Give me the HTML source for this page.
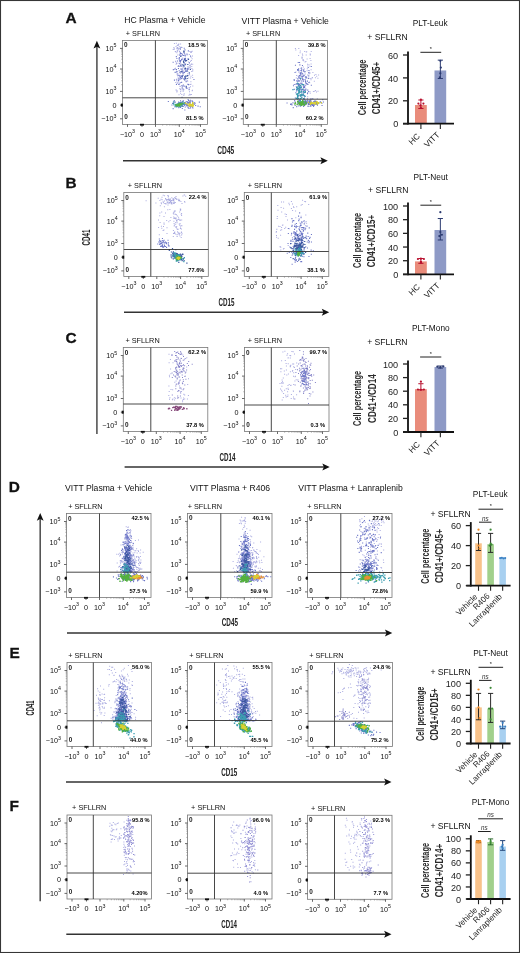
<!DOCTYPE html>
<html><head><meta charset="utf-8"><style>
html,body{margin:0;padding:0;background:#fff;}
svg{display:block;font-family:"Liberation Sans", sans-serif;filter:blur(0.3px);}
</style></head><body>
<svg width="520" height="953" viewBox="0 0 520 953">
<defs><filter id="bl" x="-10%" y="-10%" width="120%" height="120%"><feGaussianBlur stdDeviation="0.35"/></filter></defs>
<rect x="0" y="0" width="520" height="953" fill="#fff"/>
<text x="65.60" y="22.80" font-size="15.4" text-anchor="start" font-weight="bold" fill="#111" stroke="#111" stroke-width="0.3">A</text>
<text x="65.50" y="187.80" font-size="15.4" text-anchor="start" font-weight="bold" fill="#111" stroke="#111" stroke-width="0.3">B</text>
<text x="65.60" y="342.90" font-size="15.4" text-anchor="start" font-weight="bold" fill="#111" stroke="#111" stroke-width="0.3">C</text>
<text x="8.80" y="491.80" font-size="15.4" text-anchor="start" font-weight="bold" fill="#111" stroke="#111" stroke-width="0.3">D</text>
<text x="9.60" y="657.90" font-size="15.4" text-anchor="start" font-weight="bold" fill="#111" stroke="#111" stroke-width="0.3">E</text>
<text x="9.60" y="810.70" font-size="15.4" text-anchor="start" font-weight="bold" fill="#111" stroke="#111" stroke-width="0.3">F</text>
<text x="164.90" y="23.30" font-size="8.65" text-anchor="middle" font-weight="normal" fill="#111" >HC Plasma + Vehicle</text>
<text x="285.20" y="23.50" font-size="8.65" text-anchor="middle" font-weight="normal" fill="#111" >VITT Plasma + Vehicle</text>
<text x="108.65" y="491.40" font-size="8.65" text-anchor="middle" font-weight="normal" fill="#111" >VITT Plasma + Vehicle</text>
<text x="230.00" y="491.40" font-size="8.65" text-anchor="middle" font-weight="normal" fill="#111" >VITT Plasma + R406</text>
<text x="350.50" y="491.40" font-size="8.65" text-anchor="middle" font-weight="normal" fill="#111" >VITT Plasma + Lanraplenib</text>
<g filter="url(#bl)">
<path d="M179.7 51.7h1.0v1.0h-1.0zM176.7 45.1h1.0v1.0h-1.0zM173.8 47.5h1.0v1.0h-1.0zM173.9 43.1h1.0v1.0h-1.0zM177.0 47.8h1.0v1.0h-1.0zM177.9 44.7h1.0v1.0h-1.0zM176.5 47.2h1.0v1.0h-1.0zM172.7 49.0h1.0v1.0h-1.0zM177.3 54.6h1.0v1.0h-1.0zM177.0 47.0h1.0v1.0h-1.0zM179.6 48.0h1.0v1.0h-1.0zM178.8 46.3h1.0v1.0h-1.0zM177.0 50.5h1.0v1.0h-1.0zM178.2 47.8h1.0v1.0h-1.0zM173.8 48.7h1.0v1.0h-1.0zM176.7 49.6h1.0v1.0h-1.0zM177.0 50.7h1.0v1.0h-1.0zM176.4 48.0h1.0v1.0h-1.0zM178.2 44.1h1.0v1.0h-1.0zM175.5 45.9h1.0v1.0h-1.0zM181.5 47.1h1.0v1.0h-1.0zM178.1 49.3h1.0v1.0h-1.0zM175.8 42.7h1.0v1.0h-1.0zM178.9 46.2h1.0v1.0h-1.0zM178.3 43.5h1.0v1.0h-1.0zM175.4 51.2h1.0v1.0h-1.0zM180.1 43.5h1.0v1.0h-1.0zM173.2 47.3h1.0v1.0h-1.0zM178.3 47.9h1.0v1.0h-1.0zM177.3 44.4h1.0v1.0h-1.0zM177.6 75.1h1.0v1.0h-1.0zM187.2 80.8h1.0v1.0h-1.0zM181.2 70.2h1.0v1.0h-1.0zM183.7 85.4h1.0v1.0h-1.0zM183.9 68.1h1.0v1.0h-1.0zM183.3 51.7h1.0v1.0h-1.0zM175.3 82.1h1.0v1.0h-1.0zM192.2 77.1h1.0v1.0h-1.0zM181.6 58.1h1.0v1.0h-1.0zM183.5 94.6h1.0v1.0h-1.0zM188.4 74.7h1.0v1.0h-1.0zM190.0 60.8h1.0v1.0h-1.0zM183.7 93.3h1.0v1.0h-1.0zM184.9 71.1h1.0v1.0h-1.0zM179.3 75.1h1.0v1.0h-1.0zM191.7 50.7h1.0v1.0h-1.0zM188.6 87.3h1.0v1.0h-1.0zM190.5 83.7h1.0v1.0h-1.0zM189.1 73.7h1.0v1.0h-1.0zM184.6 69.6h1.0v1.0h-1.0zM175.5 89.6h1.0v1.0h-1.0zM184.8 59.4h1.0v1.0h-1.0zM183.6 72.2h1.0v1.0h-1.0zM180.9 66.0h1.0v1.0h-1.0zM184.2 78.5h1.0v1.0h-1.0zM185.5 71.0h1.0v1.0h-1.0zM175.0 60.7h1.0v1.0h-1.0zM177.7 76.7h1.0v1.0h-1.0zM190.0 86.3h1.0v1.0h-1.0zM188.8 87.1h1.0v1.0h-1.0zM179.1 88.3h1.0v1.0h-1.0zM186.6 54.1h1.0v1.0h-1.0zM174.8 51.1h1.0v1.0h-1.0zM188.1 61.6h1.0v1.0h-1.0zM176.5 78.5h1.0v1.0h-1.0zM180.7 53.5h1.0v1.0h-1.0zM177.4 74.1h1.0v1.0h-1.0zM177.5 62.7h1.0v1.0h-1.0zM187.3 70.9h1.0v1.0h-1.0zM180.3 71.7h1.0v1.0h-1.0zM174.9 67.8h1.0v1.0h-1.0zM182.1 58.9h1.0v1.0h-1.0zM176.5 90.9h1.0v1.0h-1.0zM183.7 59.8h1.0v1.0h-1.0zM185.4 87.2h1.0v1.0h-1.0zM174.9 51.2h1.0v1.0h-1.0zM177.1 82.7h1.0v1.0h-1.0zM177.4 82.1h1.0v1.0h-1.0zM186.7 74.9h1.0v1.0h-1.0zM178.5 94.3h1.0v1.0h-1.0zM188.9 73.6h1.0v1.0h-1.0zM178.5 79.6h1.0v1.0h-1.0zM181.6 76.3h1.0v1.0h-1.0zM180.3 78.8h1.0v1.0h-1.0zM175.6 63.8h1.0v1.0h-1.0zM191.9 89.8h1.0v1.0h-1.0zM180.0 89.0h1.0v1.0h-1.0zM180.1 92.7h1.0v1.0h-1.0zM187.9 69.1h1.0v1.0h-1.0zM179.0 50.8h1.0v1.0h-1.0zM190.3 52.1h1.0v1.0h-1.0zM189.2 93.7h1.0v1.0h-1.0zM184.8 58.1h1.0v1.0h-1.0zM190.1 94.2h1.0v1.0h-1.0zM187.2 73.3h1.0v1.0h-1.0zM181.3 66.0h1.0v1.0h-1.0zM178.2 80.7h1.0v1.0h-1.0zM182.3 59.1h1.0v1.0h-1.0zM176.4 80.4h1.0v1.0h-1.0zM179.8 72.9h1.0v1.0h-1.0zM180.4 89.6h1.0v1.0h-1.0zM190.7 51.2h1.0v1.0h-1.0zM178.1 65.1h1.0v1.0h-1.0zM192.3 85.6h1.0v1.0h-1.0zM180.6 60.0h1.0v1.0h-1.0zM186.6 88.1h1.0v1.0h-1.0zM191.3 65.9h1.0v1.0h-1.0zM190.4 81.3h1.0v1.0h-1.0zM183.2 94.7h1.0v1.0h-1.0zM178.7 83.0h1.0v1.0h-1.0zM176.0 58.0h1.0v1.0h-1.0zM190.9 60.0h1.0v1.0h-1.0zM188.2 77.4h1.0v1.0h-1.0zM189.6 67.0h1.0v1.0h-1.0zM180.6 63.5h1.0v1.0h-1.0zM190.1 77.6h1.0v1.0h-1.0zM191.7 90.3h1.0v1.0h-1.0zM176.9 75.2h1.0v1.0h-1.0zM176.4 52.2h1.0v1.0h-1.0zM175.8 89.4h1.0v1.0h-1.0zM188.7 87.7h1.0v1.0h-1.0zM180.6 78.1h1.0v1.0h-1.0zM188.6 67.4h1.0v1.0h-1.0zM184.8 60.5h1.0v1.0h-1.0zM176.0 62.4h1.0v1.0h-1.0zM190.5 75.8h1.0v1.0h-1.0zM191.2 71.0h1.0v1.0h-1.0zM179.5 85.8h1.0v1.0h-1.0zM189.4 51.0h1.0v1.0h-1.0zM186.6 54.5h1.0v1.0h-1.0zM176.6 90.2h1.0v1.0h-1.0zM175.2 61.2h1.0v1.0h-1.0zM192.3 69.3h1.0v1.0h-1.0zM176.6 57.9h1.0v1.0h-1.0zM178.8 83.9h1.0v1.0h-1.0zM176.4 91.4h1.0v1.0h-1.0zM181.3 94.1h1.0v1.0h-1.0zM190.9 63.6h1.0v1.0h-1.0zM179.1 71.9h1.0v1.0h-1.0zM176.3 79.7h1.0v1.0h-1.0zM175.2 50.9h1.0v1.0h-1.0zM192.2 63.7h1.0v1.0h-1.0zM185.2 70.6h1.0v1.0h-1.0zM180.1 53.2h1.0v1.0h-1.0zM190.9 94.0h1.0v1.0h-1.0zM192.0 55.4h1.0v1.0h-1.0zM178.4 78.2h1.0v1.0h-1.0zM192.1 74.8h1.0v1.0h-1.0zM186.9 80.2h1.0v1.0h-1.0zM179.2 74.8h1.0v1.0h-1.0zM180.0 61.5h1.0v1.0h-1.0zM176.0 63.0h1.0v1.0h-1.0zM192.2 70.6h1.0v1.0h-1.0zM186.2 79.4h1.0v1.0h-1.0zM191.4 68.0h1.0v1.0h-1.0zM180.0 65.1h1.0v1.0h-1.0zM180.2 88.5h1.0v1.0h-1.0zM190.6 64.0h1.0v1.0h-1.0zM180.5 74.9h1.0v1.0h-1.0zM184.9 77.2h1.0v1.0h-1.0zM178.9 51.3h1.0v1.0h-1.0zM178.9 53.7h1.0v1.0h-1.0zM184.4 53.6h1.0v1.0h-1.0zM175.9 79.0h1.0v1.0h-1.0zM179.7 86.0h1.0v1.0h-1.0zM183.4 89.2h1.0v1.0h-1.0zM177.3 73.0h1.0v1.0h-1.0zM188.8 53.9h1.0v1.0h-1.0zM191.6 58.2h1.0v1.0h-1.0zM188.5 94.7h1.0v1.0h-1.0zM189.3 64.8h1.0v1.0h-1.0zM176.4 73.5h1.0v1.0h-1.0zM191.0 63.6h1.0v1.0h-1.0zM190.6 56.8h1.0v1.0h-1.0zM190.9 51.8h1.0v1.0h-1.0zM180.2 91.0h1.0v1.0h-1.0zM189.0 91.2h1.0v1.0h-1.0zM189.6 84.0h1.0v1.0h-1.0zM186.9 58.4h1.0v1.0h-1.0zM182.3 57.5h1.0v1.0h-1.0z" fill="#a9aae0"/>
<path d="M181.2 53.0h1.1v1.1h-1.1zM182.5 74.8h1.1v1.1h-1.1zM189.6 65.4h1.1v1.1h-1.1zM177.7 65.8h1.1v1.1h-1.1zM185.1 59.8h1.1v1.1h-1.1zM179.6 77.0h1.1v1.1h-1.1zM182.5 73.1h1.1v1.1h-1.1zM180.0 60.5h1.1v1.1h-1.1zM181.2 68.6h1.1v1.1h-1.1zM181.2 75.6h1.1v1.1h-1.1zM184.7 77.0h1.1v1.1h-1.1zM184.4 59.8h1.1v1.1h-1.1zM178.0 80.0h1.1v1.1h-1.1zM182.6 71.9h1.1v1.1h-1.1zM177.9 67.9h1.1v1.1h-1.1zM179.9 60.0h1.1v1.1h-1.1zM180.0 52.5h1.1v1.1h-1.1zM182.8 84.4h1.1v1.1h-1.1zM179.7 71.5h1.1v1.1h-1.1zM178.1 78.5h1.1v1.1h-1.1zM190.0 55.6h1.1v1.1h-1.1zM181.6 87.5h1.1v1.1h-1.1zM184.0 71.8h1.1v1.1h-1.1zM174.3 68.6h1.1v1.1h-1.1zM186.2 87.6h1.1v1.1h-1.1zM185.1 63.4h1.1v1.1h-1.1zM179.8 48.6h1.1v1.1h-1.1zM178.2 83.9h1.1v1.1h-1.1zM182.0 54.3h1.1v1.1h-1.1zM187.8 50.3h1.1v1.1h-1.1zM187.5 66.5h1.1v1.1h-1.1zM183.9 78.6h1.1v1.1h-1.1zM183.5 85.7h1.1v1.1h-1.1zM182.6 66.5h1.1v1.1h-1.1zM179.9 53.1h1.1v1.1h-1.1zM179.7 82.2h1.1v1.1h-1.1zM185.8 87.1h1.1v1.1h-1.1zM193.4 79.0h1.1v1.1h-1.1zM184.5 54.6h1.1v1.1h-1.1zM181.5 96.7h1.1v1.1h-1.1zM184.6 68.7h1.1v1.1h-1.1zM183.7 47.7h1.1v1.1h-1.1zM179.2 54.7h1.1v1.1h-1.1zM173.9 79.6h1.1v1.1h-1.1zM186.4 68.3h1.1v1.1h-1.1zM183.9 58.3h1.1v1.1h-1.1zM184.3 79.6h1.1v1.1h-1.1zM188.6 89.1h1.1v1.1h-1.1zM184.5 68.9h1.1v1.1h-1.1zM179.2 63.1h1.1v1.1h-1.1zM185.0 77.2h1.1v1.1h-1.1zM182.6 90.4h1.1v1.1h-1.1zM185.1 70.6h1.1v1.1h-1.1zM181.7 71.3h1.1v1.1h-1.1zM178.7 58.6h1.1v1.1h-1.1zM183.9 63.4h1.1v1.1h-1.1zM181.4 85.0h1.1v1.1h-1.1zM181.7 86.2h1.1v1.1h-1.1zM182.5 88.6h1.1v1.1h-1.1zM184.4 49.3h1.1v1.1h-1.1zM187.5 67.9h1.1v1.1h-1.1zM174.6 71.8h1.1v1.1h-1.1zM183.1 54.9h1.1v1.1h-1.1zM180.1 77.0h1.1v1.1h-1.1zM188.1 84.1h1.1v1.1h-1.1zM187.4 83.8h1.1v1.1h-1.1zM172.6 61.7h1.1v1.1h-1.1zM185.6 81.1h1.1v1.1h-1.1zM179.4 65.8h1.1v1.1h-1.1zM178.7 70.2h1.1v1.1h-1.1zM182.3 70.3h1.1v1.1h-1.1zM178.4 75.0h1.1v1.1h-1.1zM181.1 81.8h1.1v1.1h-1.1zM183.8 52.6h1.1v1.1h-1.1zM176.7 71.2h1.1v1.1h-1.1zM180.6 76.0h1.1v1.1h-1.1zM185.7 70.6h1.1v1.1h-1.1zM175.8 56.1h1.1v1.1h-1.1zM184.8 57.8h1.1v1.1h-1.1zM186.9 69.3h1.1v1.1h-1.1zM184.6 59.8h1.1v1.1h-1.1zM181.7 77.3h1.1v1.1h-1.1zM178.9 60.3h1.1v1.1h-1.1zM182.3 71.2h1.1v1.1h-1.1zM179.3 78.5h1.1v1.1h-1.1zM175.9 83.8h1.1v1.1h-1.1zM176.9 60.5h1.1v1.1h-1.1zM187.8 58.5h1.1v1.1h-1.1zM175.9 71.3h1.1v1.1h-1.1zM178.8 57.0h1.1v1.1h-1.1zM179.7 61.5h1.1v1.1h-1.1zM178.6 58.1h1.1v1.1h-1.1zM188.9 62.3h1.1v1.1h-1.1zM186.4 53.5h1.1v1.1h-1.1zM184.7 55.4h1.1v1.1h-1.1zM180.7 78.0h1.1v1.1h-1.1zM180.4 46.8h1.1v1.1h-1.1zM180.3 68.5h1.1v1.1h-1.1zM184.8 58.4h1.1v1.1h-1.1zM181.3 71.2h1.1v1.1h-1.1zM175.9 69.1h1.1v1.1h-1.1zM179.2 75.7h1.1v1.1h-1.1zM182.1 68.4h1.1v1.1h-1.1zM172.8 69.1h1.1v1.1h-1.1zM181.0 59.1h1.1v1.1h-1.1zM180.5 55.2h1.1v1.1h-1.1zM183.2 78.3h1.1v1.1h-1.1zM184.9 64.2h1.1v1.1h-1.1zM192.6 103.3h1.1v1.1h-1.1zM178.2 107.1h1.1v1.1h-1.1zM191.3 106.0h1.1v1.1h-1.1zM189.5 105.0h1.1v1.1h-1.1zM178.7 104.0h1.1v1.1h-1.1zM186.6 105.2h1.1v1.1h-1.1zM187.4 101.9h1.1v1.1h-1.1zM180.9 103.2h1.1v1.1h-1.1zM183.3 102.2h1.1v1.1h-1.1zM173.6 101.5h1.1v1.1h-1.1zM186.3 103.9h1.1v1.1h-1.1zM188.0 100.1h1.1v1.1h-1.1zM182.0 105.7h1.1v1.1h-1.1zM172.7 101.7h1.1v1.1h-1.1zM174.5 106.3h1.1v1.1h-1.1zM184.7 102.8h1.1v1.1h-1.1zM185.4 103.7h1.1v1.1h-1.1zM189.9 106.2h1.1v1.1h-1.1zM190.0 104.6h1.1v1.1h-1.1zM189.1 105.5h1.1v1.1h-1.1zM191.5 100.2h1.1v1.1h-1.1zM186.6 104.1h1.1v1.1h-1.1zM185.5 103.4h1.1v1.1h-1.1zM184.1 104.9h1.1v1.1h-1.1zM185.7 104.2h1.1v1.1h-1.1zM178.1 101.4h1.1v1.1h-1.1zM180.0 100.3h1.1v1.1h-1.1zM181.4 102.2h1.1v1.1h-1.1zM173.7 100.0h1.1v1.1h-1.1zM181.7 102.7h1.1v1.1h-1.1zM197.5 105.6h1.1v1.1h-1.1zM179.8 102.9h1.1v1.1h-1.1zM178.4 102.3h1.1v1.1h-1.1zM182.4 103.8h1.1v1.1h-1.1zM180.8 105.5h1.1v1.1h-1.1zM188.4 107.8h1.1v1.1h-1.1zM176.6 105.3h1.1v1.1h-1.1zM182.3 100.7h1.1v1.1h-1.1zM182.7 100.6h1.1v1.1h-1.1zM184.3 109.4h1.1v1.1h-1.1zM192.3 107.5h1.1v1.1h-1.1zM191.7 100.8h1.1v1.1h-1.1zM187.0 104.2h1.1v1.1h-1.1zM187.1 101.8h1.1v1.1h-1.1zM172.6 108.1h1.1v1.1h-1.1zM191.7 104.5h1.1v1.1h-1.1zM181.6 104.3h1.1v1.1h-1.1zM177.1 105.8h1.1v1.1h-1.1zM185.5 103.6h1.1v1.1h-1.1zM181.9 103.8h1.1v1.1h-1.1zM185.3 103.1h1.1v1.1h-1.1zM190.3 104.3h1.1v1.1h-1.1zM183.9 102.2h1.1v1.1h-1.1zM191.8 106.5h1.1v1.1h-1.1zM188.6 100.2h1.1v1.1h-1.1zM182.4 105.9h1.1v1.1h-1.1zM184.7 106.5h1.1v1.1h-1.1zM181.9 105.5h1.1v1.1h-1.1zM187.6 99.0h1.1v1.1h-1.1zM182.1 103.4h1.1v1.1h-1.1zM180.7 102.1h1.1v1.1h-1.1zM194.0 103.7h1.1v1.1h-1.1zM189.2 101.2h1.1v1.1h-1.1zM172.0 103.0h1.1v1.1h-1.1zM186.9 102.5h1.1v1.1h-1.1zM187.7 105.5h1.1v1.1h-1.1zM181.8 103.8h1.1v1.1h-1.1zM180.1 106.1h1.1v1.1h-1.1zM195.1 104.9h1.1v1.1h-1.1zM181.5 102.5h1.1v1.1h-1.1zM182.8 105.7h1.1v1.1h-1.1zM180.0 106.9h1.1v1.1h-1.1zM177.2 103.9h1.1v1.1h-1.1zM192.4 107.5h1.1v1.1h-1.1zM182.1 105.5h1.1v1.1h-1.1zM199.7 106.2h1.1v1.1h-1.1zM171.4 104.5h1.1v1.1h-1.1zM198.8 101.6h1.1v1.1h-1.1zM190.0 99.7h1.1v1.1h-1.1zM194.0 102.2h1.1v1.1h-1.1zM189.3 105.7h1.1v1.1h-1.1zM167.8 101.0h1.1v1.1h-1.1zM186.5 100.9h1.1v1.1h-1.1zM184.4 102.0h1.1v1.1h-1.1zM192.6 102.9h1.1v1.1h-1.1zM179.0 105.2h1.1v1.1h-1.1zM191.8 103.6h1.1v1.1h-1.1zM186.2 104.9h1.1v1.1h-1.1zM181.5 101.5h1.1v1.1h-1.1zM187.7 103.2h1.1v1.1h-1.1zM176.3 105.6h1.1v1.1h-1.1zM187.1 104.2h1.1v1.1h-1.1zM180.0 103.5h1.1v1.1h-1.1zM188.2 104.9h1.1v1.1h-1.1zM179.6 102.1h1.1v1.1h-1.1zM186.6 104.3h1.1v1.1h-1.1zM189.6 101.6h1.1v1.1h-1.1zM190.0 107.4h1.1v1.1h-1.1zM190.2 104.2h1.1v1.1h-1.1zM189.9 101.3h1.1v1.1h-1.1zM181.8 108.0h1.1v1.1h-1.1zM174.7 101.6h1.1v1.1h-1.1zM189.4 102.6h1.1v1.1h-1.1zM181.1 101.7h1.1v1.1h-1.1zM194.6 102.7h1.1v1.1h-1.1zM182.8 100.3h1.1v1.1h-1.1zM189.1 103.9h1.1v1.1h-1.1zM187.5 107.1h1.1v1.1h-1.1zM185.4 101.5h1.1v1.1h-1.1zM178.4 104.1h1.1v1.1h-1.1zM192.4 101.5h1.1v1.1h-1.1zM183.0 103.6h1.1v1.1h-1.1zM188.4 102.1h1.1v1.1h-1.1zM186.4 105.5h1.1v1.1h-1.1zM184.3 103.7h1.1v1.1h-1.1zM188.2 105.1h1.1v1.1h-1.1zM192.1 101.7h1.1v1.1h-1.1zM191.9 103.4h1.1v1.1h-1.1zM177.7 102.8h1.1v1.1h-1.1zM177.1 103.5h1.1v1.1h-1.1z" fill="#6e78c8"/>
<path d="M188.7 72.2h1.2v1.2h-1.2zM182.1 64.3h1.2v1.2h-1.2zM180.4 64.5h1.2v1.2h-1.2zM186.3 75.5h1.2v1.2h-1.2zM183.5 51.1h1.2v1.2h-1.2zM184.1 76.3h1.2v1.2h-1.2zM184.9 75.6h1.2v1.2h-1.2zM186.6 77.9h1.2v1.2h-1.2zM186.0 60.1h1.2v1.2h-1.2zM185.6 85.7h1.2v1.2h-1.2zM183.2 50.6h1.2v1.2h-1.2zM189.8 68.7h1.2v1.2h-1.2zM182.9 60.5h1.2v1.2h-1.2zM180.6 71.0h1.2v1.2h-1.2zM184.9 60.3h1.2v1.2h-1.2zM183.4 62.0h1.2v1.2h-1.2zM187.2 63.9h1.2v1.2h-1.2zM187.9 58.7h1.2v1.2h-1.2zM183.0 61.5h1.2v1.2h-1.2zM183.2 64.7h1.2v1.2h-1.2zM187.1 75.1h1.2v1.2h-1.2zM181.8 75.6h1.2v1.2h-1.2zM184.7 78.1h1.2v1.2h-1.2zM184.1 58.7h1.2v1.2h-1.2zM186.5 70.4h1.2v1.2h-1.2zM183.4 65.6h1.2v1.2h-1.2zM184.8 67.9h1.2v1.2h-1.2zM180.2 55.8h1.2v1.2h-1.2zM184.6 67.5h1.2v1.2h-1.2zM183.2 51.3h1.2v1.2h-1.2z" fill="#3c58a0"/>
<path d="M182.1 101.2h1.3v1.3h-1.3zM176.5 104.8h1.3v1.3h-1.3zM178.7 104.9h1.3v1.3h-1.3zM176.2 103.8h1.3v1.3h-1.3zM173.0 102.9h1.3v1.3h-1.3zM181.3 105.4h1.3v1.3h-1.3zM183.6 103.8h1.3v1.3h-1.3zM177.3 103.4h1.3v1.3h-1.3zM174.7 105.5h1.3v1.3h-1.3zM182.4 102.8h1.3v1.3h-1.3zM184.1 102.3h1.3v1.3h-1.3zM180.9 102.9h1.3v1.3h-1.3zM175.2 104.4h1.3v1.3h-1.3zM176.6 105.3h1.3v1.3h-1.3zM177.3 104.0h1.3v1.3h-1.3zM178.3 104.1h1.3v1.3h-1.3zM177.9 104.9h1.3v1.3h-1.3zM181.0 104.0h1.3v1.3h-1.3zM179.2 106.3h1.3v1.3h-1.3zM177.8 103.4h1.3v1.3h-1.3zM181.4 103.9h1.3v1.3h-1.3zM175.4 103.7h1.3v1.3h-1.3zM178.5 102.7h1.3v1.3h-1.3zM180.0 102.5h1.3v1.3h-1.3zM178.9 102.5h1.3v1.3h-1.3zM183.4 103.6h1.3v1.3h-1.3zM180.6 104.2h1.3v1.3h-1.3zM181.3 103.7h1.3v1.3h-1.3zM181.4 104.0h1.3v1.3h-1.3zM173.4 104.3h1.3v1.3h-1.3zM176.3 105.0h1.3v1.3h-1.3zM180.0 103.5h1.3v1.3h-1.3zM173.2 101.3h1.3v1.3h-1.3zM176.6 103.4h1.3v1.3h-1.3zM176.1 106.3h1.3v1.3h-1.3zM180.6 103.8h1.3v1.3h-1.3zM177.0 103.5h1.3v1.3h-1.3zM178.9 103.4h1.3v1.3h-1.3zM179.3 104.9h1.3v1.3h-1.3zM175.1 104.2h1.3v1.3h-1.3z" fill="#3a9cb0"/>
<path d="M180.2 102.7h1.4v1.4h-1.4zM178.2 103.6h1.4v1.4h-1.4zM176.8 104.8h1.4v1.4h-1.4zM178.0 104.9h1.4v1.4h-1.4zM179.1 103.6h1.4v1.4h-1.4zM178.9 103.6h1.4v1.4h-1.4zM176.0 105.2h1.4v1.4h-1.4zM179.0 104.9h1.4v1.4h-1.4zM175.8 104.8h1.4v1.4h-1.4zM179.7 103.9h1.4v1.4h-1.4zM175.3 104.0h1.4v1.4h-1.4zM177.5 103.7h1.4v1.4h-1.4zM178.6 103.1h1.4v1.4h-1.4zM178.3 103.9h1.4v1.4h-1.4zM180.7 103.8h1.4v1.4h-1.4zM182.0 102.8h1.4v1.4h-1.4zM178.3 105.0h1.4v1.4h-1.4zM176.1 104.5h1.4v1.4h-1.4zM179.1 103.4h1.4v1.4h-1.4zM178.1 105.3h1.4v1.4h-1.4z" fill="#52b03c"/>
<path d="M188.9 104.2h1.4v1.4h-1.4zM191.1 105.0h1.4v1.4h-1.4zM184.8 102.6h1.4v1.4h-1.4zM186.6 103.6h1.4v1.4h-1.4zM191.5 104.6h1.4v1.4h-1.4zM189.3 105.3h1.4v1.4h-1.4zM189.8 104.5h1.4v1.4h-1.4zM188.1 104.6h1.4v1.4h-1.4zM188.2 104.9h1.4v1.4h-1.4zM192.2 105.6h1.4v1.4h-1.4zM188.9 102.9h1.4v1.4h-1.4zM192.1 104.2h1.4v1.4h-1.4zM188.7 102.7h1.4v1.4h-1.4zM192.0 102.1h1.4v1.4h-1.4zM188.8 104.9h1.4v1.4h-1.4zM189.4 104.3h1.4v1.4h-1.4zM191.2 104.4h1.4v1.4h-1.4zM192.6 104.5h1.4v1.4h-1.4zM189.1 102.8h1.4v1.4h-1.4zM189.3 103.3h1.4v1.4h-1.4zM191.0 105.0h1.4v1.4h-1.4zM192.0 103.3h1.4v1.4h-1.4zM190.5 103.9h1.4v1.4h-1.4zM188.8 105.1h1.4v1.4h-1.4zM191.5 104.2h1.4v1.4h-1.4z" fill="#d8d030"/>
</g>
<rect x="122.50" y="40.40" width="85" height="84.0" fill="none" stroke="#777" stroke-width="0.8"/>
<line x1="155.40" y1="40.40" x2="155.40" y2="124.40" stroke="#333" stroke-width="0.9"/>
<line x1="122.50" y1="97.80" x2="207.50" y2="97.80" stroke="#333" stroke-width="0.9"/>
<line x1="120.00" y1="48.40" x2="122.50" y2="48.40" stroke="#444" stroke-width="0.8"/>
<line x1="120.00" y1="69.00" x2="122.50" y2="69.00" stroke="#444" stroke-width="0.8"/>
<line x1="120.00" y1="91.40" x2="122.50" y2="91.40" stroke="#444" stroke-width="0.8"/>
<line x1="120.00" y1="105.10" x2="122.50" y2="105.10" stroke="#444" stroke-width="0.8"/>
<line x1="120.00" y1="118.80" x2="122.50" y2="118.80" stroke="#444" stroke-width="0.8"/>
<line x1="121.20" y1="62.80" x2="122.50" y2="62.80" stroke="#777" stroke-width="0.5"/>
<line x1="121.20" y1="59.17" x2="122.50" y2="59.17" stroke="#777" stroke-width="0.5"/>
<line x1="121.20" y1="56.60" x2="122.50" y2="56.60" stroke="#777" stroke-width="0.5"/>
<line x1="121.20" y1="54.60" x2="122.50" y2="54.60" stroke="#777" stroke-width="0.5"/>
<line x1="121.20" y1="52.97" x2="122.50" y2="52.97" stroke="#777" stroke-width="0.5"/>
<line x1="121.20" y1="51.59" x2="122.50" y2="51.59" stroke="#777" stroke-width="0.5"/>
<line x1="121.20" y1="50.40" x2="122.50" y2="50.40" stroke="#777" stroke-width="0.5"/>
<line x1="121.20" y1="49.34" x2="122.50" y2="49.34" stroke="#777" stroke-width="0.5"/>
<line x1="121.20" y1="84.66" x2="122.50" y2="84.66" stroke="#777" stroke-width="0.5"/>
<line x1="121.20" y1="80.71" x2="122.50" y2="80.71" stroke="#777" stroke-width="0.5"/>
<line x1="121.20" y1="77.91" x2="122.50" y2="77.91" stroke="#777" stroke-width="0.5"/>
<line x1="121.20" y1="75.74" x2="122.50" y2="75.74" stroke="#777" stroke-width="0.5"/>
<line x1="121.20" y1="73.97" x2="122.50" y2="73.97" stroke="#777" stroke-width="0.5"/>
<line x1="121.20" y1="72.47" x2="122.50" y2="72.47" stroke="#777" stroke-width="0.5"/>
<line x1="121.20" y1="71.17" x2="122.50" y2="71.17" stroke="#777" stroke-width="0.5"/>
<line x1="121.20" y1="70.02" x2="122.50" y2="70.02" stroke="#777" stroke-width="0.5"/>
<line x1="127.50" y1="124.40" x2="127.50" y2="126.90" stroke="#444" stroke-width="0.8"/>
<line x1="142.00" y1="124.40" x2="142.00" y2="126.90" stroke="#444" stroke-width="0.8"/>
<line x1="155.50" y1="124.40" x2="155.50" y2="126.90" stroke="#444" stroke-width="0.8"/>
<line x1="179.30" y1="124.40" x2="179.30" y2="126.90" stroke="#444" stroke-width="0.8"/>
<line x1="200.50" y1="124.40" x2="200.50" y2="126.90" stroke="#444" stroke-width="0.8"/>
<line x1="162.66" y1="124.40" x2="162.66" y2="125.70" stroke="#777" stroke-width="0.5"/>
<line x1="166.86" y1="124.40" x2="166.86" y2="125.70" stroke="#777" stroke-width="0.5"/>
<line x1="169.83" y1="124.40" x2="169.83" y2="125.70" stroke="#777" stroke-width="0.5"/>
<line x1="172.14" y1="124.40" x2="172.14" y2="125.70" stroke="#777" stroke-width="0.5"/>
<line x1="174.02" y1="124.40" x2="174.02" y2="125.70" stroke="#777" stroke-width="0.5"/>
<line x1="175.61" y1="124.40" x2="175.61" y2="125.70" stroke="#777" stroke-width="0.5"/>
<line x1="176.99" y1="124.40" x2="176.99" y2="125.70" stroke="#777" stroke-width="0.5"/>
<line x1="178.21" y1="124.40" x2="178.21" y2="125.70" stroke="#777" stroke-width="0.5"/>
<line x1="185.68" y1="124.40" x2="185.68" y2="125.70" stroke="#777" stroke-width="0.5"/>
<line x1="189.41" y1="124.40" x2="189.41" y2="125.70" stroke="#777" stroke-width="0.5"/>
<line x1="192.06" y1="124.40" x2="192.06" y2="125.70" stroke="#777" stroke-width="0.5"/>
<line x1="194.12" y1="124.40" x2="194.12" y2="125.70" stroke="#777" stroke-width="0.5"/>
<line x1="195.80" y1="124.40" x2="195.80" y2="125.70" stroke="#777" stroke-width="0.5"/>
<line x1="197.22" y1="124.40" x2="197.22" y2="125.70" stroke="#777" stroke-width="0.5"/>
<line x1="198.45" y1="124.40" x2="198.45" y2="125.70" stroke="#777" stroke-width="0.5"/>
<line x1="199.53" y1="124.40" x2="199.53" y2="125.70" stroke="#777" stroke-width="0.5"/>
<text x="105.55" y="50.90" font-size="7.2" fill="#111">10<tspan font-size="5.30" dy="-3.5">5</tspan></text>
<text x="105.55" y="71.50" font-size="7.2" fill="#111">10<tspan font-size="5.30" dy="-3.5">4</tspan></text>
<text x="105.55" y="93.90" font-size="7.2" fill="#111">10<tspan font-size="5.30" dy="-3.5">3</tspan></text>
<text x="116.50" y="107.60" font-size="7.2" text-anchor="end" font-weight="normal" fill="#111" >0</text>
<text x="101.34" y="121.30" font-size="7.2" fill="#111">−10<tspan font-size="5.30" dy="-3.5">3</tspan></text>
<text x="119.92" y="136.60" font-size="7.2" fill="#111">−10<tspan font-size="5.30" dy="-3.5">3</tspan></text>
<text x="142.00" y="136.60" font-size="7.2" text-anchor="middle" font-weight="normal" fill="#111" >0</text>
<text x="150.02" y="136.60" font-size="7.2" fill="#111">10<tspan font-size="5.30" dy="-3.5">3</tspan></text>
<text x="173.82" y="136.60" font-size="7.2" fill="#111">10<tspan font-size="5.30" dy="-3.5">4</tspan></text>
<text x="195.02" y="136.60" font-size="7.2" fill="#111">10<tspan font-size="5.30" dy="-3.5">5</tspan></text>
<rect x="120.90" y="103.60" width="2" height="3" fill="#111"/>
<rect x="140.00" y="123.80" width="4" height="1.8" fill="#111"/>
<text x="124.00" y="47.40" font-size="6.4" text-anchor="start" font-weight="bold" fill="#222" >0</text>
<text x="124.20" y="119.40" font-size="6.4" text-anchor="start" font-weight="bold" fill="#222" >0</text>
<text x="205.70" y="47.30" font-size="5.7" text-anchor="end" font-weight="bold" fill="#000" >18.5 %</text>
<text x="203.60" y="120.00" font-size="5.7" text-anchor="end" font-weight="bold" fill="#000" >81.5 %</text>
<text x="125.80" y="35.60" font-size="7.3" text-anchor="start" font-weight="normal" fill="#111" >+ SFLLRN</text>
<g filter="url(#bl)">
<path d="M310.6 69.2h1.0v1.0h-1.0zM295.3 49.4h1.0v1.0h-1.0zM308.5 64.3h1.0v1.0h-1.0zM305.7 54.5h1.0v1.0h-1.0zM304.6 61.4h1.0v1.0h-1.0zM304.2 51.0h1.0v1.0h-1.0zM301.6 56.5h1.0v1.0h-1.0zM306.6 70.3h1.0v1.0h-1.0zM310.4 59.9h1.0v1.0h-1.0zM301.9 53.6h1.0v1.0h-1.0zM294.9 48.0h1.0v1.0h-1.0zM302.2 54.7h1.0v1.0h-1.0zM300.8 67.9h1.0v1.0h-1.0zM303.2 60.3h1.0v1.0h-1.0zM298.3 47.9h1.0v1.0h-1.0zM299.8 50.5h1.0v1.0h-1.0zM303.0 70.4h1.0v1.0h-1.0zM305.8 51.6h1.0v1.0h-1.0zM309.5 65.7h1.0v1.0h-1.0zM306.8 68.3h1.0v1.0h-1.0zM307.3 65.6h1.0v1.0h-1.0zM300.3 70.0h1.0v1.0h-1.0zM310.7 51.1h1.0v1.0h-1.0zM307.1 63.8h1.0v1.0h-1.0zM302.1 59.6h1.0v1.0h-1.0zM302.6 68.7h1.0v1.0h-1.0zM302.8 66.5h1.0v1.0h-1.0zM300.3 67.7h1.0v1.0h-1.0zM309.6 58.0h1.0v1.0h-1.0zM304.0 68.6h1.0v1.0h-1.0zM306.6 58.6h1.0v1.0h-1.0zM298.1 54.9h1.0v1.0h-1.0zM306.2 51.2h1.0v1.0h-1.0zM309.7 53.6h1.0v1.0h-1.0zM309.8 54.5h1.0v1.0h-1.0zM310.6 63.6h1.0v1.0h-1.0zM302.9 59.3h1.0v1.0h-1.0zM305.4 60.9h1.0v1.0h-1.0zM299.6 52.2h1.0v1.0h-1.0zM303.0 68.9h1.0v1.0h-1.0zM309.6 72.5h1.0v1.0h-1.0zM314.2 90.7h1.0v1.0h-1.0zM316.2 75.8h1.0v1.0h-1.0zM312.4 72.0h1.0v1.0h-1.0zM310.3 78.0h1.0v1.0h-1.0zM300.5 94.9h1.0v1.0h-1.0zM297.7 85.0h1.0v1.0h-1.0zM314.9 77.3h1.0v1.0h-1.0zM300.1 95.1h1.0v1.0h-1.0zM305.0 90.5h1.0v1.0h-1.0zM296.0 80.5h1.0v1.0h-1.0zM299.3 89.2h1.0v1.0h-1.0zM297.2 97.1h1.0v1.0h-1.0zM295.9 90.8h1.0v1.0h-1.0zM295.8 77.6h1.0v1.0h-1.0zM314.0 74.8h1.0v1.0h-1.0zM299.5 89.8h1.0v1.0h-1.0zM304.2 71.6h1.0v1.0h-1.0zM318.1 74.6h1.0v1.0h-1.0zM296.1 80.0h1.0v1.0h-1.0zM309.5 91.2h1.0v1.0h-1.0zM297.9 79.8h1.0v1.0h-1.0zM296.0 83.0h1.0v1.0h-1.0zM312.9 91.1h1.0v1.0h-1.0zM316.0 91.6h1.0v1.0h-1.0zM315.1 90.1h1.0v1.0h-1.0zM306.2 76.7h1.0v1.0h-1.0zM310.5 79.3h1.0v1.0h-1.0zM297.6 82.9h1.0v1.0h-1.0zM315.4 74.0h1.0v1.0h-1.0zM308.8 81.4h1.0v1.0h-1.0zM307.1 74.4h1.0v1.0h-1.0zM317.4 77.7h1.0v1.0h-1.0zM309.2 82.2h1.0v1.0h-1.0zM295.7 86.0h1.0v1.0h-1.0zM298.5 72.0h1.0v1.0h-1.0zM296.1 74.9h1.0v1.0h-1.0zM297.5 88.2h1.0v1.0h-1.0zM307.0 97.9h1.0v1.0h-1.0zM316.8 98.2h1.0v1.0h-1.0zM300.6 82.9h1.0v1.0h-1.0zM301.1 87.0h1.0v1.0h-1.0zM309.7 92.8h1.0v1.0h-1.0zM311.6 77.6h1.0v1.0h-1.0zM305.0 85.1h1.0v1.0h-1.0zM295.4 71.4h1.0v1.0h-1.0zM304.7 73.5h1.0v1.0h-1.0zM311.9 77.1h1.0v1.0h-1.0zM297.6 75.5h1.0v1.0h-1.0zM300.6 76.5h1.0v1.0h-1.0zM307.3 83.4h1.0v1.0h-1.0zM302.4 88.4h1.0v1.0h-1.0zM300.2 95.8h1.0v1.0h-1.0zM317.5 90.8h1.0v1.0h-1.0zM305.3 84.7h1.0v1.0h-1.0zM308.7 71.8h1.0v1.0h-1.0zM304.9 85.1h1.0v1.0h-1.0zM299.5 73.0h1.0v1.0h-1.0zM313.8 80.7h1.0v1.0h-1.0zM307.2 96.2h1.0v1.0h-1.0z" fill="#a9aae0"/>
<path d="M298.8 77.6h1.1v1.1h-1.1zM305.1 81.5h1.1v1.1h-1.1zM307.3 84.0h1.1v1.1h-1.1zM304.1 87.0h1.1v1.1h-1.1zM304.5 71.1h1.1v1.1h-1.1zM305.7 83.4h1.1v1.1h-1.1zM297.4 87.9h1.1v1.1h-1.1zM302.7 94.0h1.1v1.1h-1.1zM304.2 85.7h1.1v1.1h-1.1zM294.8 97.5h1.1v1.1h-1.1zM307.2 89.4h1.1v1.1h-1.1zM303.1 93.4h1.1v1.1h-1.1zM297.8 88.7h1.1v1.1h-1.1zM301.4 73.4h1.1v1.1h-1.1zM302.8 85.6h1.1v1.1h-1.1zM308.1 90.9h1.1v1.1h-1.1zM294.9 64.7h1.1v1.1h-1.1zM301.0 80.5h1.1v1.1h-1.1zM297.6 69.3h1.1v1.1h-1.1zM300.5 72.0h1.1v1.1h-1.1zM298.5 90.2h1.1v1.1h-1.1zM302.3 75.6h1.1v1.1h-1.1zM296.8 80.7h1.1v1.1h-1.1zM308.2 77.8h1.1v1.1h-1.1zM308.2 75.3h1.1v1.1h-1.1zM300.5 88.7h1.1v1.1h-1.1zM298.2 82.9h1.1v1.1h-1.1zM295.9 88.4h1.1v1.1h-1.1zM305.9 76.5h1.1v1.1h-1.1zM302.0 78.7h1.1v1.1h-1.1zM292.7 107.1h1.1v1.1h-1.1zM303.8 89.8h1.1v1.1h-1.1zM302.9 84.0h1.1v1.1h-1.1zM310.8 66.0h1.1v1.1h-1.1zM300.0 78.6h1.1v1.1h-1.1zM300.5 88.7h1.1v1.1h-1.1zM298.4 70.4h1.1v1.1h-1.1zM296.8 86.5h1.1v1.1h-1.1zM305.1 89.7h1.1v1.1h-1.1zM307.7 77.7h1.1v1.1h-1.1zM305.3 88.6h1.1v1.1h-1.1zM300.6 75.6h1.1v1.1h-1.1zM304.8 76.3h1.1v1.1h-1.1zM300.1 73.6h1.1v1.1h-1.1zM308.3 81.9h1.1v1.1h-1.1zM299.3 80.2h1.1v1.1h-1.1zM300.4 83.2h1.1v1.1h-1.1zM294.5 71.9h1.1v1.1h-1.1zM303.3 92.1h1.1v1.1h-1.1zM297.2 83.4h1.1v1.1h-1.1zM299.0 61.9h1.1v1.1h-1.1zM300.0 72.6h1.1v1.1h-1.1zM304.8 80.5h1.1v1.1h-1.1zM301.1 69.2h1.1v1.1h-1.1zM301.9 64.9h1.1v1.1h-1.1zM302.2 94.8h1.1v1.1h-1.1zM296.4 90.1h1.1v1.1h-1.1zM306.9 80.6h1.1v1.1h-1.1zM305.8 83.1h1.1v1.1h-1.1zM299.3 64.3h1.1v1.1h-1.1zM297.0 69.0h1.1v1.1h-1.1zM310.8 84.7h1.1v1.1h-1.1zM300.6 70.2h1.1v1.1h-1.1zM308.2 71.9h1.1v1.1h-1.1zM307.2 92.2h1.1v1.1h-1.1zM301.6 76.4h1.1v1.1h-1.1zM301.1 70.5h1.1v1.1h-1.1zM303.9 97.6h1.1v1.1h-1.1zM304.9 91.8h1.1v1.1h-1.1zM298.5 85.2h1.1v1.1h-1.1zM297.2 78.3h1.1v1.1h-1.1zM304.2 105.0h1.1v1.1h-1.1zM301.6 82.7h1.1v1.1h-1.1zM293.7 84.0h1.1v1.1h-1.1zM297.7 69.7h1.1v1.1h-1.1zM295.3 83.7h1.1v1.1h-1.1zM299.7 88.5h1.1v1.1h-1.1zM300.4 82.4h1.1v1.1h-1.1zM307.2 89.6h1.1v1.1h-1.1zM304.4 95.7h1.1v1.1h-1.1zM302.2 73.4h1.1v1.1h-1.1zM298.1 68.3h1.1v1.1h-1.1zM302.7 78.7h1.1v1.1h-1.1zM303.3 89.9h1.1v1.1h-1.1zM298.0 84.1h1.1v1.1h-1.1zM306.4 83.2h1.1v1.1h-1.1zM305.0 80.6h1.1v1.1h-1.1zM297.5 80.3h1.1v1.1h-1.1zM293.7 88.8h1.1v1.1h-1.1zM299.2 94.6h1.1v1.1h-1.1zM296.4 83.5h1.1v1.1h-1.1zM302.7 80.6h1.1v1.1h-1.1zM302.8 75.6h1.1v1.1h-1.1zM297.0 69.6h1.1v1.1h-1.1zM299.0 75.0h1.1v1.1h-1.1zM302.3 79.1h1.1v1.1h-1.1zM298.6 75.7h1.1v1.1h-1.1zM293.6 79.1h1.1v1.1h-1.1zM303.0 70.3h1.1v1.1h-1.1zM300.3 88.5h1.1v1.1h-1.1zM298.5 84.1h1.1v1.1h-1.1zM299.6 104.7h1.1v1.1h-1.1zM306.9 93.2h1.1v1.1h-1.1zM298.5 88.3h1.1v1.1h-1.1zM300.6 85.7h1.1v1.1h-1.1zM299.0 83.8h1.1v1.1h-1.1zM298.2 85.1h1.1v1.1h-1.1zM308.4 69.9h1.1v1.1h-1.1zM296.0 87.0h1.1v1.1h-1.1zM304.5 79.0h1.1v1.1h-1.1zM303.7 86.3h1.1v1.1h-1.1zM303.5 95.0h1.1v1.1h-1.1zM298.7 88.4h1.1v1.1h-1.1zM302.1 76.1h1.1v1.1h-1.1zM303.3 70.5h1.1v1.1h-1.1zM295.3 92.2h1.1v1.1h-1.1zM296.8 97.9h1.1v1.1h-1.1zM305.5 77.6h1.1v1.1h-1.1zM297.7 62.0h1.1v1.1h-1.1zM301.0 67.4h1.1v1.1h-1.1zM307.7 67.0h1.1v1.1h-1.1zM301.5 57.4h1.1v1.1h-1.1zM299.9 94.5h1.1v1.1h-1.1zM299.5 74.8h1.1v1.1h-1.1zM299.3 85.8h1.1v1.1h-1.1zM304.9 80.2h1.1v1.1h-1.1zM292.9 85.2h1.1v1.1h-1.1zM305.3 103.5h1.1v1.1h-1.1zM302.0 83.9h1.1v1.1h-1.1zM299.1 89.2h1.1v1.1h-1.1zM308.5 73.2h1.1v1.1h-1.1zM301.6 72.8h1.1v1.1h-1.1zM298.5 80.6h1.1v1.1h-1.1zM303.3 74.7h1.1v1.1h-1.1zM300.1 94.9h1.1v1.1h-1.1zM303.3 88.8h1.1v1.1h-1.1zM302.9 80.6h1.1v1.1h-1.1zM303.0 87.1h1.1v1.1h-1.1zM301.3 91.8h1.1v1.1h-1.1zM301.3 90.6h1.1v1.1h-1.1zM301.4 89.1h1.1v1.1h-1.1zM298.5 77.2h1.1v1.1h-1.1zM296.5 93.4h1.1v1.1h-1.1zM303.4 84.3h1.1v1.1h-1.1zM303.8 74.7h1.1v1.1h-1.1zM301.7 77.7h1.1v1.1h-1.1zM293.7 79.9h1.1v1.1h-1.1zM297.7 95.5h1.1v1.1h-1.1zM298.2 76.6h1.1v1.1h-1.1zM305.3 82.3h1.1v1.1h-1.1zM310.1 104.5h1.1v1.1h-1.1zM301.9 101.6h1.1v1.1h-1.1zM311.9 104.8h1.1v1.1h-1.1zM310.5 101.3h1.1v1.1h-1.1zM299.6 100.5h1.1v1.1h-1.1zM315.2 100.4h1.1v1.1h-1.1zM305.6 103.7h1.1v1.1h-1.1zM310.4 101.0h1.1v1.1h-1.1zM321.4 102.7h1.1v1.1h-1.1zM309.3 104.0h1.1v1.1h-1.1zM305.0 103.8h1.1v1.1h-1.1zM306.3 100.6h1.1v1.1h-1.1zM300.5 103.2h1.1v1.1h-1.1zM308.0 102.1h1.1v1.1h-1.1zM304.0 101.9h1.1v1.1h-1.1zM312.9 104.6h1.1v1.1h-1.1zM305.5 102.9h1.1v1.1h-1.1zM294.1 100.1h1.1v1.1h-1.1zM302.3 100.6h1.1v1.1h-1.1zM312.2 98.2h1.1v1.1h-1.1zM310.7 103.8h1.1v1.1h-1.1zM322.9 101.4h1.1v1.1h-1.1zM310.5 105.4h1.1v1.1h-1.1zM313.9 100.5h1.1v1.1h-1.1zM304.8 100.1h1.1v1.1h-1.1zM307.8 103.8h1.1v1.1h-1.1zM316.9 103.5h1.1v1.1h-1.1zM313.6 104.5h1.1v1.1h-1.1zM301.5 103.8h1.1v1.1h-1.1zM314.2 102.0h1.1v1.1h-1.1zM300.5 102.7h1.1v1.1h-1.1zM308.4 103.8h1.1v1.1h-1.1zM294.7 101.6h1.1v1.1h-1.1zM321.5 105.0h1.1v1.1h-1.1zM306.2 101.8h1.1v1.1h-1.1zM305.4 100.4h1.1v1.1h-1.1zM304.1 102.3h1.1v1.1h-1.1zM298.8 102.2h1.1v1.1h-1.1zM309.2 99.8h1.1v1.1h-1.1zM304.1 99.3h1.1v1.1h-1.1zM307.6 102.8h1.1v1.1h-1.1zM303.6 102.5h1.1v1.1h-1.1zM311.2 103.8h1.1v1.1h-1.1zM297.9 101.8h1.1v1.1h-1.1zM297.2 98.6h1.1v1.1h-1.1zM314.5 103.9h1.1v1.1h-1.1zM316.2 103.9h1.1v1.1h-1.1zM303.7 102.8h1.1v1.1h-1.1zM303.5 105.1h1.1v1.1h-1.1zM290.7 103.2h1.1v1.1h-1.1zM303.4 103.8h1.1v1.1h-1.1zM315.7 101.1h1.1v1.1h-1.1zM316.9 104.6h1.1v1.1h-1.1zM296.2 106.1h1.1v1.1h-1.1zM299.0 99.7h1.1v1.1h-1.1zM313.9 100.9h1.1v1.1h-1.1zM308.9 102.3h1.1v1.1h-1.1zM300.1 105.6h1.1v1.1h-1.1zM317.7 102.6h1.1v1.1h-1.1zM318.4 102.4h1.1v1.1h-1.1zM309.1 101.8h1.1v1.1h-1.1zM298.0 101.7h1.1v1.1h-1.1zM300.6 103.2h1.1v1.1h-1.1zM308.4 101.2h1.1v1.1h-1.1zM316.3 103.1h1.1v1.1h-1.1zM320.1 101.6h1.1v1.1h-1.1zM304.6 100.9h1.1v1.1h-1.1zM309.0 102.1h1.1v1.1h-1.1zM307.6 105.9h1.1v1.1h-1.1zM312.9 101.2h1.1v1.1h-1.1zM310.2 101.9h1.1v1.1h-1.1zM305.2 102.0h1.1v1.1h-1.1zM307.8 103.7h1.1v1.1h-1.1zM314.4 102.5h1.1v1.1h-1.1zM301.6 102.4h1.1v1.1h-1.1zM306.0 101.9h1.1v1.1h-1.1zM298.8 102.1h1.1v1.1h-1.1zM294.6 104.9h1.1v1.1h-1.1zM312.5 103.9h1.1v1.1h-1.1zM300.8 102.9h1.1v1.1h-1.1zM316.3 102.0h1.1v1.1h-1.1zM299.8 102.2h1.1v1.1h-1.1zM291.4 104.3h1.1v1.1h-1.1zM310.4 99.6h1.1v1.1h-1.1zM312.2 104.7h1.1v1.1h-1.1zM311.8 103.7h1.1v1.1h-1.1zM318.1 102.9h1.1v1.1h-1.1zM317.2 102.0h1.1v1.1h-1.1zM302.5 101.8h1.1v1.1h-1.1zM300.0 103.2h1.1v1.1h-1.1zM302.4 103.1h1.1v1.1h-1.1zM309.5 105.7h1.1v1.1h-1.1zM319.7 101.3h1.1v1.1h-1.1zM306.1 102.1h1.1v1.1h-1.1zM303.0 106.0h1.1v1.1h-1.1zM316.0 102.0h1.1v1.1h-1.1zM297.6 101.1h1.1v1.1h-1.1zM307.5 105.6h1.1v1.1h-1.1zM298.3 105.3h1.1v1.1h-1.1zM297.3 103.1h1.1v1.1h-1.1zM299.2 101.5h1.1v1.1h-1.1zM290.6 103.6h1.1v1.1h-1.1zM307.5 100.3h1.1v1.1h-1.1zM292.4 102.3h1.1v1.1h-1.1zM307.1 99.5h1.1v1.1h-1.1zM310.7 102.1h1.1v1.1h-1.1zM299.3 100.8h1.1v1.1h-1.1zM290.0 103.8h1.1v1.1h-1.1zM314.1 102.0h1.1v1.1h-1.1zM298.4 100.1h1.1v1.1h-1.1zM305.1 100.6h1.1v1.1h-1.1zM309.2 100.6h1.1v1.1h-1.1zM313.5 104.8h1.1v1.1h-1.1zM303.1 100.7h1.1v1.1h-1.1zM286.5 102.4h1.1v1.1h-1.1zM309.9 100.5h1.1v1.1h-1.1zM315.0 101.0h1.1v1.1h-1.1zM298.9 104.0h1.1v1.1h-1.1zM310.4 98.2h1.1v1.1h-1.1zM302.3 99.8h1.1v1.1h-1.1zM305.7 102.7h1.1v1.1h-1.1zM304.0 102.7h1.1v1.1h-1.1zM313.5 101.7h1.1v1.1h-1.1zM298.3 100.4h1.1v1.1h-1.1zM313.0 105.8h1.1v1.1h-1.1zM306.0 103.1h1.1v1.1h-1.1zM301.5 101.2h1.1v1.1h-1.1zM313.9 101.3h1.1v1.1h-1.1zM308.4 102.6h1.1v1.1h-1.1zM315.3 102.8h1.1v1.1h-1.1zM306.8 101.8h1.1v1.1h-1.1zM303.5 104.4h1.1v1.1h-1.1zM322.2 99.2h1.1v1.1h-1.1zM314.4 100.4h1.1v1.1h-1.1zM302.9 101.8h1.1v1.1h-1.1zM304.1 101.6h1.1v1.1h-1.1zM303.0 106.0h1.1v1.1h-1.1zM297.0 101.1h1.1v1.1h-1.1zM301.8 102.7h1.1v1.1h-1.1zM298.2 102.3h1.1v1.1h-1.1z" fill="#6e78c8"/>
<path d="M295.9 93.5h1.3v1.3h-1.3zM297.4 101.1h1.3v1.3h-1.3zM296.6 88.6h1.3v1.3h-1.3zM292.3 88.9h1.3v1.3h-1.3zM304.1 91.7h1.3v1.3h-1.3zM296.8 93.9h1.3v1.3h-1.3zM298.5 92.2h1.3v1.3h-1.3zM305.7 102.7h1.3v1.3h-1.3zM303.4 100.9h1.3v1.3h-1.3zM296.9 82.4h1.3v1.3h-1.3zM301.2 94.4h1.3v1.3h-1.3zM299.4 91.8h1.3v1.3h-1.3zM301.1 95.3h1.3v1.3h-1.3zM300.0 94.9h1.3v1.3h-1.3zM298.8 90.5h1.3v1.3h-1.3zM302.9 91.1h1.3v1.3h-1.3zM304.4 95.7h1.3v1.3h-1.3zM299.5 98.1h1.3v1.3h-1.3zM298.0 91.4h1.3v1.3h-1.3zM298.4 92.4h1.3v1.3h-1.3zM301.0 103.0h1.3v1.3h-1.3zM300.6 86.9h1.3v1.3h-1.3zM297.2 83.1h1.3v1.3h-1.3zM301.2 96.9h1.3v1.3h-1.3zM300.1 94.2h1.3v1.3h-1.3zM300.6 94.6h1.3v1.3h-1.3zM300.9 93.5h1.3v1.3h-1.3zM296.8 97.2h1.3v1.3h-1.3zM302.7 84.0h1.3v1.3h-1.3zM298.7 86.6h1.3v1.3h-1.3zM300.6 90.9h1.3v1.3h-1.3zM302.9 98.1h1.3v1.3h-1.3zM298.1 89.9h1.3v1.3h-1.3zM297.8 95.3h1.3v1.3h-1.3zM296.9 94.6h1.3v1.3h-1.3zM295.7 97.7h1.3v1.3h-1.3zM300.5 86.4h1.3v1.3h-1.3zM297.3 93.1h1.3v1.3h-1.3zM300.0 77.7h1.3v1.3h-1.3zM299.8 100.1h1.3v1.3h-1.3zM298.1 85.4h1.3v1.3h-1.3zM302.4 93.6h1.3v1.3h-1.3zM299.8 95.5h1.3v1.3h-1.3zM296.1 88.9h1.3v1.3h-1.3zM296.4 86.6h1.3v1.3h-1.3zM298.5 87.0h1.3v1.3h-1.3zM303.4 94.9h1.3v1.3h-1.3zM301.4 83.9h1.3v1.3h-1.3zM298.7 91.6h1.3v1.3h-1.3zM299.7 94.7h1.3v1.3h-1.3zM297.2 87.7h1.3v1.3h-1.3zM301.7 103.9h1.3v1.3h-1.3zM304.6 90.9h1.3v1.3h-1.3zM297.3 93.3h1.3v1.3h-1.3zM300.5 101.4h1.3v1.3h-1.3zM298.7 88.6h1.3v1.3h-1.3zM302.0 88.7h1.3v1.3h-1.3zM297.1 95.1h1.3v1.3h-1.3zM298.8 87.0h1.3v1.3h-1.3zM298.6 90.3h1.3v1.3h-1.3zM298.7 88.6h1.3v1.3h-1.3zM300.8 90.5h1.3v1.3h-1.3zM297.7 97.8h1.3v1.3h-1.3zM296.9 96.2h1.3v1.3h-1.3zM300.8 90.9h1.3v1.3h-1.3zM299.8 84.8h1.3v1.3h-1.3zM299.9 87.1h1.3v1.3h-1.3zM297.1 93.7h1.3v1.3h-1.3zM297.4 93.0h1.3v1.3h-1.3zM300.3 97.7h1.3v1.3h-1.3z" fill="#3a9cb0"/>
<path d="M300.6 104.7h1.4v1.4h-1.4zM301.9 102.3h1.4v1.4h-1.4zM300.5 104.6h1.4v1.4h-1.4zM300.0 101.6h1.4v1.4h-1.4zM298.7 101.9h1.4v1.4h-1.4zM302.5 101.2h1.4v1.4h-1.4zM298.8 102.4h1.4v1.4h-1.4zM298.0 103.2h1.4v1.4h-1.4zM299.3 103.0h1.4v1.4h-1.4zM301.5 104.2h1.4v1.4h-1.4zM304.6 101.3h1.4v1.4h-1.4zM297.0 101.0h1.4v1.4h-1.4zM301.4 103.0h1.4v1.4h-1.4zM300.3 102.3h1.4v1.4h-1.4zM304.1 103.4h1.4v1.4h-1.4zM300.8 103.1h1.4v1.4h-1.4zM296.5 103.8h1.4v1.4h-1.4zM305.4 102.6h1.4v1.4h-1.4zM299.2 103.9h1.4v1.4h-1.4zM299.0 102.5h1.4v1.4h-1.4zM301.8 102.2h1.4v1.4h-1.4zM302.0 100.1h1.4v1.4h-1.4zM294.2 103.3h1.4v1.4h-1.4zM301.6 102.7h1.4v1.4h-1.4zM299.3 102.4h1.4v1.4h-1.4zM301.4 101.0h1.4v1.4h-1.4zM300.9 101.5h1.4v1.4h-1.4zM305.5 102.8h1.4v1.4h-1.4zM301.0 103.6h1.4v1.4h-1.4zM302.6 103.5h1.4v1.4h-1.4zM298.7 102.6h1.4v1.4h-1.4zM302.5 102.7h1.4v1.4h-1.4zM300.6 101.7h1.4v1.4h-1.4zM300.8 104.1h1.4v1.4h-1.4zM297.3 100.8h1.4v1.4h-1.4zM297.3 100.6h1.4v1.4h-1.4zM303.5 104.6h1.4v1.4h-1.4zM301.5 102.5h1.4v1.4h-1.4zM303.7 103.7h1.4v1.4h-1.4zM294.7 102.3h1.4v1.4h-1.4z" fill="#52b03c"/>
<path d="M320.6 102.1h1.4v1.4h-1.4zM311.2 101.9h1.4v1.4h-1.4zM318.0 102.1h1.4v1.4h-1.4zM314.6 103.4h1.4v1.4h-1.4zM313.9 102.4h1.4v1.4h-1.4zM310.2 101.4h1.4v1.4h-1.4zM316.5 101.4h1.4v1.4h-1.4zM316.5 103.4h1.4v1.4h-1.4zM317.8 102.3h1.4v1.4h-1.4zM310.8 102.5h1.4v1.4h-1.4zM317.2 102.8h1.4v1.4h-1.4zM314.7 102.3h1.4v1.4h-1.4zM316.1 100.9h1.4v1.4h-1.4zM309.8 103.6h1.4v1.4h-1.4zM314.7 103.0h1.4v1.4h-1.4zM307.7 101.7h1.4v1.4h-1.4zM312.0 102.3h1.4v1.4h-1.4zM316.8 102.0h1.4v1.4h-1.4zM313.7 101.8h1.4v1.4h-1.4zM312.6 102.7h1.4v1.4h-1.4zM314.5 103.2h1.4v1.4h-1.4zM309.6 103.0h1.4v1.4h-1.4zM314.7 101.8h1.4v1.4h-1.4zM317.2 101.9h1.4v1.4h-1.4zM312.2 102.8h1.4v1.4h-1.4z" fill="#d8d030"/>
</g>
<rect x="243.30" y="40.40" width="84.1" height="84.0" fill="none" stroke="#777" stroke-width="0.8"/>
<line x1="276.30" y1="40.40" x2="276.30" y2="124.40" stroke="#333" stroke-width="0.9"/>
<line x1="243.30" y1="99.20" x2="327.40" y2="99.20" stroke="#333" stroke-width="0.9"/>
<line x1="240.80" y1="48.40" x2="243.30" y2="48.40" stroke="#444" stroke-width="0.8"/>
<line x1="240.80" y1="69.00" x2="243.30" y2="69.00" stroke="#444" stroke-width="0.8"/>
<line x1="240.80" y1="91.40" x2="243.30" y2="91.40" stroke="#444" stroke-width="0.8"/>
<line x1="240.80" y1="105.10" x2="243.30" y2="105.10" stroke="#444" stroke-width="0.8"/>
<line x1="240.80" y1="118.80" x2="243.30" y2="118.80" stroke="#444" stroke-width="0.8"/>
<line x1="242.00" y1="62.80" x2="243.30" y2="62.80" stroke="#777" stroke-width="0.5"/>
<line x1="242.00" y1="59.17" x2="243.30" y2="59.17" stroke="#777" stroke-width="0.5"/>
<line x1="242.00" y1="56.60" x2="243.30" y2="56.60" stroke="#777" stroke-width="0.5"/>
<line x1="242.00" y1="54.60" x2="243.30" y2="54.60" stroke="#777" stroke-width="0.5"/>
<line x1="242.00" y1="52.97" x2="243.30" y2="52.97" stroke="#777" stroke-width="0.5"/>
<line x1="242.00" y1="51.59" x2="243.30" y2="51.59" stroke="#777" stroke-width="0.5"/>
<line x1="242.00" y1="50.40" x2="243.30" y2="50.40" stroke="#777" stroke-width="0.5"/>
<line x1="242.00" y1="49.34" x2="243.30" y2="49.34" stroke="#777" stroke-width="0.5"/>
<line x1="242.00" y1="84.66" x2="243.30" y2="84.66" stroke="#777" stroke-width="0.5"/>
<line x1="242.00" y1="80.71" x2="243.30" y2="80.71" stroke="#777" stroke-width="0.5"/>
<line x1="242.00" y1="77.91" x2="243.30" y2="77.91" stroke="#777" stroke-width="0.5"/>
<line x1="242.00" y1="75.74" x2="243.30" y2="75.74" stroke="#777" stroke-width="0.5"/>
<line x1="242.00" y1="73.97" x2="243.30" y2="73.97" stroke="#777" stroke-width="0.5"/>
<line x1="242.00" y1="72.47" x2="243.30" y2="72.47" stroke="#777" stroke-width="0.5"/>
<line x1="242.00" y1="71.17" x2="243.30" y2="71.17" stroke="#777" stroke-width="0.5"/>
<line x1="242.00" y1="70.02" x2="243.30" y2="70.02" stroke="#777" stroke-width="0.5"/>
<line x1="248.30" y1="124.40" x2="248.30" y2="126.90" stroke="#444" stroke-width="0.8"/>
<line x1="262.80" y1="124.40" x2="262.80" y2="126.90" stroke="#444" stroke-width="0.8"/>
<line x1="276.30" y1="124.40" x2="276.30" y2="126.90" stroke="#444" stroke-width="0.8"/>
<line x1="300.10" y1="124.40" x2="300.10" y2="126.90" stroke="#444" stroke-width="0.8"/>
<line x1="321.30" y1="124.40" x2="321.30" y2="126.90" stroke="#444" stroke-width="0.8"/>
<line x1="283.46" y1="124.40" x2="283.46" y2="125.70" stroke="#777" stroke-width="0.5"/>
<line x1="287.66" y1="124.40" x2="287.66" y2="125.70" stroke="#777" stroke-width="0.5"/>
<line x1="290.63" y1="124.40" x2="290.63" y2="125.70" stroke="#777" stroke-width="0.5"/>
<line x1="292.94" y1="124.40" x2="292.94" y2="125.70" stroke="#777" stroke-width="0.5"/>
<line x1="294.82" y1="124.40" x2="294.82" y2="125.70" stroke="#777" stroke-width="0.5"/>
<line x1="296.41" y1="124.40" x2="296.41" y2="125.70" stroke="#777" stroke-width="0.5"/>
<line x1="297.79" y1="124.40" x2="297.79" y2="125.70" stroke="#777" stroke-width="0.5"/>
<line x1="299.01" y1="124.40" x2="299.01" y2="125.70" stroke="#777" stroke-width="0.5"/>
<line x1="306.48" y1="124.40" x2="306.48" y2="125.70" stroke="#777" stroke-width="0.5"/>
<line x1="310.21" y1="124.40" x2="310.21" y2="125.70" stroke="#777" stroke-width="0.5"/>
<line x1="312.86" y1="124.40" x2="312.86" y2="125.70" stroke="#777" stroke-width="0.5"/>
<line x1="314.92" y1="124.40" x2="314.92" y2="125.70" stroke="#777" stroke-width="0.5"/>
<line x1="316.60" y1="124.40" x2="316.60" y2="125.70" stroke="#777" stroke-width="0.5"/>
<line x1="318.02" y1="124.40" x2="318.02" y2="125.70" stroke="#777" stroke-width="0.5"/>
<line x1="319.25" y1="124.40" x2="319.25" y2="125.70" stroke="#777" stroke-width="0.5"/>
<line x1="320.33" y1="124.40" x2="320.33" y2="125.70" stroke="#777" stroke-width="0.5"/>
<text x="226.35" y="50.90" font-size="7.2" fill="#111">10<tspan font-size="5.30" dy="-3.5">5</tspan></text>
<text x="226.35" y="71.50" font-size="7.2" fill="#111">10<tspan font-size="5.30" dy="-3.5">4</tspan></text>
<text x="226.35" y="93.90" font-size="7.2" fill="#111">10<tspan font-size="5.30" dy="-3.5">3</tspan></text>
<text x="237.30" y="107.60" font-size="7.2" text-anchor="end" font-weight="normal" fill="#111" >0</text>
<text x="222.14" y="121.30" font-size="7.2" fill="#111">−10<tspan font-size="5.30" dy="-3.5">3</tspan></text>
<text x="240.72" y="136.60" font-size="7.2" fill="#111">−10<tspan font-size="5.30" dy="-3.5">3</tspan></text>
<text x="262.80" y="136.60" font-size="7.2" text-anchor="middle" font-weight="normal" fill="#111" >0</text>
<text x="270.82" y="136.60" font-size="7.2" fill="#111">10<tspan font-size="5.30" dy="-3.5">3</tspan></text>
<text x="294.62" y="136.60" font-size="7.2" fill="#111">10<tspan font-size="5.30" dy="-3.5">4</tspan></text>
<text x="315.82" y="136.60" font-size="7.2" fill="#111">10<tspan font-size="5.30" dy="-3.5">5</tspan></text>
<rect x="241.70" y="103.60" width="2" height="3" fill="#111"/>
<rect x="260.80" y="123.80" width="4" height="1.8" fill="#111"/>
<text x="244.80" y="47.40" font-size="6.4" text-anchor="start" font-weight="bold" fill="#222" >0</text>
<text x="245.00" y="119.40" font-size="6.4" text-anchor="start" font-weight="bold" fill="#222" >0</text>
<text x="325.60" y="47.30" font-size="5.7" text-anchor="end" font-weight="bold" fill="#000" >39.8 %</text>
<text x="323.50" y="120.00" font-size="5.7" text-anchor="end" font-weight="bold" fill="#000" >60.2 %</text>
<text x="245.90" y="35.60" font-size="7.3" text-anchor="start" font-weight="normal" fill="#111" >+ SFLLRN</text>
<g filter="url(#bl)">
<path d="M171.5 203.6h1.0v1.0h-1.0zM164.3 203.0h1.0v1.0h-1.0zM169.0 199.8h1.0v1.0h-1.0zM184.1 200.9h1.0v1.0h-1.0zM170.5 202.3h1.0v1.0h-1.0zM178.7 200.4h1.0v1.0h-1.0zM174.9 198.1h1.0v1.0h-1.0zM168.2 199.4h1.0v1.0h-1.0zM161.5 196.7h1.0v1.0h-1.0zM159.4 199.9h1.0v1.0h-1.0zM169.6 199.7h1.0v1.0h-1.0zM171.3 197.2h1.0v1.0h-1.0zM170.2 201.1h1.0v1.0h-1.0zM176.1 198.4h1.0v1.0h-1.0zM168.0 195.5h1.0v1.0h-1.0zM167.3 195.0h1.0v1.0h-1.0zM160.9 203.3h1.0v1.0h-1.0zM155.4 202.5h1.0v1.0h-1.0zM173.1 199.7h1.0v1.0h-1.0zM174.0 201.8h1.0v1.0h-1.0zM178.1 199.9h1.0v1.0h-1.0zM166.7 199.0h1.0v1.0h-1.0zM163.9 200.4h1.0v1.0h-1.0zM165.3 203.2h1.0v1.0h-1.0zM157.7 197.8h1.0v1.0h-1.0zM164.1 195.3h1.0v1.0h-1.0zM184.1 194.5h1.0v1.0h-1.0zM168.8 199.2h1.0v1.0h-1.0zM182.4 195.5h1.0v1.0h-1.0zM178.3 198.7h1.0v1.0h-1.0zM169.7 198.8h1.0v1.0h-1.0zM175.3 197.7h1.0v1.0h-1.0zM170.2 201.4h1.0v1.0h-1.0zM183.7 194.5h1.0v1.0h-1.0zM181.5 202.9h1.0v1.0h-1.0zM167.4 201.3h1.0v1.0h-1.0zM167.5 204.6h1.0v1.0h-1.0zM172.3 200.0h1.0v1.0h-1.0zM169.2 200.0h1.0v1.0h-1.0zM169.6 198.3h1.0v1.0h-1.0zM185.2 195.7h1.0v1.0h-1.0zM145.6 200.2h1.0v1.0h-1.0zM169.8 201.4h1.0v1.0h-1.0zM169.4 200.1h1.0v1.0h-1.0zM173.1 202.9h1.0v1.0h-1.0zM167.7 199.6h1.0v1.0h-1.0zM184.4 201.8h1.0v1.0h-1.0zM163.9 206.3h1.0v1.0h-1.0zM176.2 199.0h1.0v1.0h-1.0zM162.6 201.2h1.0v1.0h-1.0zM165.0 197.9h1.0v1.0h-1.0zM161.7 199.2h1.0v1.0h-1.0zM178.6 199.4h1.0v1.0h-1.0zM160.7 202.2h1.0v1.0h-1.0zM171.3 202.6h1.0v1.0h-1.0zM179.2 200.1h1.0v1.0h-1.0zM169.8 200.4h1.0v1.0h-1.0zM162.9 202.2h1.0v1.0h-1.0zM180.4 200.9h1.0v1.0h-1.0zM169.1 199.9h1.0v1.0h-1.0zM165.3 198.5h1.0v1.0h-1.0zM168.0 198.4h1.0v1.0h-1.0zM167.7 196.6h1.0v1.0h-1.0zM173.3 200.6h1.0v1.0h-1.0zM162.7 194.8h1.0v1.0h-1.0zM170.7 203.3h1.0v1.0h-1.0zM165.7 199.3h1.0v1.0h-1.0zM166.8 202.1h1.0v1.0h-1.0zM164.4 203.0h1.0v1.0h-1.0zM168.7 202.8h1.0v1.0h-1.0zM171.0 199.9h1.0v1.0h-1.0zM160.5 198.8h1.0v1.0h-1.0zM169.0 202.1h1.0v1.0h-1.0zM172.5 198.8h1.0v1.0h-1.0zM173.7 203.0h1.0v1.0h-1.0zM169.8 199.4h1.0v1.0h-1.0zM168.0 202.5h1.0v1.0h-1.0zM174.6 198.2h1.0v1.0h-1.0zM173.4 199.3h1.0v1.0h-1.0zM165.5 203.6h1.0v1.0h-1.0zM176.5 198.7h1.0v1.0h-1.0zM171.4 201.8h1.0v1.0h-1.0zM166.3 200.2h1.0v1.0h-1.0zM175.5 196.0h1.0v1.0h-1.0zM173.1 202.3h1.0v1.0h-1.0zM174.3 197.1h1.0v1.0h-1.0zM173.0 198.3h1.0v1.0h-1.0zM174.8 202.0h1.0v1.0h-1.0zM172.3 198.6h1.0v1.0h-1.0zM166.7 202.6h1.0v1.0h-1.0zM176.6 220.4h1.0v1.0h-1.0zM181.1 213.0h1.0v1.0h-1.0zM172.8 235.9h1.0v1.0h-1.0zM180.7 237.1h1.0v1.0h-1.0zM176.7 236.1h1.0v1.0h-1.0zM181.1 214.9h1.0v1.0h-1.0zM179.5 232.8h1.0v1.0h-1.0zM178.8 223.6h1.0v1.0h-1.0zM175.4 218.4h1.0v1.0h-1.0zM174.8 210.5h1.0v1.0h-1.0zM178.1 216.8h1.0v1.0h-1.0zM180.1 209.8h1.0v1.0h-1.0zM180.9 228.6h1.0v1.0h-1.0zM181.1 234.5h1.0v1.0h-1.0zM180.9 225.2h1.0v1.0h-1.0zM172.9 230.1h1.0v1.0h-1.0zM174.3 217.2h1.0v1.0h-1.0zM178.8 223.7h1.0v1.0h-1.0zM176.5 235.7h1.0v1.0h-1.0zM178.3 218.4h1.0v1.0h-1.0zM175.1 233.5h1.0v1.0h-1.0zM177.1 231.2h1.0v1.0h-1.0zM176.0 214.2h1.0v1.0h-1.0zM177.6 232.2h1.0v1.0h-1.0zM174.3 231.5h1.0v1.0h-1.0zM181.1 231.9h1.0v1.0h-1.0zM180.2 208.7h1.0v1.0h-1.0zM178.5 233.5h1.0v1.0h-1.0zM173.2 216.4h1.0v1.0h-1.0zM175.2 223.8h1.0v1.0h-1.0zM176.6 222.2h1.0v1.0h-1.0zM179.8 208.6h1.0v1.0h-1.0zM173.3 212.2h1.0v1.0h-1.0zM173.9 210.5h1.0v1.0h-1.0zM181.6 233.3h1.0v1.0h-1.0zM173.6 223.1h1.0v1.0h-1.0zM175.6 217.6h1.0v1.0h-1.0zM176.0 227.3h1.0v1.0h-1.0zM178.1 219.0h1.0v1.0h-1.0zM174.5 218.0h1.0v1.0h-1.0zM173.9 224.6h1.0v1.0h-1.0zM179.2 219.5h1.0v1.0h-1.0zM173.5 213.7h1.0v1.0h-1.0zM176.2 226.0h1.0v1.0h-1.0zM179.8 219.5h1.0v1.0h-1.0zM180.0 226.6h1.0v1.0h-1.0zM176.7 219.3h1.0v1.0h-1.0zM177.3 228.9h1.0v1.0h-1.0zM176.6 228.6h1.0v1.0h-1.0zM176.9 215.6h1.0v1.0h-1.0zM177.6 228.7h1.0v1.0h-1.0zM173.4 220.8h1.0v1.0h-1.0zM176.6 234.0h1.0v1.0h-1.0zM181.2 219.4h1.0v1.0h-1.0zM180.9 231.4h1.0v1.0h-1.0zM175.2 222.0h1.0v1.0h-1.0zM173.9 232.1h1.0v1.0h-1.0zM178.8 234.2h1.0v1.0h-1.0zM179.9 227.9h1.0v1.0h-1.0zM179.4 224.9h1.0v1.0h-1.0zM173.7 225.5h1.0v1.0h-1.0zM172.8 212.7h1.0v1.0h-1.0zM179.8 209.8h1.0v1.0h-1.0zM173.6 211.4h1.0v1.0h-1.0zM180.7 213.7h1.0v1.0h-1.0zM173.0 232.9h1.0v1.0h-1.0zM173.9 233.0h1.0v1.0h-1.0zM178.9 232.7h1.0v1.0h-1.0zM181.4 225.3h1.0v1.0h-1.0zM180.0 209.6h1.0v1.0h-1.0zM179.7 223.3h1.0v1.0h-1.0zM179.2 211.6h1.0v1.0h-1.0zM179.5 235.6h1.0v1.0h-1.0zM173.4 217.9h1.0v1.0h-1.0zM177.9 232.5h1.0v1.0h-1.0zM175.0 213.7h1.0v1.0h-1.0zM175.0 226.4h1.0v1.0h-1.0zM179.6 219.9h1.0v1.0h-1.0zM176.1 220.0h1.0v1.0h-1.0zM176.0 220.6h1.0v1.0h-1.0zM158.0 219.5h1.0v1.0h-1.0zM170.4 216.9h1.0v1.0h-1.0zM167.3 209.3h1.0v1.0h-1.0zM166.5 227.2h1.0v1.0h-1.0zM166.2 220.0h1.0v1.0h-1.0zM163.6 223.8h1.0v1.0h-1.0zM169.4 209.0h1.0v1.0h-1.0zM158.1 226.9h1.0v1.0h-1.0zM169.6 220.0h1.0v1.0h-1.0zM163.0 226.1h1.0v1.0h-1.0zM159.4 212.5h1.0v1.0h-1.0zM159.6 222.1h1.0v1.0h-1.0zM161.2 211.5h1.0v1.0h-1.0zM166.5 233.1h1.0v1.0h-1.0zM160.9 225.7h1.0v1.0h-1.0zM162.6 230.1h1.0v1.0h-1.0zM165.0 212.5h1.0v1.0h-1.0zM159.8 205.2h1.0v1.0h-1.0zM163.5 216.0h1.0v1.0h-1.0zM159.2 215.3h1.0v1.0h-1.0zM161.3 227.7h1.0v1.0h-1.0zM158.8 234.2h1.0v1.0h-1.0zM163.5 222.5h1.0v1.0h-1.0zM163.4 229.5h1.0v1.0h-1.0zM168.3 221.2h1.0v1.0h-1.0z" fill="#a9aae0"/>
<path d="M157.2 243.4h1.1v1.1h-1.1zM165.0 241.4h1.1v1.1h-1.1zM161.9 237.9h1.1v1.1h-1.1zM160.3 243.3h1.1v1.1h-1.1zM163.3 246.2h1.1v1.1h-1.1zM158.8 238.5h1.1v1.1h-1.1zM164.4 241.8h1.1v1.1h-1.1zM163.8 244.4h1.1v1.1h-1.1zM164.9 245.9h1.1v1.1h-1.1zM167.5 239.7h1.1v1.1h-1.1zM162.6 247.0h1.1v1.1h-1.1zM161.4 244.9h1.1v1.1h-1.1zM162.6 242.2h1.1v1.1h-1.1zM168.3 245.1h1.1v1.1h-1.1zM161.9 244.8h1.1v1.1h-1.1zM158.2 241.5h1.1v1.1h-1.1zM166.0 243.1h1.1v1.1h-1.1zM159.1 243.9h1.1v1.1h-1.1zM164.0 245.6h1.1v1.1h-1.1zM166.1 242.4h1.1v1.1h-1.1zM161.1 242.7h1.1v1.1h-1.1zM162.0 245.9h1.1v1.1h-1.1zM168.4 245.7h1.1v1.1h-1.1zM164.1 242.5h1.1v1.1h-1.1zM166.0 242.3h1.1v1.1h-1.1zM163.6 239.7h1.1v1.1h-1.1zM161.3 245.9h1.1v1.1h-1.1zM159.2 240.0h1.1v1.1h-1.1zM162.2 246.3h1.1v1.1h-1.1zM167.9 242.3h1.1v1.1h-1.1zM161.1 242.8h1.1v1.1h-1.1zM159.5 243.1h1.1v1.1h-1.1zM161.7 240.0h1.1v1.1h-1.1zM160.8 242.5h1.1v1.1h-1.1zM159.8 240.8h1.1v1.1h-1.1zM166.0 246.8h1.1v1.1h-1.1zM161.8 242.2h1.1v1.1h-1.1zM164.6 242.5h1.1v1.1h-1.1zM160.1 245.8h1.1v1.1h-1.1zM159.2 241.5h1.1v1.1h-1.1zM160.5 241.2h1.1v1.1h-1.1zM162.0 244.2h1.1v1.1h-1.1zM167.8 244.3h1.1v1.1h-1.1zM162.9 240.5h1.1v1.1h-1.1zM162.6 241.1h1.1v1.1h-1.1z" fill="#6e78c8"/>
<path d="M175.3 257.6h1.2v1.2h-1.2zM177.8 256.1h1.2v1.2h-1.2zM173.9 254.3h1.2v1.2h-1.2zM178.3 254.5h1.2v1.2h-1.2zM173.9 256.5h1.2v1.2h-1.2zM170.8 251.4h1.2v1.2h-1.2zM170.6 256.3h1.2v1.2h-1.2zM178.6 258.3h1.2v1.2h-1.2zM178.0 257.4h1.2v1.2h-1.2zM179.7 253.6h1.2v1.2h-1.2zM177.2 257.7h1.2v1.2h-1.2zM170.3 254.4h1.2v1.2h-1.2zM181.1 254.6h1.2v1.2h-1.2zM175.3 254.4h1.2v1.2h-1.2zM174.3 255.6h1.2v1.2h-1.2zM172.1 252.7h1.2v1.2h-1.2zM176.9 257.9h1.2v1.2h-1.2zM177.3 255.6h1.2v1.2h-1.2zM181.7 253.8h1.2v1.2h-1.2zM180.8 257.5h1.2v1.2h-1.2zM172.4 252.4h1.2v1.2h-1.2zM171.9 248.0h1.2v1.2h-1.2zM176.4 253.8h1.2v1.2h-1.2zM180.6 256.0h1.2v1.2h-1.2zM172.8 251.3h1.2v1.2h-1.2zM183.5 259.9h1.2v1.2h-1.2zM175.5 252.7h1.2v1.2h-1.2zM172.7 253.2h1.2v1.2h-1.2zM177.2 259.2h1.2v1.2h-1.2zM181.0 259.1h1.2v1.2h-1.2zM175.2 252.9h1.2v1.2h-1.2zM168.9 248.9h1.2v1.2h-1.2zM178.8 256.3h1.2v1.2h-1.2zM179.7 254.3h1.2v1.2h-1.2zM180.0 258.6h1.2v1.2h-1.2zM176.5 256.9h1.2v1.2h-1.2zM168.7 249.9h1.2v1.2h-1.2zM171.3 257.4h1.2v1.2h-1.2zM176.6 254.6h1.2v1.2h-1.2zM181.3 255.9h1.2v1.2h-1.2zM183.1 257.9h1.2v1.2h-1.2zM177.6 254.1h1.2v1.2h-1.2zM182.3 253.7h1.2v1.2h-1.2zM180.4 256.0h1.2v1.2h-1.2zM178.3 253.9h1.2v1.2h-1.2zM177.5 256.9h1.2v1.2h-1.2zM178.8 257.9h1.2v1.2h-1.2zM178.1 259.3h1.2v1.2h-1.2zM176.6 252.9h1.2v1.2h-1.2zM171.1 254.4h1.2v1.2h-1.2zM174.2 257.2h1.2v1.2h-1.2zM178.1 254.2h1.2v1.2h-1.2zM178.2 261.7h1.2v1.2h-1.2zM177.1 253.8h1.2v1.2h-1.2zM172.5 255.8h1.2v1.2h-1.2zM175.0 253.9h1.2v1.2h-1.2zM179.5 257.6h1.2v1.2h-1.2zM177.8 255.2h1.2v1.2h-1.2zM174.1 254.9h1.2v1.2h-1.2zM176.8 257.5h1.2v1.2h-1.2zM174.5 255.5h1.2v1.2h-1.2zM178.6 257.2h1.2v1.2h-1.2zM177.9 259.2h1.2v1.2h-1.2zM177.5 256.6h1.2v1.2h-1.2zM172.7 254.4h1.2v1.2h-1.2zM176.8 255.2h1.2v1.2h-1.2zM173.0 255.2h1.2v1.2h-1.2zM186.3 262.6h1.2v1.2h-1.2zM176.7 257.0h1.2v1.2h-1.2zM174.4 254.8h1.2v1.2h-1.2zM174.9 253.3h1.2v1.2h-1.2zM177.5 257.0h1.2v1.2h-1.2zM177.2 254.2h1.2v1.2h-1.2zM179.0 254.5h1.2v1.2h-1.2zM180.2 257.1h1.2v1.2h-1.2zM175.9 257.5h1.2v1.2h-1.2zM180.4 254.8h1.2v1.2h-1.2zM175.4 256.1h1.2v1.2h-1.2zM175.2 249.0h1.2v1.2h-1.2zM176.6 255.7h1.2v1.2h-1.2zM178.4 257.1h1.2v1.2h-1.2zM177.0 256.8h1.2v1.2h-1.2zM181.6 260.0h1.2v1.2h-1.2zM179.3 256.5h1.2v1.2h-1.2zM181.4 258.2h1.2v1.2h-1.2zM182.0 253.6h1.2v1.2h-1.2zM177.9 256.4h1.2v1.2h-1.2zM173.6 257.4h1.2v1.2h-1.2zM178.5 256.6h1.2v1.2h-1.2zM172.7 258.4h1.2v1.2h-1.2z" fill="#3c58a0"/>
<path d="M178.2 258.5h1.3v1.3h-1.3zM173.8 257.1h1.3v1.3h-1.3zM178.5 257.0h1.3v1.3h-1.3zM177.7 254.2h1.3v1.3h-1.3zM179.3 256.1h1.3v1.3h-1.3zM179.3 257.2h1.3v1.3h-1.3zM174.9 256.0h1.3v1.3h-1.3zM178.2 255.4h1.3v1.3h-1.3zM176.2 257.2h1.3v1.3h-1.3zM177.2 254.4h1.3v1.3h-1.3zM176.9 254.9h1.3v1.3h-1.3zM175.3 255.7h1.3v1.3h-1.3zM176.8 256.1h1.3v1.3h-1.3zM172.3 254.5h1.3v1.3h-1.3zM176.6 255.7h1.3v1.3h-1.3zM175.8 259.2h1.3v1.3h-1.3zM174.7 252.5h1.3v1.3h-1.3zM179.4 256.6h1.3v1.3h-1.3zM180.9 257.2h1.3v1.3h-1.3zM174.9 256.9h1.3v1.3h-1.3zM178.8 258.4h1.3v1.3h-1.3zM178.1 257.0h1.3v1.3h-1.3zM175.8 255.6h1.3v1.3h-1.3zM179.6 259.3h1.3v1.3h-1.3zM176.6 256.9h1.3v1.3h-1.3zM178.1 259.3h1.3v1.3h-1.3zM176.5 256.2h1.3v1.3h-1.3zM175.7 260.4h1.3v1.3h-1.3zM176.5 258.5h1.3v1.3h-1.3zM172.2 255.3h1.3v1.3h-1.3zM174.0 253.0h1.3v1.3h-1.3zM175.3 255.4h1.3v1.3h-1.3zM177.0 257.2h1.3v1.3h-1.3zM177.7 256.3h1.3v1.3h-1.3zM183.2 260.9h1.3v1.3h-1.3zM177.0 260.1h1.3v1.3h-1.3zM178.9 258.7h1.3v1.3h-1.3zM176.2 259.4h1.3v1.3h-1.3zM174.7 253.7h1.3v1.3h-1.3zM178.7 254.1h1.3v1.3h-1.3zM174.0 256.8h1.3v1.3h-1.3zM175.5 256.0h1.3v1.3h-1.3zM179.4 256.0h1.3v1.3h-1.3zM178.0 256.1h1.3v1.3h-1.3zM174.2 254.5h1.3v1.3h-1.3zM177.0 255.9h1.3v1.3h-1.3zM174.4 256.7h1.3v1.3h-1.3zM179.4 258.9h1.3v1.3h-1.3zM177.3 255.0h1.3v1.3h-1.3zM175.5 253.9h1.3v1.3h-1.3zM176.7 258.0h1.3v1.3h-1.3zM179.2 257.8h1.3v1.3h-1.3zM175.7 256.2h1.3v1.3h-1.3zM176.7 257.4h1.3v1.3h-1.3zM181.1 257.8h1.3v1.3h-1.3zM183.7 256.9h1.3v1.3h-1.3zM173.3 251.9h1.3v1.3h-1.3zM174.3 254.7h1.3v1.3h-1.3zM182.6 258.7h1.3v1.3h-1.3zM179.9 257.7h1.3v1.3h-1.3z" fill="#3a9cb0"/>
<path d="M177.5 256.1h1.4v1.4h-1.4zM180.4 257.0h1.4v1.4h-1.4zM176.4 259.0h1.4v1.4h-1.4zM177.6 257.4h1.4v1.4h-1.4zM177.1 256.3h1.4v1.4h-1.4zM175.3 256.8h1.4v1.4h-1.4zM179.5 257.4h1.4v1.4h-1.4zM177.1 257.9h1.4v1.4h-1.4zM176.0 258.2h1.4v1.4h-1.4zM177.3 256.3h1.4v1.4h-1.4zM178.2 257.5h1.4v1.4h-1.4zM176.8 257.2h1.4v1.4h-1.4zM178.7 258.3h1.4v1.4h-1.4zM176.1 254.7h1.4v1.4h-1.4zM180.1 256.8h1.4v1.4h-1.4zM176.7 257.4h1.4v1.4h-1.4zM176.7 257.9h1.4v1.4h-1.4zM175.6 256.8h1.4v1.4h-1.4zM175.6 258.4h1.4v1.4h-1.4zM177.0 258.0h1.4v1.4h-1.4zM179.2 255.9h1.4v1.4h-1.4zM177.0 257.6h1.4v1.4h-1.4zM177.4 256.9h1.4v1.4h-1.4zM178.5 257.8h1.4v1.4h-1.4zM176.5 256.9h1.4v1.4h-1.4zM178.2 257.2h1.4v1.4h-1.4zM177.5 256.0h1.4v1.4h-1.4zM179.7 256.8h1.4v1.4h-1.4zM177.7 257.0h1.4v1.4h-1.4zM177.4 257.1h1.4v1.4h-1.4z" fill="#52b03c"/>
<path d="M177.1 257.7h1.4v1.4h-1.4zM178.8 257.7h1.4v1.4h-1.4zM178.4 257.8h1.4v1.4h-1.4zM177.8 258.6h1.4v1.4h-1.4zM177.3 257.7h1.4v1.4h-1.4zM178.6 257.7h1.4v1.4h-1.4zM177.0 256.9h1.4v1.4h-1.4zM179.0 256.9h1.4v1.4h-1.4zM177.8 257.8h1.4v1.4h-1.4zM177.9 256.4h1.4v1.4h-1.4zM176.3 257.4h1.4v1.4h-1.4zM177.2 257.3h1.4v1.4h-1.4z" fill="#d8d030"/>
</g>
<rect x="123.80" y="192.50" width="84.5" height="84.0" fill="none" stroke="#777" stroke-width="0.8"/>
<line x1="150.80" y1="192.50" x2="150.80" y2="276.50" stroke="#333" stroke-width="0.9"/>
<line x1="123.80" y1="249.50" x2="208.30" y2="249.50" stroke="#333" stroke-width="0.9"/>
<line x1="121.30" y1="200.50" x2="123.80" y2="200.50" stroke="#444" stroke-width="0.8"/>
<line x1="121.30" y1="221.10" x2="123.80" y2="221.10" stroke="#444" stroke-width="0.8"/>
<line x1="121.30" y1="243.50" x2="123.80" y2="243.50" stroke="#444" stroke-width="0.8"/>
<line x1="121.30" y1="257.20" x2="123.80" y2="257.20" stroke="#444" stroke-width="0.8"/>
<line x1="121.30" y1="270.90" x2="123.80" y2="270.90" stroke="#444" stroke-width="0.8"/>
<line x1="122.50" y1="214.90" x2="123.80" y2="214.90" stroke="#777" stroke-width="0.5"/>
<line x1="122.50" y1="211.27" x2="123.80" y2="211.27" stroke="#777" stroke-width="0.5"/>
<line x1="122.50" y1="208.70" x2="123.80" y2="208.70" stroke="#777" stroke-width="0.5"/>
<line x1="122.50" y1="206.70" x2="123.80" y2="206.70" stroke="#777" stroke-width="0.5"/>
<line x1="122.50" y1="205.07" x2="123.80" y2="205.07" stroke="#777" stroke-width="0.5"/>
<line x1="122.50" y1="203.69" x2="123.80" y2="203.69" stroke="#777" stroke-width="0.5"/>
<line x1="122.50" y1="202.50" x2="123.80" y2="202.50" stroke="#777" stroke-width="0.5"/>
<line x1="122.50" y1="201.44" x2="123.80" y2="201.44" stroke="#777" stroke-width="0.5"/>
<line x1="122.50" y1="236.76" x2="123.80" y2="236.76" stroke="#777" stroke-width="0.5"/>
<line x1="122.50" y1="232.81" x2="123.80" y2="232.81" stroke="#777" stroke-width="0.5"/>
<line x1="122.50" y1="230.01" x2="123.80" y2="230.01" stroke="#777" stroke-width="0.5"/>
<line x1="122.50" y1="227.84" x2="123.80" y2="227.84" stroke="#777" stroke-width="0.5"/>
<line x1="122.50" y1="226.07" x2="123.80" y2="226.07" stroke="#777" stroke-width="0.5"/>
<line x1="122.50" y1="224.57" x2="123.80" y2="224.57" stroke="#777" stroke-width="0.5"/>
<line x1="122.50" y1="223.27" x2="123.80" y2="223.27" stroke="#777" stroke-width="0.5"/>
<line x1="122.50" y1="222.12" x2="123.80" y2="222.12" stroke="#777" stroke-width="0.5"/>
<line x1="128.80" y1="276.50" x2="128.80" y2="279.00" stroke="#444" stroke-width="0.8"/>
<line x1="143.30" y1="276.50" x2="143.30" y2="279.00" stroke="#444" stroke-width="0.8"/>
<line x1="156.80" y1="276.50" x2="156.80" y2="279.00" stroke="#444" stroke-width="0.8"/>
<line x1="180.60" y1="276.50" x2="180.60" y2="279.00" stroke="#444" stroke-width="0.8"/>
<line x1="201.80" y1="276.50" x2="201.80" y2="279.00" stroke="#444" stroke-width="0.8"/>
<line x1="163.96" y1="276.50" x2="163.96" y2="277.80" stroke="#777" stroke-width="0.5"/>
<line x1="168.16" y1="276.50" x2="168.16" y2="277.80" stroke="#777" stroke-width="0.5"/>
<line x1="171.13" y1="276.50" x2="171.13" y2="277.80" stroke="#777" stroke-width="0.5"/>
<line x1="173.44" y1="276.50" x2="173.44" y2="277.80" stroke="#777" stroke-width="0.5"/>
<line x1="175.32" y1="276.50" x2="175.32" y2="277.80" stroke="#777" stroke-width="0.5"/>
<line x1="176.91" y1="276.50" x2="176.91" y2="277.80" stroke="#777" stroke-width="0.5"/>
<line x1="178.29" y1="276.50" x2="178.29" y2="277.80" stroke="#777" stroke-width="0.5"/>
<line x1="179.51" y1="276.50" x2="179.51" y2="277.80" stroke="#777" stroke-width="0.5"/>
<line x1="186.98" y1="276.50" x2="186.98" y2="277.80" stroke="#777" stroke-width="0.5"/>
<line x1="190.71" y1="276.50" x2="190.71" y2="277.80" stroke="#777" stroke-width="0.5"/>
<line x1="193.36" y1="276.50" x2="193.36" y2="277.80" stroke="#777" stroke-width="0.5"/>
<line x1="195.42" y1="276.50" x2="195.42" y2="277.80" stroke="#777" stroke-width="0.5"/>
<line x1="197.10" y1="276.50" x2="197.10" y2="277.80" stroke="#777" stroke-width="0.5"/>
<line x1="198.52" y1="276.50" x2="198.52" y2="277.80" stroke="#777" stroke-width="0.5"/>
<line x1="199.75" y1="276.50" x2="199.75" y2="277.80" stroke="#777" stroke-width="0.5"/>
<line x1="200.83" y1="276.50" x2="200.83" y2="277.80" stroke="#777" stroke-width="0.5"/>
<text x="106.85" y="203.00" font-size="7.2" fill="#111">10<tspan font-size="5.30" dy="-3.5">5</tspan></text>
<text x="106.85" y="223.60" font-size="7.2" fill="#111">10<tspan font-size="5.30" dy="-3.5">4</tspan></text>
<text x="106.85" y="246.00" font-size="7.2" fill="#111">10<tspan font-size="5.30" dy="-3.5">3</tspan></text>
<text x="117.80" y="259.70" font-size="7.2" text-anchor="end" font-weight="normal" fill="#111" >0</text>
<text x="102.64" y="273.40" font-size="7.2" fill="#111">−10<tspan font-size="5.30" dy="-3.5">3</tspan></text>
<text x="121.22" y="288.70" font-size="7.2" fill="#111">−10<tspan font-size="5.30" dy="-3.5">3</tspan></text>
<text x="143.30" y="288.70" font-size="7.2" text-anchor="middle" font-weight="normal" fill="#111" >0</text>
<text x="151.32" y="288.70" font-size="7.2" fill="#111">10<tspan font-size="5.30" dy="-3.5">3</tspan></text>
<text x="175.12" y="288.70" font-size="7.2" fill="#111">10<tspan font-size="5.30" dy="-3.5">4</tspan></text>
<text x="196.32" y="288.70" font-size="7.2" fill="#111">10<tspan font-size="5.30" dy="-3.5">5</tspan></text>
<rect x="122.20" y="255.70" width="2" height="3" fill="#111"/>
<rect x="141.30" y="275.90" width="4" height="1.8" fill="#111"/>
<text x="125.30" y="199.50" font-size="6.4" text-anchor="start" font-weight="bold" fill="#222" >0</text>
<text x="125.50" y="271.50" font-size="6.4" text-anchor="start" font-weight="bold" fill="#222" >0</text>
<text x="206.50" y="199.40" font-size="5.7" text-anchor="end" font-weight="bold" fill="#000" >22.4 %</text>
<text x="204.40" y="272.10" font-size="5.7" text-anchor="end" font-weight="bold" fill="#000" >77.6%</text>
<text x="127.80" y="187.70" font-size="7.3" text-anchor="start" font-weight="normal" fill="#111" >+ SFLLRN</text>
<g filter="url(#bl)">
<path d="M283.1 201.4h1.0v1.0h-1.0zM288.4 202.8h1.0v1.0h-1.0zM277.5 209.7h1.0v1.0h-1.0zM305.6 220.9h1.0v1.0h-1.0zM300.6 204.7h1.0v1.0h-1.0zM293.0 206.2h1.0v1.0h-1.0zM281.0 201.5h1.0v1.0h-1.0zM282.4 224.5h1.0v1.0h-1.0zM302.7 221.1h1.0v1.0h-1.0zM301.7 203.9h1.0v1.0h-1.0zM285.5 216.1h1.0v1.0h-1.0zM299.5 222.4h1.0v1.0h-1.0zM304.3 200.9h1.0v1.0h-1.0zM295.3 217.3h1.0v1.0h-1.0zM292.0 203.5h1.0v1.0h-1.0zM290.9 201.0h1.0v1.0h-1.0zM306.1 222.7h1.0v1.0h-1.0zM293.4 206.9h1.0v1.0h-1.0zM305.3 214.5h1.0v1.0h-1.0zM304.4 222.2h1.0v1.0h-1.0zM292.1 210.1h1.0v1.0h-1.0zM295.1 210.6h1.0v1.0h-1.0zM280.6 207.0h1.0v1.0h-1.0zM302.1 199.7h1.0v1.0h-1.0zM276.8 216.0h1.0v1.0h-1.0zM284.6 213.5h1.0v1.0h-1.0zM290.9 208.1h1.0v1.0h-1.0zM308.2 204.0h1.0v1.0h-1.0zM288.9 204.2h1.0v1.0h-1.0zM296.2 206.2h1.0v1.0h-1.0zM287.0 219.4h1.0v1.0h-1.0zM285.9 214.1h1.0v1.0h-1.0zM305.1 201.3h1.0v1.0h-1.0zM277.3 204.9h1.0v1.0h-1.0zM300.6 215.7h1.0v1.0h-1.0zM283.1 207.8h1.0v1.0h-1.0zM281.2 211.4h1.0v1.0h-1.0zM276.7 218.0h1.0v1.0h-1.0zM304.9 225.2h1.0v1.0h-1.0zM299.6 225.4h1.0v1.0h-1.0zM275.7 231.7h1.0v1.0h-1.0zM294.6 243.9h1.0v1.0h-1.0zM283.5 248.1h1.0v1.0h-1.0zM287.7 244.9h1.0v1.0h-1.0zM281.2 229.3h1.0v1.0h-1.0zM284.2 227.9h1.0v1.0h-1.0zM282.9 248.5h1.0v1.0h-1.0zM281.9 224.7h1.0v1.0h-1.0zM276.2 228.7h1.0v1.0h-1.0zM291.0 233.6h1.0v1.0h-1.0zM281.1 226.9h1.0v1.0h-1.0zM294.9 235.1h1.0v1.0h-1.0zM279.5 226.0h1.0v1.0h-1.0zM276.4 228.7h1.0v1.0h-1.0zM288.8 228.2h1.0v1.0h-1.0zM276.1 236.8h1.0v1.0h-1.0zM280.3 249.4h1.0v1.0h-1.0zM277.7 237.7h1.0v1.0h-1.0zM290.8 234.7h1.0v1.0h-1.0zM295.1 236.4h1.0v1.0h-1.0zM280.1 234.8h1.0v1.0h-1.0zM276.0 235.0h1.0v1.0h-1.0zM280.3 246.7h1.0v1.0h-1.0zM291.9 237.0h1.0v1.0h-1.0zM275.9 230.9h1.0v1.0h-1.0zM280.1 229.7h1.0v1.0h-1.0zM279.9 246.2h1.0v1.0h-1.0zM278.1 225.8h1.0v1.0h-1.0zM293.9 238.6h1.0v1.0h-1.0zM295.1 234.6h1.0v1.0h-1.0zM293.3 240.8h1.0v1.0h-1.0zM291.1 243.1h1.0v1.0h-1.0zM285.2 226.8h1.0v1.0h-1.0zM279.5 246.3h1.0v1.0h-1.0zM293.3 247.6h1.0v1.0h-1.0z" fill="#a9aae0"/>
<path d="M294.5 251.0h1.1v1.1h-1.1zM300.5 224.8h1.1v1.1h-1.1zM300.7 227.2h1.1v1.1h-1.1zM294.0 225.9h1.1v1.1h-1.1zM297.0 261.0h1.1v1.1h-1.1zM300.2 237.4h1.1v1.1h-1.1zM310.9 233.9h1.1v1.1h-1.1zM297.6 235.9h1.1v1.1h-1.1zM300.4 235.4h1.1v1.1h-1.1zM305.6 235.6h1.1v1.1h-1.1zM301.1 240.7h1.1v1.1h-1.1zM294.0 228.8h1.1v1.1h-1.1zM298.0 215.6h1.1v1.1h-1.1zM298.4 239.3h1.1v1.1h-1.1zM299.0 237.7h1.1v1.1h-1.1zM300.1 235.0h1.1v1.1h-1.1zM301.5 222.2h1.1v1.1h-1.1zM302.9 229.7h1.1v1.1h-1.1zM300.7 233.9h1.1v1.1h-1.1zM296.2 230.6h1.1v1.1h-1.1zM305.0 227.7h1.1v1.1h-1.1zM292.3 240.7h1.1v1.1h-1.1zM299.6 238.9h1.1v1.1h-1.1zM293.5 232.0h1.1v1.1h-1.1zM302.8 228.2h1.1v1.1h-1.1zM301.4 245.8h1.1v1.1h-1.1zM299.0 226.4h1.1v1.1h-1.1zM307.8 239.8h1.1v1.1h-1.1zM299.3 234.8h1.1v1.1h-1.1zM293.6 235.9h1.1v1.1h-1.1zM299.3 230.1h1.1v1.1h-1.1zM298.9 250.0h1.1v1.1h-1.1zM300.5 237.6h1.1v1.1h-1.1zM303.5 247.7h1.1v1.1h-1.1zM302.8 230.6h1.1v1.1h-1.1zM289.3 246.5h1.1v1.1h-1.1zM298.6 234.8h1.1v1.1h-1.1zM300.7 234.0h1.1v1.1h-1.1zM295.2 256.5h1.1v1.1h-1.1zM290.4 246.9h1.1v1.1h-1.1zM303.4 256.2h1.1v1.1h-1.1zM299.6 243.6h1.1v1.1h-1.1zM293.8 238.8h1.1v1.1h-1.1zM287.8 232.9h1.1v1.1h-1.1zM298.2 237.5h1.1v1.1h-1.1zM295.9 250.1h1.1v1.1h-1.1zM290.4 239.8h1.1v1.1h-1.1zM296.3 238.9h1.1v1.1h-1.1zM298.6 257.9h1.1v1.1h-1.1zM293.0 251.9h1.1v1.1h-1.1zM305.3 237.2h1.1v1.1h-1.1zM295.3 226.2h1.1v1.1h-1.1zM294.0 258.9h1.1v1.1h-1.1zM287.5 243.0h1.1v1.1h-1.1zM294.9 257.4h1.1v1.1h-1.1zM299.9 225.1h1.1v1.1h-1.1zM295.7 240.5h1.1v1.1h-1.1zM298.9 229.1h1.1v1.1h-1.1zM296.9 233.9h1.1v1.1h-1.1zM300.7 241.3h1.1v1.1h-1.1zM299.4 232.7h1.1v1.1h-1.1zM302.2 232.9h1.1v1.1h-1.1zM294.2 234.2h1.1v1.1h-1.1zM296.7 235.5h1.1v1.1h-1.1zM288.7 252.0h1.1v1.1h-1.1zM301.4 251.7h1.1v1.1h-1.1zM296.3 246.0h1.1v1.1h-1.1zM299.3 238.8h1.1v1.1h-1.1zM307.2 232.6h1.1v1.1h-1.1zM301.2 221.3h1.1v1.1h-1.1zM301.1 236.8h1.1v1.1h-1.1zM293.3 232.6h1.1v1.1h-1.1zM287.8 227.9h1.1v1.1h-1.1zM299.1 212.3h1.1v1.1h-1.1zM303.7 248.2h1.1v1.1h-1.1zM294.6 223.7h1.1v1.1h-1.1zM291.3 225.8h1.1v1.1h-1.1zM294.6 260.2h1.1v1.1h-1.1zM292.7 246.0h1.1v1.1h-1.1zM304.5 229.1h1.1v1.1h-1.1zM297.0 245.2h1.1v1.1h-1.1zM295.0 250.9h1.1v1.1h-1.1zM309.0 238.0h1.1v1.1h-1.1zM294.2 244.4h1.1v1.1h-1.1zM300.0 231.1h1.1v1.1h-1.1zM297.6 239.4h1.1v1.1h-1.1zM300.8 249.9h1.1v1.1h-1.1zM295.9 225.6h1.1v1.1h-1.1zM290.2 257.0h1.1v1.1h-1.1zM296.2 234.4h1.1v1.1h-1.1zM310.6 249.6h1.1v1.1h-1.1zM309.5 236.8h1.1v1.1h-1.1zM294.9 233.2h1.1v1.1h-1.1zM301.5 242.7h1.1v1.1h-1.1zM300.3 261.1h1.1v1.1h-1.1zM305.1 227.7h1.1v1.1h-1.1zM300.5 244.4h1.1v1.1h-1.1zM294.6 261.7h1.1v1.1h-1.1zM302.9 253.6h1.1v1.1h-1.1zM295.6 227.1h1.1v1.1h-1.1zM302.1 236.5h1.1v1.1h-1.1zM295.4 237.6h1.1v1.1h-1.1zM299.3 240.0h1.1v1.1h-1.1zM297.3 243.2h1.1v1.1h-1.1zM312.8 250.3h1.1v1.1h-1.1zM295.7 258.9h1.1v1.1h-1.1zM295.9 223.0h1.1v1.1h-1.1zM291.4 218.1h1.1v1.1h-1.1zM304.1 227.5h1.1v1.1h-1.1zM291.1 232.8h1.1v1.1h-1.1zM297.3 226.0h1.1v1.1h-1.1zM295.4 238.4h1.1v1.1h-1.1zM301.5 229.0h1.1v1.1h-1.1zM301.1 241.0h1.1v1.1h-1.1zM301.0 233.1h1.1v1.1h-1.1zM292.4 248.1h1.1v1.1h-1.1zM301.2 231.7h1.1v1.1h-1.1zM294.3 245.3h1.1v1.1h-1.1zM308.4 242.1h1.1v1.1h-1.1zM310.9 241.5h1.1v1.1h-1.1zM300.0 243.3h1.1v1.1h-1.1zM303.7 223.3h1.1v1.1h-1.1zM299.0 251.1h1.1v1.1h-1.1zM290.4 240.8h1.1v1.1h-1.1zM302.0 255.7h1.1v1.1h-1.1zM306.1 238.1h1.1v1.1h-1.1zM308.7 227.3h1.1v1.1h-1.1zM291.3 251.8h1.1v1.1h-1.1zM301.6 227.0h1.1v1.1h-1.1zM303.7 247.2h1.1v1.1h-1.1zM301.9 234.0h1.1v1.1h-1.1zM291.9 221.5h1.1v1.1h-1.1zM297.2 236.9h1.1v1.1h-1.1zM295.7 232.8h1.1v1.1h-1.1zM302.9 227.0h1.1v1.1h-1.1zM294.5 258.4h1.1v1.1h-1.1zM295.1 232.1h1.1v1.1h-1.1zM303.6 220.3h1.1v1.1h-1.1zM306.4 225.6h1.1v1.1h-1.1zM294.1 225.5h1.1v1.1h-1.1zM293.5 231.0h1.1v1.1h-1.1zM303.0 237.8h1.1v1.1h-1.1zM305.2 246.2h1.1v1.1h-1.1zM292.0 238.7h1.1v1.1h-1.1zM295.2 234.1h1.1v1.1h-1.1zM298.9 242.2h1.1v1.1h-1.1zM300.5 217.1h1.1v1.1h-1.1zM297.5 233.8h1.1v1.1h-1.1zM307.6 236.0h1.1v1.1h-1.1zM298.1 238.5h1.1v1.1h-1.1zM302.2 226.9h1.1v1.1h-1.1zM297.6 237.2h1.1v1.1h-1.1zM298.2 235.9h1.1v1.1h-1.1zM295.5 239.3h1.1v1.1h-1.1zM291.6 254.7h1.1v1.1h-1.1zM298.2 220.1h1.1v1.1h-1.1zM296.8 248.0h1.1v1.1h-1.1zM297.3 236.9h1.1v1.1h-1.1zM286.7 252.7h1.1v1.1h-1.1zM298.6 218.6h1.1v1.1h-1.1zM296.0 253.1h1.1v1.1h-1.1zM300.2 223.3h1.1v1.1h-1.1zM295.4 240.9h1.1v1.1h-1.1zM308.7 240.8h1.1v1.1h-1.1zM302.0 235.2h1.1v1.1h-1.1zM298.5 228.3h1.1v1.1h-1.1zM291.6 224.7h1.1v1.1h-1.1zM295.3 251.0h1.1v1.1h-1.1zM298.1 250.5h1.1v1.1h-1.1zM302.1 240.0h1.1v1.1h-1.1zM295.7 260.1h1.1v1.1h-1.1zM304.0 251.0h1.1v1.1h-1.1zM310.8 253.7h1.1v1.1h-1.1zM299.4 242.3h1.1v1.1h-1.1zM301.1 261.1h1.1v1.1h-1.1zM293.2 220.1h1.1v1.1h-1.1zM295.8 238.5h1.1v1.1h-1.1zM295.3 247.8h1.1v1.1h-1.1zM301.3 238.1h1.1v1.1h-1.1zM298.7 257.7h1.1v1.1h-1.1zM308.4 256.0h1.1v1.1h-1.1zM296.4 250.9h1.1v1.1h-1.1zM292.5 220.1h1.1v1.1h-1.1zM306.9 247.4h1.1v1.1h-1.1zM301.7 252.9h1.1v1.1h-1.1zM306.7 241.4h1.1v1.1h-1.1zM299.7 244.7h1.1v1.1h-1.1zM302.6 240.4h1.1v1.1h-1.1zM291.6 263.7h1.1v1.1h-1.1zM294.6 232.6h1.1v1.1h-1.1z" fill="#6e78c8"/>
<path d="M299.8 246.3h1.2v1.2h-1.2zM299.5 258.7h1.2v1.2h-1.2zM302.4 244.2h1.2v1.2h-1.2zM298.9 246.3h1.2v1.2h-1.2zM301.9 242.1h1.2v1.2h-1.2zM294.8 238.1h1.2v1.2h-1.2zM299.5 248.5h1.2v1.2h-1.2zM300.2 250.8h1.2v1.2h-1.2zM294.0 244.7h1.2v1.2h-1.2zM294.4 252.8h1.2v1.2h-1.2zM300.6 239.3h1.2v1.2h-1.2zM299.6 247.2h1.2v1.2h-1.2zM298.3 250.1h1.2v1.2h-1.2zM295.9 245.0h1.2v1.2h-1.2zM295.7 243.3h1.2v1.2h-1.2zM294.5 252.4h1.2v1.2h-1.2zM299.8 245.4h1.2v1.2h-1.2zM292.6 258.0h1.2v1.2h-1.2zM298.0 247.6h1.2v1.2h-1.2zM300.0 255.2h1.2v1.2h-1.2zM296.9 234.8h1.2v1.2h-1.2zM296.9 246.5h1.2v1.2h-1.2zM296.0 254.0h1.2v1.2h-1.2zM296.4 248.2h1.2v1.2h-1.2zM295.3 250.4h1.2v1.2h-1.2zM295.7 250.8h1.2v1.2h-1.2zM298.3 247.4h1.2v1.2h-1.2zM298.9 238.6h1.2v1.2h-1.2zM296.4 247.7h1.2v1.2h-1.2zM296.6 252.6h1.2v1.2h-1.2zM300.7 243.0h1.2v1.2h-1.2zM301.7 245.5h1.2v1.2h-1.2zM299.7 252.8h1.2v1.2h-1.2zM294.3 242.5h1.2v1.2h-1.2zM297.7 245.4h1.2v1.2h-1.2zM292.5 250.0h1.2v1.2h-1.2zM298.4 247.6h1.2v1.2h-1.2zM298.9 250.2h1.2v1.2h-1.2zM295.2 248.2h1.2v1.2h-1.2zM296.5 244.2h1.2v1.2h-1.2zM295.1 252.7h1.2v1.2h-1.2zM290.0 243.0h1.2v1.2h-1.2zM300.1 245.0h1.2v1.2h-1.2zM295.8 251.8h1.2v1.2h-1.2zM294.9 245.2h1.2v1.2h-1.2zM299.2 244.0h1.2v1.2h-1.2zM296.2 247.0h1.2v1.2h-1.2zM301.0 242.0h1.2v1.2h-1.2zM299.6 246.3h1.2v1.2h-1.2zM296.8 240.0h1.2v1.2h-1.2zM303.4 249.4h1.2v1.2h-1.2zM298.7 245.0h1.2v1.2h-1.2zM303.0 243.4h1.2v1.2h-1.2zM294.6 242.7h1.2v1.2h-1.2zM297.7 248.2h1.2v1.2h-1.2zM291.5 248.0h1.2v1.2h-1.2zM298.7 252.0h1.2v1.2h-1.2zM296.8 254.0h1.2v1.2h-1.2zM304.3 243.9h1.2v1.2h-1.2zM297.0 251.5h1.2v1.2h-1.2zM301.7 246.6h1.2v1.2h-1.2zM301.5 238.8h1.2v1.2h-1.2zM300.9 248.8h1.2v1.2h-1.2zM300.7 249.0h1.2v1.2h-1.2zM300.0 244.4h1.2v1.2h-1.2zM302.3 236.2h1.2v1.2h-1.2zM298.7 243.4h1.2v1.2h-1.2zM304.1 240.9h1.2v1.2h-1.2zM298.3 246.5h1.2v1.2h-1.2zM300.5 246.6h1.2v1.2h-1.2zM294.5 245.9h1.2v1.2h-1.2zM301.6 250.4h1.2v1.2h-1.2zM295.6 240.4h1.2v1.2h-1.2zM293.8 246.1h1.2v1.2h-1.2zM297.4 244.8h1.2v1.2h-1.2zM296.2 247.6h1.2v1.2h-1.2zM302.1 251.7h1.2v1.2h-1.2zM296.5 250.6h1.2v1.2h-1.2zM297.1 253.1h1.2v1.2h-1.2zM301.2 251.3h1.2v1.2h-1.2zM305.0 251.8h1.2v1.2h-1.2zM300.8 253.6h1.2v1.2h-1.2zM294.6 245.0h1.2v1.2h-1.2zM296.8 250.9h1.2v1.2h-1.2zM298.0 240.4h1.2v1.2h-1.2zM295.4 245.6h1.2v1.2h-1.2zM296.4 244.3h1.2v1.2h-1.2zM293.2 247.3h1.2v1.2h-1.2zM293.7 244.7h1.2v1.2h-1.2zM295.9 245.1h1.2v1.2h-1.2zM302.5 244.5h1.2v1.2h-1.2zM296.6 234.2h1.2v1.2h-1.2zM295.1 247.8h1.2v1.2h-1.2zM296.9 250.6h1.2v1.2h-1.2zM296.9 250.6h1.2v1.2h-1.2zM298.7 252.1h1.2v1.2h-1.2zM297.0 251.1h1.2v1.2h-1.2zM296.4 242.8h1.2v1.2h-1.2zM301.5 239.7h1.2v1.2h-1.2zM294.9 254.9h1.2v1.2h-1.2zM298.4 248.5h1.2v1.2h-1.2zM298.6 246.5h1.2v1.2h-1.2zM304.2 246.9h1.2v1.2h-1.2zM302.5 246.6h1.2v1.2h-1.2zM295.7 245.3h1.2v1.2h-1.2zM298.0 259.6h1.2v1.2h-1.2zM295.9 248.8h1.2v1.2h-1.2zM293.0 249.4h1.2v1.2h-1.2zM297.5 248.6h1.2v1.2h-1.2zM298.2 244.3h1.2v1.2h-1.2zM298.1 246.7h1.2v1.2h-1.2zM301.2 246.3h1.2v1.2h-1.2zM297.5 240.1h1.2v1.2h-1.2zM300.7 245.8h1.2v1.2h-1.2zM295.0 252.6h1.2v1.2h-1.2zM300.8 246.5h1.2v1.2h-1.2zM298.0 240.0h1.2v1.2h-1.2zM290.3 247.2h1.2v1.2h-1.2zM293.1 249.8h1.2v1.2h-1.2zM296.7 247.8h1.2v1.2h-1.2zM296.1 248.7h1.2v1.2h-1.2zM300.4 247.2h1.2v1.2h-1.2zM300.3 250.4h1.2v1.2h-1.2zM297.4 238.1h1.2v1.2h-1.2zM299.9 243.6h1.2v1.2h-1.2zM294.5 237.3h1.2v1.2h-1.2zM292.2 253.2h1.2v1.2h-1.2zM303.6 253.3h1.2v1.2h-1.2zM304.4 237.0h1.2v1.2h-1.2zM300.3 239.6h1.2v1.2h-1.2z" fill="#3c58a0"/>
<path d="M294.9 253.4h1.3v1.3h-1.3zM299.7 250.0h1.3v1.3h-1.3zM294.5 248.5h1.3v1.3h-1.3zM297.4 253.9h1.3v1.3h-1.3zM301.8 253.0h1.3v1.3h-1.3zM295.7 249.6h1.3v1.3h-1.3zM297.9 253.4h1.3v1.3h-1.3zM293.7 252.6h1.3v1.3h-1.3zM296.5 253.8h1.3v1.3h-1.3zM294.4 254.1h1.3v1.3h-1.3zM300.7 255.1h1.3v1.3h-1.3zM300.9 252.3h1.3v1.3h-1.3zM298.0 249.5h1.3v1.3h-1.3zM297.7 250.2h1.3v1.3h-1.3zM299.0 253.6h1.3v1.3h-1.3zM297.5 255.5h1.3v1.3h-1.3zM295.1 250.7h1.3v1.3h-1.3zM301.2 251.4h1.3v1.3h-1.3zM299.2 246.4h1.3v1.3h-1.3zM300.8 250.4h1.3v1.3h-1.3zM296.4 254.1h1.3v1.3h-1.3zM297.9 248.1h1.3v1.3h-1.3zM300.5 249.9h1.3v1.3h-1.3zM297.1 250.5h1.3v1.3h-1.3zM296.9 251.0h1.3v1.3h-1.3zM297.0 250.9h1.3v1.3h-1.3zM302.8 252.6h1.3v1.3h-1.3zM299.0 250.6h1.3v1.3h-1.3zM301.3 253.1h1.3v1.3h-1.3zM298.0 250.7h1.3v1.3h-1.3zM299.4 248.2h1.3v1.3h-1.3zM296.4 251.2h1.3v1.3h-1.3zM298.5 252.3h1.3v1.3h-1.3zM294.8 253.3h1.3v1.3h-1.3zM296.9 250.8h1.3v1.3h-1.3zM298.0 251.2h1.3v1.3h-1.3zM296.9 251.1h1.3v1.3h-1.3zM299.1 252.0h1.3v1.3h-1.3zM298.2 250.5h1.3v1.3h-1.3zM300.1 252.2h1.3v1.3h-1.3zM296.3 254.3h1.3v1.3h-1.3zM295.0 250.4h1.3v1.3h-1.3zM299.4 251.0h1.3v1.3h-1.3zM297.1 251.2h1.3v1.3h-1.3zM297.8 253.0h1.3v1.3h-1.3z" fill="#3a9cb0"/>
<path d="M298.5 252.7h1.4v1.4h-1.4zM297.2 251.1h1.4v1.4h-1.4zM297.2 254.0h1.4v1.4h-1.4zM297.8 254.9h1.4v1.4h-1.4zM297.5 253.8h1.4v1.4h-1.4zM298.8 252.1h1.4v1.4h-1.4zM299.4 251.8h1.4v1.4h-1.4zM297.5 251.3h1.4v1.4h-1.4zM297.4 252.3h1.4v1.4h-1.4zM298.9 251.1h1.4v1.4h-1.4zM298.3 253.9h1.4v1.4h-1.4zM298.4 254.7h1.4v1.4h-1.4zM298.8 252.4h1.4v1.4h-1.4zM298.5 252.6h1.4v1.4h-1.4zM297.0 253.1h1.4v1.4h-1.4z" fill="#52b03c"/>
</g>
<rect x="244.30" y="192.50" width="84.5" height="84.0" fill="none" stroke="#777" stroke-width="0.8"/>
<line x1="271.30" y1="192.50" x2="271.30" y2="276.50" stroke="#333" stroke-width="0.9"/>
<line x1="244.30" y1="251.50" x2="328.80" y2="251.50" stroke="#333" stroke-width="0.9"/>
<line x1="241.80" y1="200.50" x2="244.30" y2="200.50" stroke="#444" stroke-width="0.8"/>
<line x1="241.80" y1="221.10" x2="244.30" y2="221.10" stroke="#444" stroke-width="0.8"/>
<line x1="241.80" y1="243.50" x2="244.30" y2="243.50" stroke="#444" stroke-width="0.8"/>
<line x1="241.80" y1="257.20" x2="244.30" y2="257.20" stroke="#444" stroke-width="0.8"/>
<line x1="241.80" y1="270.90" x2="244.30" y2="270.90" stroke="#444" stroke-width="0.8"/>
<line x1="243.00" y1="214.90" x2="244.30" y2="214.90" stroke="#777" stroke-width="0.5"/>
<line x1="243.00" y1="211.27" x2="244.30" y2="211.27" stroke="#777" stroke-width="0.5"/>
<line x1="243.00" y1="208.70" x2="244.30" y2="208.70" stroke="#777" stroke-width="0.5"/>
<line x1="243.00" y1="206.70" x2="244.30" y2="206.70" stroke="#777" stroke-width="0.5"/>
<line x1="243.00" y1="205.07" x2="244.30" y2="205.07" stroke="#777" stroke-width="0.5"/>
<line x1="243.00" y1="203.69" x2="244.30" y2="203.69" stroke="#777" stroke-width="0.5"/>
<line x1="243.00" y1="202.50" x2="244.30" y2="202.50" stroke="#777" stroke-width="0.5"/>
<line x1="243.00" y1="201.44" x2="244.30" y2="201.44" stroke="#777" stroke-width="0.5"/>
<line x1="243.00" y1="236.76" x2="244.30" y2="236.76" stroke="#777" stroke-width="0.5"/>
<line x1="243.00" y1="232.81" x2="244.30" y2="232.81" stroke="#777" stroke-width="0.5"/>
<line x1="243.00" y1="230.01" x2="244.30" y2="230.01" stroke="#777" stroke-width="0.5"/>
<line x1="243.00" y1="227.84" x2="244.30" y2="227.84" stroke="#777" stroke-width="0.5"/>
<line x1="243.00" y1="226.07" x2="244.30" y2="226.07" stroke="#777" stroke-width="0.5"/>
<line x1="243.00" y1="224.57" x2="244.30" y2="224.57" stroke="#777" stroke-width="0.5"/>
<line x1="243.00" y1="223.27" x2="244.30" y2="223.27" stroke="#777" stroke-width="0.5"/>
<line x1="243.00" y1="222.12" x2="244.30" y2="222.12" stroke="#777" stroke-width="0.5"/>
<line x1="249.30" y1="276.50" x2="249.30" y2="279.00" stroke="#444" stroke-width="0.8"/>
<line x1="263.80" y1="276.50" x2="263.80" y2="279.00" stroke="#444" stroke-width="0.8"/>
<line x1="277.30" y1="276.50" x2="277.30" y2="279.00" stroke="#444" stroke-width="0.8"/>
<line x1="301.10" y1="276.50" x2="301.10" y2="279.00" stroke="#444" stroke-width="0.8"/>
<line x1="322.30" y1="276.50" x2="322.30" y2="279.00" stroke="#444" stroke-width="0.8"/>
<line x1="284.46" y1="276.50" x2="284.46" y2="277.80" stroke="#777" stroke-width="0.5"/>
<line x1="288.66" y1="276.50" x2="288.66" y2="277.80" stroke="#777" stroke-width="0.5"/>
<line x1="291.63" y1="276.50" x2="291.63" y2="277.80" stroke="#777" stroke-width="0.5"/>
<line x1="293.94" y1="276.50" x2="293.94" y2="277.80" stroke="#777" stroke-width="0.5"/>
<line x1="295.82" y1="276.50" x2="295.82" y2="277.80" stroke="#777" stroke-width="0.5"/>
<line x1="297.41" y1="276.50" x2="297.41" y2="277.80" stroke="#777" stroke-width="0.5"/>
<line x1="298.79" y1="276.50" x2="298.79" y2="277.80" stroke="#777" stroke-width="0.5"/>
<line x1="300.01" y1="276.50" x2="300.01" y2="277.80" stroke="#777" stroke-width="0.5"/>
<line x1="307.48" y1="276.50" x2="307.48" y2="277.80" stroke="#777" stroke-width="0.5"/>
<line x1="311.21" y1="276.50" x2="311.21" y2="277.80" stroke="#777" stroke-width="0.5"/>
<line x1="313.86" y1="276.50" x2="313.86" y2="277.80" stroke="#777" stroke-width="0.5"/>
<line x1="315.92" y1="276.50" x2="315.92" y2="277.80" stroke="#777" stroke-width="0.5"/>
<line x1="317.60" y1="276.50" x2="317.60" y2="277.80" stroke="#777" stroke-width="0.5"/>
<line x1="319.02" y1="276.50" x2="319.02" y2="277.80" stroke="#777" stroke-width="0.5"/>
<line x1="320.25" y1="276.50" x2="320.25" y2="277.80" stroke="#777" stroke-width="0.5"/>
<line x1="321.33" y1="276.50" x2="321.33" y2="277.80" stroke="#777" stroke-width="0.5"/>
<text x="227.35" y="203.00" font-size="7.2" fill="#111">10<tspan font-size="5.30" dy="-3.5">5</tspan></text>
<text x="227.35" y="223.60" font-size="7.2" fill="#111">10<tspan font-size="5.30" dy="-3.5">4</tspan></text>
<text x="227.35" y="246.00" font-size="7.2" fill="#111">10<tspan font-size="5.30" dy="-3.5">3</tspan></text>
<text x="238.30" y="259.70" font-size="7.2" text-anchor="end" font-weight="normal" fill="#111" >0</text>
<text x="223.14" y="273.40" font-size="7.2" fill="#111">−10<tspan font-size="5.30" dy="-3.5">3</tspan></text>
<text x="241.72" y="288.70" font-size="7.2" fill="#111">−10<tspan font-size="5.30" dy="-3.5">3</tspan></text>
<text x="263.80" y="288.70" font-size="7.2" text-anchor="middle" font-weight="normal" fill="#111" >0</text>
<text x="271.82" y="288.70" font-size="7.2" fill="#111">10<tspan font-size="5.30" dy="-3.5">3</tspan></text>
<text x="295.62" y="288.70" font-size="7.2" fill="#111">10<tspan font-size="5.30" dy="-3.5">4</tspan></text>
<text x="316.82" y="288.70" font-size="7.2" fill="#111">10<tspan font-size="5.30" dy="-3.5">5</tspan></text>
<rect x="242.70" y="255.70" width="2" height="3" fill="#111"/>
<rect x="261.80" y="275.90" width="4" height="1.8" fill="#111"/>
<text x="245.80" y="199.50" font-size="6.4" text-anchor="start" font-weight="bold" fill="#222" >0</text>
<text x="246.00" y="271.50" font-size="6.4" text-anchor="start" font-weight="bold" fill="#222" >0</text>
<text x="327.00" y="199.40" font-size="5.7" text-anchor="end" font-weight="bold" fill="#000" >61.9 %</text>
<text x="324.90" y="272.10" font-size="5.7" text-anchor="end" font-weight="bold" fill="#000" >38.1 %</text>
<text x="247.80" y="187.70" font-size="7.3" text-anchor="start" font-weight="normal" fill="#111" >+ SFLLRN</text>
<g filter="url(#bl)">
<path d="M180.8 388.6h1.0v1.0h-1.0zM184.2 398.6h1.0v1.0h-1.0zM183.1 397.6h1.0v1.0h-1.0zM168.9 374.8h1.0v1.0h-1.0zM187.2 383.9h1.0v1.0h-1.0zM186.3 357.2h1.0v1.0h-1.0zM177.7 363.8h1.0v1.0h-1.0zM179.2 380.2h1.0v1.0h-1.0zM168.6 362.3h1.0v1.0h-1.0zM173.9 397.3h1.0v1.0h-1.0zM183.6 359.5h1.0v1.0h-1.0zM184.2 358.4h1.0v1.0h-1.0zM180.6 357.8h1.0v1.0h-1.0zM168.3 395.1h1.0v1.0h-1.0zM172.5 362.3h1.0v1.0h-1.0zM187.9 395.1h1.0v1.0h-1.0zM174.1 399.6h1.0v1.0h-1.0zM179.1 385.4h1.0v1.0h-1.0zM172.4 398.5h1.0v1.0h-1.0zM182.1 399.8h1.0v1.0h-1.0zM186.2 366.4h1.0v1.0h-1.0zM175.5 359.8h1.0v1.0h-1.0zM171.2 354.8h1.0v1.0h-1.0zM174.3 381.7h1.0v1.0h-1.0zM168.4 385.4h1.0v1.0h-1.0zM175.1 367.0h1.0v1.0h-1.0zM184.7 375.5h1.0v1.0h-1.0zM174.6 375.6h1.0v1.0h-1.0zM182.4 354.4h1.0v1.0h-1.0zM187.8 352.6h1.0v1.0h-1.0zM183.3 393.7h1.0v1.0h-1.0zM168.7 390.9h1.0v1.0h-1.0zM175.6 380.4h1.0v1.0h-1.0zM168.5 353.8h1.0v1.0h-1.0zM171.9 399.3h1.0v1.0h-1.0zM172.2 389.3h1.0v1.0h-1.0zM186.9 398.6h1.0v1.0h-1.0zM175.2 369.2h1.0v1.0h-1.0zM178.8 390.3h1.0v1.0h-1.0zM170.5 388.9h1.0v1.0h-1.0zM184.2 394.5h1.0v1.0h-1.0zM169.0 398.8h1.0v1.0h-1.0zM170.1 368.5h1.0v1.0h-1.0zM180.5 397.4h1.0v1.0h-1.0zM175.1 397.7h1.0v1.0h-1.0zM179.2 367.1h1.0v1.0h-1.0zM174.6 360.4h1.0v1.0h-1.0zM169.9 358.9h1.0v1.0h-1.0zM182.1 401.3h1.0v1.0h-1.0zM171.5 353.9h1.0v1.0h-1.0zM188.0 378.2h1.0v1.0h-1.0zM176.4 363.4h1.0v1.0h-1.0zM180.2 392.8h1.0v1.0h-1.0zM177.4 372.6h1.0v1.0h-1.0zM169.4 397.3h1.0v1.0h-1.0zM169.0 376.2h1.0v1.0h-1.0zM185.1 358.0h1.0v1.0h-1.0zM182.9 399.0h1.0v1.0h-1.0zM180.9 390.9h1.0v1.0h-1.0zM170.4 373.2h1.0v1.0h-1.0z" fill="#a9aae0"/>
<path d="M183.3 388.2h1.0v1.0h-1.0zM178.2 382.2h1.0v1.0h-1.0zM186.1 369.4h1.0v1.0h-1.0zM183.1 367.5h1.0v1.0h-1.0zM173.7 370.9h1.0v1.0h-1.0zM176.4 370.8h1.0v1.0h-1.0zM177.7 373.3h1.0v1.0h-1.0zM171.8 394.5h1.0v1.0h-1.0zM184.1 365.3h1.0v1.0h-1.0zM176.1 369.5h1.0v1.0h-1.0zM181.7 374.6h1.0v1.0h-1.0zM175.3 385.6h1.0v1.0h-1.0zM180.1 351.2h1.0v1.0h-1.0zM176.3 352.1h1.0v1.0h-1.0zM175.7 383.7h1.0v1.0h-1.0zM178.5 383.1h1.0v1.0h-1.0zM180.0 351.3h1.0v1.0h-1.0zM177.0 397.4h1.0v1.0h-1.0zM176.6 356.7h1.0v1.0h-1.0zM183.7 370.6h1.0v1.0h-1.0zM179.3 387.4h1.0v1.0h-1.0zM173.0 374.6h1.0v1.0h-1.0zM175.5 352.4h1.0v1.0h-1.0zM176.4 383.6h1.0v1.0h-1.0zM175.3 388.2h1.0v1.0h-1.0zM183.0 356.1h1.0v1.0h-1.0zM188.0 365.0h1.0v1.0h-1.0zM175.0 367.8h1.0v1.0h-1.0zM182.6 389.2h1.0v1.0h-1.0zM183.0 364.3h1.0v1.0h-1.0zM177.3 351.6h1.0v1.0h-1.0zM179.0 362.2h1.0v1.0h-1.0zM180.2 354.0h1.0v1.0h-1.0zM177.4 358.7h1.0v1.0h-1.0zM175.0 355.0h1.0v1.0h-1.0zM175.7 355.0h1.0v1.0h-1.0zM181.3 370.7h1.0v1.0h-1.0zM174.6 375.8h1.0v1.0h-1.0zM180.3 387.4h1.0v1.0h-1.0zM178.6 366.9h1.0v1.0h-1.0zM176.8 371.0h1.0v1.0h-1.0zM181.1 371.6h1.0v1.0h-1.0zM178.4 376.4h1.0v1.0h-1.0zM179.6 372.5h1.0v1.0h-1.0zM176.0 372.0h1.0v1.0h-1.0zM175.7 359.1h1.0v1.0h-1.0zM179.9 395.4h1.0v1.0h-1.0zM182.9 369.6h1.0v1.0h-1.0zM178.7 381.6h1.0v1.0h-1.0zM184.3 384.5h1.0v1.0h-1.0zM178.6 371.8h1.0v1.0h-1.0zM178.1 366.0h1.0v1.0h-1.0zM176.2 366.4h1.0v1.0h-1.0zM171.6 354.8h1.0v1.0h-1.0zM180.8 358.1h1.0v1.0h-1.0zM181.2 353.6h1.0v1.0h-1.0zM178.0 374.4h1.0v1.0h-1.0zM175.6 360.7h1.0v1.0h-1.0zM188.2 361.1h1.0v1.0h-1.0zM176.8 362.5h1.0v1.0h-1.0zM179.4 369.2h1.0v1.0h-1.0zM182.8 379.2h1.0v1.0h-1.0zM177.9 365.1h1.0v1.0h-1.0zM174.2 351.1h1.0v1.0h-1.0zM176.7 378.5h1.0v1.0h-1.0zM179.7 379.4h1.0v1.0h-1.0zM182.7 367.5h1.0v1.0h-1.0zM186.8 363.1h1.0v1.0h-1.0zM177.1 364.2h1.0v1.0h-1.0zM183.4 367.8h1.0v1.0h-1.0zM176.7 374.8h1.0v1.0h-1.0zM183.4 368.1h1.0v1.0h-1.0zM178.4 382.8h1.0v1.0h-1.0zM182.8 381.1h1.0v1.0h-1.0zM176.6 373.0h1.0v1.0h-1.0zM183.6 370.7h1.0v1.0h-1.0zM178.1 397.3h1.0v1.0h-1.0zM179.8 360.7h1.0v1.0h-1.0zM179.1 376.4h1.0v1.0h-1.0zM182.2 368.8h1.0v1.0h-1.0zM176.2 361.0h1.0v1.0h-1.0zM176.4 356.6h1.0v1.0h-1.0zM179.2 363.5h1.0v1.0h-1.0zM179.5 359.4h1.0v1.0h-1.0zM176.2 367.2h1.0v1.0h-1.0zM178.1 383.6h1.0v1.0h-1.0zM176.1 372.0h1.0v1.0h-1.0zM179.2 353.5h1.0v1.0h-1.0zM181.9 371.6h1.0v1.0h-1.0zM171.8 376.9h1.0v1.0h-1.0zM182.7 359.7h1.0v1.0h-1.0zM185.4 371.4h1.0v1.0h-1.0zM175.2 376.4h1.0v1.0h-1.0zM178.0 353.1h1.0v1.0h-1.0zM171.6 372.5h1.0v1.0h-1.0zM176.7 377.4h1.0v1.0h-1.0zM180.7 363.1h1.0v1.0h-1.0zM177.4 391.1h1.0v1.0h-1.0zM185.4 378.7h1.0v1.0h-1.0zM178.0 357.5h1.0v1.0h-1.0zM177.9 389.9h1.0v1.0h-1.0zM180.9 366.0h1.0v1.0h-1.0zM174.9 371.5h1.0v1.0h-1.0zM176.2 369.7h1.0v1.0h-1.0zM181.9 382.6h1.0v1.0h-1.0zM179.8 365.3h1.0v1.0h-1.0zM180.1 391.5h1.0v1.0h-1.0zM180.6 352.4h1.0v1.0h-1.0zM184.8 372.6h1.0v1.0h-1.0zM191.7 363.8h1.0v1.0h-1.0zM179.0 365.9h1.0v1.0h-1.0zM180.6 362.4h1.0v1.0h-1.0zM178.9 363.2h1.0v1.0h-1.0zM177.2 395.4h1.0v1.0h-1.0zM182.1 382.8h1.0v1.0h-1.0zM177.5 373.2h1.0v1.0h-1.0zM178.5 367.0h1.0v1.0h-1.0zM182.0 376.9h1.0v1.0h-1.0zM180.4 371.3h1.0v1.0h-1.0zM174.2 360.5h1.0v1.0h-1.0zM180.7 365.0h1.0v1.0h-1.0zM176.5 373.8h1.0v1.0h-1.0zM176.0 361.3h1.0v1.0h-1.0zM182.4 365.1h1.0v1.0h-1.0zM184.4 375.9h1.0v1.0h-1.0zM182.2 383.3h1.0v1.0h-1.0z" fill="#8482c8"/>
<path d="M168.5 407.4h1.3v1.3h-1.3zM172.1 406.9h1.3v1.3h-1.3zM176.9 409.1h1.3v1.3h-1.3zM177.1 409.7h1.3v1.3h-1.3zM175.2 407.4h1.3v1.3h-1.3zM177.7 408.7h1.3v1.3h-1.3zM177.1 406.7h1.3v1.3h-1.3zM176.0 405.7h1.3v1.3h-1.3zM182.4 408.5h1.3v1.3h-1.3zM179.0 407.9h1.3v1.3h-1.3zM174.8 407.0h1.3v1.3h-1.3zM180.6 406.5h1.3v1.3h-1.3zM174.1 409.6h1.3v1.3h-1.3zM183.6 407.9h1.3v1.3h-1.3zM179.5 407.7h1.3v1.3h-1.3zM183.1 406.9h1.3v1.3h-1.3zM177.6 408.1h1.3v1.3h-1.3zM183.1 407.2h1.3v1.3h-1.3zM178.2 406.9h1.3v1.3h-1.3zM174.7 406.6h1.3v1.3h-1.3zM177.6 408.7h1.3v1.3h-1.3zM174.5 406.7h1.3v1.3h-1.3zM175.7 408.0h1.3v1.3h-1.3zM180.1 405.9h1.3v1.3h-1.3zM178.7 406.2h1.3v1.3h-1.3zM180.2 406.2h1.3v1.3h-1.3zM172.9 406.6h1.3v1.3h-1.3zM177.1 406.2h1.3v1.3h-1.3zM178.2 407.7h1.3v1.3h-1.3zM177.6 407.9h1.3v1.3h-1.3zM180.8 406.5h1.3v1.3h-1.3zM177.3 407.5h1.3v1.3h-1.3zM169.0 408.0h1.3v1.3h-1.3zM174.2 406.6h1.3v1.3h-1.3zM175.5 407.6h1.3v1.3h-1.3zM178.6 408.1h1.3v1.3h-1.3zM174.5 408.4h1.3v1.3h-1.3zM179.0 407.0h1.3v1.3h-1.3zM177.2 408.5h1.3v1.3h-1.3zM179.0 408.4h1.3v1.3h-1.3zM177.7 409.0h1.3v1.3h-1.3zM186.2 408.1h1.3v1.3h-1.3zM170.9 409.7h1.3v1.3h-1.3zM175.0 405.7h1.3v1.3h-1.3zM167.8 408.1h1.3v1.3h-1.3zM181.7 408.8h1.3v1.3h-1.3zM175.8 409.4h1.3v1.3h-1.3zM177.0 406.7h1.3v1.3h-1.3zM177.6 407.8h1.3v1.3h-1.3zM177.5 408.0h1.3v1.3h-1.3z" fill="#884c7c"/>
</g>
<rect x="123.30" y="347.50" width="84.5" height="84.0" fill="none" stroke="#777" stroke-width="0.8"/>
<line x1="150.80" y1="347.50" x2="150.80" y2="431.50" stroke="#333" stroke-width="0.9"/>
<line x1="123.30" y1="404.00" x2="207.80" y2="404.00" stroke="#333" stroke-width="0.9"/>
<line x1="120.80" y1="355.50" x2="123.30" y2="355.50" stroke="#444" stroke-width="0.8"/>
<line x1="120.80" y1="376.10" x2="123.30" y2="376.10" stroke="#444" stroke-width="0.8"/>
<line x1="120.80" y1="398.50" x2="123.30" y2="398.50" stroke="#444" stroke-width="0.8"/>
<line x1="120.80" y1="412.20" x2="123.30" y2="412.20" stroke="#444" stroke-width="0.8"/>
<line x1="120.80" y1="425.90" x2="123.30" y2="425.90" stroke="#444" stroke-width="0.8"/>
<line x1="122.00" y1="369.90" x2="123.30" y2="369.90" stroke="#777" stroke-width="0.5"/>
<line x1="122.00" y1="366.27" x2="123.30" y2="366.27" stroke="#777" stroke-width="0.5"/>
<line x1="122.00" y1="363.70" x2="123.30" y2="363.70" stroke="#777" stroke-width="0.5"/>
<line x1="122.00" y1="361.70" x2="123.30" y2="361.70" stroke="#777" stroke-width="0.5"/>
<line x1="122.00" y1="360.07" x2="123.30" y2="360.07" stroke="#777" stroke-width="0.5"/>
<line x1="122.00" y1="358.69" x2="123.30" y2="358.69" stroke="#777" stroke-width="0.5"/>
<line x1="122.00" y1="357.50" x2="123.30" y2="357.50" stroke="#777" stroke-width="0.5"/>
<line x1="122.00" y1="356.44" x2="123.30" y2="356.44" stroke="#777" stroke-width="0.5"/>
<line x1="122.00" y1="391.76" x2="123.30" y2="391.76" stroke="#777" stroke-width="0.5"/>
<line x1="122.00" y1="387.81" x2="123.30" y2="387.81" stroke="#777" stroke-width="0.5"/>
<line x1="122.00" y1="385.01" x2="123.30" y2="385.01" stroke="#777" stroke-width="0.5"/>
<line x1="122.00" y1="382.84" x2="123.30" y2="382.84" stroke="#777" stroke-width="0.5"/>
<line x1="122.00" y1="381.07" x2="123.30" y2="381.07" stroke="#777" stroke-width="0.5"/>
<line x1="122.00" y1="379.57" x2="123.30" y2="379.57" stroke="#777" stroke-width="0.5"/>
<line x1="122.00" y1="378.27" x2="123.30" y2="378.27" stroke="#777" stroke-width="0.5"/>
<line x1="122.00" y1="377.12" x2="123.30" y2="377.12" stroke="#777" stroke-width="0.5"/>
<line x1="128.30" y1="431.50" x2="128.30" y2="434.00" stroke="#444" stroke-width="0.8"/>
<line x1="142.80" y1="431.50" x2="142.80" y2="434.00" stroke="#444" stroke-width="0.8"/>
<line x1="156.30" y1="431.50" x2="156.30" y2="434.00" stroke="#444" stroke-width="0.8"/>
<line x1="180.10" y1="431.50" x2="180.10" y2="434.00" stroke="#444" stroke-width="0.8"/>
<line x1="201.30" y1="431.50" x2="201.30" y2="434.00" stroke="#444" stroke-width="0.8"/>
<line x1="163.46" y1="431.50" x2="163.46" y2="432.80" stroke="#777" stroke-width="0.5"/>
<line x1="167.66" y1="431.50" x2="167.66" y2="432.80" stroke="#777" stroke-width="0.5"/>
<line x1="170.63" y1="431.50" x2="170.63" y2="432.80" stroke="#777" stroke-width="0.5"/>
<line x1="172.94" y1="431.50" x2="172.94" y2="432.80" stroke="#777" stroke-width="0.5"/>
<line x1="174.82" y1="431.50" x2="174.82" y2="432.80" stroke="#777" stroke-width="0.5"/>
<line x1="176.41" y1="431.50" x2="176.41" y2="432.80" stroke="#777" stroke-width="0.5"/>
<line x1="177.79" y1="431.50" x2="177.79" y2="432.80" stroke="#777" stroke-width="0.5"/>
<line x1="179.01" y1="431.50" x2="179.01" y2="432.80" stroke="#777" stroke-width="0.5"/>
<line x1="186.48" y1="431.50" x2="186.48" y2="432.80" stroke="#777" stroke-width="0.5"/>
<line x1="190.21" y1="431.50" x2="190.21" y2="432.80" stroke="#777" stroke-width="0.5"/>
<line x1="192.86" y1="431.50" x2="192.86" y2="432.80" stroke="#777" stroke-width="0.5"/>
<line x1="194.92" y1="431.50" x2="194.92" y2="432.80" stroke="#777" stroke-width="0.5"/>
<line x1="196.60" y1="431.50" x2="196.60" y2="432.80" stroke="#777" stroke-width="0.5"/>
<line x1="198.02" y1="431.50" x2="198.02" y2="432.80" stroke="#777" stroke-width="0.5"/>
<line x1="199.25" y1="431.50" x2="199.25" y2="432.80" stroke="#777" stroke-width="0.5"/>
<line x1="200.33" y1="431.50" x2="200.33" y2="432.80" stroke="#777" stroke-width="0.5"/>
<text x="106.35" y="358.00" font-size="7.2" fill="#111">10<tspan font-size="5.30" dy="-3.5">5</tspan></text>
<text x="106.35" y="378.60" font-size="7.2" fill="#111">10<tspan font-size="5.30" dy="-3.5">4</tspan></text>
<text x="106.35" y="401.00" font-size="7.2" fill="#111">10<tspan font-size="5.30" dy="-3.5">3</tspan></text>
<text x="117.30" y="414.70" font-size="7.2" text-anchor="end" font-weight="normal" fill="#111" >0</text>
<text x="102.14" y="428.40" font-size="7.2" fill="#111">−10<tspan font-size="5.30" dy="-3.5">3</tspan></text>
<text x="120.72" y="443.70" font-size="7.2" fill="#111">−10<tspan font-size="5.30" dy="-3.5">3</tspan></text>
<text x="142.80" y="443.70" font-size="7.2" text-anchor="middle" font-weight="normal" fill="#111" >0</text>
<text x="150.82" y="443.70" font-size="7.2" fill="#111">10<tspan font-size="5.30" dy="-3.5">3</tspan></text>
<text x="174.62" y="443.70" font-size="7.2" fill="#111">10<tspan font-size="5.30" dy="-3.5">4</tspan></text>
<text x="195.82" y="443.70" font-size="7.2" fill="#111">10<tspan font-size="5.30" dy="-3.5">5</tspan></text>
<rect x="121.70" y="410.70" width="2" height="3" fill="#111"/>
<rect x="140.80" y="430.90" width="4" height="1.8" fill="#111"/>
<text x="124.80" y="354.50" font-size="6.4" text-anchor="start" font-weight="bold" fill="#222" >0</text>
<text x="125.00" y="426.50" font-size="6.4" text-anchor="start" font-weight="bold" fill="#222" >0</text>
<text x="206.00" y="354.40" font-size="5.7" text-anchor="end" font-weight="bold" fill="#000" >62.2 %</text>
<text x="203.90" y="427.10" font-size="5.7" text-anchor="end" font-weight="bold" fill="#000" >37.8 %</text>
<text x="125.40" y="342.70" font-size="7.3" text-anchor="start" font-weight="normal" fill="#111" >+ SFLLRN</text>
<g filter="url(#bl)">
<path d="M293.0 390.8h1.0v1.0h-1.0zM287.7 363.3h1.0v1.0h-1.0zM279.5 383.0h1.0v1.0h-1.0zM287.5 387.7h1.0v1.0h-1.0zM285.8 388.2h1.0v1.0h-1.0zM284.1 389.8h1.0v1.0h-1.0zM291.9 370.8h1.0v1.0h-1.0zM288.7 383.9h1.0v1.0h-1.0zM282.8 377.6h1.0v1.0h-1.0zM293.2 363.5h1.0v1.0h-1.0zM293.2 384.1h1.0v1.0h-1.0zM293.9 366.9h1.0v1.0h-1.0zM281.1 389.7h1.0v1.0h-1.0zM293.2 372.3h1.0v1.0h-1.0zM281.1 360.2h1.0v1.0h-1.0zM290.3 364.8h1.0v1.0h-1.0zM295.7 379.3h1.0v1.0h-1.0zM282.9 382.6h1.0v1.0h-1.0zM285.6 396.2h1.0v1.0h-1.0zM295.0 375.7h1.0v1.0h-1.0zM290.5 384.7h1.0v1.0h-1.0zM293.2 398.3h1.0v1.0h-1.0zM280.0 368.2h1.0v1.0h-1.0zM289.7 365.4h1.0v1.0h-1.0zM289.5 354.9h1.0v1.0h-1.0zM294.5 376.2h1.0v1.0h-1.0zM281.5 383.0h1.0v1.0h-1.0zM284.8 360.1h1.0v1.0h-1.0zM287.7 357.3h1.0v1.0h-1.0zM283.1 392.9h1.0v1.0h-1.0zM291.4 351.1h1.0v1.0h-1.0zM292.7 351.3h1.0v1.0h-1.0zM285.2 394.8h1.0v1.0h-1.0zM290.0 365.5h1.0v1.0h-1.0zM285.9 369.6h1.0v1.0h-1.0zM281.7 399.5h1.0v1.0h-1.0zM280.4 371.2h1.0v1.0h-1.0zM292.2 370.0h1.0v1.0h-1.0zM296.2 362.5h1.0v1.0h-1.0zM296.1 394.2h1.0v1.0h-1.0zM290.9 394.1h1.0v1.0h-1.0zM287.1 391.2h1.0v1.0h-1.0zM293.0 375.8h1.0v1.0h-1.0zM287.5 385.1h1.0v1.0h-1.0zM286.5 354.7h1.0v1.0h-1.0zM292.2 363.5h1.0v1.0h-1.0zM287.8 388.9h1.0v1.0h-1.0zM282.4 351.6h1.0v1.0h-1.0zM281.6 379.4h1.0v1.0h-1.0zM285.6 363.1h1.0v1.0h-1.0zM287.2 396.0h1.0v1.0h-1.0zM283.8 370.6h1.0v1.0h-1.0zM294.4 380.5h1.0v1.0h-1.0zM284.1 373.8h1.0v1.0h-1.0zM287.6 357.5h1.0v1.0h-1.0zM285.9 365.5h1.0v1.0h-1.0zM293.2 366.3h1.0v1.0h-1.0zM290.7 398.1h1.0v1.0h-1.0zM295.2 368.9h1.0v1.0h-1.0zM289.8 366.2h1.0v1.0h-1.0zM286.3 374.4h1.0v1.0h-1.0zM293.0 396.4h1.0v1.0h-1.0zM284.4 350.8h1.0v1.0h-1.0zM287.1 353.3h1.0v1.0h-1.0zM280.0 388.4h1.0v1.0h-1.0zM281.4 385.7h1.0v1.0h-1.0zM285.7 396.5h1.0v1.0h-1.0zM294.0 353.6h1.0v1.0h-1.0zM282.8 396.9h1.0v1.0h-1.0zM289.9 371.2h1.0v1.0h-1.0zM292.8 390.4h1.0v1.0h-1.0zM287.9 373.5h1.0v1.0h-1.0zM281.2 368.2h1.0v1.0h-1.0zM282.0 381.2h1.0v1.0h-1.0zM289.8 357.6h1.0v1.0h-1.0zM290.2 355.3h1.0v1.0h-1.0zM281.3 382.1h1.0v1.0h-1.0zM287.4 394.6h1.0v1.0h-1.0zM290.2 384.9h1.0v1.0h-1.0zM281.7 391.3h1.0v1.0h-1.0z" fill="#a9aae0"/>
<path d="M308.2 383.1h1.0v1.0h-1.0zM310.5 362.8h1.0v1.0h-1.0zM307.0 368.0h1.0v1.0h-1.0zM301.9 357.2h1.0v1.0h-1.0zM309.5 395.5h1.0v1.0h-1.0zM307.2 369.1h1.0v1.0h-1.0zM304.7 363.7h1.0v1.0h-1.0zM303.1 392.6h1.0v1.0h-1.0zM309.8 383.2h1.0v1.0h-1.0zM306.8 374.3h1.0v1.0h-1.0zM305.4 373.8h1.0v1.0h-1.0zM305.8 368.6h1.0v1.0h-1.0zM307.6 373.0h1.0v1.0h-1.0zM304.8 374.2h1.0v1.0h-1.0zM309.5 385.9h1.0v1.0h-1.0zM301.2 365.1h1.0v1.0h-1.0zM306.1 376.9h1.0v1.0h-1.0zM303.2 378.1h1.0v1.0h-1.0zM310.0 374.7h1.0v1.0h-1.0zM309.2 370.2h1.0v1.0h-1.0zM303.2 379.2h1.0v1.0h-1.0zM303.8 370.1h1.0v1.0h-1.0zM300.3 371.9h1.0v1.0h-1.0zM302.6 375.6h1.0v1.0h-1.0zM307.8 381.5h1.0v1.0h-1.0zM308.2 378.1h1.0v1.0h-1.0zM305.7 382.7h1.0v1.0h-1.0zM306.6 387.1h1.0v1.0h-1.0zM302.1 380.5h1.0v1.0h-1.0zM304.8 389.4h1.0v1.0h-1.0zM307.1 369.4h1.0v1.0h-1.0zM305.6 383.7h1.0v1.0h-1.0zM304.3 389.8h1.0v1.0h-1.0zM305.0 361.6h1.0v1.0h-1.0zM305.2 384.5h1.0v1.0h-1.0zM301.2 383.6h1.0v1.0h-1.0zM294.3 398.4h1.0v1.0h-1.0zM299.1 370.4h1.0v1.0h-1.0zM302.9 360.0h1.0v1.0h-1.0zM305.1 365.5h1.0v1.0h-1.0zM299.3 350.0h1.0v1.0h-1.0zM306.5 388.7h1.0v1.0h-1.0zM303.1 378.1h1.0v1.0h-1.0zM309.7 380.1h1.0v1.0h-1.0zM308.1 386.9h1.0v1.0h-1.0zM306.7 381.7h1.0v1.0h-1.0zM308.3 378.3h1.0v1.0h-1.0zM304.6 367.8h1.0v1.0h-1.0zM296.7 365.6h1.0v1.0h-1.0zM302.9 387.5h1.0v1.0h-1.0zM302.9 353.8h1.0v1.0h-1.0zM306.5 389.6h1.0v1.0h-1.0zM305.2 379.2h1.0v1.0h-1.0zM305.1 375.1h1.0v1.0h-1.0zM309.1 366.7h1.0v1.0h-1.0zM301.5 359.6h1.0v1.0h-1.0zM302.3 368.1h1.0v1.0h-1.0zM301.8 378.1h1.0v1.0h-1.0zM307.9 360.7h1.0v1.0h-1.0zM304.6 368.1h1.0v1.0h-1.0zM301.8 370.9h1.0v1.0h-1.0zM305.5 357.9h1.0v1.0h-1.0zM309.5 375.0h1.0v1.0h-1.0zM301.6 358.1h1.0v1.0h-1.0zM307.9 383.7h1.0v1.0h-1.0zM307.3 377.6h1.0v1.0h-1.0zM310.3 393.5h1.0v1.0h-1.0zM311.8 379.8h1.0v1.0h-1.0zM307.5 371.7h1.0v1.0h-1.0zM304.6 372.4h1.0v1.0h-1.0zM304.3 376.7h1.0v1.0h-1.0zM304.2 375.8h1.0v1.0h-1.0zM304.7 371.4h1.0v1.0h-1.0zM301.6 370.8h1.0v1.0h-1.0zM306.5 384.0h1.0v1.0h-1.0zM308.0 403.0h1.0v1.0h-1.0zM300.5 385.3h1.0v1.0h-1.0zM299.5 369.5h1.0v1.0h-1.0zM301.2 376.6h1.0v1.0h-1.0zM308.8 392.9h1.0v1.0h-1.0zM305.3 386.7h1.0v1.0h-1.0zM305.6 362.0h1.0v1.0h-1.0zM310.0 369.1h1.0v1.0h-1.0zM302.2 375.0h1.0v1.0h-1.0zM300.7 368.6h1.0v1.0h-1.0zM306.8 365.2h1.0v1.0h-1.0zM301.8 356.6h1.0v1.0h-1.0zM297.4 379.4h1.0v1.0h-1.0zM305.6 371.7h1.0v1.0h-1.0zM310.2 364.7h1.0v1.0h-1.0zM305.9 367.6h1.0v1.0h-1.0zM304.0 381.4h1.0v1.0h-1.0zM299.3 391.2h1.0v1.0h-1.0zM303.8 376.4h1.0v1.0h-1.0zM303.5 379.8h1.0v1.0h-1.0zM299.7 362.4h1.0v1.0h-1.0zM305.4 373.4h1.0v1.0h-1.0zM302.7 379.4h1.0v1.0h-1.0zM309.6 364.3h1.0v1.0h-1.0zM295.4 372.1h1.0v1.0h-1.0zM298.0 373.1h1.0v1.0h-1.0zM300.7 376.3h1.0v1.0h-1.0zM310.7 374.8h1.0v1.0h-1.0zM298.1 363.5h1.0v1.0h-1.0zM300.3 359.6h1.0v1.0h-1.0zM305.7 377.9h1.0v1.0h-1.0zM307.7 385.0h1.0v1.0h-1.0zM303.6 369.2h1.0v1.0h-1.0zM302.3 375.3h1.0v1.0h-1.0zM301.7 357.8h1.0v1.0h-1.0zM312.4 391.4h1.0v1.0h-1.0zM303.1 370.6h1.0v1.0h-1.0zM302.8 380.7h1.0v1.0h-1.0zM302.9 351.2h1.0v1.0h-1.0zM305.0 381.8h1.0v1.0h-1.0zM299.2 359.7h1.0v1.0h-1.0zM303.7 363.4h1.0v1.0h-1.0zM307.7 385.2h1.0v1.0h-1.0zM297.9 381.0h1.0v1.0h-1.0zM298.9 367.7h1.0v1.0h-1.0zM308.8 372.7h1.0v1.0h-1.0zM306.4 370.9h1.0v1.0h-1.0zM311.2 375.7h1.0v1.0h-1.0zM314.9 382.0h1.0v1.0h-1.0zM302.8 376.6h1.0v1.0h-1.0zM303.1 392.9h1.0v1.0h-1.0zM300.3 385.7h1.0v1.0h-1.0zM309.3 388.0h1.0v1.0h-1.0zM299.4 390.4h1.0v1.0h-1.0zM307.1 388.5h1.0v1.0h-1.0zM300.5 377.7h1.0v1.0h-1.0zM308.3 377.1h1.0v1.0h-1.0zM304.9 371.1h1.0v1.0h-1.0zM303.5 376.1h1.0v1.0h-1.0zM313.2 374.4h1.0v1.0h-1.0zM302.3 364.2h1.0v1.0h-1.0zM305.6 377.9h1.0v1.0h-1.0zM302.3 356.7h1.0v1.0h-1.0zM310.9 374.0h1.0v1.0h-1.0zM301.5 378.7h1.0v1.0h-1.0zM300.9 372.9h1.0v1.0h-1.0zM297.0 369.2h1.0v1.0h-1.0zM294.6 384.5h1.0v1.0h-1.0zM303.8 372.2h1.0v1.0h-1.0zM303.9 359.3h1.0v1.0h-1.0zM303.8 374.9h1.0v1.0h-1.0zM307.0 366.6h1.0v1.0h-1.0zM301.9 374.0h1.0v1.0h-1.0zM304.6 375.9h1.0v1.0h-1.0zM304.7 384.6h1.0v1.0h-1.0zM304.7 378.6h1.0v1.0h-1.0zM303.2 358.5h1.0v1.0h-1.0zM305.8 370.3h1.0v1.0h-1.0zM303.4 360.9h1.0v1.0h-1.0zM310.0 387.5h1.0v1.0h-1.0zM302.6 381.0h1.0v1.0h-1.0zM307.2 398.3h1.0v1.0h-1.0zM304.6 386.2h1.0v1.0h-1.0zM300.8 372.5h1.0v1.0h-1.0zM303.2 371.6h1.0v1.0h-1.0zM299.8 381.7h1.0v1.0h-1.0zM300.5 365.3h1.0v1.0h-1.0zM303.4 391.1h1.0v1.0h-1.0zM308.0 373.3h1.0v1.0h-1.0zM299.9 359.0h1.0v1.0h-1.0zM304.0 384.1h1.0v1.0h-1.0zM306.9 373.8h1.0v1.0h-1.0zM301.0 380.2h1.0v1.0h-1.0zM308.4 374.9h1.0v1.0h-1.0zM305.7 371.5h1.0v1.0h-1.0z" fill="#8482c8"/>
<path d="M303.5 384.1h1.1v1.1h-1.1zM302.8 383.6h1.1v1.1h-1.1zM303.2 375.4h1.1v1.1h-1.1zM305.6 379.7h1.1v1.1h-1.1zM302.8 374.7h1.1v1.1h-1.1zM304.0 375.8h1.1v1.1h-1.1zM303.8 380.6h1.1v1.1h-1.1zM302.0 380.7h1.1v1.1h-1.1zM305.9 367.9h1.1v1.1h-1.1zM303.9 370.6h1.1v1.1h-1.1zM300.8 375.8h1.1v1.1h-1.1zM305.2 372.7h1.1v1.1h-1.1zM304.6 375.7h1.1v1.1h-1.1zM300.0 374.3h1.1v1.1h-1.1zM306.0 384.1h1.1v1.1h-1.1zM301.5 366.2h1.1v1.1h-1.1zM304.8 373.8h1.1v1.1h-1.1zM304.3 372.4h1.1v1.1h-1.1zM305.5 379.6h1.1v1.1h-1.1zM303.2 375.7h1.1v1.1h-1.1zM303.8 379.2h1.1v1.1h-1.1zM304.6 377.6h1.1v1.1h-1.1zM305.4 376.1h1.1v1.1h-1.1zM303.0 381.0h1.1v1.1h-1.1zM303.1 367.7h1.1v1.1h-1.1zM302.2 375.9h1.1v1.1h-1.1zM303.0 372.9h1.1v1.1h-1.1zM304.4 378.1h1.1v1.1h-1.1zM303.5 372.6h1.1v1.1h-1.1zM304.3 381.0h1.1v1.1h-1.1zM301.3 372.1h1.1v1.1h-1.1zM301.7 371.1h1.1v1.1h-1.1zM305.6 387.9h1.1v1.1h-1.1zM303.8 369.4h1.1v1.1h-1.1zM301.9 380.3h1.1v1.1h-1.1zM306.1 381.4h1.1v1.1h-1.1zM305.6 372.2h1.1v1.1h-1.1zM302.5 375.5h1.1v1.1h-1.1zM305.6 372.4h1.1v1.1h-1.1zM302.0 382.8h1.1v1.1h-1.1z" fill="#6e78c8"/>
</g>
<rect x="244.50" y="347.50" width="84.5" height="84.0" fill="none" stroke="#777" stroke-width="0.8"/>
<line x1="271.30" y1="347.50" x2="271.30" y2="431.50" stroke="#333" stroke-width="0.9"/>
<line x1="244.50" y1="405.00" x2="329.00" y2="405.00" stroke="#333" stroke-width="0.9"/>
<line x1="242.00" y1="355.50" x2="244.50" y2="355.50" stroke="#444" stroke-width="0.8"/>
<line x1="242.00" y1="376.10" x2="244.50" y2="376.10" stroke="#444" stroke-width="0.8"/>
<line x1="242.00" y1="398.50" x2="244.50" y2="398.50" stroke="#444" stroke-width="0.8"/>
<line x1="242.00" y1="412.20" x2="244.50" y2="412.20" stroke="#444" stroke-width="0.8"/>
<line x1="242.00" y1="425.90" x2="244.50" y2="425.90" stroke="#444" stroke-width="0.8"/>
<line x1="243.20" y1="369.90" x2="244.50" y2="369.90" stroke="#777" stroke-width="0.5"/>
<line x1="243.20" y1="366.27" x2="244.50" y2="366.27" stroke="#777" stroke-width="0.5"/>
<line x1="243.20" y1="363.70" x2="244.50" y2="363.70" stroke="#777" stroke-width="0.5"/>
<line x1="243.20" y1="361.70" x2="244.50" y2="361.70" stroke="#777" stroke-width="0.5"/>
<line x1="243.20" y1="360.07" x2="244.50" y2="360.07" stroke="#777" stroke-width="0.5"/>
<line x1="243.20" y1="358.69" x2="244.50" y2="358.69" stroke="#777" stroke-width="0.5"/>
<line x1="243.20" y1="357.50" x2="244.50" y2="357.50" stroke="#777" stroke-width="0.5"/>
<line x1="243.20" y1="356.44" x2="244.50" y2="356.44" stroke="#777" stroke-width="0.5"/>
<line x1="243.20" y1="391.76" x2="244.50" y2="391.76" stroke="#777" stroke-width="0.5"/>
<line x1="243.20" y1="387.81" x2="244.50" y2="387.81" stroke="#777" stroke-width="0.5"/>
<line x1="243.20" y1="385.01" x2="244.50" y2="385.01" stroke="#777" stroke-width="0.5"/>
<line x1="243.20" y1="382.84" x2="244.50" y2="382.84" stroke="#777" stroke-width="0.5"/>
<line x1="243.20" y1="381.07" x2="244.50" y2="381.07" stroke="#777" stroke-width="0.5"/>
<line x1="243.20" y1="379.57" x2="244.50" y2="379.57" stroke="#777" stroke-width="0.5"/>
<line x1="243.20" y1="378.27" x2="244.50" y2="378.27" stroke="#777" stroke-width="0.5"/>
<line x1="243.20" y1="377.12" x2="244.50" y2="377.12" stroke="#777" stroke-width="0.5"/>
<line x1="249.50" y1="431.50" x2="249.50" y2="434.00" stroke="#444" stroke-width="0.8"/>
<line x1="264.00" y1="431.50" x2="264.00" y2="434.00" stroke="#444" stroke-width="0.8"/>
<line x1="277.50" y1="431.50" x2="277.50" y2="434.00" stroke="#444" stroke-width="0.8"/>
<line x1="301.30" y1="431.50" x2="301.30" y2="434.00" stroke="#444" stroke-width="0.8"/>
<line x1="322.50" y1="431.50" x2="322.50" y2="434.00" stroke="#444" stroke-width="0.8"/>
<line x1="284.66" y1="431.50" x2="284.66" y2="432.80" stroke="#777" stroke-width="0.5"/>
<line x1="288.86" y1="431.50" x2="288.86" y2="432.80" stroke="#777" stroke-width="0.5"/>
<line x1="291.83" y1="431.50" x2="291.83" y2="432.80" stroke="#777" stroke-width="0.5"/>
<line x1="294.14" y1="431.50" x2="294.14" y2="432.80" stroke="#777" stroke-width="0.5"/>
<line x1="296.02" y1="431.50" x2="296.02" y2="432.80" stroke="#777" stroke-width="0.5"/>
<line x1="297.61" y1="431.50" x2="297.61" y2="432.80" stroke="#777" stroke-width="0.5"/>
<line x1="298.99" y1="431.50" x2="298.99" y2="432.80" stroke="#777" stroke-width="0.5"/>
<line x1="300.21" y1="431.50" x2="300.21" y2="432.80" stroke="#777" stroke-width="0.5"/>
<line x1="307.68" y1="431.50" x2="307.68" y2="432.80" stroke="#777" stroke-width="0.5"/>
<line x1="311.41" y1="431.50" x2="311.41" y2="432.80" stroke="#777" stroke-width="0.5"/>
<line x1="314.06" y1="431.50" x2="314.06" y2="432.80" stroke="#777" stroke-width="0.5"/>
<line x1="316.12" y1="431.50" x2="316.12" y2="432.80" stroke="#777" stroke-width="0.5"/>
<line x1="317.80" y1="431.50" x2="317.80" y2="432.80" stroke="#777" stroke-width="0.5"/>
<line x1="319.22" y1="431.50" x2="319.22" y2="432.80" stroke="#777" stroke-width="0.5"/>
<line x1="320.45" y1="431.50" x2="320.45" y2="432.80" stroke="#777" stroke-width="0.5"/>
<line x1="321.53" y1="431.50" x2="321.53" y2="432.80" stroke="#777" stroke-width="0.5"/>
<text x="227.55" y="358.00" font-size="7.2" fill="#111">10<tspan font-size="5.30" dy="-3.5">5</tspan></text>
<text x="227.55" y="378.60" font-size="7.2" fill="#111">10<tspan font-size="5.30" dy="-3.5">4</tspan></text>
<text x="227.55" y="401.00" font-size="7.2" fill="#111">10<tspan font-size="5.30" dy="-3.5">3</tspan></text>
<text x="238.50" y="414.70" font-size="7.2" text-anchor="end" font-weight="normal" fill="#111" >0</text>
<text x="223.34" y="428.40" font-size="7.2" fill="#111">−10<tspan font-size="5.30" dy="-3.5">3</tspan></text>
<text x="241.92" y="443.70" font-size="7.2" fill="#111">−10<tspan font-size="5.30" dy="-3.5">3</tspan></text>
<text x="264.00" y="443.70" font-size="7.2" text-anchor="middle" font-weight="normal" fill="#111" >0</text>
<text x="272.02" y="443.70" font-size="7.2" fill="#111">10<tspan font-size="5.30" dy="-3.5">3</tspan></text>
<text x="295.82" y="443.70" font-size="7.2" fill="#111">10<tspan font-size="5.30" dy="-3.5">4</tspan></text>
<text x="317.02" y="443.70" font-size="7.2" fill="#111">10<tspan font-size="5.30" dy="-3.5">5</tspan></text>
<rect x="242.90" y="410.70" width="2" height="3" fill="#111"/>
<rect x="262.00" y="430.90" width="4" height="1.8" fill="#111"/>
<text x="246.00" y="354.50" font-size="6.4" text-anchor="start" font-weight="bold" fill="#222" >0</text>
<text x="246.20" y="426.50" font-size="6.4" text-anchor="start" font-weight="bold" fill="#222" >0</text>
<text x="327.20" y="354.40" font-size="5.7" text-anchor="end" font-weight="bold" fill="#000" >99.7 %</text>
<text x="325.10" y="427.10" font-size="5.7" text-anchor="end" font-weight="bold" fill="#000" >0.3 %</text>
<text x="247.80" y="342.70" font-size="7.3" text-anchor="start" font-weight="normal" fill="#111" >+ SFLLRN</text>
<g filter="url(#bl)">
<path d="M130.5 550.8h1.0v1.0h-1.0zM130.4 536.4h1.0v1.0h-1.0zM126.6 558.6h1.0v1.0h-1.0zM128.5 557.7h1.0v1.0h-1.0zM126.7 532.8h1.0v1.0h-1.0zM127.9 538.0h1.0v1.0h-1.0zM128.4 554.8h1.0v1.0h-1.0zM126.1 546.2h1.0v1.0h-1.0zM132.8 561.5h1.0v1.0h-1.0zM125.9 553.7h1.0v1.0h-1.0zM136.9 570.9h1.0v1.0h-1.0zM129.4 549.3h1.0v1.0h-1.0zM129.3 541.7h1.0v1.0h-1.0zM130.2 566.9h1.0v1.0h-1.0zM123.8 543.9h1.0v1.0h-1.0zM125.0 552.8h1.0v1.0h-1.0zM128.8 559.0h1.0v1.0h-1.0zM127.9 545.3h1.0v1.0h-1.0zM124.1 563.1h1.0v1.0h-1.0zM129.1 560.2h1.0v1.0h-1.0zM125.4 555.8h1.0v1.0h-1.0zM135.0 563.6h1.0v1.0h-1.0zM124.0 547.2h1.0v1.0h-1.0zM124.9 568.4h1.0v1.0h-1.0zM124.5 564.5h1.0v1.0h-1.0zM134.9 540.0h1.0v1.0h-1.0zM127.6 554.5h1.0v1.0h-1.0zM125.2 557.1h1.0v1.0h-1.0zM125.7 533.0h1.0v1.0h-1.0zM121.4 559.8h1.0v1.0h-1.0zM124.6 568.4h1.0v1.0h-1.0zM133.5 560.5h1.0v1.0h-1.0zM119.8 560.1h1.0v1.0h-1.0zM130.0 570.2h1.0v1.0h-1.0zM126.8 556.6h1.0v1.0h-1.0zM126.2 563.7h1.0v1.0h-1.0zM135.5 562.1h1.0v1.0h-1.0zM127.2 549.1h1.0v1.0h-1.0zM127.1 553.3h1.0v1.0h-1.0zM126.8 556.1h1.0v1.0h-1.0zM128.3 543.2h1.0v1.0h-1.0zM128.6 565.6h1.0v1.0h-1.0zM127.5 540.8h1.0v1.0h-1.0zM132.2 568.3h1.0v1.0h-1.0zM124.5 537.1h1.0v1.0h-1.0zM129.4 568.6h1.0v1.0h-1.0zM130.0 566.9h1.0v1.0h-1.0zM125.2 554.4h1.0v1.0h-1.0zM134.3 552.3h1.0v1.0h-1.0zM122.7 542.1h1.0v1.0h-1.0zM127.7 543.6h1.0v1.0h-1.0zM130.4 556.9h1.0v1.0h-1.0zM127.5 560.3h1.0v1.0h-1.0zM127.8 554.6h1.0v1.0h-1.0zM119.3 552.7h1.0v1.0h-1.0zM123.1 563.4h1.0v1.0h-1.0zM123.0 558.0h1.0v1.0h-1.0zM125.2 534.7h1.0v1.0h-1.0zM129.3 569.0h1.0v1.0h-1.0zM118.2 566.4h1.0v1.0h-1.0zM126.1 553.6h1.0v1.0h-1.0zM128.7 561.7h1.0v1.0h-1.0zM129.0 535.5h1.0v1.0h-1.0zM128.3 542.8h1.0v1.0h-1.0zM127.6 551.5h1.0v1.0h-1.0zM127.5 542.2h1.0v1.0h-1.0zM127.1 538.8h1.0v1.0h-1.0zM128.3 568.4h1.0v1.0h-1.0zM129.4 561.1h1.0v1.0h-1.0zM129.7 551.8h1.0v1.0h-1.0zM132.5 552.5h1.0v1.0h-1.0zM134.3 571.3h1.0v1.0h-1.0zM125.9 556.3h1.0v1.0h-1.0zM127.6 538.8h1.0v1.0h-1.0zM126.9 551.6h1.0v1.0h-1.0zM132.9 542.8h1.0v1.0h-1.0zM129.9 530.8h1.0v1.0h-1.0zM126.4 541.9h1.0v1.0h-1.0zM132.4 558.9h1.0v1.0h-1.0zM128.5 571.0h1.0v1.0h-1.0zM126.3 568.1h1.0v1.0h-1.0zM124.8 552.6h1.0v1.0h-1.0zM128.0 543.1h1.0v1.0h-1.0zM121.9 565.9h1.0v1.0h-1.0zM128.6 551.1h1.0v1.0h-1.0zM136.5 571.1h1.0v1.0h-1.0zM130.5 567.8h1.0v1.0h-1.0zM119.7 564.8h1.0v1.0h-1.0zM124.5 546.4h1.0v1.0h-1.0zM127.3 531.7h1.0v1.0h-1.0zM127.2 531.5h1.0v1.0h-1.0zM130.9 563.4h1.0v1.0h-1.0zM116.6 570.4h1.0v1.0h-1.0zM131.3 571.2h1.0v1.0h-1.0zM125.2 570.4h1.0v1.0h-1.0zM129.2 546.4h1.0v1.0h-1.0zM128.7 544.8h1.0v1.0h-1.0zM134.0 569.0h1.0v1.0h-1.0zM120.7 567.5h1.0v1.0h-1.0zM128.4 566.4h1.0v1.0h-1.0zM124.6 537.5h1.0v1.0h-1.0zM119.0 566.0h1.0v1.0h-1.0zM124.7 565.1h1.0v1.0h-1.0zM127.9 566.1h1.0v1.0h-1.0zM130.4 551.2h1.0v1.0h-1.0zM118.1 553.7h1.0v1.0h-1.0zM133.1 553.9h1.0v1.0h-1.0zM125.9 543.3h1.0v1.0h-1.0zM131.0 540.6h1.0v1.0h-1.0zM135.7 566.6h1.0v1.0h-1.0zM131.2 541.9h1.0v1.0h-1.0zM116.7 562.4h1.0v1.0h-1.0zM125.7 551.9h1.0v1.0h-1.0zM127.2 529.2h1.0v1.0h-1.0zM123.9 570.8h1.0v1.0h-1.0zM122.7 569.9h1.0v1.0h-1.0zM132.4 555.1h1.0v1.0h-1.0zM123.3 545.6h1.0v1.0h-1.0zM126.9 547.6h1.0v1.0h-1.0zM130.5 560.3h1.0v1.0h-1.0zM126.0 547.9h1.0v1.0h-1.0zM128.7 569.3h1.0v1.0h-1.0zM122.9 552.1h1.0v1.0h-1.0zM129.2 569.1h1.0v1.0h-1.0zM131.4 554.6h1.0v1.0h-1.0zM125.1 558.5h1.0v1.0h-1.0zM131.8 558.2h1.0v1.0h-1.0zM127.9 544.0h1.0v1.0h-1.0zM127.8 526.5h1.0v1.0h-1.0zM125.2 556.5h1.0v1.0h-1.0zM123.8 564.4h1.0v1.0h-1.0zM126.3 558.1h1.0v1.0h-1.0zM127.9 559.3h1.0v1.0h-1.0zM125.6 559.4h1.0v1.0h-1.0zM126.6 547.4h1.0v1.0h-1.0zM134.3 557.7h1.0v1.0h-1.0zM128.1 559.5h1.0v1.0h-1.0zM119.1 555.5h1.0v1.0h-1.0zM122.4 561.1h1.0v1.0h-1.0zM127.3 563.5h1.0v1.0h-1.0zM123.2 555.8h1.0v1.0h-1.0zM126.3 570.1h1.0v1.0h-1.0zM135.0 563.6h1.0v1.0h-1.0zM122.0 548.0h1.0v1.0h-1.0zM134.9 559.4h1.0v1.0h-1.0zM125.6 541.3h1.0v1.0h-1.0zM126.5 540.2h1.0v1.0h-1.0zM127.9 547.0h1.0v1.0h-1.0zM125.4 536.5h1.0v1.0h-1.0zM120.1 569.0h1.0v1.0h-1.0zM126.6 542.4h1.0v1.0h-1.0zM123.4 541.7h1.0v1.0h-1.0zM130.8 568.6h1.0v1.0h-1.0zM126.8 570.3h1.0v1.0h-1.0zM116.3 553.8h1.0v1.0h-1.0zM128.6 567.3h1.0v1.0h-1.0zM124.3 542.8h1.0v1.0h-1.0zM129.3 551.5h1.0v1.0h-1.0zM125.5 544.7h1.0v1.0h-1.0zM130.4 530.2h1.0v1.0h-1.0zM126.8 559.2h1.0v1.0h-1.0zM127.7 551.1h1.0v1.0h-1.0zM125.9 561.4h1.0v1.0h-1.0zM127.4 571.1h1.0v1.0h-1.0zM129.6 566.1h1.0v1.0h-1.0zM127.2 548.2h1.0v1.0h-1.0zM127.8 533.1h1.0v1.0h-1.0zM125.3 540.8h1.0v1.0h-1.0zM133.4 554.7h1.0v1.0h-1.0zM124.3 547.9h1.0v1.0h-1.0zM130.7 542.1h1.0v1.0h-1.0zM124.7 563.7h1.0v1.0h-1.0zM131.1 537.9h1.0v1.0h-1.0zM129.5 554.8h1.0v1.0h-1.0zM130.7 536.4h1.0v1.0h-1.0zM125.0 566.5h1.0v1.0h-1.0zM128.1 537.4h1.0v1.0h-1.0zM126.1 568.1h1.0v1.0h-1.0zM124.9 555.8h1.0v1.0h-1.0zM132.7 569.7h1.0v1.0h-1.0zM130.3 548.3h1.0v1.0h-1.0zM130.3 546.9h1.0v1.0h-1.0zM128.0 539.4h1.0v1.0h-1.0zM128.3 545.1h1.0v1.0h-1.0zM125.5 550.3h1.0v1.0h-1.0zM132.9 549.3h1.0v1.0h-1.0zM129.1 557.4h1.0v1.0h-1.0zM129.1 530.0h1.0v1.0h-1.0zM132.8 547.5h1.0v1.0h-1.0zM128.1 559.1h1.0v1.0h-1.0zM120.5 544.4h1.0v1.0h-1.0zM128.5 539.1h1.0v1.0h-1.0zM122.5 566.9h1.0v1.0h-1.0zM129.8 567.4h1.0v1.0h-1.0zM121.9 553.6h1.0v1.0h-1.0zM127.2 571.1h1.0v1.0h-1.0zM130.2 551.6h1.0v1.0h-1.0zM121.7 561.8h1.0v1.0h-1.0zM126.8 554.0h1.0v1.0h-1.0zM128.3 540.8h1.0v1.0h-1.0zM127.4 536.3h1.0v1.0h-1.0zM125.3 542.9h1.0v1.0h-1.0zM130.3 537.5h1.0v1.0h-1.0zM120.1 562.8h1.0v1.0h-1.0zM127.6 549.0h1.0v1.0h-1.0zM130.7 556.0h1.0v1.0h-1.0zM125.4 542.6h1.0v1.0h-1.0zM128.8 570.6h1.0v1.0h-1.0zM124.0 570.8h1.0v1.0h-1.0zM126.4 570.7h1.0v1.0h-1.0zM127.4 550.2h1.0v1.0h-1.0zM127.6 553.2h1.0v1.0h-1.0zM124.9 556.6h1.0v1.0h-1.0zM127.5 557.6h1.0v1.0h-1.0zM127.4 526.9h1.0v1.0h-1.0zM129.1 553.8h1.0v1.0h-1.0zM129.4 533.3h1.0v1.0h-1.0zM127.9 546.7h1.0v1.0h-1.0zM120.7 560.2h1.0v1.0h-1.0zM126.2 562.4h1.0v1.0h-1.0zM130.7 564.1h1.0v1.0h-1.0zM125.1 550.9h1.0v1.0h-1.0zM132.2 571.1h1.0v1.0h-1.0zM133.1 562.0h1.0v1.0h-1.0zM129.9 533.5h1.0v1.0h-1.0zM119.8 561.5h1.0v1.0h-1.0zM128.4 564.6h1.0v1.0h-1.0zM125.5 558.2h1.0v1.0h-1.0zM131.2 557.6h1.0v1.0h-1.0zM120.2 567.1h1.0v1.0h-1.0zM132.4 560.2h1.0v1.0h-1.0zM123.3 563.5h1.0v1.0h-1.0zM129.2 546.5h1.0v1.0h-1.0zM127.9 552.3h1.0v1.0h-1.0zM129.2 539.0h1.0v1.0h-1.0zM122.8 561.5h1.0v1.0h-1.0zM125.4 561.5h1.0v1.0h-1.0zM125.7 526.3h1.0v1.0h-1.0zM127.4 566.4h1.0v1.0h-1.0zM122.7 558.6h1.0v1.0h-1.0zM134.0 562.5h1.0v1.0h-1.0zM129.6 547.6h1.0v1.0h-1.0zM127.1 536.6h1.0v1.0h-1.0zM132.5 545.2h1.0v1.0h-1.0zM132.7 564.8h1.0v1.0h-1.0zM126.9 553.2h1.0v1.0h-1.0zM124.8 556.7h1.0v1.0h-1.0zM120.9 561.2h1.0v1.0h-1.0zM129.6 562.0h1.0v1.0h-1.0zM128.4 547.7h1.0v1.0h-1.0zM125.5 564.9h1.0v1.0h-1.0zM129.8 528.9h1.0v1.0h-1.0zM127.1 535.3h1.0v1.0h-1.0zM134.0 563.4h1.0v1.0h-1.0zM126.2 563.0h1.0v1.0h-1.0zM132.0 556.2h1.0v1.0h-1.0zM133.6 556.3h1.0v1.0h-1.0zM131.9 544.9h1.0v1.0h-1.0zM128.4 571.0h1.0v1.0h-1.0zM127.2 556.0h1.0v1.0h-1.0zM142.7 551.7h1.0v1.0h-1.0zM138.8 564.9h1.0v1.0h-1.0zM138.0 562.9h1.0v1.0h-1.0zM140.1 549.5h1.0v1.0h-1.0zM134.4 550.3h1.0v1.0h-1.0zM136.1 556.7h1.0v1.0h-1.0zM138.4 563.6h1.0v1.0h-1.0zM137.6 556.1h1.0v1.0h-1.0zM136.4 569.1h1.0v1.0h-1.0zM139.4 562.3h1.0v1.0h-1.0zM136.7 573.9h1.0v1.0h-1.0zM136.0 566.7h1.0v1.0h-1.0zM140.4 559.4h1.0v1.0h-1.0zM139.6 552.6h1.0v1.0h-1.0zM140.0 563.1h1.0v1.0h-1.0zM133.5 566.9h1.0v1.0h-1.0zM135.3 571.8h1.0v1.0h-1.0zM135.8 560.2h1.0v1.0h-1.0zM138.2 558.8h1.0v1.0h-1.0zM138.1 557.1h1.0v1.0h-1.0zM139.2 561.5h1.0v1.0h-1.0zM138.0 539.5h1.0v1.0h-1.0zM140.4 561.8h1.0v1.0h-1.0zM133.0 562.3h1.0v1.0h-1.0zM138.7 570.1h1.0v1.0h-1.0zM134.8 573.9h1.0v1.0h-1.0zM137.1 580.7h1.0v1.0h-1.0zM137.1 566.9h1.0v1.0h-1.0zM136.6 552.6h1.0v1.0h-1.0zM140.2 568.8h1.0v1.0h-1.0zM141.3 568.4h1.0v1.0h-1.0zM136.1 548.2h1.0v1.0h-1.0zM135.9 556.1h1.0v1.0h-1.0zM135.5 566.2h1.0v1.0h-1.0zM138.3 559.3h1.0v1.0h-1.0zM137.9 560.3h1.0v1.0h-1.0zM138.0 567.5h1.0v1.0h-1.0zM139.9 556.0h1.0v1.0h-1.0zM133.7 572.9h1.0v1.0h-1.0zM137.8 570.3h1.0v1.0h-1.0zM133.4 558.9h1.0v1.0h-1.0zM137.6 550.0h1.0v1.0h-1.0zM136.2 567.3h1.0v1.0h-1.0zM140.2 574.3h1.0v1.0h-1.0zM135.3 550.3h1.0v1.0h-1.0zM138.8 569.0h1.0v1.0h-1.0zM138.0 551.1h1.0v1.0h-1.0zM139.5 567.8h1.0v1.0h-1.0zM138.9 557.6h1.0v1.0h-1.0zM138.3 567.8h1.0v1.0h-1.0z" fill="#a9aae0"/>
<path d="M131.0 567.3h1.1v1.1h-1.1zM127.0 550.3h1.1v1.1h-1.1zM129.0 547.7h1.1v1.1h-1.1zM126.8 561.1h1.1v1.1h-1.1zM122.5 544.1h1.1v1.1h-1.1zM126.7 543.5h1.1v1.1h-1.1zM120.7 567.3h1.1v1.1h-1.1zM127.1 564.4h1.1v1.1h-1.1zM129.6 548.7h1.1v1.1h-1.1zM126.4 534.4h1.1v1.1h-1.1zM126.0 530.1h1.1v1.1h-1.1zM127.6 551.7h1.1v1.1h-1.1zM126.5 544.0h1.1v1.1h-1.1zM129.9 567.8h1.1v1.1h-1.1zM127.5 529.3h1.1v1.1h-1.1zM123.7 542.7h1.1v1.1h-1.1zM125.8 569.8h1.1v1.1h-1.1zM122.4 551.2h1.1v1.1h-1.1zM120.0 554.3h1.1v1.1h-1.1zM134.3 561.3h1.1v1.1h-1.1zM125.6 553.9h1.1v1.1h-1.1zM128.1 537.2h1.1v1.1h-1.1zM128.3 541.5h1.1v1.1h-1.1zM125.1 570.1h1.1v1.1h-1.1zM127.2 549.5h1.1v1.1h-1.1zM130.1 546.7h1.1v1.1h-1.1zM132.7 554.4h1.1v1.1h-1.1zM125.7 567.1h1.1v1.1h-1.1zM133.7 562.4h1.1v1.1h-1.1zM123.9 560.1h1.1v1.1h-1.1zM132.4 564.8h1.1v1.1h-1.1zM128.9 557.0h1.1v1.1h-1.1zM125.9 565.7h1.1v1.1h-1.1zM126.4 537.2h1.1v1.1h-1.1zM130.2 569.9h1.1v1.1h-1.1zM129.6 553.3h1.1v1.1h-1.1zM127.0 551.5h1.1v1.1h-1.1zM121.0 549.9h1.1v1.1h-1.1zM126.3 563.1h1.1v1.1h-1.1zM130.7 555.1h1.1v1.1h-1.1zM128.3 545.5h1.1v1.1h-1.1zM129.5 569.4h1.1v1.1h-1.1zM128.6 558.5h1.1v1.1h-1.1zM135.0 571.4h1.1v1.1h-1.1zM128.6 557.0h1.1v1.1h-1.1zM128.5 540.8h1.1v1.1h-1.1zM129.1 553.2h1.1v1.1h-1.1zM128.4 549.9h1.1v1.1h-1.1zM131.2 560.7h1.1v1.1h-1.1zM124.6 555.8h1.1v1.1h-1.1zM124.9 555.8h1.1v1.1h-1.1zM127.1 553.1h1.1v1.1h-1.1zM126.7 538.5h1.1v1.1h-1.1zM132.7 543.1h1.1v1.1h-1.1zM123.6 558.7h1.1v1.1h-1.1zM124.2 547.9h1.1v1.1h-1.1zM127.5 550.4h1.1v1.1h-1.1zM130.3 556.9h1.1v1.1h-1.1zM131.6 570.5h1.1v1.1h-1.1zM125.0 534.0h1.1v1.1h-1.1zM126.6 535.4h1.1v1.1h-1.1zM121.8 557.8h1.1v1.1h-1.1zM130.5 561.2h1.1v1.1h-1.1zM127.5 569.9h1.1v1.1h-1.1zM132.9 567.5h1.1v1.1h-1.1zM122.5 549.4h1.1v1.1h-1.1zM128.8 542.0h1.1v1.1h-1.1zM130.6 563.8h1.1v1.1h-1.1zM126.6 570.2h1.1v1.1h-1.1zM122.9 566.0h1.1v1.1h-1.1zM126.8 557.3h1.1v1.1h-1.1zM127.2 566.4h1.1v1.1h-1.1zM130.4 548.7h1.1v1.1h-1.1zM125.8 551.8h1.1v1.1h-1.1zM127.5 543.2h1.1v1.1h-1.1zM131.9 564.3h1.1v1.1h-1.1zM129.7 542.2h1.1v1.1h-1.1zM129.0 561.1h1.1v1.1h-1.1zM128.1 554.9h1.1v1.1h-1.1zM129.4 532.0h1.1v1.1h-1.1zM121.5 551.7h1.1v1.1h-1.1zM129.4 562.8h1.1v1.1h-1.1zM125.1 568.9h1.1v1.1h-1.1zM127.8 549.4h1.1v1.1h-1.1zM126.7 570.6h1.1v1.1h-1.1zM126.2 534.0h1.1v1.1h-1.1zM126.2 558.6h1.1v1.1h-1.1zM125.3 549.8h1.1v1.1h-1.1zM129.5 563.4h1.1v1.1h-1.1zM127.0 535.6h1.1v1.1h-1.1zM124.1 553.1h1.1v1.1h-1.1zM129.1 547.1h1.1v1.1h-1.1zM127.2 566.8h1.1v1.1h-1.1zM124.8 547.4h1.1v1.1h-1.1zM125.1 570.8h1.1v1.1h-1.1zM131.5 548.6h1.1v1.1h-1.1zM127.6 548.2h1.1v1.1h-1.1zM124.6 570.4h1.1v1.1h-1.1zM128.3 558.5h1.1v1.1h-1.1zM129.3 555.9h1.1v1.1h-1.1zM129.1 563.4h1.1v1.1h-1.1zM127.0 555.1h1.1v1.1h-1.1zM128.7 547.8h1.1v1.1h-1.1zM127.3 537.5h1.1v1.1h-1.1zM124.5 538.3h1.1v1.1h-1.1zM132.0 568.9h1.1v1.1h-1.1zM134.8 565.2h1.1v1.1h-1.1zM127.4 552.7h1.1v1.1h-1.1zM130.8 546.5h1.1v1.1h-1.1zM126.5 535.4h1.1v1.1h-1.1zM125.3 563.4h1.1v1.1h-1.1zM129.2 552.8h1.1v1.1h-1.1zM129.2 545.6h1.1v1.1h-1.1zM127.5 553.6h1.1v1.1h-1.1zM133.8 570.5h1.1v1.1h-1.1zM131.6 547.5h1.1v1.1h-1.1zM129.6 553.8h1.1v1.1h-1.1zM123.0 556.4h1.1v1.1h-1.1zM125.9 537.3h1.1v1.1h-1.1zM128.0 569.7h1.1v1.1h-1.1zM124.4 546.8h1.1v1.1h-1.1zM130.1 535.2h1.1v1.1h-1.1zM129.2 555.7h1.1v1.1h-1.1zM124.9 536.4h1.1v1.1h-1.1zM130.9 535.7h1.1v1.1h-1.1zM129.5 549.8h1.1v1.1h-1.1zM129.8 565.5h1.1v1.1h-1.1zM126.2 550.5h1.1v1.1h-1.1zM125.5 570.6h1.1v1.1h-1.1zM125.9 564.7h1.1v1.1h-1.1zM127.5 552.3h1.1v1.1h-1.1zM127.8 565.7h1.1v1.1h-1.1zM122.1 569.6h1.1v1.1h-1.1zM124.7 534.4h1.1v1.1h-1.1zM121.8 548.8h1.1v1.1h-1.1zM128.8 570.5h1.1v1.1h-1.1zM127.5 554.9h1.1v1.1h-1.1zM130.5 558.4h1.1v1.1h-1.1zM130.0 569.9h1.1v1.1h-1.1zM132.7 565.3h1.1v1.1h-1.1zM128.1 567.4h1.1v1.1h-1.1zM124.1 552.7h1.1v1.1h-1.1zM124.7 552.4h1.1v1.1h-1.1zM130.0 539.9h1.1v1.1h-1.1zM127.5 547.0h1.1v1.1h-1.1zM126.2 538.7h1.1v1.1h-1.1zM126.1 535.6h1.1v1.1h-1.1zM126.5 571.1h1.1v1.1h-1.1zM130.1 568.9h1.1v1.1h-1.1zM127.4 540.3h1.1v1.1h-1.1zM124.5 541.2h1.1v1.1h-1.1zM127.5 556.9h1.1v1.1h-1.1zM124.7 548.8h1.1v1.1h-1.1zM129.6 563.6h1.1v1.1h-1.1zM130.2 565.6h1.1v1.1h-1.1zM125.1 542.8h1.1v1.1h-1.1zM126.3 567.8h1.1v1.1h-1.1zM130.7 554.4h1.1v1.1h-1.1zM128.3 565.3h1.1v1.1h-1.1zM129.2 549.3h1.1v1.1h-1.1zM129.6 544.7h1.1v1.1h-1.1zM125.3 552.6h1.1v1.1h-1.1zM130.6 555.2h1.1v1.1h-1.1zM127.4 548.7h1.1v1.1h-1.1zM121.8 567.1h1.1v1.1h-1.1zM122.6 541.6h1.1v1.1h-1.1zM129.7 557.8h1.1v1.1h-1.1zM121.6 569.6h1.1v1.1h-1.1zM127.3 536.3h1.1v1.1h-1.1zM128.6 546.7h1.1v1.1h-1.1zM120.6 570.9h1.1v1.1h-1.1zM124.5 554.3h1.1v1.1h-1.1zM125.0 568.4h1.1v1.1h-1.1zM128.3 566.3h1.1v1.1h-1.1zM131.1 570.3h1.1v1.1h-1.1zM130.0 562.1h1.1v1.1h-1.1zM126.6 548.0h1.1v1.1h-1.1zM128.4 547.4h1.1v1.1h-1.1zM124.7 549.7h1.1v1.1h-1.1zM125.6 547.3h1.1v1.1h-1.1zM126.5 532.2h1.1v1.1h-1.1zM130.4 546.4h1.1v1.1h-1.1zM128.8 552.1h1.1v1.1h-1.1zM132.4 560.1h1.1v1.1h-1.1zM128.9 538.6h1.1v1.1h-1.1zM129.2 560.1h1.1v1.1h-1.1zM129.0 562.7h1.1v1.1h-1.1zM128.5 564.2h1.1v1.1h-1.1zM127.0 555.7h1.1v1.1h-1.1zM130.4 570.5h1.1v1.1h-1.1zM125.4 552.1h1.1v1.1h-1.1zM126.5 555.9h1.1v1.1h-1.1zM130.7 568.4h1.1v1.1h-1.1zM127.5 547.0h1.1v1.1h-1.1zM127.6 565.0h1.1v1.1h-1.1zM127.9 569.3h1.1v1.1h-1.1zM128.7 556.1h1.1v1.1h-1.1zM124.4 568.8h1.1v1.1h-1.1zM127.7 557.4h1.1v1.1h-1.1zM127.9 560.2h1.1v1.1h-1.1zM128.6 562.7h1.1v1.1h-1.1zM126.8 562.2h1.1v1.1h-1.1zM126.0 554.3h1.1v1.1h-1.1zM127.5 550.9h1.1v1.1h-1.1zM128.7 559.3h1.1v1.1h-1.1zM126.9 558.3h1.1v1.1h-1.1zM129.6 567.0h1.1v1.1h-1.1zM127.2 543.2h1.1v1.1h-1.1zM131.4 570.2h1.1v1.1h-1.1zM127.2 537.7h1.1v1.1h-1.1zM121.9 569.8h1.1v1.1h-1.1zM131.7 562.2h1.1v1.1h-1.1zM130.6 567.5h1.1v1.1h-1.1zM130.9 548.2h1.1v1.1h-1.1zM130.3 555.5h1.1v1.1h-1.1zM124.1 546.3h1.1v1.1h-1.1zM125.3 548.1h1.1v1.1h-1.1zM129.4 554.8h1.1v1.1h-1.1zM127.6 542.9h1.1v1.1h-1.1zM132.9 569.2h1.1v1.1h-1.1zM124.9 536.4h1.1v1.1h-1.1zM126.4 536.1h1.1v1.1h-1.1zM130.8 567.8h1.1v1.1h-1.1zM130.1 560.1h1.1v1.1h-1.1zM126.4 562.3h1.1v1.1h-1.1zM130.4 561.1h1.1v1.1h-1.1zM125.9 556.2h1.1v1.1h-1.1zM125.0 556.6h1.1v1.1h-1.1zM126.2 534.2h1.1v1.1h-1.1zM125.7 548.8h1.1v1.1h-1.1zM121.2 576.3h1.1v1.1h-1.1zM134.3 574.6h1.1v1.1h-1.1zM117.1 578.8h1.1v1.1h-1.1zM132.9 579.1h1.1v1.1h-1.1zM121.9 578.4h1.1v1.1h-1.1zM144.0 580.1h1.1v1.1h-1.1zM129.1 577.0h1.1v1.1h-1.1zM129.5 578.3h1.1v1.1h-1.1zM137.2 576.7h1.1v1.1h-1.1zM121.7 577.8h1.1v1.1h-1.1zM127.4 577.6h1.1v1.1h-1.1zM132.2 579.4h1.1v1.1h-1.1zM137.9 575.7h1.1v1.1h-1.1zM132.8 579.7h1.1v1.1h-1.1zM127.0 577.3h1.1v1.1h-1.1zM138.2 578.8h1.1v1.1h-1.1zM133.9 574.1h1.1v1.1h-1.1zM122.3 576.9h1.1v1.1h-1.1zM133.0 581.1h1.1v1.1h-1.1zM124.9 578.5h1.1v1.1h-1.1zM135.5 573.5h1.1v1.1h-1.1zM125.2 576.8h1.1v1.1h-1.1zM127.3 576.2h1.1v1.1h-1.1zM133.6 575.0h1.1v1.1h-1.1zM133.5 575.4h1.1v1.1h-1.1zM127.0 577.5h1.1v1.1h-1.1zM126.8 577.0h1.1v1.1h-1.1zM140.9 576.5h1.1v1.1h-1.1zM129.6 577.8h1.1v1.1h-1.1zM128.1 578.4h1.1v1.1h-1.1zM122.2 577.6h1.1v1.1h-1.1zM127.2 575.1h1.1v1.1h-1.1zM142.0 575.0h1.1v1.1h-1.1zM141.9 577.7h1.1v1.1h-1.1zM139.9 574.7h1.1v1.1h-1.1zM138.3 579.1h1.1v1.1h-1.1zM129.7 576.3h1.1v1.1h-1.1zM146.5 576.8h1.1v1.1h-1.1zM127.8 575.4h1.1v1.1h-1.1zM133.4 577.1h1.1v1.1h-1.1zM131.7 579.6h1.1v1.1h-1.1zM128.4 577.4h1.1v1.1h-1.1zM140.0 574.7h1.1v1.1h-1.1zM137.3 579.8h1.1v1.1h-1.1zM121.7 574.5h1.1v1.1h-1.1zM123.8 573.2h1.1v1.1h-1.1zM133.4 573.2h1.1v1.1h-1.1zM133.7 579.1h1.1v1.1h-1.1zM120.0 575.9h1.1v1.1h-1.1zM118.0 577.9h1.1v1.1h-1.1zM125.7 576.0h1.1v1.1h-1.1zM130.9 577.5h1.1v1.1h-1.1zM128.2 576.5h1.1v1.1h-1.1zM126.9 576.7h1.1v1.1h-1.1zM122.9 576.6h1.1v1.1h-1.1zM117.9 575.6h1.1v1.1h-1.1zM142.9 576.6h1.1v1.1h-1.1zM122.3 577.0h1.1v1.1h-1.1zM124.2 573.5h1.1v1.1h-1.1zM125.7 577.8h1.1v1.1h-1.1zM133.0 576.3h1.1v1.1h-1.1zM124.5 574.6h1.1v1.1h-1.1zM139.3 576.9h1.1v1.1h-1.1zM124.3 572.7h1.1v1.1h-1.1zM121.6 581.0h1.1v1.1h-1.1zM123.0 576.4h1.1v1.1h-1.1zM131.9 576.2h1.1v1.1h-1.1zM128.7 574.0h1.1v1.1h-1.1zM123.7 579.5h1.1v1.1h-1.1zM125.6 578.0h1.1v1.1h-1.1zM119.5 576.0h1.1v1.1h-1.1zM132.2 578.4h1.1v1.1h-1.1zM123.2 577.6h1.1v1.1h-1.1zM133.0 575.2h1.1v1.1h-1.1zM133.6 574.9h1.1v1.1h-1.1zM125.3 576.5h1.1v1.1h-1.1zM112.9 576.3h1.1v1.1h-1.1zM124.0 573.9h1.1v1.1h-1.1zM127.7 577.9h1.1v1.1h-1.1zM127.9 578.8h1.1v1.1h-1.1zM123.0 574.1h1.1v1.1h-1.1zM140.6 577.2h1.1v1.1h-1.1zM136.6 575.0h1.1v1.1h-1.1zM135.7 577.0h1.1v1.1h-1.1zM134.7 576.5h1.1v1.1h-1.1zM138.3 575.3h1.1v1.1h-1.1zM124.2 573.8h1.1v1.1h-1.1zM138.0 575.2h1.1v1.1h-1.1zM123.7 574.8h1.1v1.1h-1.1zM127.6 574.2h1.1v1.1h-1.1zM128.6 575.4h1.1v1.1h-1.1zM126.9 574.8h1.1v1.1h-1.1zM130.7 575.7h1.1v1.1h-1.1zM131.2 576.9h1.1v1.1h-1.1zM132.7 572.6h1.1v1.1h-1.1zM127.0 575.1h1.1v1.1h-1.1zM135.5 573.7h1.1v1.1h-1.1zM125.9 576.0h1.1v1.1h-1.1zM128.3 578.3h1.1v1.1h-1.1zM127.6 578.2h1.1v1.1h-1.1zM121.0 573.2h1.1v1.1h-1.1zM138.4 577.3h1.1v1.1h-1.1zM133.7 576.7h1.1v1.1h-1.1zM133.6 574.3h1.1v1.1h-1.1zM136.7 575.5h1.1v1.1h-1.1zM136.9 576.7h1.1v1.1h-1.1zM117.7 574.2h1.1v1.1h-1.1zM137.8 576.3h1.1v1.1h-1.1zM127.9 576.9h1.1v1.1h-1.1zM127.7 575.5h1.1v1.1h-1.1zM131.2 576.8h1.1v1.1h-1.1zM140.4 576.6h1.1v1.1h-1.1zM142.7 579.7h1.1v1.1h-1.1zM141.7 578.4h1.1v1.1h-1.1zM131.3 576.7h1.1v1.1h-1.1zM129.6 575.2h1.1v1.1h-1.1zM130.1 575.3h1.1v1.1h-1.1zM141.2 577.5h1.1v1.1h-1.1zM127.6 573.1h1.1v1.1h-1.1zM130.2 575.8h1.1v1.1h-1.1zM123.4 574.5h1.1v1.1h-1.1zM115.9 577.5h1.1v1.1h-1.1zM130.1 581.1h1.1v1.1h-1.1zM130.3 576.2h1.1v1.1h-1.1zM139.9 576.7h1.1v1.1h-1.1zM131.6 575.8h1.1v1.1h-1.1zM126.6 579.2h1.1v1.1h-1.1zM137.0 579.6h1.1v1.1h-1.1zM128.2 576.6h1.1v1.1h-1.1zM124.8 578.2h1.1v1.1h-1.1zM121.4 577.5h1.1v1.1h-1.1zM137.6 579.0h1.1v1.1h-1.1zM124.4 578.5h1.1v1.1h-1.1zM125.9 575.1h1.1v1.1h-1.1zM121.9 578.6h1.1v1.1h-1.1zM141.2 575.4h1.1v1.1h-1.1zM125.6 575.9h1.1v1.1h-1.1zM146.8 578.3h1.1v1.1h-1.1zM127.0 573.3h1.1v1.1h-1.1zM126.1 578.6h1.1v1.1h-1.1zM142.6 576.0h1.1v1.1h-1.1zM126.0 575.6h1.1v1.1h-1.1zM118.2 578.1h1.1v1.1h-1.1zM123.4 578.4h1.1v1.1h-1.1zM119.4 574.2h1.1v1.1h-1.1zM132.4 575.1h1.1v1.1h-1.1zM135.6 576.5h1.1v1.1h-1.1zM122.9 577.6h1.1v1.1h-1.1zM136.0 573.1h1.1v1.1h-1.1zM142.4 577.4h1.1v1.1h-1.1z" fill="#6e78c8"/>
<path d="M127.5 568.0h1.2v1.2h-1.2zM125.2 555.4h1.2v1.2h-1.2zM127.8 562.8h1.2v1.2h-1.2zM127.6 561.9h1.2v1.2h-1.2zM125.4 552.0h1.2v1.2h-1.2zM127.6 549.2h1.2v1.2h-1.2zM130.1 565.8h1.2v1.2h-1.2zM128.9 568.2h1.2v1.2h-1.2zM129.3 563.5h1.2v1.2h-1.2zM127.8 560.7h1.2v1.2h-1.2zM130.2 570.8h1.2v1.2h-1.2zM130.7 571.4h1.2v1.2h-1.2zM127.6 567.5h1.2v1.2h-1.2zM125.5 571.2h1.2v1.2h-1.2zM131.4 563.1h1.2v1.2h-1.2zM126.0 554.9h1.2v1.2h-1.2zM127.8 568.4h1.2v1.2h-1.2zM126.7 560.1h1.2v1.2h-1.2zM129.7 567.8h1.2v1.2h-1.2zM130.2 558.2h1.2v1.2h-1.2zM128.7 568.8h1.2v1.2h-1.2zM129.3 570.4h1.2v1.2h-1.2zM126.8 556.3h1.2v1.2h-1.2zM129.2 559.3h1.2v1.2h-1.2zM127.3 548.9h1.2v1.2h-1.2zM128.3 570.6h1.2v1.2h-1.2zM128.1 566.6h1.2v1.2h-1.2zM126.1 568.3h1.2v1.2h-1.2zM124.9 553.0h1.2v1.2h-1.2zM126.5 560.3h1.2v1.2h-1.2zM124.0 569.7h1.2v1.2h-1.2zM125.9 569.8h1.2v1.2h-1.2zM129.1 552.6h1.2v1.2h-1.2zM126.9 561.1h1.2v1.2h-1.2zM126.3 568.5h1.2v1.2h-1.2zM133.5 564.8h1.2v1.2h-1.2zM127.2 560.3h1.2v1.2h-1.2zM125.2 555.3h1.2v1.2h-1.2zM131.1 567.6h1.2v1.2h-1.2zM128.0 557.6h1.2v1.2h-1.2zM129.9 565.9h1.2v1.2h-1.2zM126.7 566.3h1.2v1.2h-1.2zM127.5 559.2h1.2v1.2h-1.2zM127.0 554.3h1.2v1.2h-1.2zM124.6 565.5h1.2v1.2h-1.2zM128.2 570.0h1.2v1.2h-1.2zM127.3 553.7h1.2v1.2h-1.2zM128.8 547.7h1.2v1.2h-1.2zM126.7 544.9h1.2v1.2h-1.2zM127.7 560.2h1.2v1.2h-1.2zM125.0 556.8h1.2v1.2h-1.2zM125.9 556.2h1.2v1.2h-1.2zM125.8 565.6h1.2v1.2h-1.2zM127.2 570.6h1.2v1.2h-1.2zM127.5 557.3h1.2v1.2h-1.2zM127.8 565.9h1.2v1.2h-1.2zM127.5 569.6h1.2v1.2h-1.2zM125.2 557.9h1.2v1.2h-1.2zM126.1 546.5h1.2v1.2h-1.2zM125.1 560.1h1.2v1.2h-1.2zM122.1 566.0h1.2v1.2h-1.2zM128.9 567.5h1.2v1.2h-1.2zM127.4 557.5h1.2v1.2h-1.2zM126.6 563.9h1.2v1.2h-1.2zM127.1 561.3h1.2v1.2h-1.2zM127.8 568.2h1.2v1.2h-1.2zM124.4 546.6h1.2v1.2h-1.2zM125.8 554.1h1.2v1.2h-1.2zM125.5 556.0h1.2v1.2h-1.2zM125.4 565.9h1.2v1.2h-1.2zM127.9 568.8h1.2v1.2h-1.2zM128.4 558.8h1.2v1.2h-1.2zM128.8 549.7h1.2v1.2h-1.2zM124.5 567.2h1.2v1.2h-1.2zM128.0 545.7h1.2v1.2h-1.2zM124.2 562.6h1.2v1.2h-1.2zM125.4 567.6h1.2v1.2h-1.2zM127.3 552.6h1.2v1.2h-1.2zM128.5 557.0h1.2v1.2h-1.2zM127.5 567.7h1.2v1.2h-1.2zM129.0 566.8h1.2v1.2h-1.2zM124.7 557.9h1.2v1.2h-1.2zM123.6 564.3h1.2v1.2h-1.2zM128.4 563.8h1.2v1.2h-1.2zM124.1 557.9h1.2v1.2h-1.2zM123.6 556.5h1.2v1.2h-1.2zM128.9 569.8h1.2v1.2h-1.2zM127.1 557.1h1.2v1.2h-1.2zM130.6 567.6h1.2v1.2h-1.2zM126.0 559.5h1.2v1.2h-1.2zM126.2 569.8h1.2v1.2h-1.2zM128.6 570.2h1.2v1.2h-1.2zM125.9 565.7h1.2v1.2h-1.2zM123.6 571.2h1.2v1.2h-1.2zM128.7 562.7h1.2v1.2h-1.2zM123.9 569.4h1.2v1.2h-1.2zM126.6 562.0h1.2v1.2h-1.2zM124.6 559.0h1.2v1.2h-1.2zM126.5 556.4h1.2v1.2h-1.2zM126.3 570.2h1.2v1.2h-1.2zM127.7 554.1h1.2v1.2h-1.2zM127.2 570.5h1.2v1.2h-1.2zM127.3 559.9h1.2v1.2h-1.2zM127.2 549.2h1.2v1.2h-1.2zM124.7 566.8h1.2v1.2h-1.2zM124.4 567.5h1.2v1.2h-1.2zM125.9 550.7h1.2v1.2h-1.2zM125.8 568.8h1.2v1.2h-1.2zM127.7 568.8h1.2v1.2h-1.2zM126.4 569.6h1.2v1.2h-1.2z" fill="#3c58a0"/>
<path d="M124.4 563.9h1.3v1.3h-1.3zM126.2 569.7h1.3v1.3h-1.3zM125.5 570.7h1.3v1.3h-1.3zM124.3 568.3h1.3v1.3h-1.3zM124.9 569.9h1.3v1.3h-1.3zM128.7 567.9h1.3v1.3h-1.3zM129.6 572.3h1.3v1.3h-1.3zM127.1 570.0h1.3v1.3h-1.3zM129.0 568.0h1.3v1.3h-1.3zM125.3 565.8h1.3v1.3h-1.3zM126.4 571.9h1.3v1.3h-1.3zM126.6 569.6h1.3v1.3h-1.3zM125.1 568.9h1.3v1.3h-1.3zM122.6 571.1h1.3v1.3h-1.3zM124.7 565.7h1.3v1.3h-1.3zM124.0 566.4h1.3v1.3h-1.3zM127.2 571.1h1.3v1.3h-1.3zM122.8 570.8h1.3v1.3h-1.3zM127.3 567.1h1.3v1.3h-1.3zM122.5 566.6h1.3v1.3h-1.3zM124.2 569.4h1.3v1.3h-1.3zM124.8 563.4h1.3v1.3h-1.3zM126.0 564.7h1.3v1.3h-1.3zM127.3 565.5h1.3v1.3h-1.3zM124.1 566.4h1.3v1.3h-1.3zM124.4 571.7h1.3v1.3h-1.3zM127.2 570.0h1.3v1.3h-1.3zM126.1 564.6h1.3v1.3h-1.3zM124.5 567.1h1.3v1.3h-1.3zM123.5 569.8h1.3v1.3h-1.3zM124.0 566.7h1.3v1.3h-1.3zM123.4 563.4h1.3v1.3h-1.3zM126.7 571.8h1.3v1.3h-1.3zM125.8 566.1h1.3v1.3h-1.3zM120.1 568.9h1.3v1.3h-1.3zM127.9 569.2h1.3v1.3h-1.3zM127.4 572.2h1.3v1.3h-1.3zM127.8 567.4h1.3v1.3h-1.3zM127.6 570.4h1.3v1.3h-1.3zM122.4 567.5h1.3v1.3h-1.3z" fill="#3a9cb0"/>
<path d="M127.1 574.2h1.4v1.4h-1.4zM123.0 576.5h1.4v1.4h-1.4zM128.0 574.8h1.4v1.4h-1.4zM122.5 574.0h1.4v1.4h-1.4zM124.3 577.5h1.4v1.4h-1.4zM120.3 576.1h1.4v1.4h-1.4zM126.4 579.4h1.4v1.4h-1.4zM126.9 576.5h1.4v1.4h-1.4zM121.7 575.6h1.4v1.4h-1.4zM123.1 577.2h1.4v1.4h-1.4zM124.9 579.5h1.4v1.4h-1.4zM125.8 575.4h1.4v1.4h-1.4zM129.3 578.4h1.4v1.4h-1.4zM125.3 575.9h1.4v1.4h-1.4zM119.8 575.5h1.4v1.4h-1.4zM127.6 575.8h1.4v1.4h-1.4zM121.3 577.3h1.4v1.4h-1.4zM125.7 577.9h1.4v1.4h-1.4zM126.8 579.1h1.4v1.4h-1.4zM122.6 578.5h1.4v1.4h-1.4zM122.2 578.0h1.4v1.4h-1.4zM125.5 577.4h1.4v1.4h-1.4zM127.7 577.0h1.4v1.4h-1.4zM128.1 578.3h1.4v1.4h-1.4zM125.4 576.1h1.4v1.4h-1.4zM122.9 576.2h1.4v1.4h-1.4zM124.4 577.0h1.4v1.4h-1.4zM133.3 578.0h1.4v1.4h-1.4zM127.2 575.7h1.4v1.4h-1.4zM123.0 576.5h1.4v1.4h-1.4zM125.5 575.4h1.4v1.4h-1.4zM129.5 576.2h1.4v1.4h-1.4zM128.0 573.5h1.4v1.4h-1.4zM125.0 577.4h1.4v1.4h-1.4zM125.5 577.9h1.4v1.4h-1.4zM125.8 577.2h1.4v1.4h-1.4zM119.7 575.9h1.4v1.4h-1.4zM118.4 577.9h1.4v1.4h-1.4zM125.9 576.7h1.4v1.4h-1.4zM122.7 576.1h1.4v1.4h-1.4zM130.2 579.6h1.4v1.4h-1.4zM124.8 578.9h1.4v1.4h-1.4zM120.6 574.1h1.4v1.4h-1.4zM123.6 575.7h1.4v1.4h-1.4zM123.4 577.3h1.4v1.4h-1.4zM133.5 576.0h1.4v1.4h-1.4zM125.1 577.4h1.4v1.4h-1.4zM124.9 578.4h1.4v1.4h-1.4zM130.0 575.1h1.4v1.4h-1.4zM125.5 576.6h1.4v1.4h-1.4zM126.0 574.7h1.4v1.4h-1.4zM120.1 573.5h1.4v1.4h-1.4zM126.5 577.3h1.4v1.4h-1.4zM125.2 573.5h1.4v1.4h-1.4zM124.0 575.9h1.4v1.4h-1.4zM121.0 575.6h1.4v1.4h-1.4zM127.0 577.8h1.4v1.4h-1.4zM124.9 577.8h1.4v1.4h-1.4zM123.3 577.1h1.4v1.4h-1.4zM125.1 577.8h1.4v1.4h-1.4zM124.8 576.8h1.4v1.4h-1.4zM124.6 576.0h1.4v1.4h-1.4zM131.3 577.8h1.4v1.4h-1.4zM126.2 580.4h1.4v1.4h-1.4zM128.9 574.7h1.4v1.4h-1.4zM126.9 578.3h1.4v1.4h-1.4zM130.3 579.0h1.4v1.4h-1.4zM127.2 575.2h1.4v1.4h-1.4zM122.6 577.4h1.4v1.4h-1.4zM126.4 575.5h1.4v1.4h-1.4zM123.9 576.4h1.4v1.4h-1.4zM125.2 577.5h1.4v1.4h-1.4zM124.2 575.1h1.4v1.4h-1.4zM128.5 579.4h1.4v1.4h-1.4zM124.7 578.5h1.4v1.4h-1.4zM126.2 578.0h1.4v1.4h-1.4zM126.3 575.9h1.4v1.4h-1.4zM126.6 578.5h1.4v1.4h-1.4zM122.5 579.9h1.4v1.4h-1.4zM130.9 579.7h1.4v1.4h-1.4zM130.6 578.1h1.4v1.4h-1.4zM124.1 576.1h1.4v1.4h-1.4zM122.7 577.2h1.4v1.4h-1.4zM124.9 578.0h1.4v1.4h-1.4zM119.3 580.5h1.4v1.4h-1.4zM131.4 577.0h1.4v1.4h-1.4zM126.9 577.7h1.4v1.4h-1.4zM125.8 576.7h1.4v1.4h-1.4zM124.7 575.8h1.4v1.4h-1.4zM125.5 577.0h1.4v1.4h-1.4z" fill="#52b03c"/>
<path d="M137.3 575.7h1.4v1.4h-1.4zM136.6 576.5h1.4v1.4h-1.4zM138.1 575.5h1.4v1.4h-1.4zM137.6 577.4h1.4v1.4h-1.4zM138.1 576.2h1.4v1.4h-1.4zM135.2 576.3h1.4v1.4h-1.4zM138.4 577.9h1.4v1.4h-1.4zM136.1 575.9h1.4v1.4h-1.4zM137.5 576.7h1.4v1.4h-1.4zM134.1 575.8h1.4v1.4h-1.4zM136.2 577.1h1.4v1.4h-1.4zM133.4 575.6h1.4v1.4h-1.4zM137.8 575.4h1.4v1.4h-1.4zM136.8 576.8h1.4v1.4h-1.4zM136.2 575.6h1.4v1.4h-1.4zM136.3 576.2h1.4v1.4h-1.4zM137.4 575.7h1.4v1.4h-1.4zM139.3 575.0h1.4v1.4h-1.4zM136.0 576.5h1.4v1.4h-1.4zM139.0 576.0h1.4v1.4h-1.4zM137.9 576.0h1.4v1.4h-1.4zM138.4 578.1h1.4v1.4h-1.4zM135.5 576.9h1.4v1.4h-1.4zM134.1 577.4h1.4v1.4h-1.4zM139.6 576.5h1.4v1.4h-1.4zM133.5 576.9h1.4v1.4h-1.4zM139.5 577.5h1.4v1.4h-1.4zM138.6 574.9h1.4v1.4h-1.4zM134.7 577.8h1.4v1.4h-1.4zM133.3 577.5h1.4v1.4h-1.4zM141.4 577.2h1.4v1.4h-1.4zM139.4 576.2h1.4v1.4h-1.4zM133.3 576.4h1.4v1.4h-1.4zM136.0 576.5h1.4v1.4h-1.4zM138.3 576.4h1.4v1.4h-1.4zM137.0 576.9h1.4v1.4h-1.4zM136.5 578.2h1.4v1.4h-1.4zM137.7 576.6h1.4v1.4h-1.4zM136.0 575.9h1.4v1.4h-1.4zM140.0 576.6h1.4v1.4h-1.4zM133.7 576.0h1.4v1.4h-1.4zM136.1 576.1h1.4v1.4h-1.4zM139.3 575.5h1.4v1.4h-1.4zM137.8 576.6h1.4v1.4h-1.4zM133.4 576.5h1.4v1.4h-1.4zM136.3 577.0h1.4v1.4h-1.4zM135.3 576.8h1.4v1.4h-1.4zM132.2 575.5h1.4v1.4h-1.4zM138.5 577.4h1.4v1.4h-1.4zM136.5 576.0h1.4v1.4h-1.4z" fill="#e89030"/>
<path d="M136.4 574.3h1.4v1.4h-1.4zM133.1 576.5h1.4v1.4h-1.4zM135.7 575.2h1.4v1.4h-1.4zM131.1 577.2h1.4v1.4h-1.4zM134.8 575.3h1.4v1.4h-1.4zM134.6 576.7h1.4v1.4h-1.4zM129.8 576.9h1.4v1.4h-1.4zM135.8 574.3h1.4v1.4h-1.4zM135.9 574.6h1.4v1.4h-1.4zM136.6 576.3h1.4v1.4h-1.4zM138.6 575.5h1.4v1.4h-1.4zM134.5 576.8h1.4v1.4h-1.4zM133.3 575.4h1.4v1.4h-1.4zM133.8 575.9h1.4v1.4h-1.4zM132.6 576.4h1.4v1.4h-1.4zM135.5 576.1h1.4v1.4h-1.4zM137.6 575.7h1.4v1.4h-1.4zM136.9 575.6h1.4v1.4h-1.4zM135.9 574.5h1.4v1.4h-1.4zM134.9 575.9h1.4v1.4h-1.4z" fill="#d8d030"/>
</g>
<rect x="66.50" y="513.50" width="84.5" height="84.0" fill="none" stroke="#777" stroke-width="0.8"/>
<line x1="99.50" y1="513.50" x2="99.50" y2="597.50" stroke="#333" stroke-width="0.9"/>
<line x1="66.50" y1="572.20" x2="151.00" y2="572.20" stroke="#333" stroke-width="0.9"/>
<line x1="64.00" y1="521.50" x2="66.50" y2="521.50" stroke="#444" stroke-width="0.8"/>
<line x1="64.00" y1="542.10" x2="66.50" y2="542.10" stroke="#444" stroke-width="0.8"/>
<line x1="64.00" y1="564.50" x2="66.50" y2="564.50" stroke="#444" stroke-width="0.8"/>
<line x1="64.00" y1="578.20" x2="66.50" y2="578.20" stroke="#444" stroke-width="0.8"/>
<line x1="64.00" y1="591.90" x2="66.50" y2="591.90" stroke="#444" stroke-width="0.8"/>
<line x1="65.20" y1="535.90" x2="66.50" y2="535.90" stroke="#777" stroke-width="0.5"/>
<line x1="65.20" y1="532.27" x2="66.50" y2="532.27" stroke="#777" stroke-width="0.5"/>
<line x1="65.20" y1="529.70" x2="66.50" y2="529.70" stroke="#777" stroke-width="0.5"/>
<line x1="65.20" y1="527.70" x2="66.50" y2="527.70" stroke="#777" stroke-width="0.5"/>
<line x1="65.20" y1="526.07" x2="66.50" y2="526.07" stroke="#777" stroke-width="0.5"/>
<line x1="65.20" y1="524.69" x2="66.50" y2="524.69" stroke="#777" stroke-width="0.5"/>
<line x1="65.20" y1="523.50" x2="66.50" y2="523.50" stroke="#777" stroke-width="0.5"/>
<line x1="65.20" y1="522.44" x2="66.50" y2="522.44" stroke="#777" stroke-width="0.5"/>
<line x1="65.20" y1="557.76" x2="66.50" y2="557.76" stroke="#777" stroke-width="0.5"/>
<line x1="65.20" y1="553.81" x2="66.50" y2="553.81" stroke="#777" stroke-width="0.5"/>
<line x1="65.20" y1="551.01" x2="66.50" y2="551.01" stroke="#777" stroke-width="0.5"/>
<line x1="65.20" y1="548.84" x2="66.50" y2="548.84" stroke="#777" stroke-width="0.5"/>
<line x1="65.20" y1="547.07" x2="66.50" y2="547.07" stroke="#777" stroke-width="0.5"/>
<line x1="65.20" y1="545.57" x2="66.50" y2="545.57" stroke="#777" stroke-width="0.5"/>
<line x1="65.20" y1="544.27" x2="66.50" y2="544.27" stroke="#777" stroke-width="0.5"/>
<line x1="65.20" y1="543.12" x2="66.50" y2="543.12" stroke="#777" stroke-width="0.5"/>
<line x1="71.50" y1="597.50" x2="71.50" y2="600.00" stroke="#444" stroke-width="0.8"/>
<line x1="86.00" y1="597.50" x2="86.00" y2="600.00" stroke="#444" stroke-width="0.8"/>
<line x1="99.50" y1="597.50" x2="99.50" y2="600.00" stroke="#444" stroke-width="0.8"/>
<line x1="123.30" y1="597.50" x2="123.30" y2="600.00" stroke="#444" stroke-width="0.8"/>
<line x1="144.50" y1="597.50" x2="144.50" y2="600.00" stroke="#444" stroke-width="0.8"/>
<line x1="106.66" y1="597.50" x2="106.66" y2="598.80" stroke="#777" stroke-width="0.5"/>
<line x1="110.86" y1="597.50" x2="110.86" y2="598.80" stroke="#777" stroke-width="0.5"/>
<line x1="113.83" y1="597.50" x2="113.83" y2="598.80" stroke="#777" stroke-width="0.5"/>
<line x1="116.14" y1="597.50" x2="116.14" y2="598.80" stroke="#777" stroke-width="0.5"/>
<line x1="118.02" y1="597.50" x2="118.02" y2="598.80" stroke="#777" stroke-width="0.5"/>
<line x1="119.61" y1="597.50" x2="119.61" y2="598.80" stroke="#777" stroke-width="0.5"/>
<line x1="120.99" y1="597.50" x2="120.99" y2="598.80" stroke="#777" stroke-width="0.5"/>
<line x1="122.21" y1="597.50" x2="122.21" y2="598.80" stroke="#777" stroke-width="0.5"/>
<line x1="129.68" y1="597.50" x2="129.68" y2="598.80" stroke="#777" stroke-width="0.5"/>
<line x1="133.41" y1="597.50" x2="133.41" y2="598.80" stroke="#777" stroke-width="0.5"/>
<line x1="136.06" y1="597.50" x2="136.06" y2="598.80" stroke="#777" stroke-width="0.5"/>
<line x1="138.12" y1="597.50" x2="138.12" y2="598.80" stroke="#777" stroke-width="0.5"/>
<line x1="139.80" y1="597.50" x2="139.80" y2="598.80" stroke="#777" stroke-width="0.5"/>
<line x1="141.22" y1="597.50" x2="141.22" y2="598.80" stroke="#777" stroke-width="0.5"/>
<line x1="142.45" y1="597.50" x2="142.45" y2="598.80" stroke="#777" stroke-width="0.5"/>
<line x1="143.53" y1="597.50" x2="143.53" y2="598.80" stroke="#777" stroke-width="0.5"/>
<text x="49.55" y="524.00" font-size="7.2" fill="#111">10<tspan font-size="5.30" dy="-3.5">5</tspan></text>
<text x="49.55" y="544.60" font-size="7.2" fill="#111">10<tspan font-size="5.30" dy="-3.5">4</tspan></text>
<text x="49.55" y="567.00" font-size="7.2" fill="#111">10<tspan font-size="5.30" dy="-3.5">3</tspan></text>
<text x="60.50" y="580.70" font-size="7.2" text-anchor="end" font-weight="normal" fill="#111" >0</text>
<text x="45.34" y="594.40" font-size="7.2" fill="#111">−10<tspan font-size="5.30" dy="-3.5">3</tspan></text>
<text x="63.92" y="609.70" font-size="7.2" fill="#111">−10<tspan font-size="5.30" dy="-3.5">3</tspan></text>
<text x="86.00" y="609.70" font-size="7.2" text-anchor="middle" font-weight="normal" fill="#111" >0</text>
<text x="94.02" y="609.70" font-size="7.2" fill="#111">10<tspan font-size="5.30" dy="-3.5">3</tspan></text>
<text x="117.82" y="609.70" font-size="7.2" fill="#111">10<tspan font-size="5.30" dy="-3.5">4</tspan></text>
<text x="139.02" y="609.70" font-size="7.2" fill="#111">10<tspan font-size="5.30" dy="-3.5">5</tspan></text>
<rect x="64.90" y="576.70" width="2" height="3" fill="#111"/>
<rect x="84.00" y="596.90" width="4" height="1.8" fill="#111"/>
<text x="68.00" y="520.50" font-size="6.4" text-anchor="start" font-weight="bold" fill="#222" >0</text>
<text x="68.20" y="592.50" font-size="6.4" text-anchor="start" font-weight="bold" fill="#222" >0</text>
<text x="149.20" y="520.40" font-size="5.7" text-anchor="end" font-weight="bold" fill="#000" >42.5 %</text>
<text x="147.10" y="593.10" font-size="5.7" text-anchor="end" font-weight="bold" fill="#000" >57.5 %</text>
<text x="68.20" y="508.70" font-size="7.3" text-anchor="start" font-weight="normal" fill="#111" >+ SFLLRN</text>
<g filter="url(#bl)">
<path d="M243.2 527.0h1.0v1.0h-1.0zM244.7 522.7h1.0v1.0h-1.0zM243.8 520.6h1.0v1.0h-1.0zM243.9 519.4h1.0v1.0h-1.0zM241.1 516.8h1.0v1.0h-1.0zM240.3 520.4h1.0v1.0h-1.0zM243.8 524.7h1.0v1.0h-1.0zM243.7 520.6h1.0v1.0h-1.0zM244.1 519.7h1.0v1.0h-1.0zM238.9 522.9h1.0v1.0h-1.0zM241.8 520.4h1.0v1.0h-1.0zM242.2 528.7h1.0v1.0h-1.0zM245.1 521.0h1.0v1.0h-1.0zM240.4 522.5h1.0v1.0h-1.0zM240.9 523.3h1.0v1.0h-1.0zM239.6 519.5h1.0v1.0h-1.0zM244.6 517.1h1.0v1.0h-1.0zM243.0 520.3h1.0v1.0h-1.0zM244.7 518.2h1.0v1.0h-1.0zM244.2 526.2h1.0v1.0h-1.0zM244.3 560.9h1.0v1.0h-1.0zM238.3 550.9h1.0v1.0h-1.0zM246.9 553.7h1.0v1.0h-1.0zM243.8 565.9h1.0v1.0h-1.0zM243.9 541.1h1.0v1.0h-1.0zM238.4 570.3h1.0v1.0h-1.0zM242.4 567.8h1.0v1.0h-1.0zM245.5 544.5h1.0v1.0h-1.0zM243.9 559.4h1.0v1.0h-1.0zM245.4 569.2h1.0v1.0h-1.0zM244.6 558.7h1.0v1.0h-1.0zM243.2 549.1h1.0v1.0h-1.0zM244.6 532.2h1.0v1.0h-1.0zM248.0 556.0h1.0v1.0h-1.0zM249.5 554.4h1.0v1.0h-1.0zM239.8 545.8h1.0v1.0h-1.0zM248.3 555.1h1.0v1.0h-1.0zM251.8 570.8h1.0v1.0h-1.0zM245.8 547.2h1.0v1.0h-1.0zM243.7 532.5h1.0v1.0h-1.0zM244.0 565.9h1.0v1.0h-1.0zM247.5 556.4h1.0v1.0h-1.0zM242.4 548.6h1.0v1.0h-1.0zM247.8 555.8h1.0v1.0h-1.0zM245.0 561.2h1.0v1.0h-1.0zM246.7 540.2h1.0v1.0h-1.0zM242.8 541.8h1.0v1.0h-1.0zM244.9 566.9h1.0v1.0h-1.0zM242.5 558.7h1.0v1.0h-1.0zM238.5 538.4h1.0v1.0h-1.0zM246.9 533.1h1.0v1.0h-1.0zM248.7 560.7h1.0v1.0h-1.0zM238.5 565.3h1.0v1.0h-1.0zM249.6 529.8h1.0v1.0h-1.0zM247.9 567.6h1.0v1.0h-1.0zM250.2 535.4h1.0v1.0h-1.0zM246.4 570.6h1.0v1.0h-1.0zM232.6 560.9h1.0v1.0h-1.0zM248.8 546.0h1.0v1.0h-1.0zM244.9 540.1h1.0v1.0h-1.0zM240.6 561.6h1.0v1.0h-1.0zM245.6 544.7h1.0v1.0h-1.0zM242.7 542.8h1.0v1.0h-1.0zM243.9 543.0h1.0v1.0h-1.0zM244.5 556.6h1.0v1.0h-1.0zM239.2 557.6h1.0v1.0h-1.0zM243.8 555.0h1.0v1.0h-1.0zM247.3 547.0h1.0v1.0h-1.0zM250.4 556.8h1.0v1.0h-1.0zM250.0 564.4h1.0v1.0h-1.0zM249.6 561.8h1.0v1.0h-1.0zM246.0 556.3h1.0v1.0h-1.0zM250.1 540.8h1.0v1.0h-1.0zM244.1 558.6h1.0v1.0h-1.0zM246.5 564.3h1.0v1.0h-1.0zM248.3 559.3h1.0v1.0h-1.0zM245.2 565.4h1.0v1.0h-1.0zM245.1 561.9h1.0v1.0h-1.0zM245.0 569.3h1.0v1.0h-1.0zM234.1 571.0h1.0v1.0h-1.0zM244.3 548.2h1.0v1.0h-1.0zM251.5 570.9h1.0v1.0h-1.0zM252.3 554.1h1.0v1.0h-1.0zM242.6 559.0h1.0v1.0h-1.0zM252.8 562.2h1.0v1.0h-1.0zM243.8 551.3h1.0v1.0h-1.0zM247.0 567.9h1.0v1.0h-1.0zM250.0 570.5h1.0v1.0h-1.0zM244.0 567.9h1.0v1.0h-1.0zM248.8 561.9h1.0v1.0h-1.0zM241.0 567.8h1.0v1.0h-1.0zM235.8 564.9h1.0v1.0h-1.0zM242.0 567.3h1.0v1.0h-1.0zM243.2 556.2h1.0v1.0h-1.0zM237.9 558.2h1.0v1.0h-1.0zM244.3 550.2h1.0v1.0h-1.0zM245.3 538.9h1.0v1.0h-1.0zM242.4 555.9h1.0v1.0h-1.0zM246.6 542.5h1.0v1.0h-1.0zM243.0 551.2h1.0v1.0h-1.0zM241.7 566.9h1.0v1.0h-1.0zM245.4 568.9h1.0v1.0h-1.0zM239.1 555.6h1.0v1.0h-1.0zM254.7 566.5h1.0v1.0h-1.0zM245.5 565.4h1.0v1.0h-1.0zM253.3 561.4h1.0v1.0h-1.0zM240.0 567.5h1.0v1.0h-1.0zM251.5 566.6h1.0v1.0h-1.0zM241.8 554.8h1.0v1.0h-1.0zM238.3 571.2h1.0v1.0h-1.0zM246.1 569.6h1.0v1.0h-1.0zM243.2 561.8h1.0v1.0h-1.0zM249.7 563.8h1.0v1.0h-1.0zM248.3 568.4h1.0v1.0h-1.0zM247.4 569.3h1.0v1.0h-1.0zM244.6 561.7h1.0v1.0h-1.0zM243.1 568.3h1.0v1.0h-1.0zM243.8 536.1h1.0v1.0h-1.0zM250.0 569.6h1.0v1.0h-1.0zM241.3 554.0h1.0v1.0h-1.0zM248.5 567.4h1.0v1.0h-1.0zM239.2 561.5h1.0v1.0h-1.0zM244.5 552.3h1.0v1.0h-1.0zM248.8 552.6h1.0v1.0h-1.0zM250.5 559.1h1.0v1.0h-1.0zM249.4 553.4h1.0v1.0h-1.0zM245.4 545.0h1.0v1.0h-1.0zM249.4 556.3h1.0v1.0h-1.0zM248.2 566.3h1.0v1.0h-1.0zM247.0 551.2h1.0v1.0h-1.0zM245.5 545.9h1.0v1.0h-1.0zM244.3 537.3h1.0v1.0h-1.0zM244.8 560.2h1.0v1.0h-1.0zM237.7 560.3h1.0v1.0h-1.0zM249.9 552.6h1.0v1.0h-1.0zM241.1 557.8h1.0v1.0h-1.0zM258.8 560.4h1.0v1.0h-1.0zM238.9 569.9h1.0v1.0h-1.0zM244.1 543.4h1.0v1.0h-1.0zM248.3 545.5h1.0v1.0h-1.0zM254.4 565.8h1.0v1.0h-1.0zM248.8 561.1h1.0v1.0h-1.0zM236.8 561.9h1.0v1.0h-1.0zM250.6 560.9h1.0v1.0h-1.0zM252.1 569.1h1.0v1.0h-1.0zM241.9 571.0h1.0v1.0h-1.0zM240.3 558.2h1.0v1.0h-1.0zM251.4 559.4h1.0v1.0h-1.0zM243.8 551.9h1.0v1.0h-1.0zM242.5 543.1h1.0v1.0h-1.0zM232.9 567.7h1.0v1.0h-1.0zM245.5 559.5h1.0v1.0h-1.0zM244.7 570.0h1.0v1.0h-1.0zM248.3 559.3h1.0v1.0h-1.0zM248.5 565.9h1.0v1.0h-1.0zM241.7 542.9h1.0v1.0h-1.0zM249.1 555.0h1.0v1.0h-1.0zM246.5 570.2h1.0v1.0h-1.0zM243.9 553.3h1.0v1.0h-1.0zM241.5 544.1h1.0v1.0h-1.0zM248.0 563.9h1.0v1.0h-1.0zM246.8 560.9h1.0v1.0h-1.0zM248.5 543.1h1.0v1.0h-1.0zM244.5 562.3h1.0v1.0h-1.0zM259.9 570.6h1.0v1.0h-1.0zM251.2 536.2h1.0v1.0h-1.0zM238.5 561.5h1.0v1.0h-1.0zM236.5 553.7h1.0v1.0h-1.0zM242.2 570.2h1.0v1.0h-1.0zM242.6 545.5h1.0v1.0h-1.0zM243.5 548.8h1.0v1.0h-1.0zM248.1 554.2h1.0v1.0h-1.0zM240.8 567.0h1.0v1.0h-1.0zM247.9 536.0h1.0v1.0h-1.0zM243.9 543.9h1.0v1.0h-1.0zM238.2 552.0h1.0v1.0h-1.0zM245.7 535.3h1.0v1.0h-1.0zM249.0 554.0h1.0v1.0h-1.0zM243.6 560.4h1.0v1.0h-1.0zM251.8 566.4h1.0v1.0h-1.0zM245.2 566.3h1.0v1.0h-1.0zM241.0 549.9h1.0v1.0h-1.0zM243.2 567.8h1.0v1.0h-1.0zM253.1 556.8h1.0v1.0h-1.0zM239.2 562.3h1.0v1.0h-1.0zM245.5 553.1h1.0v1.0h-1.0zM245.2 560.9h1.0v1.0h-1.0zM241.5 561.5h1.0v1.0h-1.0zM241.7 557.1h1.0v1.0h-1.0zM246.3 559.9h1.0v1.0h-1.0zM246.7 564.5h1.0v1.0h-1.0zM247.8 567.3h1.0v1.0h-1.0zM246.7 540.5h1.0v1.0h-1.0zM240.1 547.9h1.0v1.0h-1.0zM245.3 562.5h1.0v1.0h-1.0zM252.2 546.9h1.0v1.0h-1.0zM250.0 542.4h1.0v1.0h-1.0zM246.7 547.7h1.0v1.0h-1.0zM251.3 552.1h1.0v1.0h-1.0zM244.4 565.2h1.0v1.0h-1.0zM245.1 560.8h1.0v1.0h-1.0zM245.0 567.1h1.0v1.0h-1.0zM247.8 552.6h1.0v1.0h-1.0zM241.5 569.4h1.0v1.0h-1.0zM246.3 528.3h1.0v1.0h-1.0zM245.3 558.9h1.0v1.0h-1.0zM251.9 557.9h1.0v1.0h-1.0zM244.8 571.0h1.0v1.0h-1.0zM243.1 569.3h1.0v1.0h-1.0zM246.3 544.2h1.0v1.0h-1.0zM251.8 564.5h1.0v1.0h-1.0zM243.9 553.3h1.0v1.0h-1.0zM243.7 561.4h1.0v1.0h-1.0zM242.7 564.1h1.0v1.0h-1.0zM246.7 547.0h1.0v1.0h-1.0zM245.8 558.1h1.0v1.0h-1.0zM246.2 564.1h1.0v1.0h-1.0zM249.9 564.0h1.0v1.0h-1.0zM240.9 550.0h1.0v1.0h-1.0zM244.8 555.4h1.0v1.0h-1.0zM243.7 547.5h1.0v1.0h-1.0zM240.9 546.5h1.0v1.0h-1.0zM240.2 566.9h1.0v1.0h-1.0zM237.8 566.3h1.0v1.0h-1.0zM244.7 558.3h1.0v1.0h-1.0zM241.8 563.0h1.0v1.0h-1.0zM243.7 540.0h1.0v1.0h-1.0zM250.2 568.8h1.0v1.0h-1.0zM253.0 563.8h1.0v1.0h-1.0zM240.1 570.8h1.0v1.0h-1.0zM241.9 562.0h1.0v1.0h-1.0zM243.0 548.1h1.0v1.0h-1.0zM243.4 566.7h1.0v1.0h-1.0zM244.2 549.0h1.0v1.0h-1.0zM244.7 548.1h1.0v1.0h-1.0zM241.2 547.1h1.0v1.0h-1.0zM242.3 563.9h1.0v1.0h-1.0zM244.3 556.7h1.0v1.0h-1.0zM247.8 571.2h1.0v1.0h-1.0zM247.9 561.3h1.0v1.0h-1.0zM249.7 567.7h1.0v1.0h-1.0zM243.3 566.0h1.0v1.0h-1.0zM241.2 542.5h1.0v1.0h-1.0zM251.2 563.3h1.0v1.0h-1.0zM241.8 556.8h1.0v1.0h-1.0zM242.7 560.0h1.0v1.0h-1.0zM248.7 568.8h1.0v1.0h-1.0zM245.0 565.6h1.0v1.0h-1.0zM241.0 570.2h1.0v1.0h-1.0zM242.7 554.3h1.0v1.0h-1.0zM240.7 558.0h1.0v1.0h-1.0zM243.6 542.3h1.0v1.0h-1.0zM244.5 571.4h1.0v1.0h-1.0zM249.5 547.0h1.0v1.0h-1.0zM249.0 562.4h1.0v1.0h-1.0zM247.0 554.7h1.0v1.0h-1.0zM243.4 552.0h1.0v1.0h-1.0zM245.7 558.2h1.0v1.0h-1.0zM237.0 566.6h1.0v1.0h-1.0zM236.1 570.3h1.0v1.0h-1.0zM238.8 557.8h1.0v1.0h-1.0zM247.1 568.7h1.0v1.0h-1.0zM242.3 559.8h1.0v1.0h-1.0zM240.1 558.9h1.0v1.0h-1.0zM241.9 558.8h1.0v1.0h-1.0zM248.0 557.7h1.0v1.0h-1.0zM246.8 566.8h1.0v1.0h-1.0zM247.6 569.7h1.0v1.0h-1.0zM242.5 558.8h1.0v1.0h-1.0zM235.9 565.2h1.0v1.0h-1.0zM253.7 557.5h1.0v1.0h-1.0zM256.1 552.5h1.0v1.0h-1.0zM252.9 573.0h1.0v1.0h-1.0zM257.9 553.9h1.0v1.0h-1.0zM259.8 567.8h1.0v1.0h-1.0zM252.4 552.5h1.0v1.0h-1.0zM260.3 579.7h1.0v1.0h-1.0zM262.0 568.9h1.0v1.0h-1.0zM255.8 565.2h1.0v1.0h-1.0zM253.6 560.9h1.0v1.0h-1.0zM255.7 552.6h1.0v1.0h-1.0zM255.0 566.5h1.0v1.0h-1.0zM255.9 556.1h1.0v1.0h-1.0zM255.3 551.1h1.0v1.0h-1.0zM249.5 539.0h1.0v1.0h-1.0zM255.9 560.4h1.0v1.0h-1.0zM253.6 571.9h1.0v1.0h-1.0zM255.9 566.3h1.0v1.0h-1.0zM263.4 556.3h1.0v1.0h-1.0zM258.2 556.8h1.0v1.0h-1.0zM254.3 551.1h1.0v1.0h-1.0zM253.3 542.4h1.0v1.0h-1.0zM253.0 549.4h1.0v1.0h-1.0zM252.0 547.2h1.0v1.0h-1.0zM258.8 570.5h1.0v1.0h-1.0zM261.0 571.0h1.0v1.0h-1.0zM254.5 561.7h1.0v1.0h-1.0zM260.9 559.8h1.0v1.0h-1.0zM259.2 562.3h1.0v1.0h-1.0zM261.4 562.1h1.0v1.0h-1.0zM256.1 556.9h1.0v1.0h-1.0zM251.1 549.9h1.0v1.0h-1.0zM245.7 550.2h1.0v1.0h-1.0zM252.3 576.1h1.0v1.0h-1.0zM252.7 556.8h1.0v1.0h-1.0zM255.2 562.5h1.0v1.0h-1.0zM255.7 552.0h1.0v1.0h-1.0zM249.6 550.2h1.0v1.0h-1.0zM255.3 571.5h1.0v1.0h-1.0zM253.7 549.8h1.0v1.0h-1.0zM256.4 549.1h1.0v1.0h-1.0zM256.6 561.5h1.0v1.0h-1.0zM259.4 569.9h1.0v1.0h-1.0zM253.3 558.2h1.0v1.0h-1.0zM256.1 557.9h1.0v1.0h-1.0zM251.7 552.8h1.0v1.0h-1.0zM259.6 550.6h1.0v1.0h-1.0zM257.1 553.1h1.0v1.0h-1.0zM248.7 555.4h1.0v1.0h-1.0zM251.0 568.9h1.0v1.0h-1.0zM252.3 562.6h1.0v1.0h-1.0zM254.6 571.9h1.0v1.0h-1.0zM256.6 558.2h1.0v1.0h-1.0zM255.8 561.6h1.0v1.0h-1.0zM257.8 567.8h1.0v1.0h-1.0zM249.8 553.2h1.0v1.0h-1.0zM260.9 570.9h1.0v1.0h-1.0zM257.8 573.2h1.0v1.0h-1.0zM251.7 565.0h1.0v1.0h-1.0zM260.1 541.5h1.0v1.0h-1.0z" fill="#a9aae0"/>
<path d="M249.5 561.0h1.1v1.1h-1.1zM244.3 557.5h1.1v1.1h-1.1zM247.7 547.4h1.1v1.1h-1.1zM250.6 569.2h1.1v1.1h-1.1zM241.6 554.5h1.1v1.1h-1.1zM244.7 562.1h1.1v1.1h-1.1zM248.2 551.4h1.1v1.1h-1.1zM243.4 564.9h1.1v1.1h-1.1zM241.0 564.2h1.1v1.1h-1.1zM246.9 547.7h1.1v1.1h-1.1zM243.1 560.5h1.1v1.1h-1.1zM242.6 552.1h1.1v1.1h-1.1zM246.4 547.3h1.1v1.1h-1.1zM246.2 547.4h1.1v1.1h-1.1zM241.4 558.7h1.1v1.1h-1.1zM243.7 557.2h1.1v1.1h-1.1zM248.4 566.2h1.1v1.1h-1.1zM245.9 543.9h1.1v1.1h-1.1zM242.0 559.6h1.1v1.1h-1.1zM243.9 557.4h1.1v1.1h-1.1zM244.9 554.9h1.1v1.1h-1.1zM246.5 547.9h1.1v1.1h-1.1zM244.3 558.7h1.1v1.1h-1.1zM244.9 568.0h1.1v1.1h-1.1zM246.8 536.4h1.1v1.1h-1.1zM247.5 553.6h1.1v1.1h-1.1zM244.1 559.7h1.1v1.1h-1.1zM241.4 566.6h1.1v1.1h-1.1zM244.2 558.2h1.1v1.1h-1.1zM243.5 544.3h1.1v1.1h-1.1zM246.4 540.8h1.1v1.1h-1.1zM248.0 551.5h1.1v1.1h-1.1zM242.2 560.8h1.1v1.1h-1.1zM241.2 545.7h1.1v1.1h-1.1zM252.7 570.5h1.1v1.1h-1.1zM245.6 571.1h1.1v1.1h-1.1zM246.5 554.8h1.1v1.1h-1.1zM242.1 560.9h1.1v1.1h-1.1zM248.1 568.3h1.1v1.1h-1.1zM244.8 549.1h1.1v1.1h-1.1zM239.3 569.6h1.1v1.1h-1.1zM242.7 549.1h1.1v1.1h-1.1zM246.5 568.1h1.1v1.1h-1.1zM246.7 552.0h1.1v1.1h-1.1zM242.7 569.9h1.1v1.1h-1.1zM247.3 552.0h1.1v1.1h-1.1zM243.3 540.9h1.1v1.1h-1.1zM246.6 553.7h1.1v1.1h-1.1zM242.2 565.3h1.1v1.1h-1.1zM254.3 569.5h1.1v1.1h-1.1zM248.6 561.4h1.1v1.1h-1.1zM247.8 562.5h1.1v1.1h-1.1zM241.1 563.3h1.1v1.1h-1.1zM248.0 571.3h1.1v1.1h-1.1zM249.8 564.6h1.1v1.1h-1.1zM246.6 562.6h1.1v1.1h-1.1zM246.4 560.4h1.1v1.1h-1.1zM245.3 534.9h1.1v1.1h-1.1zM246.9 565.1h1.1v1.1h-1.1zM246.6 567.4h1.1v1.1h-1.1zM249.1 554.7h1.1v1.1h-1.1zM241.8 563.6h1.1v1.1h-1.1zM251.8 554.6h1.1v1.1h-1.1zM250.0 568.6h1.1v1.1h-1.1zM242.7 569.6h1.1v1.1h-1.1zM245.4 562.7h1.1v1.1h-1.1zM246.0 556.6h1.1v1.1h-1.1zM246.8 556.2h1.1v1.1h-1.1zM244.8 545.6h1.1v1.1h-1.1zM254.9 570.0h1.1v1.1h-1.1zM239.8 568.9h1.1v1.1h-1.1zM245.2 546.4h1.1v1.1h-1.1zM250.8 562.5h1.1v1.1h-1.1zM244.5 571.1h1.1v1.1h-1.1zM245.3 562.7h1.1v1.1h-1.1zM246.0 551.2h1.1v1.1h-1.1zM240.9 567.6h1.1v1.1h-1.1zM244.7 567.0h1.1v1.1h-1.1zM248.9 552.2h1.1v1.1h-1.1zM250.4 562.0h1.1v1.1h-1.1zM244.6 536.3h1.1v1.1h-1.1zM240.6 566.0h1.1v1.1h-1.1zM245.0 544.6h1.1v1.1h-1.1zM250.4 563.8h1.1v1.1h-1.1zM247.7 554.1h1.1v1.1h-1.1zM244.9 569.0h1.1v1.1h-1.1zM238.9 544.9h1.1v1.1h-1.1zM248.1 564.4h1.1v1.1h-1.1zM248.9 565.9h1.1v1.1h-1.1zM242.7 560.4h1.1v1.1h-1.1zM237.3 567.5h1.1v1.1h-1.1zM243.9 566.0h1.1v1.1h-1.1zM244.8 530.9h1.1v1.1h-1.1zM249.8 543.8h1.1v1.1h-1.1zM243.3 534.6h1.1v1.1h-1.1zM242.9 571.0h1.1v1.1h-1.1zM241.7 570.6h1.1v1.1h-1.1zM242.3 560.0h1.1v1.1h-1.1zM244.9 568.1h1.1v1.1h-1.1zM244.0 562.6h1.1v1.1h-1.1zM244.6 538.8h1.1v1.1h-1.1zM248.1 569.7h1.1v1.1h-1.1zM243.3 549.1h1.1v1.1h-1.1zM247.6 548.4h1.1v1.1h-1.1zM244.2 557.7h1.1v1.1h-1.1zM250.5 566.8h1.1v1.1h-1.1zM247.9 561.4h1.1v1.1h-1.1zM242.7 565.7h1.1v1.1h-1.1zM244.1 542.3h1.1v1.1h-1.1zM247.4 569.0h1.1v1.1h-1.1zM242.5 559.0h1.1v1.1h-1.1zM249.1 570.4h1.1v1.1h-1.1zM247.1 567.7h1.1v1.1h-1.1zM240.9 567.1h1.1v1.1h-1.1zM243.5 560.9h1.1v1.1h-1.1zM246.9 550.9h1.1v1.1h-1.1zM240.3 553.8h1.1v1.1h-1.1zM245.5 549.8h1.1v1.1h-1.1zM245.3 555.7h1.1v1.1h-1.1zM247.7 539.8h1.1v1.1h-1.1zM249.7 562.5h1.1v1.1h-1.1zM241.0 554.6h1.1v1.1h-1.1zM245.0 546.7h1.1v1.1h-1.1zM241.6 547.7h1.1v1.1h-1.1zM244.6 539.8h1.1v1.1h-1.1zM243.0 559.8h1.1v1.1h-1.1zM246.7 561.0h1.1v1.1h-1.1zM244.6 550.8h1.1v1.1h-1.1zM245.2 537.2h1.1v1.1h-1.1zM244.2 568.2h1.1v1.1h-1.1zM243.1 562.2h1.1v1.1h-1.1zM245.3 568.6h1.1v1.1h-1.1zM242.0 543.6h1.1v1.1h-1.1zM242.7 563.5h1.1v1.1h-1.1zM246.7 538.7h1.1v1.1h-1.1zM247.2 565.3h1.1v1.1h-1.1zM249.9 544.9h1.1v1.1h-1.1zM243.8 561.2h1.1v1.1h-1.1zM244.2 568.7h1.1v1.1h-1.1zM244.3 556.1h1.1v1.1h-1.1zM240.7 535.9h1.1v1.1h-1.1zM248.6 556.1h1.1v1.1h-1.1zM242.5 563.6h1.1v1.1h-1.1zM248.5 553.7h1.1v1.1h-1.1zM243.2 569.5h1.1v1.1h-1.1zM246.7 556.9h1.1v1.1h-1.1zM243.9 540.9h1.1v1.1h-1.1zM249.4 556.1h1.1v1.1h-1.1zM246.0 557.5h1.1v1.1h-1.1zM251.8 568.9h1.1v1.1h-1.1zM248.4 556.3h1.1v1.1h-1.1zM245.5 568.7h1.1v1.1h-1.1zM245.7 563.3h1.1v1.1h-1.1zM247.1 568.9h1.1v1.1h-1.1zM243.5 541.2h1.1v1.1h-1.1zM243.4 547.3h1.1v1.1h-1.1zM251.8 557.3h1.1v1.1h-1.1zM240.3 540.9h1.1v1.1h-1.1zM245.5 536.8h1.1v1.1h-1.1zM246.6 569.9h1.1v1.1h-1.1zM242.9 541.3h1.1v1.1h-1.1zM249.6 558.0h1.1v1.1h-1.1zM247.1 549.7h1.1v1.1h-1.1zM246.2 552.8h1.1v1.1h-1.1zM241.6 568.1h1.1v1.1h-1.1zM246.8 550.9h1.1v1.1h-1.1zM246.7 556.2h1.1v1.1h-1.1zM244.8 564.6h1.1v1.1h-1.1zM241.9 552.9h1.1v1.1h-1.1zM247.6 554.2h1.1v1.1h-1.1zM242.2 558.8h1.1v1.1h-1.1zM245.7 540.8h1.1v1.1h-1.1zM243.4 555.7h1.1v1.1h-1.1zM247.3 551.9h1.1v1.1h-1.1zM245.4 557.5h1.1v1.1h-1.1zM244.7 540.9h1.1v1.1h-1.1zM240.9 560.1h1.1v1.1h-1.1zM244.0 537.0h1.1v1.1h-1.1zM244.6 533.5h1.1v1.1h-1.1zM244.2 558.9h1.1v1.1h-1.1zM248.3 552.2h1.1v1.1h-1.1zM247.2 553.0h1.1v1.1h-1.1zM247.6 558.7h1.1v1.1h-1.1zM242.8 567.9h1.1v1.1h-1.1zM246.6 552.1h1.1v1.1h-1.1zM247.8 552.3h1.1v1.1h-1.1zM249.2 565.2h1.1v1.1h-1.1zM248.1 549.1h1.1v1.1h-1.1zM245.8 556.2h1.1v1.1h-1.1zM246.7 545.1h1.1v1.1h-1.1zM251.9 571.1h1.1v1.1h-1.1zM249.2 557.9h1.1v1.1h-1.1zM247.4 568.8h1.1v1.1h-1.1zM249.2 564.1h1.1v1.1h-1.1zM241.3 552.6h1.1v1.1h-1.1zM241.6 556.5h1.1v1.1h-1.1zM243.1 536.6h1.1v1.1h-1.1zM242.4 557.7h1.1v1.1h-1.1zM243.3 567.9h1.1v1.1h-1.1zM247.9 557.0h1.1v1.1h-1.1zM248.1 542.3h1.1v1.1h-1.1zM247.6 569.0h1.1v1.1h-1.1zM247.2 547.4h1.1v1.1h-1.1zM244.1 556.6h1.1v1.1h-1.1zM247.9 538.0h1.1v1.1h-1.1zM245.7 568.9h1.1v1.1h-1.1zM248.6 562.9h1.1v1.1h-1.1zM247.8 544.5h1.1v1.1h-1.1zM245.5 558.2h1.1v1.1h-1.1zM242.9 553.1h1.1v1.1h-1.1zM245.4 553.2h1.1v1.1h-1.1zM246.0 565.2h1.1v1.1h-1.1zM246.4 555.7h1.1v1.1h-1.1zM247.0 537.9h1.1v1.1h-1.1zM242.1 558.2h1.1v1.1h-1.1zM243.5 557.4h1.1v1.1h-1.1zM246.9 571.2h1.1v1.1h-1.1zM247.1 560.9h1.1v1.1h-1.1zM244.1 556.4h1.1v1.1h-1.1zM249.9 559.5h1.1v1.1h-1.1zM251.2 577.4h1.1v1.1h-1.1zM248.9 576.0h1.1v1.1h-1.1zM257.6 576.0h1.1v1.1h-1.1zM257.4 573.0h1.1v1.1h-1.1zM249.5 572.2h1.1v1.1h-1.1zM251.5 578.6h1.1v1.1h-1.1zM249.8 577.4h1.1v1.1h-1.1zM252.7 574.4h1.1v1.1h-1.1zM248.4 578.5h1.1v1.1h-1.1zM255.8 578.8h1.1v1.1h-1.1zM249.8 577.4h1.1v1.1h-1.1zM240.2 576.2h1.1v1.1h-1.1zM249.5 578.6h1.1v1.1h-1.1zM259.4 575.7h1.1v1.1h-1.1zM241.4 581.7h1.1v1.1h-1.1zM237.6 578.5h1.1v1.1h-1.1zM247.4 575.3h1.1v1.1h-1.1zM247.5 578.1h1.1v1.1h-1.1zM242.2 579.7h1.1v1.1h-1.1zM246.9 578.9h1.1v1.1h-1.1zM248.2 578.1h1.1v1.1h-1.1zM255.9 575.3h1.1v1.1h-1.1zM240.4 574.8h1.1v1.1h-1.1zM244.2 576.1h1.1v1.1h-1.1zM252.4 576.3h1.1v1.1h-1.1zM249.2 571.9h1.1v1.1h-1.1zM252.9 578.4h1.1v1.1h-1.1zM242.4 579.8h1.1v1.1h-1.1zM243.0 577.1h1.1v1.1h-1.1zM255.1 576.2h1.1v1.1h-1.1zM249.8 577.9h1.1v1.1h-1.1zM270.2 576.2h1.1v1.1h-1.1zM258.1 576.9h1.1v1.1h-1.1zM234.1 576.2h1.1v1.1h-1.1zM243.7 576.9h1.1v1.1h-1.1zM246.9 576.1h1.1v1.1h-1.1zM245.3 577.3h1.1v1.1h-1.1zM250.3 579.3h1.1v1.1h-1.1zM245.5 573.9h1.1v1.1h-1.1zM256.5 578.4h1.1v1.1h-1.1zM251.1 576.6h1.1v1.1h-1.1zM250.3 580.2h1.1v1.1h-1.1zM245.3 581.5h1.1v1.1h-1.1zM259.0 578.0h1.1v1.1h-1.1zM245.1 576.6h1.1v1.1h-1.1zM248.7 575.8h1.1v1.1h-1.1zM256.3 578.5h1.1v1.1h-1.1zM257.4 578.4h1.1v1.1h-1.1zM251.5 579.6h1.1v1.1h-1.1zM259.1 576.7h1.1v1.1h-1.1zM238.8 576.1h1.1v1.1h-1.1zM242.0 578.7h1.1v1.1h-1.1zM266.0 575.3h1.1v1.1h-1.1zM258.6 577.5h1.1v1.1h-1.1zM249.8 573.5h1.1v1.1h-1.1zM246.3 577.3h1.1v1.1h-1.1zM245.0 578.2h1.1v1.1h-1.1zM246.2 577.4h1.1v1.1h-1.1zM261.1 580.7h1.1v1.1h-1.1zM238.2 578.1h1.1v1.1h-1.1zM244.5 576.1h1.1v1.1h-1.1zM238.5 574.7h1.1v1.1h-1.1zM255.4 579.8h1.1v1.1h-1.1zM267.3 576.1h1.1v1.1h-1.1zM247.6 577.1h1.1v1.1h-1.1zM246.9 575.3h1.1v1.1h-1.1zM254.3 577.2h1.1v1.1h-1.1zM251.6 578.0h1.1v1.1h-1.1zM240.9 576.3h1.1v1.1h-1.1zM236.4 577.8h1.1v1.1h-1.1zM253.1 577.3h1.1v1.1h-1.1zM242.6 577.0h1.1v1.1h-1.1zM253.2 578.1h1.1v1.1h-1.1zM243.0 576.7h1.1v1.1h-1.1zM249.0 578.1h1.1v1.1h-1.1zM245.7 573.3h1.1v1.1h-1.1zM256.9 580.7h1.1v1.1h-1.1zM237.3 580.1h1.1v1.1h-1.1zM265.3 575.8h1.1v1.1h-1.1zM260.1 577.9h1.1v1.1h-1.1zM251.3 577.6h1.1v1.1h-1.1zM244.9 576.6h1.1v1.1h-1.1zM257.1 576.8h1.1v1.1h-1.1zM248.2 579.8h1.1v1.1h-1.1zM248.3 577.4h1.1v1.1h-1.1zM255.8 575.5h1.1v1.1h-1.1zM246.9 573.7h1.1v1.1h-1.1zM249.7 577.1h1.1v1.1h-1.1zM246.1 574.8h1.1v1.1h-1.1zM244.8 575.2h1.1v1.1h-1.1zM251.4 576.8h1.1v1.1h-1.1zM241.2 579.9h1.1v1.1h-1.1zM238.1 580.4h1.1v1.1h-1.1zM257.0 576.3h1.1v1.1h-1.1zM249.1 576.7h1.1v1.1h-1.1zM247.8 579.8h1.1v1.1h-1.1zM258.9 577.4h1.1v1.1h-1.1zM246.0 577.3h1.1v1.1h-1.1zM245.9 575.5h1.1v1.1h-1.1zM253.6 578.0h1.1v1.1h-1.1zM252.5 579.7h1.1v1.1h-1.1zM242.9 577.2h1.1v1.1h-1.1zM250.9 577.0h1.1v1.1h-1.1zM252.9 575.5h1.1v1.1h-1.1zM251.8 578.8h1.1v1.1h-1.1zM250.8 583.8h1.1v1.1h-1.1zM244.8 576.6h1.1v1.1h-1.1zM246.3 581.6h1.1v1.1h-1.1zM248.3 581.3h1.1v1.1h-1.1zM248.9 577.7h1.1v1.1h-1.1zM263.7 577.5h1.1v1.1h-1.1zM261.4 575.9h1.1v1.1h-1.1zM248.4 577.3h1.1v1.1h-1.1zM244.7 577.0h1.1v1.1h-1.1zM236.9 578.5h1.1v1.1h-1.1zM253.4 580.3h1.1v1.1h-1.1zM250.9 577.8h1.1v1.1h-1.1zM254.1 578.7h1.1v1.1h-1.1zM257.6 579.5h1.1v1.1h-1.1zM242.7 578.4h1.1v1.1h-1.1zM251.2 580.0h1.1v1.1h-1.1zM252.7 577.6h1.1v1.1h-1.1zM252.4 578.8h1.1v1.1h-1.1zM252.2 576.0h1.1v1.1h-1.1zM251.5 579.6h1.1v1.1h-1.1zM255.6 577.4h1.1v1.1h-1.1zM243.0 575.7h1.1v1.1h-1.1zM254.4 575.8h1.1v1.1h-1.1zM246.1 577.1h1.1v1.1h-1.1zM236.3 576.3h1.1v1.1h-1.1zM247.7 577.0h1.1v1.1h-1.1zM240.3 579.2h1.1v1.1h-1.1zM263.7 578.2h1.1v1.1h-1.1zM250.9 574.6h1.1v1.1h-1.1zM250.0 575.1h1.1v1.1h-1.1zM245.2 575.5h1.1v1.1h-1.1zM248.3 576.2h1.1v1.1h-1.1zM247.5 579.0h1.1v1.1h-1.1zM237.3 575.8h1.1v1.1h-1.1zM241.6 577.7h1.1v1.1h-1.1zM252.4 576.7h1.1v1.1h-1.1zM248.4 580.3h1.1v1.1h-1.1zM252.1 575.1h1.1v1.1h-1.1zM249.1 581.0h1.1v1.1h-1.1zM248.0 577.4h1.1v1.1h-1.1zM257.4 580.2h1.1v1.1h-1.1zM248.5 578.4h1.1v1.1h-1.1zM247.0 580.8h1.1v1.1h-1.1zM254.2 578.8h1.1v1.1h-1.1zM252.8 575.6h1.1v1.1h-1.1z" fill="#6e78c8"/>
<path d="M244.2 564.5h1.2v1.2h-1.2zM243.0 563.4h1.2v1.2h-1.2zM246.5 571.2h1.2v1.2h-1.2zM247.1 565.3h1.2v1.2h-1.2zM246.0 567.9h1.2v1.2h-1.2zM245.5 557.9h1.2v1.2h-1.2zM245.1 566.3h1.2v1.2h-1.2zM245.5 561.5h1.2v1.2h-1.2zM243.5 554.4h1.2v1.2h-1.2zM239.8 567.7h1.2v1.2h-1.2zM244.6 564.5h1.2v1.2h-1.2zM245.3 561.9h1.2v1.2h-1.2zM244.3 563.6h1.2v1.2h-1.2zM247.4 570.6h1.2v1.2h-1.2zM244.8 560.5h1.2v1.2h-1.2zM247.6 570.5h1.2v1.2h-1.2zM241.2 549.1h1.2v1.2h-1.2zM246.3 563.8h1.2v1.2h-1.2zM243.6 559.2h1.2v1.2h-1.2zM247.1 553.6h1.2v1.2h-1.2zM243.1 570.7h1.2v1.2h-1.2zM241.7 554.7h1.2v1.2h-1.2zM244.4 547.1h1.2v1.2h-1.2zM247.1 563.7h1.2v1.2h-1.2zM250.0 565.5h1.2v1.2h-1.2zM245.8 554.3h1.2v1.2h-1.2zM246.1 555.5h1.2v1.2h-1.2zM246.1 554.6h1.2v1.2h-1.2zM244.3 567.1h1.2v1.2h-1.2zM245.8 560.4h1.2v1.2h-1.2zM244.2 568.8h1.2v1.2h-1.2zM244.8 564.9h1.2v1.2h-1.2zM241.6 563.0h1.2v1.2h-1.2zM244.7 554.0h1.2v1.2h-1.2zM245.7 566.8h1.2v1.2h-1.2zM240.7 560.8h1.2v1.2h-1.2zM243.5 556.6h1.2v1.2h-1.2zM236.9 571.0h1.2v1.2h-1.2zM242.9 565.0h1.2v1.2h-1.2zM248.2 554.3h1.2v1.2h-1.2zM246.8 565.9h1.2v1.2h-1.2zM242.7 567.5h1.2v1.2h-1.2zM244.6 561.7h1.2v1.2h-1.2zM243.5 566.5h1.2v1.2h-1.2zM245.4 553.8h1.2v1.2h-1.2zM245.8 559.3h1.2v1.2h-1.2zM244.3 545.6h1.2v1.2h-1.2zM240.0 569.0h1.2v1.2h-1.2zM244.3 549.1h1.2v1.2h-1.2zM245.0 564.6h1.2v1.2h-1.2zM246.2 546.6h1.2v1.2h-1.2zM244.5 555.1h1.2v1.2h-1.2zM244.1 561.4h1.2v1.2h-1.2zM247.1 561.4h1.2v1.2h-1.2zM244.6 570.9h1.2v1.2h-1.2zM245.7 564.2h1.2v1.2h-1.2zM241.8 562.7h1.2v1.2h-1.2zM249.8 569.1h1.2v1.2h-1.2zM247.6 561.3h1.2v1.2h-1.2zM248.7 568.5h1.2v1.2h-1.2zM243.6 570.3h1.2v1.2h-1.2zM245.9 563.7h1.2v1.2h-1.2zM244.9 563.7h1.2v1.2h-1.2zM243.6 570.9h1.2v1.2h-1.2zM244.3 563.9h1.2v1.2h-1.2zM246.8 550.6h1.2v1.2h-1.2zM243.5 568.9h1.2v1.2h-1.2zM244.8 549.7h1.2v1.2h-1.2zM245.5 563.8h1.2v1.2h-1.2zM243.3 570.8h1.2v1.2h-1.2zM239.3 565.2h1.2v1.2h-1.2zM244.6 560.1h1.2v1.2h-1.2zM243.5 566.9h1.2v1.2h-1.2zM246.4 563.7h1.2v1.2h-1.2zM247.0 570.7h1.2v1.2h-1.2zM245.8 549.9h1.2v1.2h-1.2zM248.2 561.4h1.2v1.2h-1.2zM246.6 566.5h1.2v1.2h-1.2zM244.8 570.8h1.2v1.2h-1.2zM243.0 565.4h1.2v1.2h-1.2zM244.3 554.6h1.2v1.2h-1.2zM245.5 570.9h1.2v1.2h-1.2zM244.9 566.3h1.2v1.2h-1.2zM247.4 560.9h1.2v1.2h-1.2zM243.3 569.8h1.2v1.2h-1.2zM242.0 565.5h1.2v1.2h-1.2zM242.2 554.3h1.2v1.2h-1.2zM243.4 560.4h1.2v1.2h-1.2zM244.9 545.3h1.2v1.2h-1.2zM245.4 564.5h1.2v1.2h-1.2zM248.1 562.7h1.2v1.2h-1.2zM247.2 557.4h1.2v1.2h-1.2zM246.5 562.0h1.2v1.2h-1.2zM247.1 564.6h1.2v1.2h-1.2zM246.3 566.9h1.2v1.2h-1.2zM245.1 554.3h1.2v1.2h-1.2zM246.3 558.9h1.2v1.2h-1.2zM240.8 567.5h1.2v1.2h-1.2zM246.7 564.4h1.2v1.2h-1.2zM245.3 563.4h1.2v1.2h-1.2zM243.2 567.4h1.2v1.2h-1.2zM246.4 559.1h1.2v1.2h-1.2zM243.2 563.7h1.2v1.2h-1.2zM245.9 570.3h1.2v1.2h-1.2zM242.8 565.2h1.2v1.2h-1.2zM241.1 567.5h1.2v1.2h-1.2zM245.0 557.6h1.2v1.2h-1.2zM242.1 563.7h1.2v1.2h-1.2zM245.9 566.9h1.2v1.2h-1.2zM243.7 558.5h1.2v1.2h-1.2z" fill="#3c58a0"/>
<path d="M243.8 568.2h1.3v1.3h-1.3zM243.3 572.1h1.3v1.3h-1.3zM246.2 563.6h1.3v1.3h-1.3zM243.6 568.0h1.3v1.3h-1.3zM244.1 571.0h1.3v1.3h-1.3zM245.7 570.1h1.3v1.3h-1.3zM243.3 572.1h1.3v1.3h-1.3zM242.0 569.2h1.3v1.3h-1.3zM243.6 572.2h1.3v1.3h-1.3zM243.7 568.1h1.3v1.3h-1.3zM245.3 567.8h1.3v1.3h-1.3zM244.5 569.5h1.3v1.3h-1.3zM245.7 563.7h1.3v1.3h-1.3zM241.2 569.5h1.3v1.3h-1.3zM245.7 563.7h1.3v1.3h-1.3zM247.2 567.2h1.3v1.3h-1.3zM244.1 568.0h1.3v1.3h-1.3zM245.7 576.1h1.3v1.3h-1.3zM239.8 567.3h1.3v1.3h-1.3zM245.1 572.9h1.3v1.3h-1.3zM245.4 564.5h1.3v1.3h-1.3zM242.1 575.9h1.3v1.3h-1.3zM241.2 575.5h1.3v1.3h-1.3zM245.3 568.0h1.3v1.3h-1.3zM246.3 569.6h1.3v1.3h-1.3zM244.3 570.9h1.3v1.3h-1.3zM245.9 572.2h1.3v1.3h-1.3zM246.7 570.3h1.3v1.3h-1.3zM243.7 570.4h1.3v1.3h-1.3zM244.2 568.1h1.3v1.3h-1.3zM244.5 565.6h1.3v1.3h-1.3zM244.3 563.8h1.3v1.3h-1.3zM244.8 568.2h1.3v1.3h-1.3zM244.4 570.7h1.3v1.3h-1.3zM242.9 567.8h1.3v1.3h-1.3zM242.3 569.6h1.3v1.3h-1.3zM244.6 567.4h1.3v1.3h-1.3zM243.5 569.7h1.3v1.3h-1.3zM242.8 569.5h1.3v1.3h-1.3zM244.8 574.2h1.3v1.3h-1.3z" fill="#3a9cb0"/>
<path d="M242.2 578.2h1.4v1.4h-1.4zM244.6 579.1h1.4v1.4h-1.4zM243.3 579.3h1.4v1.4h-1.4zM245.1 578.8h1.4v1.4h-1.4zM238.3 575.2h1.4v1.4h-1.4zM241.3 579.5h1.4v1.4h-1.4zM244.6 579.6h1.4v1.4h-1.4zM244.0 579.6h1.4v1.4h-1.4zM246.9 581.2h1.4v1.4h-1.4zM244.2 576.9h1.4v1.4h-1.4zM246.5 578.3h1.4v1.4h-1.4zM239.9 581.0h1.4v1.4h-1.4zM245.2 581.5h1.4v1.4h-1.4zM246.1 576.5h1.4v1.4h-1.4zM247.1 575.6h1.4v1.4h-1.4zM246.9 580.9h1.4v1.4h-1.4zM246.4 577.3h1.4v1.4h-1.4zM243.9 577.3h1.4v1.4h-1.4zM250.6 575.0h1.4v1.4h-1.4zM249.6 577.8h1.4v1.4h-1.4zM242.7 575.4h1.4v1.4h-1.4zM240.7 578.7h1.4v1.4h-1.4zM242.0 578.5h1.4v1.4h-1.4zM246.1 578.3h1.4v1.4h-1.4zM244.7 577.7h1.4v1.4h-1.4zM241.3 579.8h1.4v1.4h-1.4zM244.8 574.1h1.4v1.4h-1.4zM240.8 576.7h1.4v1.4h-1.4zM245.3 577.0h1.4v1.4h-1.4zM240.8 577.1h1.4v1.4h-1.4zM241.2 578.8h1.4v1.4h-1.4zM237.6 578.0h1.4v1.4h-1.4zM244.5 577.5h1.4v1.4h-1.4zM241.7 578.4h1.4v1.4h-1.4zM246.9 577.2h1.4v1.4h-1.4zM241.0 576.9h1.4v1.4h-1.4zM244.9 579.6h1.4v1.4h-1.4zM240.9 580.9h1.4v1.4h-1.4zM243.5 576.3h1.4v1.4h-1.4zM242.1 578.9h1.4v1.4h-1.4zM247.4 577.0h1.4v1.4h-1.4zM242.1 577.2h1.4v1.4h-1.4zM249.2 577.2h1.4v1.4h-1.4zM244.7 579.0h1.4v1.4h-1.4zM244.2 577.5h1.4v1.4h-1.4zM240.8 578.0h1.4v1.4h-1.4zM243.2 575.8h1.4v1.4h-1.4zM241.6 578.5h1.4v1.4h-1.4zM243.3 578.0h1.4v1.4h-1.4zM247.0 579.2h1.4v1.4h-1.4zM241.9 578.0h1.4v1.4h-1.4zM240.3 576.9h1.4v1.4h-1.4zM243.9 579.6h1.4v1.4h-1.4zM242.0 578.8h1.4v1.4h-1.4zM242.7 580.2h1.4v1.4h-1.4zM247.8 580.2h1.4v1.4h-1.4zM242.4 578.8h1.4v1.4h-1.4zM243.0 577.0h1.4v1.4h-1.4zM243.2 577.6h1.4v1.4h-1.4zM244.6 577.1h1.4v1.4h-1.4zM245.2 579.8h1.4v1.4h-1.4zM241.9 576.3h1.4v1.4h-1.4zM241.7 579.6h1.4v1.4h-1.4zM244.5 575.7h1.4v1.4h-1.4zM245.4 581.1h1.4v1.4h-1.4zM245.9 579.6h1.4v1.4h-1.4zM243.9 579.4h1.4v1.4h-1.4zM247.1 578.2h1.4v1.4h-1.4zM250.2 580.7h1.4v1.4h-1.4zM243.8 574.0h1.4v1.4h-1.4zM237.9 578.2h1.4v1.4h-1.4zM245.7 579.4h1.4v1.4h-1.4zM243.0 575.7h1.4v1.4h-1.4zM244.7 579.0h1.4v1.4h-1.4zM243.4 577.4h1.4v1.4h-1.4zM248.1 578.0h1.4v1.4h-1.4zM242.8 580.2h1.4v1.4h-1.4zM244.1 579.2h1.4v1.4h-1.4zM250.1 576.7h1.4v1.4h-1.4zM245.9 576.6h1.4v1.4h-1.4zM242.7 580.8h1.4v1.4h-1.4zM239.1 579.2h1.4v1.4h-1.4zM239.8 578.8h1.4v1.4h-1.4zM239.8 578.6h1.4v1.4h-1.4zM240.9 579.1h1.4v1.4h-1.4zM246.0 579.4h1.4v1.4h-1.4zM244.8 577.7h1.4v1.4h-1.4zM244.5 578.6h1.4v1.4h-1.4zM245.5 580.6h1.4v1.4h-1.4zM245.3 576.7h1.4v1.4h-1.4zM243.0 578.8h1.4v1.4h-1.4zM239.0 579.1h1.4v1.4h-1.4zM246.1 577.0h1.4v1.4h-1.4zM244.4 576.9h1.4v1.4h-1.4zM247.3 576.7h1.4v1.4h-1.4zM243.5 580.0h1.4v1.4h-1.4zM242.6 574.6h1.4v1.4h-1.4zM241.3 580.4h1.4v1.4h-1.4zM245.0 577.3h1.4v1.4h-1.4zM245.1 578.8h1.4v1.4h-1.4z" fill="#52b03c"/>
<path d="M256.3 573.8h1.4v1.4h-1.4zM256.0 574.3h1.4v1.4h-1.4zM253.7 576.6h1.4v1.4h-1.4zM254.3 576.3h1.4v1.4h-1.4zM256.7 576.2h1.4v1.4h-1.4zM258.0 577.1h1.4v1.4h-1.4zM256.6 577.0h1.4v1.4h-1.4zM258.7 576.6h1.4v1.4h-1.4zM259.1 576.9h1.4v1.4h-1.4zM257.5 574.7h1.4v1.4h-1.4zM257.9 577.1h1.4v1.4h-1.4zM256.7 576.7h1.4v1.4h-1.4zM260.6 575.5h1.4v1.4h-1.4zM255.2 576.6h1.4v1.4h-1.4zM256.9 576.4h1.4v1.4h-1.4zM259.3 577.1h1.4v1.4h-1.4zM257.8 577.3h1.4v1.4h-1.4zM257.2 574.6h1.4v1.4h-1.4zM257.1 575.8h1.4v1.4h-1.4zM262.9 576.3h1.4v1.4h-1.4zM256.0 577.6h1.4v1.4h-1.4zM259.4 576.9h1.4v1.4h-1.4zM252.2 576.2h1.4v1.4h-1.4zM258.0 576.7h1.4v1.4h-1.4zM255.0 576.7h1.4v1.4h-1.4zM261.1 576.7h1.4v1.4h-1.4zM261.5 577.2h1.4v1.4h-1.4zM256.8 575.9h1.4v1.4h-1.4zM257.7 575.2h1.4v1.4h-1.4zM254.6 576.5h1.4v1.4h-1.4zM255.0 576.8h1.4v1.4h-1.4zM255.7 577.0h1.4v1.4h-1.4zM256.6 576.0h1.4v1.4h-1.4zM257.2 575.6h1.4v1.4h-1.4zM257.3 576.1h1.4v1.4h-1.4zM257.6 575.8h1.4v1.4h-1.4zM253.0 576.7h1.4v1.4h-1.4zM255.2 577.1h1.4v1.4h-1.4zM256.0 577.3h1.4v1.4h-1.4zM256.1 577.4h1.4v1.4h-1.4zM257.0 576.5h1.4v1.4h-1.4zM258.0 575.4h1.4v1.4h-1.4zM257.7 577.6h1.4v1.4h-1.4zM249.6 576.5h1.4v1.4h-1.4zM257.5 576.7h1.4v1.4h-1.4zM253.7 578.2h1.4v1.4h-1.4zM258.7 576.6h1.4v1.4h-1.4zM258.8 578.2h1.4v1.4h-1.4zM255.7 577.4h1.4v1.4h-1.4zM251.2 575.7h1.4v1.4h-1.4z" fill="#e89030"/>
<path d="M253.5 575.0h1.4v1.4h-1.4zM255.0 576.3h1.4v1.4h-1.4zM257.4 575.4h1.4v1.4h-1.4zM254.1 575.4h1.4v1.4h-1.4zM253.5 576.5h1.4v1.4h-1.4zM254.9 575.5h1.4v1.4h-1.4zM257.0 576.1h1.4v1.4h-1.4zM256.7 575.8h1.4v1.4h-1.4zM255.0 576.1h1.4v1.4h-1.4zM253.4 577.2h1.4v1.4h-1.4zM256.1 575.2h1.4v1.4h-1.4zM257.4 575.9h1.4v1.4h-1.4zM256.8 575.6h1.4v1.4h-1.4zM253.6 578.1h1.4v1.4h-1.4zM255.2 575.1h1.4v1.4h-1.4zM256.1 575.0h1.4v1.4h-1.4zM257.7 575.0h1.4v1.4h-1.4zM255.7 577.0h1.4v1.4h-1.4zM257.5 575.8h1.4v1.4h-1.4zM252.9 576.9h1.4v1.4h-1.4z" fill="#d8d030"/>
</g>
<rect x="187.50" y="513.40" width="84.5" height="84.0" fill="none" stroke="#777" stroke-width="0.8"/>
<line x1="220.80" y1="513.40" x2="220.80" y2="597.40" stroke="#333" stroke-width="0.9"/>
<line x1="187.50" y1="572.20" x2="272.00" y2="572.20" stroke="#333" stroke-width="0.9"/>
<line x1="185.00" y1="521.40" x2="187.50" y2="521.40" stroke="#444" stroke-width="0.8"/>
<line x1="185.00" y1="542.00" x2="187.50" y2="542.00" stroke="#444" stroke-width="0.8"/>
<line x1="185.00" y1="564.40" x2="187.50" y2="564.40" stroke="#444" stroke-width="0.8"/>
<line x1="185.00" y1="578.10" x2="187.50" y2="578.10" stroke="#444" stroke-width="0.8"/>
<line x1="185.00" y1="591.80" x2="187.50" y2="591.80" stroke="#444" stroke-width="0.8"/>
<line x1="186.20" y1="535.80" x2="187.50" y2="535.80" stroke="#777" stroke-width="0.5"/>
<line x1="186.20" y1="532.17" x2="187.50" y2="532.17" stroke="#777" stroke-width="0.5"/>
<line x1="186.20" y1="529.60" x2="187.50" y2="529.60" stroke="#777" stroke-width="0.5"/>
<line x1="186.20" y1="527.60" x2="187.50" y2="527.60" stroke="#777" stroke-width="0.5"/>
<line x1="186.20" y1="525.97" x2="187.50" y2="525.97" stroke="#777" stroke-width="0.5"/>
<line x1="186.20" y1="524.59" x2="187.50" y2="524.59" stroke="#777" stroke-width="0.5"/>
<line x1="186.20" y1="523.40" x2="187.50" y2="523.40" stroke="#777" stroke-width="0.5"/>
<line x1="186.20" y1="522.34" x2="187.50" y2="522.34" stroke="#777" stroke-width="0.5"/>
<line x1="186.20" y1="557.66" x2="187.50" y2="557.66" stroke="#777" stroke-width="0.5"/>
<line x1="186.20" y1="553.71" x2="187.50" y2="553.71" stroke="#777" stroke-width="0.5"/>
<line x1="186.20" y1="550.91" x2="187.50" y2="550.91" stroke="#777" stroke-width="0.5"/>
<line x1="186.20" y1="548.74" x2="187.50" y2="548.74" stroke="#777" stroke-width="0.5"/>
<line x1="186.20" y1="546.97" x2="187.50" y2="546.97" stroke="#777" stroke-width="0.5"/>
<line x1="186.20" y1="545.47" x2="187.50" y2="545.47" stroke="#777" stroke-width="0.5"/>
<line x1="186.20" y1="544.17" x2="187.50" y2="544.17" stroke="#777" stroke-width="0.5"/>
<line x1="186.20" y1="543.02" x2="187.50" y2="543.02" stroke="#777" stroke-width="0.5"/>
<line x1="192.50" y1="597.40" x2="192.50" y2="599.90" stroke="#444" stroke-width="0.8"/>
<line x1="207.00" y1="597.40" x2="207.00" y2="599.90" stroke="#444" stroke-width="0.8"/>
<line x1="220.50" y1="597.40" x2="220.50" y2="599.90" stroke="#444" stroke-width="0.8"/>
<line x1="244.30" y1="597.40" x2="244.30" y2="599.90" stroke="#444" stroke-width="0.8"/>
<line x1="265.50" y1="597.40" x2="265.50" y2="599.90" stroke="#444" stroke-width="0.8"/>
<line x1="227.66" y1="597.40" x2="227.66" y2="598.70" stroke="#777" stroke-width="0.5"/>
<line x1="231.86" y1="597.40" x2="231.86" y2="598.70" stroke="#777" stroke-width="0.5"/>
<line x1="234.83" y1="597.40" x2="234.83" y2="598.70" stroke="#777" stroke-width="0.5"/>
<line x1="237.14" y1="597.40" x2="237.14" y2="598.70" stroke="#777" stroke-width="0.5"/>
<line x1="239.02" y1="597.40" x2="239.02" y2="598.70" stroke="#777" stroke-width="0.5"/>
<line x1="240.61" y1="597.40" x2="240.61" y2="598.70" stroke="#777" stroke-width="0.5"/>
<line x1="241.99" y1="597.40" x2="241.99" y2="598.70" stroke="#777" stroke-width="0.5"/>
<line x1="243.21" y1="597.40" x2="243.21" y2="598.70" stroke="#777" stroke-width="0.5"/>
<line x1="250.68" y1="597.40" x2="250.68" y2="598.70" stroke="#777" stroke-width="0.5"/>
<line x1="254.41" y1="597.40" x2="254.41" y2="598.70" stroke="#777" stroke-width="0.5"/>
<line x1="257.06" y1="597.40" x2="257.06" y2="598.70" stroke="#777" stroke-width="0.5"/>
<line x1="259.12" y1="597.40" x2="259.12" y2="598.70" stroke="#777" stroke-width="0.5"/>
<line x1="260.80" y1="597.40" x2="260.80" y2="598.70" stroke="#777" stroke-width="0.5"/>
<line x1="262.22" y1="597.40" x2="262.22" y2="598.70" stroke="#777" stroke-width="0.5"/>
<line x1="263.45" y1="597.40" x2="263.45" y2="598.70" stroke="#777" stroke-width="0.5"/>
<line x1="264.53" y1="597.40" x2="264.53" y2="598.70" stroke="#777" stroke-width="0.5"/>
<text x="170.55" y="523.90" font-size="7.2" fill="#111">10<tspan font-size="5.30" dy="-3.5">5</tspan></text>
<text x="170.55" y="544.50" font-size="7.2" fill="#111">10<tspan font-size="5.30" dy="-3.5">4</tspan></text>
<text x="170.55" y="566.90" font-size="7.2" fill="#111">10<tspan font-size="5.30" dy="-3.5">3</tspan></text>
<text x="181.50" y="580.60" font-size="7.2" text-anchor="end" font-weight="normal" fill="#111" >0</text>
<text x="166.34" y="594.30" font-size="7.2" fill="#111">−10<tspan font-size="5.30" dy="-3.5">3</tspan></text>
<text x="184.92" y="609.60" font-size="7.2" fill="#111">−10<tspan font-size="5.30" dy="-3.5">3</tspan></text>
<text x="207.00" y="609.60" font-size="7.2" text-anchor="middle" font-weight="normal" fill="#111" >0</text>
<text x="215.02" y="609.60" font-size="7.2" fill="#111">10<tspan font-size="5.30" dy="-3.5">3</tspan></text>
<text x="238.82" y="609.60" font-size="7.2" fill="#111">10<tspan font-size="5.30" dy="-3.5">4</tspan></text>
<text x="260.02" y="609.60" font-size="7.2" fill="#111">10<tspan font-size="5.30" dy="-3.5">5</tspan></text>
<rect x="185.90" y="576.60" width="2" height="3" fill="#111"/>
<rect x="205.00" y="596.80" width="4" height="1.8" fill="#111"/>
<text x="189.00" y="520.40" font-size="6.4" text-anchor="start" font-weight="bold" fill="#222" >0</text>
<text x="189.20" y="592.40" font-size="6.4" text-anchor="start" font-weight="bold" fill="#222" >0</text>
<text x="270.20" y="520.30" font-size="5.7" text-anchor="end" font-weight="bold" fill="#000" >40.1 %</text>
<text x="268.10" y="593.00" font-size="5.7" text-anchor="end" font-weight="bold" fill="#000" >59.9 %</text>
<text x="187.70" y="508.60" font-size="7.3" text-anchor="start" font-weight="normal" fill="#111" >+ SFLLRN</text>
<g filter="url(#bl)">
<path d="M370.3 536.4h1.0v1.0h-1.0zM362.4 564.0h1.0v1.0h-1.0zM359.2 543.7h1.0v1.0h-1.0zM381.0 520.0h1.0v1.0h-1.0zM372.6 550.0h1.0v1.0h-1.0zM360.0 536.7h1.0v1.0h-1.0zM376.2 540.8h1.0v1.0h-1.0zM376.8 524.3h1.0v1.0h-1.0zM364.8 521.7h1.0v1.0h-1.0zM371.4 567.2h1.0v1.0h-1.0zM373.5 558.9h1.0v1.0h-1.0zM368.4 557.3h1.0v1.0h-1.0zM361.5 531.8h1.0v1.0h-1.0zM375.5 556.1h1.0v1.0h-1.0zM369.3 520.4h1.0v1.0h-1.0zM365.5 527.3h1.0v1.0h-1.0zM365.9 560.8h1.0v1.0h-1.0zM363.9 565.1h1.0v1.0h-1.0zM380.5 518.6h1.0v1.0h-1.0zM368.3 543.0h1.0v1.0h-1.0zM359.6 539.3h1.0v1.0h-1.0zM381.2 521.8h1.0v1.0h-1.0zM373.6 522.3h1.0v1.0h-1.0zM373.2 565.6h1.0v1.0h-1.0zM364.0 516.0h1.0v1.0h-1.0zM361.0 545.7h1.0v1.0h-1.0zM359.4 520.3h1.0v1.0h-1.0zM371.2 567.1h1.0v1.0h-1.0zM369.3 537.8h1.0v1.0h-1.0zM374.6 520.7h1.0v1.0h-1.0zM373.2 525.2h1.0v1.0h-1.0zM373.9 569.2h1.0v1.0h-1.0zM360.3 546.6h1.0v1.0h-1.0zM373.9 523.9h1.0v1.0h-1.0zM365.6 571.2h1.0v1.0h-1.0zM383.5 522.3h1.0v1.0h-1.0zM376.3 568.8h1.0v1.0h-1.0zM364.8 549.7h1.0v1.0h-1.0zM360.1 536.0h1.0v1.0h-1.0zM375.5 548.6h1.0v1.0h-1.0zM378.0 520.4h1.0v1.0h-1.0zM367.5 563.9h1.0v1.0h-1.0zM373.3 540.8h1.0v1.0h-1.0zM368.9 570.7h1.0v1.0h-1.0zM373.1 516.5h1.0v1.0h-1.0zM378.6 533.9h1.0v1.0h-1.0zM369.6 527.5h1.0v1.0h-1.0zM369.9 533.7h1.0v1.0h-1.0zM361.2 550.8h1.0v1.0h-1.0zM361.5 559.4h1.0v1.0h-1.0zM359.6 559.2h1.0v1.0h-1.0zM378.8 543.4h1.0v1.0h-1.0zM376.4 529.4h1.0v1.0h-1.0zM377.1 539.3h1.0v1.0h-1.0zM364.7 569.5h1.0v1.0h-1.0zM368.8 536.4h1.0v1.0h-1.0zM380.1 536.2h1.0v1.0h-1.0zM375.4 525.1h1.0v1.0h-1.0zM379.7 530.0h1.0v1.0h-1.0zM360.2 570.1h1.0v1.0h-1.0zM363.2 568.5h1.0v1.0h-1.0zM383.2 549.5h1.0v1.0h-1.0zM359.3 518.9h1.0v1.0h-1.0zM364.1 537.3h1.0v1.0h-1.0zM374.0 569.6h1.0v1.0h-1.0zM367.7 523.4h1.0v1.0h-1.0zM372.8 523.2h1.0v1.0h-1.0zM361.1 546.6h1.0v1.0h-1.0zM376.1 519.2h1.0v1.0h-1.0zM370.1 554.9h1.0v1.0h-1.0zM377.7 536.9h1.0v1.0h-1.0zM380.7 525.0h1.0v1.0h-1.0zM376.5 558.7h1.0v1.0h-1.0zM380.6 543.2h1.0v1.0h-1.0zM361.4 518.2h1.0v1.0h-1.0zM372.0 525.2h1.0v1.0h-1.0zM374.4 520.2h1.0v1.0h-1.0zM378.1 528.0h1.0v1.0h-1.0zM359.3 525.3h1.0v1.0h-1.0zM370.2 546.8h1.0v1.0h-1.0zM368.5 525.2h1.0v1.0h-1.0zM370.8 568.5h1.0v1.0h-1.0zM372.1 568.2h1.0v1.0h-1.0zM359.7 571.1h1.0v1.0h-1.0zM380.8 546.0h1.0v1.0h-1.0zM371.8 545.6h1.0v1.0h-1.0zM381.3 519.2h1.0v1.0h-1.0zM374.7 545.9h1.0v1.0h-1.0zM366.4 556.1h1.0v1.0h-1.0zM376.7 521.3h1.0v1.0h-1.0zM376.1 540.9h1.0v1.0h-1.0zM371.0 551.2h1.0v1.0h-1.0zM360.3 549.3h1.0v1.0h-1.0zM368.1 564.7h1.0v1.0h-1.0zM364.7 561.6h1.0v1.0h-1.0zM376.9 550.5h1.0v1.0h-1.0zM380.5 517.5h1.0v1.0h-1.0zM373.6 549.8h1.0v1.0h-1.0zM375.6 538.3h1.0v1.0h-1.0zM360.7 526.1h1.0v1.0h-1.0zM373.9 525.7h1.0v1.0h-1.0zM360.6 535.4h1.0v1.0h-1.0zM370.5 545.5h1.0v1.0h-1.0zM359.6 558.9h1.0v1.0h-1.0zM367.2 559.3h1.0v1.0h-1.0zM359.2 568.9h1.0v1.0h-1.0zM373.5 570.2h1.0v1.0h-1.0zM383.2 562.1h1.0v1.0h-1.0zM361.6 535.0h1.0v1.0h-1.0zM364.7 559.2h1.0v1.0h-1.0zM363.7 527.9h1.0v1.0h-1.0zM361.7 522.2h1.0v1.0h-1.0zM382.0 570.2h1.0v1.0h-1.0zM368.1 557.0h1.0v1.0h-1.0zM370.5 544.7h1.0v1.0h-1.0zM368.1 551.0h1.0v1.0h-1.0zM364.8 529.9h1.0v1.0h-1.0zM371.7 526.6h1.0v1.0h-1.0zM369.8 568.4h1.0v1.0h-1.0zM359.5 521.3h1.0v1.0h-1.0zM378.6 518.7h1.0v1.0h-1.0zM365.2 563.2h1.0v1.0h-1.0zM373.8 527.9h1.0v1.0h-1.0zM360.4 530.9h1.0v1.0h-1.0zM366.4 560.3h1.0v1.0h-1.0zM382.9 559.5h1.0v1.0h-1.0zM381.1 567.6h1.0v1.0h-1.0zM380.5 567.0h1.0v1.0h-1.0zM382.7 520.8h1.0v1.0h-1.0zM366.8 529.3h1.0v1.0h-1.0zM373.8 543.0h1.0v1.0h-1.0zM367.5 562.4h1.0v1.0h-1.0zM368.8 527.2h1.0v1.0h-1.0zM365.8 541.4h1.0v1.0h-1.0zM374.0 547.3h1.0v1.0h-1.0zM369.8 525.9h1.0v1.0h-1.0zM368.9 533.7h1.0v1.0h-1.0zM363.2 546.0h1.0v1.0h-1.0zM363.6 555.3h1.0v1.0h-1.0zM375.1 523.2h1.0v1.0h-1.0zM374.3 534.4h1.0v1.0h-1.0zM370.0 549.5h1.0v1.0h-1.0zM377.7 565.0h1.0v1.0h-1.0zM377.0 527.3h1.0v1.0h-1.0zM372.3 534.3h1.0v1.0h-1.0zM359.5 546.4h1.0v1.0h-1.0zM370.5 564.0h1.0v1.0h-1.0zM366.9 562.2h1.0v1.0h-1.0zM371.6 521.0h1.0v1.0h-1.0zM376.6 531.4h1.0v1.0h-1.0zM372.1 519.5h1.0v1.0h-1.0zM359.3 567.1h1.0v1.0h-1.0zM360.0 523.9h1.0v1.0h-1.0zM363.0 520.9h1.0v1.0h-1.0zM379.2 571.2h1.0v1.0h-1.0zM374.9 537.6h1.0v1.0h-1.0zM380.8 543.8h1.0v1.0h-1.0zM362.3 554.2h1.0v1.0h-1.0zM367.8 530.6h1.0v1.0h-1.0zM366.9 537.1h1.0v1.0h-1.0z" fill="#a9aae0"/>
<path d="M370.3 562.3h1.1v1.1h-1.1zM371.9 529.1h1.1v1.1h-1.1zM375.1 544.9h1.1v1.1h-1.1zM373.2 545.7h1.1v1.1h-1.1zM372.5 526.6h1.1v1.1h-1.1zM374.5 529.8h1.1v1.1h-1.1zM367.1 551.8h1.1v1.1h-1.1zM360.3 550.3h1.1v1.1h-1.1zM368.0 556.9h1.1v1.1h-1.1zM367.4 529.6h1.1v1.1h-1.1zM362.4 532.3h1.1v1.1h-1.1zM368.5 542.0h1.1v1.1h-1.1zM370.9 567.5h1.1v1.1h-1.1zM366.4 537.6h1.1v1.1h-1.1zM369.8 551.2h1.1v1.1h-1.1zM357.1 534.8h1.1v1.1h-1.1zM368.2 553.4h1.1v1.1h-1.1zM365.4 529.0h1.1v1.1h-1.1zM374.8 534.2h1.1v1.1h-1.1zM365.7 543.6h1.1v1.1h-1.1zM369.3 529.4h1.1v1.1h-1.1zM360.6 548.3h1.1v1.1h-1.1zM373.7 539.2h1.1v1.1h-1.1zM378.7 524.4h1.1v1.1h-1.1zM371.5 550.6h1.1v1.1h-1.1zM374.0 527.0h1.1v1.1h-1.1zM370.7 541.6h1.1v1.1h-1.1zM356.1 536.7h1.1v1.1h-1.1zM360.3 538.0h1.1v1.1h-1.1zM370.5 542.0h1.1v1.1h-1.1zM376.7 553.7h1.1v1.1h-1.1zM364.6 538.6h1.1v1.1h-1.1zM369.5 532.9h1.1v1.1h-1.1zM370.4 552.7h1.1v1.1h-1.1zM372.5 546.9h1.1v1.1h-1.1zM368.5 527.3h1.1v1.1h-1.1zM368.9 542.5h1.1v1.1h-1.1zM368.8 550.9h1.1v1.1h-1.1zM364.5 539.0h1.1v1.1h-1.1zM364.5 527.7h1.1v1.1h-1.1zM359.1 529.4h1.1v1.1h-1.1zM370.3 555.5h1.1v1.1h-1.1zM372.4 539.8h1.1v1.1h-1.1zM366.2 560.3h1.1v1.1h-1.1zM371.6 569.9h1.1v1.1h-1.1zM366.0 538.5h1.1v1.1h-1.1zM373.4 539.5h1.1v1.1h-1.1zM367.3 564.2h1.1v1.1h-1.1zM371.9 539.2h1.1v1.1h-1.1zM370.8 544.4h1.1v1.1h-1.1zM373.2 550.1h1.1v1.1h-1.1zM363.8 570.6h1.1v1.1h-1.1zM367.7 546.0h1.1v1.1h-1.1zM365.0 545.2h1.1v1.1h-1.1zM366.2 553.5h1.1v1.1h-1.1zM370.6 562.7h1.1v1.1h-1.1zM371.9 537.9h1.1v1.1h-1.1zM364.7 533.4h1.1v1.1h-1.1zM373.0 533.8h1.1v1.1h-1.1zM375.6 548.0h1.1v1.1h-1.1zM367.9 548.0h1.1v1.1h-1.1zM377.0 547.0h1.1v1.1h-1.1zM366.3 529.8h1.1v1.1h-1.1zM360.2 535.2h1.1v1.1h-1.1zM374.5 554.2h1.1v1.1h-1.1zM373.6 550.6h1.1v1.1h-1.1zM357.8 542.0h1.1v1.1h-1.1zM362.7 560.2h1.1v1.1h-1.1zM371.2 535.1h1.1v1.1h-1.1zM357.0 540.4h1.1v1.1h-1.1zM380.7 552.1h1.1v1.1h-1.1zM365.4 558.8h1.1v1.1h-1.1zM365.4 569.6h1.1v1.1h-1.1zM359.4 538.4h1.1v1.1h-1.1zM375.7 562.3h1.1v1.1h-1.1zM370.8 523.1h1.1v1.1h-1.1zM368.2 555.0h1.1v1.1h-1.1zM365.7 545.1h1.1v1.1h-1.1zM372.4 539.1h1.1v1.1h-1.1zM370.5 540.7h1.1v1.1h-1.1zM362.1 522.0h1.1v1.1h-1.1zM364.3 531.1h1.1v1.1h-1.1zM372.8 545.4h1.1v1.1h-1.1zM358.2 566.5h1.1v1.1h-1.1zM379.9 537.3h1.1v1.1h-1.1zM370.5 542.4h1.1v1.1h-1.1zM371.6 545.8h1.1v1.1h-1.1zM370.0 543.9h1.1v1.1h-1.1zM364.5 538.8h1.1v1.1h-1.1zM363.7 534.1h1.1v1.1h-1.1zM365.5 582.6h1.1v1.1h-1.1zM371.5 572.1h1.1v1.1h-1.1zM360.2 539.8h1.1v1.1h-1.1zM372.6 563.0h1.1v1.1h-1.1zM370.1 537.1h1.1v1.1h-1.1zM360.3 547.2h1.1v1.1h-1.1zM359.3 547.5h1.1v1.1h-1.1zM364.8 533.2h1.1v1.1h-1.1zM363.9 520.1h1.1v1.1h-1.1zM361.0 548.1h1.1v1.1h-1.1zM363.7 530.7h1.1v1.1h-1.1zM371.8 551.6h1.1v1.1h-1.1zM368.9 519.8h1.1v1.1h-1.1zM372.6 551.2h1.1v1.1h-1.1zM362.2 533.8h1.1v1.1h-1.1zM371.7 561.0h1.1v1.1h-1.1zM365.5 525.9h1.1v1.1h-1.1zM373.6 536.2h1.1v1.1h-1.1zM371.6 544.4h1.1v1.1h-1.1zM366.9 537.7h1.1v1.1h-1.1zM375.1 538.4h1.1v1.1h-1.1zM367.8 534.4h1.1v1.1h-1.1zM377.6 544.8h1.1v1.1h-1.1zM362.1 542.4h1.1v1.1h-1.1zM359.0 540.6h1.1v1.1h-1.1zM361.5 562.0h1.1v1.1h-1.1zM374.9 579.3h1.1v1.1h-1.1zM366.0 531.1h1.1v1.1h-1.1zM357.3 547.9h1.1v1.1h-1.1zM364.0 564.2h1.1v1.1h-1.1zM378.2 522.9h1.1v1.1h-1.1zM367.2 570.2h1.1v1.1h-1.1zM360.4 526.3h1.1v1.1h-1.1zM372.2 550.0h1.1v1.1h-1.1zM358.7 551.8h1.1v1.1h-1.1zM366.1 544.8h1.1v1.1h-1.1zM369.9 570.9h1.1v1.1h-1.1zM373.3 562.0h1.1v1.1h-1.1zM376.1 568.8h1.1v1.1h-1.1zM371.2 563.0h1.1v1.1h-1.1zM364.4 565.9h1.1v1.1h-1.1zM376.2 567.6h1.1v1.1h-1.1zM369.7 566.9h1.1v1.1h-1.1zM370.4 564.5h1.1v1.1h-1.1zM369.1 558.2h1.1v1.1h-1.1zM368.5 569.4h1.1v1.1h-1.1zM369.8 571.7h1.1v1.1h-1.1zM376.6 564.4h1.1v1.1h-1.1zM362.3 565.7h1.1v1.1h-1.1zM361.9 569.0h1.1v1.1h-1.1zM368.0 568.5h1.1v1.1h-1.1zM367.2 562.6h1.1v1.1h-1.1zM376.5 565.0h1.1v1.1h-1.1zM368.9 566.3h1.1v1.1h-1.1zM366.3 564.3h1.1v1.1h-1.1zM361.7 565.5h1.1v1.1h-1.1zM370.3 561.8h1.1v1.1h-1.1zM359.7 563.4h1.1v1.1h-1.1zM371.5 568.2h1.1v1.1h-1.1zM370.2 562.0h1.1v1.1h-1.1zM370.4 564.8h1.1v1.1h-1.1zM372.6 567.4h1.1v1.1h-1.1zM363.8 566.4h1.1v1.1h-1.1zM369.5 569.8h1.1v1.1h-1.1zM377.8 559.7h1.1v1.1h-1.1zM365.8 563.3h1.1v1.1h-1.1zM366.0 564.3h1.1v1.1h-1.1zM376.7 568.2h1.1v1.1h-1.1zM368.2 567.9h1.1v1.1h-1.1zM369.6 563.6h1.1v1.1h-1.1zM368.7 567.8h1.1v1.1h-1.1zM374.4 561.7h1.1v1.1h-1.1zM369.3 566.9h1.1v1.1h-1.1zM370.7 564.3h1.1v1.1h-1.1zM366.8 559.5h1.1v1.1h-1.1zM363.6 563.1h1.1v1.1h-1.1zM365.0 567.1h1.1v1.1h-1.1zM366.8 563.7h1.1v1.1h-1.1zM364.7 565.9h1.1v1.1h-1.1zM361.4 571.7h1.1v1.1h-1.1zM361.9 563.1h1.1v1.1h-1.1zM368.3 565.3h1.1v1.1h-1.1zM370.6 557.5h1.1v1.1h-1.1zM368.4 560.6h1.1v1.1h-1.1zM375.3 557.6h1.1v1.1h-1.1zM368.0 567.9h1.1v1.1h-1.1zM368.0 566.2h1.1v1.1h-1.1zM368.7 567.2h1.1v1.1h-1.1zM373.5 565.7h1.1v1.1h-1.1zM374.2 565.7h1.1v1.1h-1.1zM373.2 560.4h1.1v1.1h-1.1zM376.1 567.6h1.1v1.1h-1.1zM371.8 572.2h1.1v1.1h-1.1zM364.6 561.6h1.1v1.1h-1.1zM355.6 569.9h1.1v1.1h-1.1zM371.2 573.8h1.1v1.1h-1.1zM369.1 567.2h1.1v1.1h-1.1zM368.8 566.6h1.1v1.1h-1.1zM370.1 563.3h1.1v1.1h-1.1zM364.9 564.1h1.1v1.1h-1.1zM363.0 571.0h1.1v1.1h-1.1zM364.7 564.5h1.1v1.1h-1.1zM368.4 563.3h1.1v1.1h-1.1zM376.0 567.1h1.1v1.1h-1.1zM373.6 560.1h1.1v1.1h-1.1zM364.7 556.8h1.1v1.1h-1.1zM374.3 563.2h1.1v1.1h-1.1zM371.4 570.2h1.1v1.1h-1.1zM361.5 568.3h1.1v1.1h-1.1zM367.4 566.8h1.1v1.1h-1.1zM369.5 567.6h1.1v1.1h-1.1zM367.7 559.4h1.1v1.1h-1.1zM364.2 564.8h1.1v1.1h-1.1zM367.8 561.2h1.1v1.1h-1.1zM365.2 565.6h1.1v1.1h-1.1zM373.9 565.4h1.1v1.1h-1.1zM365.1 566.0h1.1v1.1h-1.1zM363.2 566.9h1.1v1.1h-1.1zM361.1 568.5h1.1v1.1h-1.1zM364.9 570.3h1.1v1.1h-1.1zM367.2 563.6h1.1v1.1h-1.1zM369.3 564.1h1.1v1.1h-1.1zM368.0 573.0h1.1v1.1h-1.1zM371.4 567.7h1.1v1.1h-1.1zM358.2 570.5h1.1v1.1h-1.1zM371.9 565.0h1.1v1.1h-1.1zM362.5 559.7h1.1v1.1h-1.1z" fill="#6e78c8"/>
<path d="M363.3 568.3h1.2v1.2h-1.2zM366.0 569.3h1.2v1.2h-1.2zM366.3 568.7h1.2v1.2h-1.2zM365.0 565.2h1.2v1.2h-1.2zM370.9 570.9h1.2v1.2h-1.2zM368.1 568.3h1.2v1.2h-1.2zM362.2 572.4h1.2v1.2h-1.2zM363.4 564.9h1.2v1.2h-1.2zM367.2 572.2h1.2v1.2h-1.2zM364.7 568.8h1.2v1.2h-1.2zM367.4 569.1h1.2v1.2h-1.2zM365.7 570.5h1.2v1.2h-1.2zM367.6 567.2h1.2v1.2h-1.2zM365.8 569.6h1.2v1.2h-1.2zM367.9 569.4h1.2v1.2h-1.2zM364.6 569.0h1.2v1.2h-1.2zM363.2 568.3h1.2v1.2h-1.2zM368.3 568.8h1.2v1.2h-1.2zM366.4 569.8h1.2v1.2h-1.2zM365.5 565.9h1.2v1.2h-1.2zM363.5 571.0h1.2v1.2h-1.2zM365.1 565.0h1.2v1.2h-1.2zM369.3 567.3h1.2v1.2h-1.2zM362.1 573.7h1.2v1.2h-1.2zM367.1 568.7h1.2v1.2h-1.2zM367.3 570.2h1.2v1.2h-1.2zM364.0 570.5h1.2v1.2h-1.2zM363.9 566.8h1.2v1.2h-1.2zM361.8 568.9h1.2v1.2h-1.2zM371.1 565.7h1.2v1.2h-1.2z" fill="#3c58a0"/>
<path d="M365.8 578.6h1.3v1.3h-1.3zM383.9 576.8h1.3v1.3h-1.3zM373.0 576.2h1.3v1.3h-1.3zM368.7 579.2h1.3v1.3h-1.3zM367.7 579.3h1.3v1.3h-1.3zM377.0 576.2h1.3v1.3h-1.3zM364.3 576.9h1.3v1.3h-1.3zM363.0 575.5h1.3v1.3h-1.3zM371.5 577.7h1.3v1.3h-1.3zM370.7 572.9h1.3v1.3h-1.3zM368.0 578.2h1.3v1.3h-1.3zM378.4 578.8h1.3v1.3h-1.3zM356.1 574.6h1.3v1.3h-1.3zM366.5 574.4h1.3v1.3h-1.3zM357.8 574.3h1.3v1.3h-1.3zM374.2 576.4h1.3v1.3h-1.3zM373.1 577.8h1.3v1.3h-1.3zM384.1 577.3h1.3v1.3h-1.3zM378.5 576.4h1.3v1.3h-1.3zM371.2 573.8h1.3v1.3h-1.3zM366.6 575.2h1.3v1.3h-1.3zM376.3 576.5h1.3v1.3h-1.3zM372.4 577.4h1.3v1.3h-1.3zM373.4 573.3h1.3v1.3h-1.3zM378.1 573.9h1.3v1.3h-1.3zM371.5 579.1h1.3v1.3h-1.3zM367.8 581.3h1.3v1.3h-1.3zM376.5 577.0h1.3v1.3h-1.3zM364.8 574.4h1.3v1.3h-1.3zM373.9 577.0h1.3v1.3h-1.3zM372.9 578.4h1.3v1.3h-1.3zM368.8 577.0h1.3v1.3h-1.3zM374.2 574.8h1.3v1.3h-1.3zM366.7 575.3h1.3v1.3h-1.3zM372.4 576.2h1.3v1.3h-1.3zM374.0 575.8h1.3v1.3h-1.3zM361.5 576.7h1.3v1.3h-1.3zM366.4 574.6h1.3v1.3h-1.3zM370.1 576.3h1.3v1.3h-1.3zM362.4 576.4h1.3v1.3h-1.3zM368.1 576.3h1.3v1.3h-1.3zM369.7 576.1h1.3v1.3h-1.3zM372.7 577.2h1.3v1.3h-1.3zM374.6 576.8h1.3v1.3h-1.3zM369.5 576.3h1.3v1.3h-1.3zM366.6 576.1h1.3v1.3h-1.3zM361.2 574.9h1.3v1.3h-1.3zM366.6 574.5h1.3v1.3h-1.3zM370.4 576.9h1.3v1.3h-1.3zM375.4 577.5h1.3v1.3h-1.3zM359.1 578.1h1.3v1.3h-1.3zM375.2 577.2h1.3v1.3h-1.3zM364.4 576.7h1.3v1.3h-1.3zM375.5 577.9h1.3v1.3h-1.3zM371.7 577.1h1.3v1.3h-1.3zM373.8 575.4h1.3v1.3h-1.3zM369.4 575.4h1.3v1.3h-1.3zM369.5 572.5h1.3v1.3h-1.3zM380.0 577.3h1.3v1.3h-1.3zM380.6 574.9h1.3v1.3h-1.3zM378.7 579.5h1.3v1.3h-1.3zM370.6 575.7h1.3v1.3h-1.3zM365.1 574.4h1.3v1.3h-1.3zM374.5 580.9h1.3v1.3h-1.3zM372.2 576.3h1.3v1.3h-1.3zM361.3 577.5h1.3v1.3h-1.3zM378.9 577.1h1.3v1.3h-1.3zM376.3 576.2h1.3v1.3h-1.3zM354.0 577.2h1.3v1.3h-1.3zM382.6 573.1h1.3v1.3h-1.3zM367.3 578.8h1.3v1.3h-1.3zM375.6 580.7h1.3v1.3h-1.3zM363.9 575.7h1.3v1.3h-1.3zM362.1 577.1h1.3v1.3h-1.3zM367.0 576.4h1.3v1.3h-1.3zM369.5 575.3h1.3v1.3h-1.3zM387.9 577.7h1.3v1.3h-1.3zM380.8 579.3h1.3v1.3h-1.3zM371.3 574.7h1.3v1.3h-1.3zM366.5 576.0h1.3v1.3h-1.3zM373.6 581.5h1.3v1.3h-1.3zM370.5 573.2h1.3v1.3h-1.3zM368.7 577.2h1.3v1.3h-1.3zM373.1 571.5h1.3v1.3h-1.3zM366.5 579.8h1.3v1.3h-1.3zM381.2 581.5h1.3v1.3h-1.3zM369.9 576.2h1.3v1.3h-1.3zM367.3 573.9h1.3v1.3h-1.3zM362.0 578.1h1.3v1.3h-1.3zM380.1 575.6h1.3v1.3h-1.3zM352.4 578.0h1.3v1.3h-1.3zM362.7 574.1h1.3v1.3h-1.3zM359.4 575.7h1.3v1.3h-1.3zM371.7 574.4h1.3v1.3h-1.3zM366.0 577.3h1.3v1.3h-1.3zM364.0 574.1h1.3v1.3h-1.3zM368.3 577.4h1.3v1.3h-1.3zM367.7 573.9h1.3v1.3h-1.3zM368.1 576.0h1.3v1.3h-1.3zM379.0 574.7h1.3v1.3h-1.3zM371.7 575.8h1.3v1.3h-1.3zM369.3 579.7h1.3v1.3h-1.3zM389.3 577.2h1.3v1.3h-1.3zM372.3 578.1h1.3v1.3h-1.3zM371.9 575.5h1.3v1.3h-1.3zM361.4 575.6h1.3v1.3h-1.3zM371.2 577.7h1.3v1.3h-1.3zM366.4 572.7h1.3v1.3h-1.3zM371.7 576.0h1.3v1.3h-1.3zM366.6 579.1h1.3v1.3h-1.3zM384.7 577.9h1.3v1.3h-1.3zM379.2 571.9h1.3v1.3h-1.3zM382.0 574.9h1.3v1.3h-1.3zM367.5 580.1h1.3v1.3h-1.3zM371.1 576.8h1.3v1.3h-1.3zM389.0 579.9h1.3v1.3h-1.3zM383.3 579.6h1.3v1.3h-1.3zM366.7 578.1h1.3v1.3h-1.3zM360.2 580.2h1.3v1.3h-1.3zM368.3 576.1h1.3v1.3h-1.3zM373.3 575.2h1.3v1.3h-1.3zM374.3 574.7h1.3v1.3h-1.3zM376.2 574.9h1.3v1.3h-1.3zM357.5 582.4h1.3v1.3h-1.3zM379.2 576.7h1.3v1.3h-1.3zM361.1 576.6h1.3v1.3h-1.3zM368.0 575.4h1.3v1.3h-1.3zM377.1 576.0h1.3v1.3h-1.3zM379.6 576.9h1.3v1.3h-1.3zM384.2 574.5h1.3v1.3h-1.3zM370.2 577.6h1.3v1.3h-1.3zM362.5 575.6h1.3v1.3h-1.3zM367.1 578.8h1.3v1.3h-1.3zM370.0 578.0h1.3v1.3h-1.3zM362.3 577.7h1.3v1.3h-1.3zM358.0 578.6h1.3v1.3h-1.3zM359.7 578.4h1.3v1.3h-1.3zM370.7 574.4h1.3v1.3h-1.3zM365.5 577.4h1.3v1.3h-1.3zM365.0 572.9h1.3v1.3h-1.3zM382.9 576.3h1.3v1.3h-1.3zM379.6 576.4h1.3v1.3h-1.3zM351.6 578.8h1.3v1.3h-1.3zM369.2 576.3h1.3v1.3h-1.3zM376.2 574.7h1.3v1.3h-1.3zM374.9 575.2h1.3v1.3h-1.3zM364.1 574.8h1.3v1.3h-1.3zM359.6 574.0h1.3v1.3h-1.3zM362.2 579.0h1.3v1.3h-1.3z" fill="#3a9cb0"/>
<path d="M367.7 576.8h1.4v1.4h-1.4zM369.3 575.2h1.4v1.4h-1.4zM365.7 577.2h1.4v1.4h-1.4zM364.7 577.0h1.4v1.4h-1.4zM367.7 578.7h1.4v1.4h-1.4zM361.6 574.5h1.4v1.4h-1.4zM363.0 575.1h1.4v1.4h-1.4zM365.8 576.9h1.4v1.4h-1.4zM365.8 577.7h1.4v1.4h-1.4zM364.5 576.2h1.4v1.4h-1.4zM364.4 576.1h1.4v1.4h-1.4zM368.6 577.3h1.4v1.4h-1.4zM369.5 576.3h1.4v1.4h-1.4zM364.6 575.4h1.4v1.4h-1.4zM362.1 577.5h1.4v1.4h-1.4zM370.0 575.8h1.4v1.4h-1.4zM367.2 575.7h1.4v1.4h-1.4zM366.4 577.2h1.4v1.4h-1.4zM365.4 576.9h1.4v1.4h-1.4zM366.1 578.7h1.4v1.4h-1.4zM365.1 577.7h1.4v1.4h-1.4zM360.6 578.6h1.4v1.4h-1.4zM362.4 576.2h1.4v1.4h-1.4zM370.8 577.0h1.4v1.4h-1.4zM370.9 576.3h1.4v1.4h-1.4zM368.0 575.1h1.4v1.4h-1.4zM370.3 577.0h1.4v1.4h-1.4zM364.2 578.9h1.4v1.4h-1.4zM369.1 577.9h1.4v1.4h-1.4zM368.1 576.7h1.4v1.4h-1.4zM364.4 577.7h1.4v1.4h-1.4zM362.2 575.0h1.4v1.4h-1.4zM364.8 578.8h1.4v1.4h-1.4zM368.7 577.2h1.4v1.4h-1.4zM362.7 578.0h1.4v1.4h-1.4zM371.0 574.8h1.4v1.4h-1.4zM364.2 576.9h1.4v1.4h-1.4zM369.0 574.4h1.4v1.4h-1.4zM367.7 574.9h1.4v1.4h-1.4zM364.5 575.9h1.4v1.4h-1.4zM363.9 576.4h1.4v1.4h-1.4zM364.8 574.0h1.4v1.4h-1.4zM364.9 579.3h1.4v1.4h-1.4zM367.5 577.4h1.4v1.4h-1.4zM367.4 578.2h1.4v1.4h-1.4zM363.8 577.6h1.4v1.4h-1.4zM367.3 576.7h1.4v1.4h-1.4zM368.0 576.2h1.4v1.4h-1.4zM365.4 578.6h1.4v1.4h-1.4zM362.8 577.7h1.4v1.4h-1.4zM370.4 577.4h1.4v1.4h-1.4zM368.2 577.2h1.4v1.4h-1.4zM365.8 578.8h1.4v1.4h-1.4zM366.4 576.6h1.4v1.4h-1.4zM369.5 577.3h1.4v1.4h-1.4zM367.1 579.4h1.4v1.4h-1.4zM369.0 574.0h1.4v1.4h-1.4zM374.1 576.7h1.4v1.4h-1.4zM366.8 578.9h1.4v1.4h-1.4zM369.1 578.4h1.4v1.4h-1.4zM365.2 575.0h1.4v1.4h-1.4zM369.4 576.8h1.4v1.4h-1.4zM360.8 578.5h1.4v1.4h-1.4zM367.1 576.1h1.4v1.4h-1.4zM362.4 578.6h1.4v1.4h-1.4zM371.6 578.0h1.4v1.4h-1.4zM369.9 575.7h1.4v1.4h-1.4zM369.3 578.3h1.4v1.4h-1.4zM370.1 579.6h1.4v1.4h-1.4zM366.5 577.5h1.4v1.4h-1.4zM364.4 577.3h1.4v1.4h-1.4zM367.7 576.3h1.4v1.4h-1.4zM368.6 578.0h1.4v1.4h-1.4zM363.0 577.7h1.4v1.4h-1.4zM369.4 576.6h1.4v1.4h-1.4zM367.6 576.4h1.4v1.4h-1.4zM360.2 577.4h1.4v1.4h-1.4zM368.7 575.2h1.4v1.4h-1.4zM375.9 579.9h1.4v1.4h-1.4zM363.7 578.7h1.4v1.4h-1.4z" fill="#52b03c"/>
<path d="M367.0 577.2h1.4v1.4h-1.4zM364.5 577.8h1.4v1.4h-1.4zM366.5 576.1h1.4v1.4h-1.4zM366.4 578.2h1.4v1.4h-1.4zM365.6 577.2h1.4v1.4h-1.4zM366.8 577.2h1.4v1.4h-1.4zM368.4 577.8h1.4v1.4h-1.4zM368.7 576.5h1.4v1.4h-1.4zM365.8 576.1h1.4v1.4h-1.4zM366.3 578.0h1.4v1.4h-1.4zM364.5 578.0h1.4v1.4h-1.4zM367.8 576.8h1.4v1.4h-1.4zM366.2 578.4h1.4v1.4h-1.4zM369.5 575.9h1.4v1.4h-1.4zM368.8 576.8h1.4v1.4h-1.4zM367.2 576.1h1.4v1.4h-1.4zM366.2 576.4h1.4v1.4h-1.4zM367.5 577.0h1.4v1.4h-1.4zM366.7 575.4h1.4v1.4h-1.4zM367.4 576.4h1.4v1.4h-1.4zM366.3 577.0h1.4v1.4h-1.4zM367.7 576.2h1.4v1.4h-1.4zM367.2 577.6h1.4v1.4h-1.4zM365.4 577.7h1.4v1.4h-1.4zM366.2 577.7h1.4v1.4h-1.4zM364.3 576.8h1.4v1.4h-1.4zM365.1 577.2h1.4v1.4h-1.4zM364.2 578.4h1.4v1.4h-1.4zM366.6 575.6h1.4v1.4h-1.4zM368.6 577.5h1.4v1.4h-1.4zM364.7 577.6h1.4v1.4h-1.4zM366.0 577.1h1.4v1.4h-1.4zM364.5 576.6h1.4v1.4h-1.4zM367.4 578.1h1.4v1.4h-1.4zM366.5 577.1h1.4v1.4h-1.4z" fill="#e89030"/>
</g>
<rect x="307.50" y="513.50" width="84.5" height="84.0" fill="none" stroke="#777" stroke-width="0.8"/>
<line x1="340.80" y1="513.50" x2="340.80" y2="597.50" stroke="#333" stroke-width="0.9"/>
<line x1="307.50" y1="572.50" x2="392.00" y2="572.50" stroke="#333" stroke-width="0.9"/>
<line x1="305.00" y1="521.50" x2="307.50" y2="521.50" stroke="#444" stroke-width="0.8"/>
<line x1="305.00" y1="542.10" x2="307.50" y2="542.10" stroke="#444" stroke-width="0.8"/>
<line x1="305.00" y1="564.50" x2="307.50" y2="564.50" stroke="#444" stroke-width="0.8"/>
<line x1="305.00" y1="578.20" x2="307.50" y2="578.20" stroke="#444" stroke-width="0.8"/>
<line x1="305.00" y1="591.90" x2="307.50" y2="591.90" stroke="#444" stroke-width="0.8"/>
<line x1="306.20" y1="535.90" x2="307.50" y2="535.90" stroke="#777" stroke-width="0.5"/>
<line x1="306.20" y1="532.27" x2="307.50" y2="532.27" stroke="#777" stroke-width="0.5"/>
<line x1="306.20" y1="529.70" x2="307.50" y2="529.70" stroke="#777" stroke-width="0.5"/>
<line x1="306.20" y1="527.70" x2="307.50" y2="527.70" stroke="#777" stroke-width="0.5"/>
<line x1="306.20" y1="526.07" x2="307.50" y2="526.07" stroke="#777" stroke-width="0.5"/>
<line x1="306.20" y1="524.69" x2="307.50" y2="524.69" stroke="#777" stroke-width="0.5"/>
<line x1="306.20" y1="523.50" x2="307.50" y2="523.50" stroke="#777" stroke-width="0.5"/>
<line x1="306.20" y1="522.44" x2="307.50" y2="522.44" stroke="#777" stroke-width="0.5"/>
<line x1="306.20" y1="557.76" x2="307.50" y2="557.76" stroke="#777" stroke-width="0.5"/>
<line x1="306.20" y1="553.81" x2="307.50" y2="553.81" stroke="#777" stroke-width="0.5"/>
<line x1="306.20" y1="551.01" x2="307.50" y2="551.01" stroke="#777" stroke-width="0.5"/>
<line x1="306.20" y1="548.84" x2="307.50" y2="548.84" stroke="#777" stroke-width="0.5"/>
<line x1="306.20" y1="547.07" x2="307.50" y2="547.07" stroke="#777" stroke-width="0.5"/>
<line x1="306.20" y1="545.57" x2="307.50" y2="545.57" stroke="#777" stroke-width="0.5"/>
<line x1="306.20" y1="544.27" x2="307.50" y2="544.27" stroke="#777" stroke-width="0.5"/>
<line x1="306.20" y1="543.12" x2="307.50" y2="543.12" stroke="#777" stroke-width="0.5"/>
<line x1="312.50" y1="597.50" x2="312.50" y2="600.00" stroke="#444" stroke-width="0.8"/>
<line x1="327.00" y1="597.50" x2="327.00" y2="600.00" stroke="#444" stroke-width="0.8"/>
<line x1="340.50" y1="597.50" x2="340.50" y2="600.00" stroke="#444" stroke-width="0.8"/>
<line x1="364.30" y1="597.50" x2="364.30" y2="600.00" stroke="#444" stroke-width="0.8"/>
<line x1="385.50" y1="597.50" x2="385.50" y2="600.00" stroke="#444" stroke-width="0.8"/>
<line x1="347.66" y1="597.50" x2="347.66" y2="598.80" stroke="#777" stroke-width="0.5"/>
<line x1="351.86" y1="597.50" x2="351.86" y2="598.80" stroke="#777" stroke-width="0.5"/>
<line x1="354.83" y1="597.50" x2="354.83" y2="598.80" stroke="#777" stroke-width="0.5"/>
<line x1="357.14" y1="597.50" x2="357.14" y2="598.80" stroke="#777" stroke-width="0.5"/>
<line x1="359.02" y1="597.50" x2="359.02" y2="598.80" stroke="#777" stroke-width="0.5"/>
<line x1="360.61" y1="597.50" x2="360.61" y2="598.80" stroke="#777" stroke-width="0.5"/>
<line x1="361.99" y1="597.50" x2="361.99" y2="598.80" stroke="#777" stroke-width="0.5"/>
<line x1="363.21" y1="597.50" x2="363.21" y2="598.80" stroke="#777" stroke-width="0.5"/>
<line x1="370.68" y1="597.50" x2="370.68" y2="598.80" stroke="#777" stroke-width="0.5"/>
<line x1="374.41" y1="597.50" x2="374.41" y2="598.80" stroke="#777" stroke-width="0.5"/>
<line x1="377.06" y1="597.50" x2="377.06" y2="598.80" stroke="#777" stroke-width="0.5"/>
<line x1="379.12" y1="597.50" x2="379.12" y2="598.80" stroke="#777" stroke-width="0.5"/>
<line x1="380.80" y1="597.50" x2="380.80" y2="598.80" stroke="#777" stroke-width="0.5"/>
<line x1="382.22" y1="597.50" x2="382.22" y2="598.80" stroke="#777" stroke-width="0.5"/>
<line x1="383.45" y1="597.50" x2="383.45" y2="598.80" stroke="#777" stroke-width="0.5"/>
<line x1="384.53" y1="597.50" x2="384.53" y2="598.80" stroke="#777" stroke-width="0.5"/>
<text x="290.55" y="524.00" font-size="7.2" fill="#111">10<tspan font-size="5.30" dy="-3.5">5</tspan></text>
<text x="290.55" y="544.60" font-size="7.2" fill="#111">10<tspan font-size="5.30" dy="-3.5">4</tspan></text>
<text x="290.55" y="567.00" font-size="7.2" fill="#111">10<tspan font-size="5.30" dy="-3.5">3</tspan></text>
<text x="301.50" y="580.70" font-size="7.2" text-anchor="end" font-weight="normal" fill="#111" >0</text>
<text x="286.34" y="594.40" font-size="7.2" fill="#111">−10<tspan font-size="5.30" dy="-3.5">3</tspan></text>
<text x="304.92" y="609.70" font-size="7.2" fill="#111">−10<tspan font-size="5.30" dy="-3.5">3</tspan></text>
<text x="327.00" y="609.70" font-size="7.2" text-anchor="middle" font-weight="normal" fill="#111" >0</text>
<text x="335.02" y="609.70" font-size="7.2" fill="#111">10<tspan font-size="5.30" dy="-3.5">3</tspan></text>
<text x="358.82" y="609.70" font-size="7.2" fill="#111">10<tspan font-size="5.30" dy="-3.5">4</tspan></text>
<text x="380.02" y="609.70" font-size="7.2" fill="#111">10<tspan font-size="5.30" dy="-3.5">5</tspan></text>
<rect x="305.90" y="576.70" width="2" height="3" fill="#111"/>
<rect x="325.00" y="596.90" width="4" height="1.8" fill="#111"/>
<text x="309.00" y="520.50" font-size="6.4" text-anchor="start" font-weight="bold" fill="#222" >0</text>
<text x="309.20" y="592.50" font-size="6.4" text-anchor="start" font-weight="bold" fill="#222" >0</text>
<text x="390.20" y="520.40" font-size="5.7" text-anchor="end" font-weight="bold" fill="#000" >27.2 %</text>
<text x="388.10" y="593.10" font-size="5.7" text-anchor="end" font-weight="bold" fill="#000" >72.8%</text>
<text x="307.30" y="508.70" font-size="7.3" text-anchor="start" font-weight="normal" fill="#111" >+ SFLLRN</text>
<g filter="url(#bl)">
<path d="M98.1 698.8h1.0v1.0h-1.0zM99.2 699.9h1.0v1.0h-1.0zM103.2 688.8h1.0v1.0h-1.0zM100.0 698.6h1.0v1.0h-1.0zM98.3 701.6h1.0v1.0h-1.0zM101.0 722.3h1.0v1.0h-1.0zM101.9 702.4h1.0v1.0h-1.0zM103.6 694.1h1.0v1.0h-1.0zM99.2 706.9h1.0v1.0h-1.0zM99.5 694.6h1.0v1.0h-1.0zM99.3 691.7h1.0v1.0h-1.0zM104.4 712.6h1.0v1.0h-1.0zM108.9 700.2h1.0v1.0h-1.0zM100.3 700.9h1.0v1.0h-1.0zM102.6 702.6h1.0v1.0h-1.0zM103.4 700.0h1.0v1.0h-1.0zM96.7 715.2h1.0v1.0h-1.0zM99.5 711.8h1.0v1.0h-1.0zM100.0 703.6h1.0v1.0h-1.0zM96.0 694.7h1.0v1.0h-1.0zM102.2 707.2h1.0v1.0h-1.0zM100.3 703.6h1.0v1.0h-1.0zM95.5 702.8h1.0v1.0h-1.0zM99.0 694.2h1.0v1.0h-1.0zM102.0 698.9h1.0v1.0h-1.0zM98.4 699.3h1.0v1.0h-1.0zM99.8 700.2h1.0v1.0h-1.0zM101.2 698.9h1.0v1.0h-1.0zM103.7 715.1h1.0v1.0h-1.0zM104.0 699.7h1.0v1.0h-1.0zM99.1 705.6h1.0v1.0h-1.0zM100.4 713.5h1.0v1.0h-1.0zM101.7 706.1h1.0v1.0h-1.0zM99.3 703.8h1.0v1.0h-1.0zM97.7 690.6h1.0v1.0h-1.0zM101.6 693.5h1.0v1.0h-1.0zM99.2 709.5h1.0v1.0h-1.0zM105.7 702.9h1.0v1.0h-1.0zM99.7 708.6h1.0v1.0h-1.0zM103.9 706.7h1.0v1.0h-1.0zM98.4 698.5h1.0v1.0h-1.0zM104.1 693.8h1.0v1.0h-1.0zM101.2 712.3h1.0v1.0h-1.0zM104.1 697.3h1.0v1.0h-1.0zM100.1 700.8h1.0v1.0h-1.0zM97.7 703.1h1.0v1.0h-1.0zM98.5 707.4h1.0v1.0h-1.0zM97.8 697.4h1.0v1.0h-1.0zM99.2 702.8h1.0v1.0h-1.0zM93.6 710.1h1.0v1.0h-1.0zM100.3 703.6h1.0v1.0h-1.0zM104.7 702.7h1.0v1.0h-1.0zM102.3 703.6h1.0v1.0h-1.0zM103.6 708.1h1.0v1.0h-1.0zM104.5 702.1h1.0v1.0h-1.0zM97.9 704.7h1.0v1.0h-1.0zM97.7 702.4h1.0v1.0h-1.0zM100.0 685.6h1.0v1.0h-1.0zM100.0 694.6h1.0v1.0h-1.0zM97.1 688.3h1.0v1.0h-1.0zM110.8 670.0h1.0v1.0h-1.0zM122.5 680.3h1.0v1.0h-1.0zM123.1 678.0h1.0v1.0h-1.0zM127.7 675.5h1.0v1.0h-1.0zM127.2 686.6h1.0v1.0h-1.0zM117.9 684.3h1.0v1.0h-1.0zM125.0 684.9h1.0v1.0h-1.0zM108.2 685.5h1.0v1.0h-1.0zM126.2 686.6h1.0v1.0h-1.0zM131.5 671.1h1.0v1.0h-1.0zM123.8 667.7h1.0v1.0h-1.0zM121.9 685.7h1.0v1.0h-1.0zM111.8 672.5h1.0v1.0h-1.0zM109.0 669.0h1.0v1.0h-1.0zM112.2 666.7h1.0v1.0h-1.0zM132.0 684.9h1.0v1.0h-1.0zM118.6 681.6h1.0v1.0h-1.0zM124.4 676.5h1.0v1.0h-1.0zM117.6 679.8h1.0v1.0h-1.0zM120.9 670.6h1.0v1.0h-1.0zM116.1 678.9h1.0v1.0h-1.0zM122.7 669.3h1.0v1.0h-1.0zM122.2 684.6h1.0v1.0h-1.0zM128.8 679.5h1.0v1.0h-1.0zM108.8 674.2h1.0v1.0h-1.0zM109.2 665.8h1.0v1.0h-1.0zM113.4 675.0h1.0v1.0h-1.0zM126.0 679.0h1.0v1.0h-1.0zM114.1 680.5h1.0v1.0h-1.0zM119.7 676.2h1.0v1.0h-1.0zM113.6 674.7h1.0v1.0h-1.0zM115.5 681.2h1.0v1.0h-1.0zM119.1 674.8h1.0v1.0h-1.0zM118.9 675.5h1.0v1.0h-1.0zM124.2 681.1h1.0v1.0h-1.0zM127.0 673.8h1.0v1.0h-1.0zM126.8 686.7h1.0v1.0h-1.0zM131.8 681.1h1.0v1.0h-1.0zM108.6 684.0h1.0v1.0h-1.0zM127.9 664.9h1.0v1.0h-1.0zM115.2 671.9h1.0v1.0h-1.0zM125.5 678.5h1.0v1.0h-1.0zM114.1 668.8h1.0v1.0h-1.0zM111.2 666.7h1.0v1.0h-1.0zM126.8 686.0h1.0v1.0h-1.0zM112.5 681.6h1.0v1.0h-1.0zM130.8 668.9h1.0v1.0h-1.0zM121.3 674.6h1.0v1.0h-1.0zM131.4 684.5h1.0v1.0h-1.0zM107.4 669.1h1.0v1.0h-1.0zM115.8 716.7h1.0v1.0h-1.0zM118.9 715.7h1.0v1.0h-1.0zM126.7 714.5h1.0v1.0h-1.0zM121.3 683.0h1.0v1.0h-1.0zM128.5 712.4h1.0v1.0h-1.0zM124.3 717.0h1.0v1.0h-1.0zM119.8 702.7h1.0v1.0h-1.0zM120.7 691.6h1.0v1.0h-1.0zM136.1 709.9h1.0v1.0h-1.0zM113.5 681.0h1.0v1.0h-1.0zM116.6 718.6h1.0v1.0h-1.0zM121.7 702.8h1.0v1.0h-1.0zM120.4 709.0h1.0v1.0h-1.0zM124.6 717.2h1.0v1.0h-1.0zM115.4 712.8h1.0v1.0h-1.0zM115.9 720.2h1.0v1.0h-1.0zM125.1 692.6h1.0v1.0h-1.0zM114.8 700.6h1.0v1.0h-1.0zM118.8 708.4h1.0v1.0h-1.0zM122.8 704.1h1.0v1.0h-1.0zM124.1 691.2h1.0v1.0h-1.0zM120.6 710.7h1.0v1.0h-1.0zM130.8 708.7h1.0v1.0h-1.0zM120.8 701.3h1.0v1.0h-1.0zM123.4 701.9h1.0v1.0h-1.0zM122.4 699.3h1.0v1.0h-1.0zM125.5 719.3h1.0v1.0h-1.0zM123.0 710.8h1.0v1.0h-1.0zM126.2 701.3h1.0v1.0h-1.0zM128.3 682.4h1.0v1.0h-1.0zM117.8 709.6h1.0v1.0h-1.0zM123.5 693.7h1.0v1.0h-1.0zM117.0 691.9h1.0v1.0h-1.0zM126.4 705.3h1.0v1.0h-1.0zM124.5 714.8h1.0v1.0h-1.0zM119.6 717.5h1.0v1.0h-1.0zM116.7 709.1h1.0v1.0h-1.0zM125.3 717.8h1.0v1.0h-1.0zM131.5 702.6h1.0v1.0h-1.0zM126.8 689.0h1.0v1.0h-1.0zM121.5 688.2h1.0v1.0h-1.0zM118.5 698.3h1.0v1.0h-1.0zM125.7 711.2h1.0v1.0h-1.0zM118.6 718.2h1.0v1.0h-1.0zM117.1 710.3h1.0v1.0h-1.0zM120.1 677.8h1.0v1.0h-1.0zM119.6 691.6h1.0v1.0h-1.0zM117.5 687.4h1.0v1.0h-1.0zM115.3 710.8h1.0v1.0h-1.0zM123.0 702.8h1.0v1.0h-1.0zM115.7 694.9h1.0v1.0h-1.0zM129.8 693.3h1.0v1.0h-1.0zM119.8 717.1h1.0v1.0h-1.0zM121.6 715.7h1.0v1.0h-1.0zM123.2 678.8h1.0v1.0h-1.0zM117.5 718.5h1.0v1.0h-1.0zM117.2 713.4h1.0v1.0h-1.0zM128.5 720.2h1.0v1.0h-1.0zM122.8 692.4h1.0v1.0h-1.0zM126.5 716.0h1.0v1.0h-1.0zM122.1 696.4h1.0v1.0h-1.0zM129.0 709.2h1.0v1.0h-1.0zM120.9 703.6h1.0v1.0h-1.0zM121.8 676.0h1.0v1.0h-1.0zM126.3 680.5h1.0v1.0h-1.0zM125.5 720.0h1.0v1.0h-1.0zM121.6 689.4h1.0v1.0h-1.0zM122.5 704.1h1.0v1.0h-1.0zM114.0 711.5h1.0v1.0h-1.0zM114.5 708.2h1.0v1.0h-1.0zM119.7 683.5h1.0v1.0h-1.0zM125.4 700.3h1.0v1.0h-1.0zM119.8 681.4h1.0v1.0h-1.0zM117.5 712.9h1.0v1.0h-1.0zM125.1 701.5h1.0v1.0h-1.0zM123.2 692.6h1.0v1.0h-1.0zM123.1 705.1h1.0v1.0h-1.0zM123.6 707.3h1.0v1.0h-1.0zM123.4 690.5h1.0v1.0h-1.0zM123.7 712.8h1.0v1.0h-1.0zM124.7 715.6h1.0v1.0h-1.0zM115.7 710.8h1.0v1.0h-1.0zM116.1 714.2h1.0v1.0h-1.0zM124.8 713.0h1.0v1.0h-1.0zM116.2 710.7h1.0v1.0h-1.0zM117.5 707.6h1.0v1.0h-1.0zM120.0 694.7h1.0v1.0h-1.0zM128.6 703.6h1.0v1.0h-1.0zM116.0 717.0h1.0v1.0h-1.0zM125.6 688.8h1.0v1.0h-1.0zM123.5 698.8h1.0v1.0h-1.0zM119.4 710.5h1.0v1.0h-1.0zM119.7 680.5h1.0v1.0h-1.0zM118.0 718.0h1.0v1.0h-1.0zM122.7 716.1h1.0v1.0h-1.0zM117.3 711.8h1.0v1.0h-1.0zM118.5 691.4h1.0v1.0h-1.0zM122.3 705.4h1.0v1.0h-1.0zM123.2 697.6h1.0v1.0h-1.0zM128.2 711.3h1.0v1.0h-1.0zM128.1 708.5h1.0v1.0h-1.0zM120.7 691.0h1.0v1.0h-1.0zM117.0 710.9h1.0v1.0h-1.0zM129.4 689.8h1.0v1.0h-1.0zM116.3 705.0h1.0v1.0h-1.0zM110.5 707.2h1.0v1.0h-1.0zM123.3 702.1h1.0v1.0h-1.0zM111.9 718.4h1.0v1.0h-1.0zM133.6 713.3h1.0v1.0h-1.0zM135.0 718.8h1.0v1.0h-1.0zM117.3 704.2h1.0v1.0h-1.0zM112.7 718.5h1.0v1.0h-1.0zM123.7 713.3h1.0v1.0h-1.0zM122.9 701.6h1.0v1.0h-1.0zM119.1 704.9h1.0v1.0h-1.0zM130.5 714.4h1.0v1.0h-1.0zM121.1 702.8h1.0v1.0h-1.0zM118.3 719.3h1.0v1.0h-1.0zM124.2 696.1h1.0v1.0h-1.0zM126.7 717.1h1.0v1.0h-1.0zM118.3 709.6h1.0v1.0h-1.0zM114.4 702.3h1.0v1.0h-1.0zM129.3 719.5h1.0v1.0h-1.0zM121.5 714.1h1.0v1.0h-1.0zM119.5 716.9h1.0v1.0h-1.0zM120.5 711.4h1.0v1.0h-1.0zM124.0 704.9h1.0v1.0h-1.0zM120.7 677.7h1.0v1.0h-1.0zM123.7 692.8h1.0v1.0h-1.0zM125.3 694.4h1.0v1.0h-1.0zM119.9 700.2h1.0v1.0h-1.0zM120.5 705.9h1.0v1.0h-1.0zM128.6 701.1h1.0v1.0h-1.0zM122.2 706.5h1.0v1.0h-1.0zM123.2 714.8h1.0v1.0h-1.0zM120.8 713.1h1.0v1.0h-1.0zM123.6 705.0h1.0v1.0h-1.0zM120.0 716.5h1.0v1.0h-1.0zM126.3 704.0h1.0v1.0h-1.0zM125.5 717.5h1.0v1.0h-1.0zM121.1 685.5h1.0v1.0h-1.0zM122.7 676.5h1.0v1.0h-1.0zM115.0 716.1h1.0v1.0h-1.0zM119.6 718.0h1.0v1.0h-1.0zM127.0 686.5h1.0v1.0h-1.0zM118.7 716.8h1.0v1.0h-1.0zM121.0 715.8h1.0v1.0h-1.0zM122.8 720.4h1.0v1.0h-1.0zM120.1 710.7h1.0v1.0h-1.0zM115.7 698.7h1.0v1.0h-1.0zM118.4 711.4h1.0v1.0h-1.0zM123.1 706.4h1.0v1.0h-1.0zM119.5 705.3h1.0v1.0h-1.0zM131.2 718.3h1.0v1.0h-1.0zM128.3 709.6h1.0v1.0h-1.0zM122.9 710.6h1.0v1.0h-1.0zM120.6 715.8h1.0v1.0h-1.0zM125.1 701.8h1.0v1.0h-1.0zM122.2 691.7h1.0v1.0h-1.0zM120.8 708.6h1.0v1.0h-1.0zM125.3 716.3h1.0v1.0h-1.0zM122.7 720.3h1.0v1.0h-1.0zM122.1 699.1h1.0v1.0h-1.0zM120.9 705.3h1.0v1.0h-1.0zM122.0 682.4h1.0v1.0h-1.0zM123.0 712.1h1.0v1.0h-1.0zM119.1 704.8h1.0v1.0h-1.0zM126.4 712.1h1.0v1.0h-1.0zM122.7 696.9h1.0v1.0h-1.0zM123.3 711.3h1.0v1.0h-1.0zM122.4 711.6h1.0v1.0h-1.0zM129.1 719.8h1.0v1.0h-1.0zM122.4 705.5h1.0v1.0h-1.0zM117.4 708.2h1.0v1.0h-1.0zM119.6 714.9h1.0v1.0h-1.0zM116.7 698.6h1.0v1.0h-1.0zM117.3 683.9h1.0v1.0h-1.0zM122.8 701.3h1.0v1.0h-1.0zM120.0 713.4h1.0v1.0h-1.0zM122.3 709.1h1.0v1.0h-1.0zM120.6 708.1h1.0v1.0h-1.0zM125.6 720.2h1.0v1.0h-1.0zM121.8 709.2h1.0v1.0h-1.0zM120.4 713.6h1.0v1.0h-1.0zM118.4 691.8h1.0v1.0h-1.0zM122.5 702.4h1.0v1.0h-1.0zM125.9 715.2h1.0v1.0h-1.0zM135.1 716.8h1.0v1.0h-1.0zM126.3 706.1h1.0v1.0h-1.0zM116.8 718.5h1.0v1.0h-1.0zM129.8 706.0h1.0v1.0h-1.0zM120.8 711.4h1.0v1.0h-1.0zM120.5 720.4h1.0v1.0h-1.0zM118.3 711.1h1.0v1.0h-1.0zM117.3 692.3h1.0v1.0h-1.0zM125.3 693.5h1.0v1.0h-1.0zM122.6 703.7h1.0v1.0h-1.0zM126.0 695.6h1.0v1.0h-1.0zM125.1 712.7h1.0v1.0h-1.0zM116.7 713.0h1.0v1.0h-1.0zM125.5 714.2h1.0v1.0h-1.0zM113.2 711.4h1.0v1.0h-1.0zM121.1 713.8h1.0v1.0h-1.0zM115.3 715.3h1.0v1.0h-1.0zM121.0 693.4h1.0v1.0h-1.0zM115.1 707.8h1.0v1.0h-1.0zM129.9 709.8h1.0v1.0h-1.0zM117.4 712.4h1.0v1.0h-1.0zM125.6 718.1h1.0v1.0h-1.0zM118.3 717.0h1.0v1.0h-1.0zM110.6 717.7h1.0v1.0h-1.0zM117.9 692.6h1.0v1.0h-1.0zM122.3 715.5h1.0v1.0h-1.0zM126.9 706.7h1.0v1.0h-1.0zM120.0 703.7h1.0v1.0h-1.0zM121.9 684.2h1.0v1.0h-1.0zM121.4 713.4h1.0v1.0h-1.0zM126.3 712.7h1.0v1.0h-1.0zM112.1 714.3h1.0v1.0h-1.0zM120.2 700.9h1.0v1.0h-1.0zM114.8 717.8h1.0v1.0h-1.0zM113.7 715.8h1.0v1.0h-1.0zM130.0 712.7h1.0v1.0h-1.0zM118.4 704.7h1.0v1.0h-1.0zM118.2 689.0h1.0v1.0h-1.0zM124.1 679.8h1.0v1.0h-1.0zM117.2 709.6h1.0v1.0h-1.0zM123.9 684.9h1.0v1.0h-1.0zM120.5 685.9h1.0v1.0h-1.0zM119.7 691.4h1.0v1.0h-1.0zM130.4 717.2h1.0v1.0h-1.0zM125.1 716.0h1.0v1.0h-1.0zM121.0 717.9h1.0v1.0h-1.0zM120.7 704.3h1.0v1.0h-1.0zM116.0 717.4h1.0v1.0h-1.0zM125.6 713.9h1.0v1.0h-1.0zM117.7 709.0h1.0v1.0h-1.0zM126.9 705.2h1.0v1.0h-1.0zM125.0 700.2h1.0v1.0h-1.0zM124.0 720.4h1.0v1.0h-1.0zM115.2 698.5h1.0v1.0h-1.0zM129.5 687.9h1.0v1.0h-1.0zM118.8 696.6h1.0v1.0h-1.0zM125.6 703.0h1.0v1.0h-1.0zM125.1 697.6h1.0v1.0h-1.0zM125.8 692.2h1.0v1.0h-1.0zM122.2 675.4h1.0v1.0h-1.0zM114.5 701.3h1.0v1.0h-1.0zM128.7 717.6h1.0v1.0h-1.0zM131.6 712.1h1.0v1.0h-1.0zM130.5 711.8h1.0v1.0h-1.0zM123.9 692.2h1.0v1.0h-1.0zM120.3 707.6h1.0v1.0h-1.0zM121.5 698.6h1.0v1.0h-1.0zM122.3 718.5h1.0v1.0h-1.0zM116.9 719.9h1.0v1.0h-1.0zM118.8 685.4h1.0v1.0h-1.0zM113.6 716.7h1.0v1.0h-1.0zM121.7 711.1h1.0v1.0h-1.0zM117.8 715.0h1.0v1.0h-1.0z" fill="#a9aae0"/>
<path d="M119.2 712.8h1.1v1.1h-1.1zM120.6 712.6h1.1v1.1h-1.1zM118.8 686.3h1.1v1.1h-1.1zM121.9 702.1h1.1v1.1h-1.1zM125.2 710.6h1.1v1.1h-1.1zM123.1 707.3h1.1v1.1h-1.1zM112.5 716.5h1.1v1.1h-1.1zM120.2 703.4h1.1v1.1h-1.1zM117.7 718.1h1.1v1.1h-1.1zM120.5 695.3h1.1v1.1h-1.1zM123.2 716.5h1.1v1.1h-1.1zM119.0 701.4h1.1v1.1h-1.1zM121.3 699.5h1.1v1.1h-1.1zM123.6 717.2h1.1v1.1h-1.1zM124.3 705.6h1.1v1.1h-1.1zM125.7 694.9h1.1v1.1h-1.1zM127.5 717.8h1.1v1.1h-1.1zM122.1 711.7h1.1v1.1h-1.1zM124.4 702.3h1.1v1.1h-1.1zM129.6 710.4h1.1v1.1h-1.1zM122.3 713.2h1.1v1.1h-1.1zM122.5 718.4h1.1v1.1h-1.1zM126.6 695.6h1.1v1.1h-1.1zM124.2 709.6h1.1v1.1h-1.1zM119.9 682.3h1.1v1.1h-1.1zM120.2 718.8h1.1v1.1h-1.1zM125.1 710.3h1.1v1.1h-1.1zM126.8 715.9h1.1v1.1h-1.1zM119.8 719.8h1.1v1.1h-1.1zM124.6 686.1h1.1v1.1h-1.1zM126.0 719.5h1.1v1.1h-1.1zM126.9 717.2h1.1v1.1h-1.1zM125.6 707.0h1.1v1.1h-1.1zM121.5 709.7h1.1v1.1h-1.1zM130.5 717.1h1.1v1.1h-1.1zM122.9 717.0h1.1v1.1h-1.1zM121.3 694.4h1.1v1.1h-1.1zM119.9 695.8h1.1v1.1h-1.1zM121.1 707.9h1.1v1.1h-1.1zM118.9 702.2h1.1v1.1h-1.1zM118.6 697.3h1.1v1.1h-1.1zM119.4 717.5h1.1v1.1h-1.1zM124.4 716.7h1.1v1.1h-1.1zM122.1 692.5h1.1v1.1h-1.1zM121.8 699.4h1.1v1.1h-1.1zM117.3 714.1h1.1v1.1h-1.1zM121.8 716.9h1.1v1.1h-1.1zM122.2 696.8h1.1v1.1h-1.1zM119.7 711.1h1.1v1.1h-1.1zM120.8 714.7h1.1v1.1h-1.1zM123.4 684.0h1.1v1.1h-1.1zM125.8 710.7h1.1v1.1h-1.1zM116.0 718.6h1.1v1.1h-1.1zM126.3 706.7h1.1v1.1h-1.1zM125.5 700.7h1.1v1.1h-1.1zM120.6 713.5h1.1v1.1h-1.1zM124.7 700.3h1.1v1.1h-1.1zM120.4 686.0h1.1v1.1h-1.1zM120.6 687.9h1.1v1.1h-1.1zM124.1 691.2h1.1v1.1h-1.1zM112.3 717.0h1.1v1.1h-1.1zM118.7 712.0h1.1v1.1h-1.1zM122.6 715.8h1.1v1.1h-1.1zM122.8 697.5h1.1v1.1h-1.1zM129.5 705.0h1.1v1.1h-1.1zM124.2 700.6h1.1v1.1h-1.1zM129.8 715.7h1.1v1.1h-1.1zM123.8 701.9h1.1v1.1h-1.1zM118.1 708.1h1.1v1.1h-1.1zM119.3 700.4h1.1v1.1h-1.1zM119.1 698.7h1.1v1.1h-1.1zM123.3 677.5h1.1v1.1h-1.1zM127.0 697.5h1.1v1.1h-1.1zM125.2 713.3h1.1v1.1h-1.1zM121.5 716.6h1.1v1.1h-1.1zM121.2 701.7h1.1v1.1h-1.1zM118.3 717.8h1.1v1.1h-1.1zM122.5 694.0h1.1v1.1h-1.1zM125.4 718.5h1.1v1.1h-1.1zM123.7 701.2h1.1v1.1h-1.1zM127.4 711.6h1.1v1.1h-1.1zM118.1 719.7h1.1v1.1h-1.1zM121.9 700.0h1.1v1.1h-1.1zM118.5 686.6h1.1v1.1h-1.1zM122.7 709.8h1.1v1.1h-1.1zM121.5 697.5h1.1v1.1h-1.1zM118.4 708.7h1.1v1.1h-1.1zM118.6 717.8h1.1v1.1h-1.1zM119.7 703.6h1.1v1.1h-1.1zM117.6 716.4h1.1v1.1h-1.1zM127.7 704.0h1.1v1.1h-1.1zM118.2 713.9h1.1v1.1h-1.1zM120.1 718.6h1.1v1.1h-1.1zM118.8 719.6h1.1v1.1h-1.1zM119.4 702.6h1.1v1.1h-1.1zM126.2 707.6h1.1v1.1h-1.1zM113.0 720.4h1.1v1.1h-1.1zM126.2 706.0h1.1v1.1h-1.1zM117.7 697.4h1.1v1.1h-1.1zM121.0 700.6h1.1v1.1h-1.1zM121.3 710.2h1.1v1.1h-1.1zM122.2 687.7h1.1v1.1h-1.1zM121.4 703.6h1.1v1.1h-1.1zM119.5 719.7h1.1v1.1h-1.1zM123.7 703.0h1.1v1.1h-1.1zM123.8 718.7h1.1v1.1h-1.1zM121.2 717.0h1.1v1.1h-1.1zM120.8 711.8h1.1v1.1h-1.1zM122.1 683.2h1.1v1.1h-1.1zM123.5 712.5h1.1v1.1h-1.1zM121.0 716.3h1.1v1.1h-1.1zM134.3 708.9h1.1v1.1h-1.1zM124.5 717.1h1.1v1.1h-1.1zM128.5 711.4h1.1v1.1h-1.1zM122.4 688.8h1.1v1.1h-1.1zM116.3 703.6h1.1v1.1h-1.1zM125.7 699.2h1.1v1.1h-1.1zM123.9 700.6h1.1v1.1h-1.1zM120.5 697.8h1.1v1.1h-1.1zM122.7 712.2h1.1v1.1h-1.1zM121.1 701.5h1.1v1.1h-1.1zM125.6 705.5h1.1v1.1h-1.1zM121.9 705.5h1.1v1.1h-1.1zM129.3 718.1h1.1v1.1h-1.1zM120.8 709.6h1.1v1.1h-1.1zM116.4 700.0h1.1v1.1h-1.1zM116.5 717.5h1.1v1.1h-1.1zM119.8 709.2h1.1v1.1h-1.1zM115.2 717.9h1.1v1.1h-1.1zM122.2 698.9h1.1v1.1h-1.1zM117.1 694.1h1.1v1.1h-1.1zM120.8 693.2h1.1v1.1h-1.1zM121.7 714.0h1.1v1.1h-1.1zM124.0 716.1h1.1v1.1h-1.1zM119.2 687.1h1.1v1.1h-1.1zM124.8 713.4h1.1v1.1h-1.1zM123.8 715.0h1.1v1.1h-1.1zM123.0 700.8h1.1v1.1h-1.1zM125.5 716.9h1.1v1.1h-1.1zM120.0 699.9h1.1v1.1h-1.1zM121.3 711.0h1.1v1.1h-1.1zM122.3 710.8h1.1v1.1h-1.1zM118.5 718.9h1.1v1.1h-1.1zM118.8 688.2h1.1v1.1h-1.1zM124.9 711.0h1.1v1.1h-1.1zM121.1 701.4h1.1v1.1h-1.1zM119.7 698.5h1.1v1.1h-1.1zM119.7 717.0h1.1v1.1h-1.1zM115.6 712.7h1.1v1.1h-1.1zM120.6 696.6h1.1v1.1h-1.1zM119.3 698.5h1.1v1.1h-1.1zM123.6 705.7h1.1v1.1h-1.1zM118.1 720.2h1.1v1.1h-1.1zM129.4 716.7h1.1v1.1h-1.1zM121.5 701.3h1.1v1.1h-1.1zM122.5 713.2h1.1v1.1h-1.1zM125.8 707.1h1.1v1.1h-1.1zM128.6 706.0h1.1v1.1h-1.1zM120.2 698.1h1.1v1.1h-1.1zM122.3 698.1h1.1v1.1h-1.1zM121.0 711.9h1.1v1.1h-1.1zM120.4 714.2h1.1v1.1h-1.1zM116.5 715.2h1.1v1.1h-1.1zM120.8 710.9h1.1v1.1h-1.1zM120.3 715.3h1.1v1.1h-1.1zM115.8 708.1h1.1v1.1h-1.1zM125.3 706.6h1.1v1.1h-1.1zM126.5 711.8h1.1v1.1h-1.1zM119.1 715.1h1.1v1.1h-1.1zM119.9 687.1h1.1v1.1h-1.1zM121.0 712.0h1.1v1.1h-1.1zM120.6 697.9h1.1v1.1h-1.1zM130.4 706.5h1.1v1.1h-1.1zM127.0 688.4h1.1v1.1h-1.1zM123.0 713.3h1.1v1.1h-1.1zM121.1 707.0h1.1v1.1h-1.1zM130.8 705.7h1.1v1.1h-1.1zM120.6 710.1h1.1v1.1h-1.1zM123.3 714.6h1.1v1.1h-1.1zM121.1 691.2h1.1v1.1h-1.1zM127.1 711.7h1.1v1.1h-1.1zM118.2 718.5h1.1v1.1h-1.1zM121.7 694.4h1.1v1.1h-1.1zM124.4 708.8h1.1v1.1h-1.1zM123.5 719.5h1.1v1.1h-1.1zM125.7 706.6h1.1v1.1h-1.1zM120.8 709.0h1.1v1.1h-1.1zM123.6 677.5h1.1v1.1h-1.1zM121.2 678.9h1.1v1.1h-1.1zM121.7 710.9h1.1v1.1h-1.1zM119.4 704.7h1.1v1.1h-1.1zM123.5 717.4h1.1v1.1h-1.1zM122.8 702.3h1.1v1.1h-1.1zM120.9 711.5h1.1v1.1h-1.1zM122.7 695.4h1.1v1.1h-1.1zM121.4 716.6h1.1v1.1h-1.1zM120.8 715.0h1.1v1.1h-1.1zM122.9 713.5h1.1v1.1h-1.1zM123.6 714.0h1.1v1.1h-1.1zM115.9 716.4h1.1v1.1h-1.1zM117.6 704.2h1.1v1.1h-1.1zM116.6 700.3h1.1v1.1h-1.1zM121.8 697.5h1.1v1.1h-1.1zM122.8 716.9h1.1v1.1h-1.1zM124.1 694.9h1.1v1.1h-1.1zM122.1 706.7h1.1v1.1h-1.1zM116.8 718.3h1.1v1.1h-1.1zM129.1 718.9h1.1v1.1h-1.1zM116.4 720.2h1.1v1.1h-1.1zM119.2 709.2h1.1v1.1h-1.1zM121.3 715.6h1.1v1.1h-1.1zM120.5 704.7h1.1v1.1h-1.1zM115.4 717.1h1.1v1.1h-1.1zM125.6 716.9h1.1v1.1h-1.1zM121.5 715.2h1.1v1.1h-1.1zM118.8 707.7h1.1v1.1h-1.1zM116.9 716.8h1.1v1.1h-1.1zM123.1 686.3h1.1v1.1h-1.1zM120.0 705.6h1.1v1.1h-1.1zM122.0 703.9h1.1v1.1h-1.1zM123.3 688.7h1.1v1.1h-1.1zM121.6 713.8h1.1v1.1h-1.1zM128.0 699.2h1.1v1.1h-1.1zM121.1 708.6h1.1v1.1h-1.1zM124.6 698.2h1.1v1.1h-1.1zM123.9 702.0h1.1v1.1h-1.1zM125.6 696.8h1.1v1.1h-1.1zM120.4 691.6h1.1v1.1h-1.1zM119.1 706.5h1.1v1.1h-1.1zM127.9 709.8h1.1v1.1h-1.1zM119.9 682.3h1.1v1.1h-1.1zM121.3 699.0h1.1v1.1h-1.1zM121.9 705.6h1.1v1.1h-1.1zM123.7 700.5h1.1v1.1h-1.1zM127.4 720.4h1.1v1.1h-1.1zM124.0 716.3h1.1v1.1h-1.1zM115.4 717.4h1.1v1.1h-1.1zM123.4 706.8h1.1v1.1h-1.1zM126.0 709.7h1.1v1.1h-1.1zM128.4 715.9h1.1v1.1h-1.1zM120.4 699.3h1.1v1.1h-1.1zM120.2 715.6h1.1v1.1h-1.1zM123.0 692.5h1.1v1.1h-1.1zM125.4 701.5h1.1v1.1h-1.1zM125.9 705.7h1.1v1.1h-1.1zM124.9 694.1h1.1v1.1h-1.1zM117.6 690.1h1.1v1.1h-1.1zM120.2 712.3h1.1v1.1h-1.1zM121.8 714.1h1.1v1.1h-1.1zM125.6 710.6h1.1v1.1h-1.1zM118.4 700.9h1.1v1.1h-1.1zM125.0 689.3h1.1v1.1h-1.1zM121.1 711.9h1.1v1.1h-1.1zM125.2 716.1h1.1v1.1h-1.1zM123.7 716.4h1.1v1.1h-1.1zM122.6 702.9h1.1v1.1h-1.1zM117.8 705.7h1.1v1.1h-1.1zM124.7 703.4h1.1v1.1h-1.1zM131.7 697.6h1.1v1.1h-1.1zM119.9 716.2h1.1v1.1h-1.1z" fill="#6e78c8"/>
<path d="M127.0 718.2h1.2v1.2h-1.2zM121.4 713.5h1.2v1.2h-1.2zM122.6 698.8h1.2v1.2h-1.2zM125.2 712.1h1.2v1.2h-1.2zM125.0 718.3h1.2v1.2h-1.2zM122.1 700.3h1.2v1.2h-1.2zM119.5 707.3h1.2v1.2h-1.2zM125.1 716.8h1.2v1.2h-1.2zM119.0 715.9h1.2v1.2h-1.2zM123.3 716.7h1.2v1.2h-1.2zM124.0 715.9h1.2v1.2h-1.2zM127.2 717.8h1.2v1.2h-1.2zM120.0 716.3h1.2v1.2h-1.2zM120.0 704.5h1.2v1.2h-1.2zM122.4 700.2h1.2v1.2h-1.2zM122.3 705.8h1.2v1.2h-1.2zM121.9 720.4h1.2v1.2h-1.2zM121.9 718.1h1.2v1.2h-1.2zM120.2 699.1h1.2v1.2h-1.2zM123.5 707.2h1.2v1.2h-1.2zM118.2 718.5h1.2v1.2h-1.2zM123.0 719.0h1.2v1.2h-1.2zM122.6 708.7h1.2v1.2h-1.2zM117.8 713.0h1.2v1.2h-1.2zM124.4 708.3h1.2v1.2h-1.2zM121.9 710.8h1.2v1.2h-1.2zM122.3 714.5h1.2v1.2h-1.2zM124.4 707.3h1.2v1.2h-1.2zM122.4 713.4h1.2v1.2h-1.2zM122.5 715.9h1.2v1.2h-1.2zM123.2 706.3h1.2v1.2h-1.2zM122.1 717.5h1.2v1.2h-1.2zM124.9 719.4h1.2v1.2h-1.2zM121.4 711.3h1.2v1.2h-1.2zM125.9 714.1h1.2v1.2h-1.2zM120.0 718.0h1.2v1.2h-1.2zM119.5 701.1h1.2v1.2h-1.2zM121.1 706.4h1.2v1.2h-1.2zM125.5 709.8h1.2v1.2h-1.2zM124.0 713.2h1.2v1.2h-1.2zM122.2 702.2h1.2v1.2h-1.2zM116.1 711.8h1.2v1.2h-1.2zM119.8 719.1h1.2v1.2h-1.2zM120.6 711.6h1.2v1.2h-1.2zM124.2 720.0h1.2v1.2h-1.2zM120.0 714.0h1.2v1.2h-1.2zM124.4 708.7h1.2v1.2h-1.2zM118.6 708.8h1.2v1.2h-1.2zM124.7 709.1h1.2v1.2h-1.2zM121.3 699.7h1.2v1.2h-1.2zM124.8 702.9h1.2v1.2h-1.2zM118.8 702.7h1.2v1.2h-1.2zM124.2 718.2h1.2v1.2h-1.2zM123.0 711.0h1.2v1.2h-1.2zM119.3 718.9h1.2v1.2h-1.2zM122.7 712.7h1.2v1.2h-1.2zM120.8 699.5h1.2v1.2h-1.2zM122.1 703.6h1.2v1.2h-1.2zM122.9 699.2h1.2v1.2h-1.2zM120.8 715.5h1.2v1.2h-1.2zM118.5 710.2h1.2v1.2h-1.2zM124.4 706.6h1.2v1.2h-1.2zM118.1 711.3h1.2v1.2h-1.2zM123.7 719.3h1.2v1.2h-1.2zM122.9 710.0h1.2v1.2h-1.2zM122.3 715.2h1.2v1.2h-1.2zM129.3 716.1h1.2v1.2h-1.2zM123.1 713.2h1.2v1.2h-1.2zM123.9 704.5h1.2v1.2h-1.2zM122.2 703.9h1.2v1.2h-1.2zM124.7 719.3h1.2v1.2h-1.2zM124.9 711.1h1.2v1.2h-1.2zM117.8 719.4h1.2v1.2h-1.2zM122.5 720.3h1.2v1.2h-1.2zM119.5 709.5h1.2v1.2h-1.2zM121.5 716.6h1.2v1.2h-1.2zM125.0 706.4h1.2v1.2h-1.2zM124.4 714.4h1.2v1.2h-1.2zM117.5 711.7h1.2v1.2h-1.2zM123.5 708.0h1.2v1.2h-1.2zM123.0 707.1h1.2v1.2h-1.2zM120.0 718.0h1.2v1.2h-1.2zM121.4 699.1h1.2v1.2h-1.2zM124.2 718.2h1.2v1.2h-1.2zM126.1 711.1h1.2v1.2h-1.2zM121.8 715.8h1.2v1.2h-1.2zM119.2 709.0h1.2v1.2h-1.2zM121.3 711.4h1.2v1.2h-1.2zM121.1 701.8h1.2v1.2h-1.2zM124.3 707.6h1.2v1.2h-1.2zM121.1 713.5h1.2v1.2h-1.2zM125.7 704.8h1.2v1.2h-1.2zM121.8 716.0h1.2v1.2h-1.2zM115.0 717.3h1.2v1.2h-1.2zM122.2 712.7h1.2v1.2h-1.2zM122.8 713.7h1.2v1.2h-1.2zM119.7 718.1h1.2v1.2h-1.2zM119.0 719.3h1.2v1.2h-1.2zM118.9 716.3h1.2v1.2h-1.2zM117.5 714.5h1.2v1.2h-1.2zM126.9 719.6h1.2v1.2h-1.2zM122.2 707.0h1.2v1.2h-1.2zM126.3 720.2h1.2v1.2h-1.2zM118.7 718.0h1.2v1.2h-1.2zM123.8 701.0h1.2v1.2h-1.2zM122.0 696.9h1.2v1.2h-1.2zM124.3 720.1h1.2v1.2h-1.2zM123.0 707.2h1.2v1.2h-1.2zM122.4 713.0h1.2v1.2h-1.2zM121.2 710.6h1.2v1.2h-1.2zM120.2 702.3h1.2v1.2h-1.2zM120.6 702.7h1.2v1.2h-1.2zM122.8 715.8h1.2v1.2h-1.2zM123.4 717.2h1.2v1.2h-1.2zM119.7 702.6h1.2v1.2h-1.2zM120.2 701.7h1.2v1.2h-1.2zM120.7 718.5h1.2v1.2h-1.2zM124.8 709.8h1.2v1.2h-1.2zM124.3 720.3h1.2v1.2h-1.2zM120.7 708.4h1.2v1.2h-1.2zM125.9 719.3h1.2v1.2h-1.2zM118.3 719.3h1.2v1.2h-1.2zM122.3 720.4h1.2v1.2h-1.2zM128.1 713.7h1.2v1.2h-1.2zM119.1 712.7h1.2v1.2h-1.2zM125.8 715.8h1.2v1.2h-1.2zM123.4 695.6h1.2v1.2h-1.2zM120.6 706.2h1.2v1.2h-1.2zM119.8 714.3h1.2v1.2h-1.2zM122.9 709.8h1.2v1.2h-1.2z" fill="#3c58a0"/>
<path d="M122.6 716.9h1.3v1.3h-1.3zM118.3 717.0h1.3v1.3h-1.3zM123.9 718.9h1.3v1.3h-1.3zM117.5 715.7h1.3v1.3h-1.3zM119.4 716.4h1.3v1.3h-1.3zM124.5 720.7h1.3v1.3h-1.3zM122.2 715.5h1.3v1.3h-1.3zM117.8 721.0h1.3v1.3h-1.3zM116.8 718.1h1.3v1.3h-1.3zM123.2 715.7h1.3v1.3h-1.3zM122.9 716.9h1.3v1.3h-1.3zM121.9 719.5h1.3v1.3h-1.3zM123.4 720.3h1.3v1.3h-1.3zM123.2 708.9h1.3v1.3h-1.3zM116.6 719.4h1.3v1.3h-1.3zM119.8 714.6h1.3v1.3h-1.3zM120.1 720.3h1.3v1.3h-1.3zM121.8 715.2h1.3v1.3h-1.3zM121.2 719.5h1.3v1.3h-1.3zM120.1 718.9h1.3v1.3h-1.3zM121.0 718.0h1.3v1.3h-1.3zM121.6 715.0h1.3v1.3h-1.3zM120.0 719.6h1.3v1.3h-1.3zM122.8 719.1h1.3v1.3h-1.3zM114.8 719.2h1.3v1.3h-1.3zM119.8 720.3h1.3v1.3h-1.3zM118.7 719.5h1.3v1.3h-1.3zM118.2 714.5h1.3v1.3h-1.3zM120.1 720.3h1.3v1.3h-1.3zM118.6 713.3h1.3v1.3h-1.3zM120.9 718.2h1.3v1.3h-1.3zM124.3 717.1h1.3v1.3h-1.3zM118.6 717.1h1.3v1.3h-1.3zM121.1 714.6h1.3v1.3h-1.3zM123.3 717.1h1.3v1.3h-1.3zM121.6 717.2h1.3v1.3h-1.3zM119.0 719.7h1.3v1.3h-1.3zM119.5 717.5h1.3v1.3h-1.3zM120.7 715.8h1.3v1.3h-1.3zM124.4 722.5h1.3v1.3h-1.3zM116.3 719.8h1.3v1.3h-1.3zM117.7 722.5h1.3v1.3h-1.3zM125.8 720.9h1.3v1.3h-1.3zM124.6 716.7h1.3v1.3h-1.3zM123.1 724.8h1.3v1.3h-1.3zM120.6 721.4h1.3v1.3h-1.3zM114.9 718.9h1.3v1.3h-1.3zM117.9 713.5h1.3v1.3h-1.3zM119.3 718.8h1.3v1.3h-1.3zM119.3 720.9h1.3v1.3h-1.3zM121.4 712.5h1.3v1.3h-1.3zM123.3 714.7h1.3v1.3h-1.3zM118.5 716.5h1.3v1.3h-1.3zM119.9 722.3h1.3v1.3h-1.3zM124.2 719.6h1.3v1.3h-1.3zM121.4 718.3h1.3v1.3h-1.3zM117.0 717.2h1.3v1.3h-1.3zM115.6 717.1h1.3v1.3h-1.3zM122.8 713.3h1.3v1.3h-1.3zM120.0 712.0h1.3v1.3h-1.3zM116.5 726.2h1.3v1.3h-1.3zM133.3 736.1h1.3v1.3h-1.3zM122.8 729.5h1.3v1.3h-1.3zM119.3 726.5h1.3v1.3h-1.3zM128.0 734.0h1.3v1.3h-1.3zM130.7 731.2h1.3v1.3h-1.3zM120.7 725.2h1.3v1.3h-1.3zM118.3 720.9h1.3v1.3h-1.3zM120.9 727.0h1.3v1.3h-1.3zM121.4 723.0h1.3v1.3h-1.3zM117.2 725.0h1.3v1.3h-1.3zM121.6 724.2h1.3v1.3h-1.3zM124.7 727.7h1.3v1.3h-1.3zM122.8 730.8h1.3v1.3h-1.3zM131.0 729.8h1.3v1.3h-1.3zM123.5 729.7h1.3v1.3h-1.3zM121.3 729.2h1.3v1.3h-1.3zM119.4 728.6h1.3v1.3h-1.3zM115.6 723.1h1.3v1.3h-1.3zM118.2 720.5h1.3v1.3h-1.3zM117.4 726.7h1.3v1.3h-1.3zM118.7 723.6h1.3v1.3h-1.3zM120.4 728.0h1.3v1.3h-1.3zM125.4 726.3h1.3v1.3h-1.3zM120.6 723.3h1.3v1.3h-1.3zM115.7 724.8h1.3v1.3h-1.3zM123.4 723.6h1.3v1.3h-1.3zM124.4 725.8h1.3v1.3h-1.3zM122.4 726.4h1.3v1.3h-1.3zM125.8 729.0h1.3v1.3h-1.3zM122.3 727.8h1.3v1.3h-1.3zM121.5 725.3h1.3v1.3h-1.3zM122.7 725.5h1.3v1.3h-1.3zM118.6 725.9h1.3v1.3h-1.3zM127.2 722.8h1.3v1.3h-1.3zM123.5 727.6h1.3v1.3h-1.3zM124.6 730.8h1.3v1.3h-1.3zM126.9 726.8h1.3v1.3h-1.3zM119.6 721.8h1.3v1.3h-1.3zM119.0 723.5h1.3v1.3h-1.3zM128.6 732.1h1.3v1.3h-1.3zM122.5 729.1h1.3v1.3h-1.3zM119.7 724.5h1.3v1.3h-1.3zM133.4 733.0h1.3v1.3h-1.3zM126.2 732.5h1.3v1.3h-1.3zM119.0 726.5h1.3v1.3h-1.3zM115.4 725.8h1.3v1.3h-1.3zM119.2 729.7h1.3v1.3h-1.3zM122.1 725.6h1.3v1.3h-1.3zM127.2 730.9h1.3v1.3h-1.3zM120.4 725.2h1.3v1.3h-1.3zM127.7 734.3h1.3v1.3h-1.3zM115.5 723.6h1.3v1.3h-1.3zM124.8 729.2h1.3v1.3h-1.3zM118.4 725.4h1.3v1.3h-1.3zM117.1 720.1h1.3v1.3h-1.3zM113.9 720.8h1.3v1.3h-1.3zM116.4 721.9h1.3v1.3h-1.3zM121.8 729.1h1.3v1.3h-1.3zM120.8 725.9h1.3v1.3h-1.3zM123.3 726.4h1.3v1.3h-1.3zM124.2 728.2h1.3v1.3h-1.3zM114.8 720.0h1.3v1.3h-1.3zM119.0 723.7h1.3v1.3h-1.3zM124.7 726.6h1.3v1.3h-1.3zM116.1 721.6h1.3v1.3h-1.3zM123.1 729.0h1.3v1.3h-1.3zM127.0 730.9h1.3v1.3h-1.3zM125.6 726.9h1.3v1.3h-1.3zM116.4 722.6h1.3v1.3h-1.3zM123.4 728.0h1.3v1.3h-1.3zM121.1 728.0h1.3v1.3h-1.3zM129.4 737.5h1.3v1.3h-1.3zM120.4 722.9h1.3v1.3h-1.3zM122.3 726.8h1.3v1.3h-1.3zM122.7 727.9h1.3v1.3h-1.3zM129.3 730.4h1.3v1.3h-1.3zM123.6 725.4h1.3v1.3h-1.3zM127.8 730.2h1.3v1.3h-1.3zM125.8 730.5h1.3v1.3h-1.3zM119.5 726.2h1.3v1.3h-1.3zM126.2 729.7h1.3v1.3h-1.3zM122.7 726.5h1.3v1.3h-1.3zM121.7 727.4h1.3v1.3h-1.3zM121.8 723.2h1.3v1.3h-1.3zM115.2 725.7h1.3v1.3h-1.3zM116.8 723.6h1.3v1.3h-1.3zM122.1 727.9h1.3v1.3h-1.3zM130.1 728.9h1.3v1.3h-1.3zM122.8 728.6h1.3v1.3h-1.3zM115.8 724.7h1.3v1.3h-1.3zM113.0 720.9h1.3v1.3h-1.3zM120.6 724.0h1.3v1.3h-1.3zM127.8 731.7h1.3v1.3h-1.3zM114.3 720.5h1.3v1.3h-1.3zM122.4 728.7h1.3v1.3h-1.3zM119.5 723.7h1.3v1.3h-1.3zM122.9 726.2h1.3v1.3h-1.3zM116.9 726.2h1.3v1.3h-1.3zM125.9 727.7h1.3v1.3h-1.3z" fill="#3a9cb0"/>
<path d="M121.9 725.6h1.4v1.4h-1.4zM121.4 726.1h1.4v1.4h-1.4zM121.5 729.2h1.4v1.4h-1.4zM120.5 725.9h1.4v1.4h-1.4zM119.4 725.5h1.4v1.4h-1.4zM123.2 726.4h1.4v1.4h-1.4zM116.3 723.3h1.4v1.4h-1.4zM119.1 724.4h1.4v1.4h-1.4zM120.4 725.6h1.4v1.4h-1.4zM124.4 729.8h1.4v1.4h-1.4zM121.9 730.2h1.4v1.4h-1.4zM125.1 727.5h1.4v1.4h-1.4zM120.0 728.2h1.4v1.4h-1.4zM127.9 729.2h1.4v1.4h-1.4zM118.8 723.9h1.4v1.4h-1.4zM121.0 726.4h1.4v1.4h-1.4zM122.2 727.1h1.4v1.4h-1.4zM121.2 725.4h1.4v1.4h-1.4zM124.3 726.4h1.4v1.4h-1.4zM121.6 727.9h1.4v1.4h-1.4zM118.5 725.2h1.4v1.4h-1.4zM121.9 725.6h1.4v1.4h-1.4zM118.3 724.0h1.4v1.4h-1.4zM126.6 728.2h1.4v1.4h-1.4zM125.3 728.9h1.4v1.4h-1.4zM123.6 729.1h1.4v1.4h-1.4zM123.8 727.5h1.4v1.4h-1.4zM120.1 726.1h1.4v1.4h-1.4zM120.7 726.0h1.4v1.4h-1.4zM120.8 726.8h1.4v1.4h-1.4zM122.6 727.2h1.4v1.4h-1.4zM120.3 728.0h1.4v1.4h-1.4zM126.5 729.9h1.4v1.4h-1.4zM117.5 724.4h1.4v1.4h-1.4zM121.9 729.1h1.4v1.4h-1.4zM123.5 727.6h1.4v1.4h-1.4zM125.1 727.8h1.4v1.4h-1.4zM120.3 724.9h1.4v1.4h-1.4zM122.7 727.2h1.4v1.4h-1.4zM125.9 729.4h1.4v1.4h-1.4zM119.6 724.8h1.4v1.4h-1.4zM118.2 729.2h1.4v1.4h-1.4zM123.3 727.9h1.4v1.4h-1.4zM118.4 725.6h1.4v1.4h-1.4zM122.5 722.4h1.4v1.4h-1.4zM120.3 724.6h1.4v1.4h-1.4zM121.8 724.8h1.4v1.4h-1.4zM117.5 724.3h1.4v1.4h-1.4zM124.9 726.6h1.4v1.4h-1.4zM123.7 729.4h1.4v1.4h-1.4zM124.8 725.5h1.4v1.4h-1.4zM118.9 725.1h1.4v1.4h-1.4zM121.9 726.5h1.4v1.4h-1.4zM119.4 724.9h1.4v1.4h-1.4zM120.6 728.2h1.4v1.4h-1.4zM121.7 728.7h1.4v1.4h-1.4zM124.6 728.9h1.4v1.4h-1.4zM118.1 727.8h1.4v1.4h-1.4zM119.8 726.5h1.4v1.4h-1.4zM124.4 730.6h1.4v1.4h-1.4zM118.7 725.7h1.4v1.4h-1.4zM123.3 725.7h1.4v1.4h-1.4zM126.6 730.0h1.4v1.4h-1.4zM121.7 731.2h1.4v1.4h-1.4zM122.2 727.4h1.4v1.4h-1.4zM121.6 725.7h1.4v1.4h-1.4zM117.0 723.0h1.4v1.4h-1.4zM123.7 727.6h1.4v1.4h-1.4zM127.8 727.6h1.4v1.4h-1.4zM119.2 725.1h1.4v1.4h-1.4zM122.3 727.9h1.4v1.4h-1.4zM120.6 724.4h1.4v1.4h-1.4zM124.6 727.8h1.4v1.4h-1.4zM122.5 728.0h1.4v1.4h-1.4zM123.2 727.2h1.4v1.4h-1.4zM121.0 728.3h1.4v1.4h-1.4zM123.3 726.3h1.4v1.4h-1.4zM122.8 728.6h1.4v1.4h-1.4zM120.1 726.7h1.4v1.4h-1.4zM119.9 727.1h1.4v1.4h-1.4z" fill="#52b03c"/>
<path d="M121.2 726.1h1.4v1.4h-1.4zM120.4 726.5h1.4v1.4h-1.4zM120.4 725.8h1.4v1.4h-1.4zM121.4 723.9h1.4v1.4h-1.4zM122.3 725.8h1.4v1.4h-1.4zM121.0 724.9h1.4v1.4h-1.4zM122.6 728.4h1.4v1.4h-1.4zM124.7 727.0h1.4v1.4h-1.4zM122.7 725.3h1.4v1.4h-1.4zM121.5 725.8h1.4v1.4h-1.4zM121.9 726.2h1.4v1.4h-1.4zM122.2 727.0h1.4v1.4h-1.4zM121.4 726.8h1.4v1.4h-1.4zM123.4 726.2h1.4v1.4h-1.4zM121.6 727.3h1.4v1.4h-1.4zM124.3 726.2h1.4v1.4h-1.4zM122.7 725.8h1.4v1.4h-1.4zM119.6 726.9h1.4v1.4h-1.4zM124.3 727.6h1.4v1.4h-1.4zM119.8 725.4h1.4v1.4h-1.4zM121.3 726.6h1.4v1.4h-1.4zM122.1 727.6h1.4v1.4h-1.4zM123.7 727.6h1.4v1.4h-1.4zM123.7 725.7h1.4v1.4h-1.4zM125.2 728.5h1.4v1.4h-1.4zM122.3 727.5h1.4v1.4h-1.4zM122.7 728.1h1.4v1.4h-1.4zM123.5 727.0h1.4v1.4h-1.4zM123.1 727.2h1.4v1.4h-1.4zM121.8 725.4h1.4v1.4h-1.4zM119.5 724.3h1.4v1.4h-1.4zM122.2 726.2h1.4v1.4h-1.4zM123.6 725.3h1.4v1.4h-1.4zM122.7 725.2h1.4v1.4h-1.4zM123.9 727.2h1.4v1.4h-1.4zM122.6 726.5h1.4v1.4h-1.4zM122.5 727.3h1.4v1.4h-1.4zM122.2 728.6h1.4v1.4h-1.4zM122.4 726.4h1.4v1.4h-1.4zM124.2 727.4h1.4v1.4h-1.4z" fill="#d8d030"/>
</g>
<rect x="67.00" y="662.50" width="84.5" height="84.0" fill="none" stroke="#777" stroke-width="0.8"/>
<line x1="93.30" y1="662.50" x2="93.30" y2="746.50" stroke="#333" stroke-width="0.9"/>
<line x1="67.00" y1="720.80" x2="151.50" y2="720.80" stroke="#333" stroke-width="0.9"/>
<line x1="64.50" y1="670.50" x2="67.00" y2="670.50" stroke="#444" stroke-width="0.8"/>
<line x1="64.50" y1="691.10" x2="67.00" y2="691.10" stroke="#444" stroke-width="0.8"/>
<line x1="64.50" y1="713.50" x2="67.00" y2="713.50" stroke="#444" stroke-width="0.8"/>
<line x1="64.50" y1="727.20" x2="67.00" y2="727.20" stroke="#444" stroke-width="0.8"/>
<line x1="64.50" y1="740.90" x2="67.00" y2="740.90" stroke="#444" stroke-width="0.8"/>
<line x1="65.70" y1="684.90" x2="67.00" y2="684.90" stroke="#777" stroke-width="0.5"/>
<line x1="65.70" y1="681.27" x2="67.00" y2="681.27" stroke="#777" stroke-width="0.5"/>
<line x1="65.70" y1="678.70" x2="67.00" y2="678.70" stroke="#777" stroke-width="0.5"/>
<line x1="65.70" y1="676.70" x2="67.00" y2="676.70" stroke="#777" stroke-width="0.5"/>
<line x1="65.70" y1="675.07" x2="67.00" y2="675.07" stroke="#777" stroke-width="0.5"/>
<line x1="65.70" y1="673.69" x2="67.00" y2="673.69" stroke="#777" stroke-width="0.5"/>
<line x1="65.70" y1="672.50" x2="67.00" y2="672.50" stroke="#777" stroke-width="0.5"/>
<line x1="65.70" y1="671.44" x2="67.00" y2="671.44" stroke="#777" stroke-width="0.5"/>
<line x1="65.70" y1="706.76" x2="67.00" y2="706.76" stroke="#777" stroke-width="0.5"/>
<line x1="65.70" y1="702.81" x2="67.00" y2="702.81" stroke="#777" stroke-width="0.5"/>
<line x1="65.70" y1="700.01" x2="67.00" y2="700.01" stroke="#777" stroke-width="0.5"/>
<line x1="65.70" y1="697.84" x2="67.00" y2="697.84" stroke="#777" stroke-width="0.5"/>
<line x1="65.70" y1="696.07" x2="67.00" y2="696.07" stroke="#777" stroke-width="0.5"/>
<line x1="65.70" y1="694.57" x2="67.00" y2="694.57" stroke="#777" stroke-width="0.5"/>
<line x1="65.70" y1="693.27" x2="67.00" y2="693.27" stroke="#777" stroke-width="0.5"/>
<line x1="65.70" y1="692.12" x2="67.00" y2="692.12" stroke="#777" stroke-width="0.5"/>
<line x1="72.00" y1="746.50" x2="72.00" y2="749.00" stroke="#444" stroke-width="0.8"/>
<line x1="86.50" y1="746.50" x2="86.50" y2="749.00" stroke="#444" stroke-width="0.8"/>
<line x1="100.00" y1="746.50" x2="100.00" y2="749.00" stroke="#444" stroke-width="0.8"/>
<line x1="123.80" y1="746.50" x2="123.80" y2="749.00" stroke="#444" stroke-width="0.8"/>
<line x1="145.00" y1="746.50" x2="145.00" y2="749.00" stroke="#444" stroke-width="0.8"/>
<line x1="107.16" y1="746.50" x2="107.16" y2="747.80" stroke="#777" stroke-width="0.5"/>
<line x1="111.36" y1="746.50" x2="111.36" y2="747.80" stroke="#777" stroke-width="0.5"/>
<line x1="114.33" y1="746.50" x2="114.33" y2="747.80" stroke="#777" stroke-width="0.5"/>
<line x1="116.64" y1="746.50" x2="116.64" y2="747.80" stroke="#777" stroke-width="0.5"/>
<line x1="118.52" y1="746.50" x2="118.52" y2="747.80" stroke="#777" stroke-width="0.5"/>
<line x1="120.11" y1="746.50" x2="120.11" y2="747.80" stroke="#777" stroke-width="0.5"/>
<line x1="121.49" y1="746.50" x2="121.49" y2="747.80" stroke="#777" stroke-width="0.5"/>
<line x1="122.71" y1="746.50" x2="122.71" y2="747.80" stroke="#777" stroke-width="0.5"/>
<line x1="130.18" y1="746.50" x2="130.18" y2="747.80" stroke="#777" stroke-width="0.5"/>
<line x1="133.91" y1="746.50" x2="133.91" y2="747.80" stroke="#777" stroke-width="0.5"/>
<line x1="136.56" y1="746.50" x2="136.56" y2="747.80" stroke="#777" stroke-width="0.5"/>
<line x1="138.62" y1="746.50" x2="138.62" y2="747.80" stroke="#777" stroke-width="0.5"/>
<line x1="140.30" y1="746.50" x2="140.30" y2="747.80" stroke="#777" stroke-width="0.5"/>
<line x1="141.72" y1="746.50" x2="141.72" y2="747.80" stroke="#777" stroke-width="0.5"/>
<line x1="142.95" y1="746.50" x2="142.95" y2="747.80" stroke="#777" stroke-width="0.5"/>
<line x1="144.03" y1="746.50" x2="144.03" y2="747.80" stroke="#777" stroke-width="0.5"/>
<text x="50.05" y="673.00" font-size="7.2" fill="#111">10<tspan font-size="5.30" dy="-3.5">5</tspan></text>
<text x="50.05" y="693.60" font-size="7.2" fill="#111">10<tspan font-size="5.30" dy="-3.5">4</tspan></text>
<text x="50.05" y="716.00" font-size="7.2" fill="#111">10<tspan font-size="5.30" dy="-3.5">3</tspan></text>
<text x="61.00" y="729.70" font-size="7.2" text-anchor="end" font-weight="normal" fill="#111" >0</text>
<text x="45.84" y="743.40" font-size="7.2" fill="#111">−10<tspan font-size="5.30" dy="-3.5">3</tspan></text>
<text x="64.42" y="758.70" font-size="7.2" fill="#111">−10<tspan font-size="5.30" dy="-3.5">3</tspan></text>
<text x="86.50" y="758.70" font-size="7.2" text-anchor="middle" font-weight="normal" fill="#111" >0</text>
<text x="94.52" y="758.70" font-size="7.2" fill="#111">10<tspan font-size="5.30" dy="-3.5">3</tspan></text>
<text x="118.32" y="758.70" font-size="7.2" fill="#111">10<tspan font-size="5.30" dy="-3.5">4</tspan></text>
<text x="139.52" y="758.70" font-size="7.2" fill="#111">10<tspan font-size="5.30" dy="-3.5">5</tspan></text>
<rect x="65.40" y="725.70" width="2" height="3" fill="#111"/>
<rect x="84.50" y="745.90" width="4" height="1.8" fill="#111"/>
<text x="68.50" y="669.50" font-size="6.4" text-anchor="start" font-weight="bold" fill="#222" >0</text>
<text x="68.70" y="741.50" font-size="6.4" text-anchor="start" font-weight="bold" fill="#222" >0</text>
<text x="149.70" y="669.40" font-size="5.7" text-anchor="end" font-weight="bold" fill="#000" >56.0 %</text>
<text x="147.60" y="742.10" font-size="5.7" text-anchor="end" font-weight="bold" fill="#000" >44.0 %</text>
<text x="68.20" y="657.70" font-size="7.3" text-anchor="start" font-weight="normal" fill="#111" >+ SFLLRN</text>
<g filter="url(#bl)">
<path d="M218.2 698.7h1.0v1.0h-1.0zM226.0 688.9h1.0v1.0h-1.0zM217.8 693.8h1.0v1.0h-1.0zM224.2 706.6h1.0v1.0h-1.0zM218.2 680.3h1.0v1.0h-1.0zM225.0 699.7h1.0v1.0h-1.0zM227.9 705.3h1.0v1.0h-1.0zM222.1 691.5h1.0v1.0h-1.0zM231.5 691.3h1.0v1.0h-1.0zM219.8 682.0h1.0v1.0h-1.0zM222.8 696.1h1.0v1.0h-1.0zM221.3 693.8h1.0v1.0h-1.0zM223.5 702.1h1.0v1.0h-1.0zM226.3 696.8h1.0v1.0h-1.0zM216.2 702.2h1.0v1.0h-1.0zM217.5 692.6h1.0v1.0h-1.0zM217.3 694.5h1.0v1.0h-1.0zM219.8 696.9h1.0v1.0h-1.0zM234.1 694.0h1.0v1.0h-1.0zM225.4 679.9h1.0v1.0h-1.0zM221.5 701.8h1.0v1.0h-1.0zM222.2 698.6h1.0v1.0h-1.0zM222.9 683.4h1.0v1.0h-1.0zM224.5 685.6h1.0v1.0h-1.0zM229.1 688.9h1.0v1.0h-1.0zM224.9 694.5h1.0v1.0h-1.0zM225.8 687.9h1.0v1.0h-1.0zM226.0 693.1h1.0v1.0h-1.0zM226.9 701.4h1.0v1.0h-1.0zM223.0 685.9h1.0v1.0h-1.0zM225.2 699.6h1.0v1.0h-1.0zM228.2 690.4h1.0v1.0h-1.0zM224.4 700.1h1.0v1.0h-1.0zM223.5 696.8h1.0v1.0h-1.0zM223.1 687.9h1.0v1.0h-1.0zM218.9 690.1h1.0v1.0h-1.0zM224.6 711.1h1.0v1.0h-1.0zM225.9 706.1h1.0v1.0h-1.0zM225.2 702.2h1.0v1.0h-1.0zM223.1 703.0h1.0v1.0h-1.0zM228.7 690.9h1.0v1.0h-1.0zM220.1 716.1h1.0v1.0h-1.0zM223.4 705.2h1.0v1.0h-1.0zM225.6 682.0h1.0v1.0h-1.0zM231.0 714.0h1.0v1.0h-1.0zM223.1 702.8h1.0v1.0h-1.0zM222.9 684.8h1.0v1.0h-1.0zM222.1 698.6h1.0v1.0h-1.0zM226.4 702.3h1.0v1.0h-1.0zM222.7 709.4h1.0v1.0h-1.0zM219.8 703.2h1.0v1.0h-1.0zM226.4 691.3h1.0v1.0h-1.0zM216.2 684.5h1.0v1.0h-1.0zM223.3 700.3h1.0v1.0h-1.0zM227.9 683.5h1.0v1.0h-1.0zM222.5 701.6h1.0v1.0h-1.0zM221.9 668.4h1.0v1.0h-1.0zM225.3 719.9h1.0v1.0h-1.0zM226.0 684.4h1.0v1.0h-1.0zM221.1 696.9h1.0v1.0h-1.0zM225.3 679.9h1.0v1.0h-1.0zM229.3 675.8h1.0v1.0h-1.0zM229.6 677.7h1.0v1.0h-1.0zM236.4 669.2h1.0v1.0h-1.0zM228.0 676.0h1.0v1.0h-1.0zM225.9 668.2h1.0v1.0h-1.0zM235.7 678.1h1.0v1.0h-1.0zM236.8 669.0h1.0v1.0h-1.0zM242.8 667.8h1.0v1.0h-1.0zM224.8 668.8h1.0v1.0h-1.0zM233.4 665.5h1.0v1.0h-1.0zM228.0 670.4h1.0v1.0h-1.0zM235.9 666.6h1.0v1.0h-1.0zM231.7 678.8h1.0v1.0h-1.0zM244.1 675.0h1.0v1.0h-1.0zM238.3 673.9h1.0v1.0h-1.0zM227.3 665.1h1.0v1.0h-1.0zM224.9 679.1h1.0v1.0h-1.0zM238.5 679.9h1.0v1.0h-1.0zM224.9 674.7h1.0v1.0h-1.0zM234.1 676.2h1.0v1.0h-1.0zM230.9 680.5h1.0v1.0h-1.0zM226.0 673.2h1.0v1.0h-1.0zM239.2 678.9h1.0v1.0h-1.0zM239.2 675.8h1.0v1.0h-1.0zM240.4 679.1h1.0v1.0h-1.0zM231.5 675.5h1.0v1.0h-1.0zM242.5 678.4h1.0v1.0h-1.0zM232.8 677.1h1.0v1.0h-1.0zM241.8 673.7h1.0v1.0h-1.0zM237.0 670.6h1.0v1.0h-1.0zM236.2 674.2h1.0v1.0h-1.0zM226.1 674.7h1.0v1.0h-1.0zM244.4 678.6h1.0v1.0h-1.0zM239.1 670.7h1.0v1.0h-1.0zM239.2 673.8h1.0v1.0h-1.0zM233.3 677.9h1.0v1.0h-1.0zM226.2 676.5h1.0v1.0h-1.0zM225.1 674.1h1.0v1.0h-1.0zM234.1 668.2h1.0v1.0h-1.0zM236.1 713.3h1.0v1.0h-1.0zM243.6 718.7h1.0v1.0h-1.0zM246.9 698.8h1.0v1.0h-1.0zM243.8 712.7h1.0v1.0h-1.0zM247.5 696.3h1.0v1.0h-1.0zM253.5 712.2h1.0v1.0h-1.0zM246.7 705.8h1.0v1.0h-1.0zM240.6 712.4h1.0v1.0h-1.0zM237.3 696.1h1.0v1.0h-1.0zM247.9 718.6h1.0v1.0h-1.0zM237.8 717.8h1.0v1.0h-1.0zM247.2 701.3h1.0v1.0h-1.0zM236.9 692.7h1.0v1.0h-1.0zM243.7 717.0h1.0v1.0h-1.0zM247.6 713.6h1.0v1.0h-1.0zM242.6 694.6h1.0v1.0h-1.0zM243.0 706.0h1.0v1.0h-1.0zM246.6 704.8h1.0v1.0h-1.0zM239.0 711.3h1.0v1.0h-1.0zM243.7 716.8h1.0v1.0h-1.0zM241.3 720.1h1.0v1.0h-1.0zM243.8 684.3h1.0v1.0h-1.0zM252.2 717.6h1.0v1.0h-1.0zM245.5 709.7h1.0v1.0h-1.0zM243.7 701.0h1.0v1.0h-1.0zM242.8 692.7h1.0v1.0h-1.0zM252.2 706.2h1.0v1.0h-1.0zM244.6 697.9h1.0v1.0h-1.0zM248.2 693.0h1.0v1.0h-1.0zM245.4 705.9h1.0v1.0h-1.0zM238.2 711.4h1.0v1.0h-1.0zM234.6 719.6h1.0v1.0h-1.0zM245.4 712.9h1.0v1.0h-1.0zM247.5 695.1h1.0v1.0h-1.0zM239.7 681.1h1.0v1.0h-1.0zM244.5 695.1h1.0v1.0h-1.0zM239.9 699.5h1.0v1.0h-1.0zM249.7 708.2h1.0v1.0h-1.0zM243.7 711.0h1.0v1.0h-1.0zM237.9 715.7h1.0v1.0h-1.0zM255.0 718.4h1.0v1.0h-1.0zM250.0 713.9h1.0v1.0h-1.0zM238.9 692.4h1.0v1.0h-1.0zM245.8 718.5h1.0v1.0h-1.0zM235.2 703.5h1.0v1.0h-1.0zM238.7 715.8h1.0v1.0h-1.0zM235.2 719.3h1.0v1.0h-1.0zM244.8 696.4h1.0v1.0h-1.0zM246.7 713.9h1.0v1.0h-1.0zM236.5 713.8h1.0v1.0h-1.0zM252.2 696.8h1.0v1.0h-1.0zM233.7 720.0h1.0v1.0h-1.0zM244.6 708.7h1.0v1.0h-1.0zM238.6 718.5h1.0v1.0h-1.0zM242.1 717.2h1.0v1.0h-1.0zM245.1 705.7h1.0v1.0h-1.0zM244.2 709.1h1.0v1.0h-1.0zM240.4 683.9h1.0v1.0h-1.0zM252.7 716.1h1.0v1.0h-1.0zM246.1 694.8h1.0v1.0h-1.0zM244.1 702.0h1.0v1.0h-1.0zM241.6 693.5h1.0v1.0h-1.0zM242.0 708.1h1.0v1.0h-1.0zM233.5 713.0h1.0v1.0h-1.0zM229.1 719.3h1.0v1.0h-1.0zM243.9 689.4h1.0v1.0h-1.0zM240.3 697.2h1.0v1.0h-1.0zM242.8 714.1h1.0v1.0h-1.0zM233.6 711.7h1.0v1.0h-1.0zM242.1 709.4h1.0v1.0h-1.0zM237.5 701.1h1.0v1.0h-1.0zM251.1 718.3h1.0v1.0h-1.0zM249.5 696.6h1.0v1.0h-1.0zM233.1 708.4h1.0v1.0h-1.0zM245.4 709.8h1.0v1.0h-1.0zM249.2 707.7h1.0v1.0h-1.0zM256.8 710.7h1.0v1.0h-1.0zM245.7 708.1h1.0v1.0h-1.0zM245.3 704.3h1.0v1.0h-1.0zM237.6 707.3h1.0v1.0h-1.0zM249.6 713.1h1.0v1.0h-1.0zM245.8 704.8h1.0v1.0h-1.0zM247.7 719.5h1.0v1.0h-1.0zM241.8 706.8h1.0v1.0h-1.0zM237.7 692.2h1.0v1.0h-1.0zM247.8 718.3h1.0v1.0h-1.0zM242.2 706.9h1.0v1.0h-1.0zM246.6 711.1h1.0v1.0h-1.0zM250.5 718.8h1.0v1.0h-1.0zM246.8 683.1h1.0v1.0h-1.0zM244.3 695.9h1.0v1.0h-1.0zM249.9 701.5h1.0v1.0h-1.0zM242.0 702.7h1.0v1.0h-1.0zM241.8 714.1h1.0v1.0h-1.0zM240.9 691.9h1.0v1.0h-1.0zM243.3 696.1h1.0v1.0h-1.0zM239.1 708.5h1.0v1.0h-1.0zM245.2 704.8h1.0v1.0h-1.0zM245.3 708.5h1.0v1.0h-1.0zM246.5 711.5h1.0v1.0h-1.0zM233.5 711.7h1.0v1.0h-1.0zM241.6 710.9h1.0v1.0h-1.0zM244.5 717.2h1.0v1.0h-1.0zM252.6 716.1h1.0v1.0h-1.0zM241.5 718.3h1.0v1.0h-1.0zM248.2 718.8h1.0v1.0h-1.0zM251.6 697.1h1.0v1.0h-1.0zM243.4 692.6h1.0v1.0h-1.0zM243.1 698.0h1.0v1.0h-1.0zM241.0 690.2h1.0v1.0h-1.0zM234.7 716.6h1.0v1.0h-1.0zM246.4 692.1h1.0v1.0h-1.0zM243.2 704.4h1.0v1.0h-1.0zM242.8 696.2h1.0v1.0h-1.0zM255.3 712.8h1.0v1.0h-1.0zM238.8 691.4h1.0v1.0h-1.0zM243.8 707.8h1.0v1.0h-1.0zM237.2 712.9h1.0v1.0h-1.0zM245.1 695.6h1.0v1.0h-1.0zM244.1 685.0h1.0v1.0h-1.0zM237.1 709.2h1.0v1.0h-1.0zM243.1 693.3h1.0v1.0h-1.0zM245.5 695.4h1.0v1.0h-1.0zM254.5 720.3h1.0v1.0h-1.0zM245.2 718.9h1.0v1.0h-1.0zM244.7 719.4h1.0v1.0h-1.0zM243.9 706.4h1.0v1.0h-1.0zM239.3 706.6h1.0v1.0h-1.0zM237.5 708.1h1.0v1.0h-1.0zM244.9 681.6h1.0v1.0h-1.0zM245.4 713.3h1.0v1.0h-1.0zM241.0 706.1h1.0v1.0h-1.0zM240.5 714.3h1.0v1.0h-1.0zM244.8 694.4h1.0v1.0h-1.0zM253.7 708.0h1.0v1.0h-1.0zM244.6 715.9h1.0v1.0h-1.0zM248.3 713.4h1.0v1.0h-1.0zM238.6 704.5h1.0v1.0h-1.0zM229.0 710.6h1.0v1.0h-1.0zM243.1 716.0h1.0v1.0h-1.0zM249.2 698.9h1.0v1.0h-1.0zM238.7 715.3h1.0v1.0h-1.0zM233.6 716.2h1.0v1.0h-1.0zM250.3 717.8h1.0v1.0h-1.0zM244.5 713.2h1.0v1.0h-1.0zM235.8 704.5h1.0v1.0h-1.0zM248.0 713.9h1.0v1.0h-1.0zM245.4 706.6h1.0v1.0h-1.0zM241.4 681.0h1.0v1.0h-1.0zM249.3 711.3h1.0v1.0h-1.0zM249.0 697.7h1.0v1.0h-1.0zM241.3 702.1h1.0v1.0h-1.0zM237.6 712.2h1.0v1.0h-1.0zM241.2 704.0h1.0v1.0h-1.0zM237.7 720.5h1.0v1.0h-1.0zM236.8 714.9h1.0v1.0h-1.0zM251.7 720.1h1.0v1.0h-1.0zM244.6 714.3h1.0v1.0h-1.0zM242.4 698.8h1.0v1.0h-1.0zM244.2 696.0h1.0v1.0h-1.0zM246.3 703.5h1.0v1.0h-1.0zM246.1 718.4h1.0v1.0h-1.0zM230.5 709.1h1.0v1.0h-1.0zM242.9 709.7h1.0v1.0h-1.0zM236.4 720.4h1.0v1.0h-1.0zM239.2 688.6h1.0v1.0h-1.0zM243.6 710.5h1.0v1.0h-1.0zM241.7 718.9h1.0v1.0h-1.0zM241.3 694.1h1.0v1.0h-1.0zM244.0 707.5h1.0v1.0h-1.0zM255.0 710.9h1.0v1.0h-1.0zM247.5 705.0h1.0v1.0h-1.0zM239.7 708.4h1.0v1.0h-1.0zM241.2 700.0h1.0v1.0h-1.0zM239.5 712.1h1.0v1.0h-1.0zM241.9 713.7h1.0v1.0h-1.0zM246.6 700.4h1.0v1.0h-1.0zM243.7 685.6h1.0v1.0h-1.0zM243.6 693.9h1.0v1.0h-1.0zM237.7 718.2h1.0v1.0h-1.0zM259.1 714.6h1.0v1.0h-1.0zM249.0 719.3h1.0v1.0h-1.0zM246.2 688.4h1.0v1.0h-1.0zM240.7 706.9h1.0v1.0h-1.0zM243.8 719.9h1.0v1.0h-1.0zM250.6 719.1h1.0v1.0h-1.0zM228.8 713.9h1.0v1.0h-1.0zM246.6 716.3h1.0v1.0h-1.0zM248.9 710.7h1.0v1.0h-1.0zM247.9 706.2h1.0v1.0h-1.0zM247.9 696.4h1.0v1.0h-1.0zM244.8 692.0h1.0v1.0h-1.0zM241.0 705.8h1.0v1.0h-1.0zM239.6 699.0h1.0v1.0h-1.0zM235.8 710.1h1.0v1.0h-1.0zM247.6 708.6h1.0v1.0h-1.0zM252.8 720.4h1.0v1.0h-1.0zM241.6 698.0h1.0v1.0h-1.0zM248.1 691.3h1.0v1.0h-1.0zM237.9 711.3h1.0v1.0h-1.0zM242.6 702.9h1.0v1.0h-1.0zM251.0 709.6h1.0v1.0h-1.0zM237.8 710.3h1.0v1.0h-1.0zM238.9 695.7h1.0v1.0h-1.0zM252.3 698.5h1.0v1.0h-1.0zM241.9 717.7h1.0v1.0h-1.0zM245.6 685.2h1.0v1.0h-1.0zM244.9 705.2h1.0v1.0h-1.0zM248.7 711.2h1.0v1.0h-1.0zM245.8 688.3h1.0v1.0h-1.0zM241.7 689.4h1.0v1.0h-1.0zM237.6 711.5h1.0v1.0h-1.0zM240.5 703.4h1.0v1.0h-1.0zM243.9 702.3h1.0v1.0h-1.0zM244.6 714.5h1.0v1.0h-1.0zM242.4 691.7h1.0v1.0h-1.0zM236.7 716.1h1.0v1.0h-1.0zM238.9 696.8h1.0v1.0h-1.0zM243.1 705.2h1.0v1.0h-1.0zM251.6 703.2h1.0v1.0h-1.0zM248.1 712.1h1.0v1.0h-1.0zM243.2 709.1h1.0v1.0h-1.0zM248.6 714.5h1.0v1.0h-1.0zM241.3 703.2h1.0v1.0h-1.0zM244.4 690.2h1.0v1.0h-1.0zM242.6 689.2h1.0v1.0h-1.0zM235.9 709.6h1.0v1.0h-1.0zM244.1 700.6h1.0v1.0h-1.0zM246.9 715.2h1.0v1.0h-1.0zM245.2 712.3h1.0v1.0h-1.0zM241.8 689.1h1.0v1.0h-1.0zM251.6 713.2h1.0v1.0h-1.0zM245.9 699.9h1.0v1.0h-1.0zM247.5 714.0h1.0v1.0h-1.0zM248.6 703.1h1.0v1.0h-1.0zM248.8 709.7h1.0v1.0h-1.0zM255.5 718.7h1.0v1.0h-1.0zM239.7 705.6h1.0v1.0h-1.0zM241.9 715.9h1.0v1.0h-1.0zM247.2 704.3h1.0v1.0h-1.0zM247.0 719.0h1.0v1.0h-1.0zM241.5 703.0h1.0v1.0h-1.0zM240.6 703.1h1.0v1.0h-1.0zM246.9 703.9h1.0v1.0h-1.0zM237.3 695.9h1.0v1.0h-1.0zM240.1 708.9h1.0v1.0h-1.0zM240.2 716.7h1.0v1.0h-1.0zM242.2 714.8h1.0v1.0h-1.0zM243.3 717.8h1.0v1.0h-1.0zM244.5 708.1h1.0v1.0h-1.0z" fill="#a9aae0"/>
<path d="M234.7 710.0h1.1v1.1h-1.1zM239.3 712.8h1.1v1.1h-1.1zM248.4 716.4h1.1v1.1h-1.1zM245.6 716.0h1.1v1.1h-1.1zM246.9 692.1h1.1v1.1h-1.1zM247.0 718.4h1.1v1.1h-1.1zM242.6 692.1h1.1v1.1h-1.1zM241.8 715.0h1.1v1.1h-1.1zM243.6 712.7h1.1v1.1h-1.1zM246.4 715.5h1.1v1.1h-1.1zM243.8 709.4h1.1v1.1h-1.1zM240.3 703.7h1.1v1.1h-1.1zM241.1 719.9h1.1v1.1h-1.1zM239.7 709.8h1.1v1.1h-1.1zM241.2 714.5h1.1v1.1h-1.1zM236.2 706.1h1.1v1.1h-1.1zM239.4 716.9h1.1v1.1h-1.1zM236.4 716.4h1.1v1.1h-1.1zM251.7 717.0h1.1v1.1h-1.1zM237.2 712.5h1.1v1.1h-1.1zM241.9 709.5h1.1v1.1h-1.1zM237.5 706.5h1.1v1.1h-1.1zM246.9 706.4h1.1v1.1h-1.1zM249.4 720.3h1.1v1.1h-1.1zM244.6 705.0h1.1v1.1h-1.1zM245.5 706.6h1.1v1.1h-1.1zM244.6 702.1h1.1v1.1h-1.1zM243.3 702.7h1.1v1.1h-1.1zM240.9 694.1h1.1v1.1h-1.1zM239.7 697.4h1.1v1.1h-1.1zM240.6 690.5h1.1v1.1h-1.1zM245.0 718.6h1.1v1.1h-1.1zM244.5 688.1h1.1v1.1h-1.1zM244.7 699.1h1.1v1.1h-1.1zM242.7 699.9h1.1v1.1h-1.1zM239.7 699.4h1.1v1.1h-1.1zM243.2 697.7h1.1v1.1h-1.1zM246.0 715.3h1.1v1.1h-1.1zM237.9 702.8h1.1v1.1h-1.1zM241.5 708.2h1.1v1.1h-1.1zM248.6 700.9h1.1v1.1h-1.1zM238.8 703.9h1.1v1.1h-1.1zM247.6 710.1h1.1v1.1h-1.1zM242.6 699.3h1.1v1.1h-1.1zM247.2 689.4h1.1v1.1h-1.1zM241.5 705.3h1.1v1.1h-1.1zM240.6 709.6h1.1v1.1h-1.1zM243.1 720.3h1.1v1.1h-1.1zM243.5 712.9h1.1v1.1h-1.1zM244.0 708.0h1.1v1.1h-1.1zM245.0 704.9h1.1v1.1h-1.1zM237.7 711.6h1.1v1.1h-1.1zM244.8 696.4h1.1v1.1h-1.1zM245.7 700.9h1.1v1.1h-1.1zM237.4 717.8h1.1v1.1h-1.1zM242.9 720.4h1.1v1.1h-1.1zM241.8 701.1h1.1v1.1h-1.1zM243.0 715.6h1.1v1.1h-1.1zM244.9 682.0h1.1v1.1h-1.1zM236.1 716.8h1.1v1.1h-1.1zM243.0 692.0h1.1v1.1h-1.1zM247.3 693.0h1.1v1.1h-1.1zM234.7 708.2h1.1v1.1h-1.1zM245.4 711.1h1.1v1.1h-1.1zM241.0 717.5h1.1v1.1h-1.1zM249.2 706.3h1.1v1.1h-1.1zM250.4 718.8h1.1v1.1h-1.1zM246.4 698.8h1.1v1.1h-1.1zM241.4 710.0h1.1v1.1h-1.1zM243.1 717.0h1.1v1.1h-1.1zM243.0 702.8h1.1v1.1h-1.1zM244.7 702.6h1.1v1.1h-1.1zM242.8 707.8h1.1v1.1h-1.1zM239.8 713.7h1.1v1.1h-1.1zM241.3 693.5h1.1v1.1h-1.1zM246.6 719.8h1.1v1.1h-1.1zM243.1 716.9h1.1v1.1h-1.1zM243.1 705.1h1.1v1.1h-1.1zM243.9 714.2h1.1v1.1h-1.1zM248.0 707.6h1.1v1.1h-1.1zM246.7 684.6h1.1v1.1h-1.1zM243.2 698.7h1.1v1.1h-1.1zM242.6 711.9h1.1v1.1h-1.1zM247.0 709.9h1.1v1.1h-1.1zM241.9 702.3h1.1v1.1h-1.1zM246.9 713.2h1.1v1.1h-1.1zM245.0 700.8h1.1v1.1h-1.1zM248.5 703.5h1.1v1.1h-1.1zM237.0 719.4h1.1v1.1h-1.1zM241.5 703.5h1.1v1.1h-1.1zM245.4 716.9h1.1v1.1h-1.1zM244.2 692.8h1.1v1.1h-1.1zM242.9 713.4h1.1v1.1h-1.1zM241.4 705.9h1.1v1.1h-1.1zM242.0 717.1h1.1v1.1h-1.1zM242.8 699.5h1.1v1.1h-1.1zM245.5 696.4h1.1v1.1h-1.1zM245.2 691.3h1.1v1.1h-1.1zM238.8 718.9h1.1v1.1h-1.1zM245.6 712.7h1.1v1.1h-1.1zM245.3 715.5h1.1v1.1h-1.1zM240.6 703.5h1.1v1.1h-1.1zM247.0 706.2h1.1v1.1h-1.1zM243.9 714.0h1.1v1.1h-1.1zM245.1 720.1h1.1v1.1h-1.1zM238.0 711.7h1.1v1.1h-1.1zM242.6 685.9h1.1v1.1h-1.1zM246.6 712.8h1.1v1.1h-1.1zM241.4 693.5h1.1v1.1h-1.1zM247.0 716.0h1.1v1.1h-1.1zM241.6 716.8h1.1v1.1h-1.1zM241.9 715.5h1.1v1.1h-1.1zM239.6 718.5h1.1v1.1h-1.1zM242.5 708.8h1.1v1.1h-1.1zM241.7 695.6h1.1v1.1h-1.1zM233.0 709.2h1.1v1.1h-1.1zM244.9 714.3h1.1v1.1h-1.1zM241.0 719.4h1.1v1.1h-1.1zM244.0 712.2h1.1v1.1h-1.1zM244.7 700.3h1.1v1.1h-1.1zM242.4 710.9h1.1v1.1h-1.1zM239.8 719.1h1.1v1.1h-1.1zM241.8 704.5h1.1v1.1h-1.1zM244.0 720.0h1.1v1.1h-1.1zM246.2 695.2h1.1v1.1h-1.1zM240.8 710.5h1.1v1.1h-1.1zM242.8 710.4h1.1v1.1h-1.1zM253.3 720.3h1.1v1.1h-1.1zM241.8 716.7h1.1v1.1h-1.1zM242.2 716.8h1.1v1.1h-1.1zM245.3 702.0h1.1v1.1h-1.1zM241.8 710.8h1.1v1.1h-1.1zM245.6 717.0h1.1v1.1h-1.1zM246.2 691.5h1.1v1.1h-1.1zM246.1 687.7h1.1v1.1h-1.1zM255.3 719.3h1.1v1.1h-1.1zM241.4 713.0h1.1v1.1h-1.1zM249.2 714.9h1.1v1.1h-1.1zM238.4 705.2h1.1v1.1h-1.1zM241.6 685.6h1.1v1.1h-1.1zM242.0 698.4h1.1v1.1h-1.1zM243.9 705.4h1.1v1.1h-1.1zM245.6 710.7h1.1v1.1h-1.1zM246.8 701.0h1.1v1.1h-1.1zM240.8 710.6h1.1v1.1h-1.1zM246.1 688.3h1.1v1.1h-1.1zM249.7 713.3h1.1v1.1h-1.1zM251.1 711.5h1.1v1.1h-1.1zM239.3 707.9h1.1v1.1h-1.1zM246.4 713.7h1.1v1.1h-1.1zM243.6 715.3h1.1v1.1h-1.1zM238.3 720.4h1.1v1.1h-1.1zM246.2 717.1h1.1v1.1h-1.1zM240.7 706.9h1.1v1.1h-1.1zM247.3 710.6h1.1v1.1h-1.1zM241.0 709.5h1.1v1.1h-1.1zM246.0 706.8h1.1v1.1h-1.1zM242.4 689.9h1.1v1.1h-1.1zM248.8 714.6h1.1v1.1h-1.1zM239.9 711.4h1.1v1.1h-1.1zM241.6 715.2h1.1v1.1h-1.1zM246.4 691.1h1.1v1.1h-1.1zM240.6 694.6h1.1v1.1h-1.1zM244.8 705.7h1.1v1.1h-1.1zM242.6 689.6h1.1v1.1h-1.1zM240.1 700.1h1.1v1.1h-1.1zM241.7 702.6h1.1v1.1h-1.1zM244.5 691.0h1.1v1.1h-1.1zM249.8 718.7h1.1v1.1h-1.1zM242.2 717.7h1.1v1.1h-1.1zM244.3 706.5h1.1v1.1h-1.1zM240.8 715.1h1.1v1.1h-1.1zM244.9 710.6h1.1v1.1h-1.1zM242.4 716.1h1.1v1.1h-1.1zM237.4 694.6h1.1v1.1h-1.1zM242.6 681.5h1.1v1.1h-1.1zM242.7 700.3h1.1v1.1h-1.1zM245.4 690.5h1.1v1.1h-1.1zM245.2 718.3h1.1v1.1h-1.1zM240.5 704.4h1.1v1.1h-1.1zM244.4 711.1h1.1v1.1h-1.1zM243.8 718.4h1.1v1.1h-1.1zM236.1 702.7h1.1v1.1h-1.1zM243.6 720.0h1.1v1.1h-1.1zM244.3 708.0h1.1v1.1h-1.1zM247.0 718.9h1.1v1.1h-1.1zM246.3 718.4h1.1v1.1h-1.1zM249.4 704.3h1.1v1.1h-1.1zM247.0 708.0h1.1v1.1h-1.1zM251.7 720.4h1.1v1.1h-1.1zM242.2 698.5h1.1v1.1h-1.1zM241.4 718.0h1.1v1.1h-1.1zM246.2 689.4h1.1v1.1h-1.1zM246.7 702.9h1.1v1.1h-1.1zM248.2 718.5h1.1v1.1h-1.1zM240.5 695.2h1.1v1.1h-1.1zM247.5 713.9h1.1v1.1h-1.1zM242.5 691.7h1.1v1.1h-1.1zM241.9 699.4h1.1v1.1h-1.1zM247.7 698.2h1.1v1.1h-1.1zM243.9 697.5h1.1v1.1h-1.1zM249.6 716.1h1.1v1.1h-1.1zM239.9 704.9h1.1v1.1h-1.1zM236.8 711.2h1.1v1.1h-1.1zM241.4 699.6h1.1v1.1h-1.1zM252.1 713.2h1.1v1.1h-1.1zM242.6 701.5h1.1v1.1h-1.1zM242.0 720.2h1.1v1.1h-1.1zM239.3 707.0h1.1v1.1h-1.1zM243.0 689.0h1.1v1.1h-1.1zM242.9 711.5h1.1v1.1h-1.1zM246.6 716.3h1.1v1.1h-1.1zM242.6 692.3h1.1v1.1h-1.1zM248.4 700.3h1.1v1.1h-1.1zM241.6 701.6h1.1v1.1h-1.1zM242.7 718.4h1.1v1.1h-1.1zM248.4 720.3h1.1v1.1h-1.1zM244.5 715.2h1.1v1.1h-1.1zM247.1 705.3h1.1v1.1h-1.1zM242.1 697.5h1.1v1.1h-1.1zM241.3 710.3h1.1v1.1h-1.1zM240.6 713.0h1.1v1.1h-1.1zM238.6 715.9h1.1v1.1h-1.1zM243.0 717.3h1.1v1.1h-1.1zM233.8 713.6h1.1v1.1h-1.1zM242.6 697.2h1.1v1.1h-1.1zM246.4 715.8h1.1v1.1h-1.1zM247.0 699.9h1.1v1.1h-1.1zM244.4 707.0h1.1v1.1h-1.1zM236.3 716.1h1.1v1.1h-1.1zM241.4 699.9h1.1v1.1h-1.1zM243.7 711.0h1.1v1.1h-1.1zM248.3 708.8h1.1v1.1h-1.1zM244.7 714.3h1.1v1.1h-1.1zM245.2 710.8h1.1v1.1h-1.1zM242.3 696.1h1.1v1.1h-1.1zM241.5 685.8h1.1v1.1h-1.1zM243.6 707.1h1.1v1.1h-1.1zM243.9 701.0h1.1v1.1h-1.1zM241.9 718.6h1.1v1.1h-1.1zM237.1 710.7h1.1v1.1h-1.1zM242.1 700.0h1.1v1.1h-1.1zM243.2 695.8h1.1v1.1h-1.1zM244.4 702.9h1.1v1.1h-1.1zM240.5 712.0h1.1v1.1h-1.1zM243.0 711.2h1.1v1.1h-1.1zM244.1 692.4h1.1v1.1h-1.1zM241.8 700.7h1.1v1.1h-1.1zM241.6 696.5h1.1v1.1h-1.1zM236.2 716.0h1.1v1.1h-1.1z" fill="#6e78c8"/>
<path d="M242.2 700.9h1.2v1.2h-1.2zM244.5 706.6h1.2v1.2h-1.2zM246.8 720.1h1.2v1.2h-1.2zM244.3 717.2h1.2v1.2h-1.2zM245.5 720.3h1.2v1.2h-1.2zM245.9 716.9h1.2v1.2h-1.2zM243.7 699.6h1.2v1.2h-1.2zM247.4 704.3h1.2v1.2h-1.2zM242.8 710.8h1.2v1.2h-1.2zM245.2 701.7h1.2v1.2h-1.2zM246.1 699.3h1.2v1.2h-1.2zM243.4 716.8h1.2v1.2h-1.2zM243.4 707.0h1.2v1.2h-1.2zM246.1 707.3h1.2v1.2h-1.2zM245.6 712.2h1.2v1.2h-1.2zM242.6 709.6h1.2v1.2h-1.2zM242.8 720.3h1.2v1.2h-1.2zM243.1 711.0h1.2v1.2h-1.2zM245.8 715.5h1.2v1.2h-1.2zM244.4 716.2h1.2v1.2h-1.2zM238.5 718.7h1.2v1.2h-1.2zM240.8 712.2h1.2v1.2h-1.2zM244.8 710.8h1.2v1.2h-1.2zM241.2 717.5h1.2v1.2h-1.2zM242.8 706.6h1.2v1.2h-1.2zM244.8 713.8h1.2v1.2h-1.2zM243.9 705.0h1.2v1.2h-1.2zM245.1 712.3h1.2v1.2h-1.2zM236.9 708.9h1.2v1.2h-1.2zM246.3 715.9h1.2v1.2h-1.2zM244.3 718.6h1.2v1.2h-1.2zM245.1 701.5h1.2v1.2h-1.2zM242.1 716.1h1.2v1.2h-1.2zM244.4 698.0h1.2v1.2h-1.2zM243.3 705.6h1.2v1.2h-1.2zM246.4 719.5h1.2v1.2h-1.2zM243.2 716.5h1.2v1.2h-1.2zM245.3 704.7h1.2v1.2h-1.2zM240.3 719.7h1.2v1.2h-1.2zM247.1 716.6h1.2v1.2h-1.2zM246.0 719.3h1.2v1.2h-1.2zM243.8 710.6h1.2v1.2h-1.2zM244.6 702.0h1.2v1.2h-1.2zM241.8 717.3h1.2v1.2h-1.2zM245.9 713.2h1.2v1.2h-1.2zM244.2 707.2h1.2v1.2h-1.2zM244.7 699.8h1.2v1.2h-1.2zM245.2 699.1h1.2v1.2h-1.2zM241.0 709.0h1.2v1.2h-1.2zM244.6 704.1h1.2v1.2h-1.2zM243.2 716.4h1.2v1.2h-1.2zM247.8 715.7h1.2v1.2h-1.2zM243.9 704.5h1.2v1.2h-1.2zM245.6 716.5h1.2v1.2h-1.2zM239.9 711.1h1.2v1.2h-1.2zM246.2 706.9h1.2v1.2h-1.2zM242.6 708.6h1.2v1.2h-1.2zM244.4 699.7h1.2v1.2h-1.2zM242.2 698.6h1.2v1.2h-1.2zM240.8 717.9h1.2v1.2h-1.2zM242.2 720.2h1.2v1.2h-1.2zM247.7 719.4h1.2v1.2h-1.2zM242.4 706.6h1.2v1.2h-1.2zM239.4 719.9h1.2v1.2h-1.2zM243.9 718.7h1.2v1.2h-1.2zM246.0 702.3h1.2v1.2h-1.2zM242.8 711.5h1.2v1.2h-1.2zM244.0 710.6h1.2v1.2h-1.2zM241.7 709.4h1.2v1.2h-1.2zM243.5 704.9h1.2v1.2h-1.2zM242.1 711.0h1.2v1.2h-1.2zM243.7 715.7h1.2v1.2h-1.2zM245.1 707.2h1.2v1.2h-1.2zM244.7 711.4h1.2v1.2h-1.2zM240.9 704.6h1.2v1.2h-1.2zM241.5 713.8h1.2v1.2h-1.2zM246.2 716.3h1.2v1.2h-1.2zM243.8 710.2h1.2v1.2h-1.2zM243.0 701.0h1.2v1.2h-1.2zM244.0 712.8h1.2v1.2h-1.2zM241.3 714.4h1.2v1.2h-1.2zM243.9 707.6h1.2v1.2h-1.2zM241.7 698.5h1.2v1.2h-1.2zM247.9 714.1h1.2v1.2h-1.2zM242.8 707.8h1.2v1.2h-1.2zM242.1 712.3h1.2v1.2h-1.2zM245.9 714.9h1.2v1.2h-1.2zM242.8 714.2h1.2v1.2h-1.2zM244.1 719.7h1.2v1.2h-1.2zM239.9 715.0h1.2v1.2h-1.2zM241.9 711.2h1.2v1.2h-1.2zM244.7 718.2h1.2v1.2h-1.2zM238.8 718.9h1.2v1.2h-1.2zM245.8 699.6h1.2v1.2h-1.2zM241.9 704.1h1.2v1.2h-1.2zM243.4 710.1h1.2v1.2h-1.2zM244.6 720.2h1.2v1.2h-1.2zM244.6 706.9h1.2v1.2h-1.2zM243.5 715.9h1.2v1.2h-1.2zM243.6 713.7h1.2v1.2h-1.2zM243.7 710.8h1.2v1.2h-1.2zM246.6 715.5h1.2v1.2h-1.2zM241.2 713.7h1.2v1.2h-1.2zM240.9 718.2h1.2v1.2h-1.2zM242.1 720.1h1.2v1.2h-1.2zM245.8 719.0h1.2v1.2h-1.2zM242.8 709.1h1.2v1.2h-1.2zM239.4 716.0h1.2v1.2h-1.2zM244.3 720.0h1.2v1.2h-1.2zM242.1 715.0h1.2v1.2h-1.2zM241.3 712.7h1.2v1.2h-1.2zM242.7 708.4h1.2v1.2h-1.2zM241.5 717.0h1.2v1.2h-1.2zM243.2 707.5h1.2v1.2h-1.2zM244.7 709.3h1.2v1.2h-1.2zM245.5 703.7h1.2v1.2h-1.2zM244.2 701.0h1.2v1.2h-1.2zM244.0 716.3h1.2v1.2h-1.2zM240.5 703.2h1.2v1.2h-1.2zM244.8 712.5h1.2v1.2h-1.2zM246.1 705.0h1.2v1.2h-1.2zM241.1 700.5h1.2v1.2h-1.2zM239.7 707.6h1.2v1.2h-1.2zM243.3 710.8h1.2v1.2h-1.2zM243.5 716.5h1.2v1.2h-1.2zM247.0 709.4h1.2v1.2h-1.2zM243.8 709.5h1.2v1.2h-1.2zM238.0 718.2h1.2v1.2h-1.2zM240.0 714.1h1.2v1.2h-1.2zM245.5 715.0h1.2v1.2h-1.2z" fill="#3c58a0"/>
<path d="M244.7 712.8h1.3v1.3h-1.3zM244.2 719.6h1.3v1.3h-1.3zM241.6 715.6h1.3v1.3h-1.3zM242.7 718.0h1.3v1.3h-1.3zM237.4 713.8h1.3v1.3h-1.3zM243.8 717.2h1.3v1.3h-1.3zM241.5 714.6h1.3v1.3h-1.3zM240.8 715.3h1.3v1.3h-1.3zM249.3 713.8h1.3v1.3h-1.3zM246.3 718.9h1.3v1.3h-1.3zM243.0 718.1h1.3v1.3h-1.3zM241.6 722.2h1.3v1.3h-1.3zM243.8 717.4h1.3v1.3h-1.3zM242.2 718.1h1.3v1.3h-1.3zM239.7 716.6h1.3v1.3h-1.3zM241.0 719.3h1.3v1.3h-1.3zM244.0 712.1h1.3v1.3h-1.3zM242.0 720.4h1.3v1.3h-1.3zM239.4 714.1h1.3v1.3h-1.3zM245.0 717.1h1.3v1.3h-1.3zM241.4 714.0h1.3v1.3h-1.3zM242.9 715.9h1.3v1.3h-1.3zM243.0 718.8h1.3v1.3h-1.3zM244.2 716.6h1.3v1.3h-1.3zM241.2 717.6h1.3v1.3h-1.3zM242.3 718.0h1.3v1.3h-1.3zM241.2 716.8h1.3v1.3h-1.3zM241.1 715.8h1.3v1.3h-1.3zM242.9 720.9h1.3v1.3h-1.3zM241.2 719.2h1.3v1.3h-1.3zM243.4 717.8h1.3v1.3h-1.3zM244.2 715.9h1.3v1.3h-1.3zM243.9 718.4h1.3v1.3h-1.3zM234.0 718.6h1.3v1.3h-1.3zM244.0 723.3h1.3v1.3h-1.3zM239.9 717.8h1.3v1.3h-1.3zM243.4 714.7h1.3v1.3h-1.3zM245.5 718.8h1.3v1.3h-1.3zM240.6 714.0h1.3v1.3h-1.3zM241.5 724.5h1.3v1.3h-1.3zM247.8 710.3h1.3v1.3h-1.3zM238.1 719.5h1.3v1.3h-1.3zM242.3 715.7h1.3v1.3h-1.3zM244.0 717.8h1.3v1.3h-1.3zM243.2 718.3h1.3v1.3h-1.3zM239.9 721.4h1.3v1.3h-1.3zM241.4 720.9h1.3v1.3h-1.3zM244.2 717.6h1.3v1.3h-1.3zM242.9 717.4h1.3v1.3h-1.3zM238.0 716.6h1.3v1.3h-1.3zM243.6 712.8h1.3v1.3h-1.3zM238.9 720.7h1.3v1.3h-1.3zM244.5 713.0h1.3v1.3h-1.3zM243.6 717.4h1.3v1.3h-1.3zM244.9 716.6h1.3v1.3h-1.3zM242.0 715.3h1.3v1.3h-1.3zM243.0 717.1h1.3v1.3h-1.3zM240.9 716.5h1.3v1.3h-1.3zM240.7 719.4h1.3v1.3h-1.3zM240.0 712.9h1.3v1.3h-1.3zM238.9 726.2h1.3v1.3h-1.3zM241.0 726.7h1.3v1.3h-1.3zM246.7 728.2h1.3v1.3h-1.3zM245.7 729.7h1.3v1.3h-1.3zM244.1 725.9h1.3v1.3h-1.3zM244.6 725.0h1.3v1.3h-1.3zM243.1 725.5h1.3v1.3h-1.3zM244.8 728.6h1.3v1.3h-1.3zM240.3 726.6h1.3v1.3h-1.3zM247.8 730.1h1.3v1.3h-1.3zM240.3 725.9h1.3v1.3h-1.3zM235.2 720.0h1.3v1.3h-1.3zM243.6 731.4h1.3v1.3h-1.3zM239.3 727.4h1.3v1.3h-1.3zM250.1 735.7h1.3v1.3h-1.3zM233.8 722.6h1.3v1.3h-1.3zM243.2 729.0h1.3v1.3h-1.3zM243.5 725.7h1.3v1.3h-1.3zM241.2 728.6h1.3v1.3h-1.3zM246.9 728.7h1.3v1.3h-1.3zM244.0 729.3h1.3v1.3h-1.3zM245.6 728.4h1.3v1.3h-1.3zM241.9 724.3h1.3v1.3h-1.3zM242.5 725.1h1.3v1.3h-1.3zM239.2 720.9h1.3v1.3h-1.3zM247.9 727.6h1.3v1.3h-1.3zM238.8 723.6h1.3v1.3h-1.3zM247.5 732.6h1.3v1.3h-1.3zM243.1 724.4h1.3v1.3h-1.3zM242.5 724.3h1.3v1.3h-1.3zM241.0 726.3h1.3v1.3h-1.3zM240.4 723.1h1.3v1.3h-1.3zM242.6 726.3h1.3v1.3h-1.3zM241.5 723.9h1.3v1.3h-1.3zM240.1 723.0h1.3v1.3h-1.3zM245.7 728.0h1.3v1.3h-1.3zM231.5 719.9h1.3v1.3h-1.3zM244.2 725.6h1.3v1.3h-1.3zM245.7 721.9h1.3v1.3h-1.3zM236.2 724.5h1.3v1.3h-1.3zM249.1 735.7h1.3v1.3h-1.3zM240.8 725.2h1.3v1.3h-1.3zM247.6 727.2h1.3v1.3h-1.3zM250.6 730.4h1.3v1.3h-1.3zM246.0 726.2h1.3v1.3h-1.3zM244.9 727.9h1.3v1.3h-1.3zM248.7 728.1h1.3v1.3h-1.3zM241.6 729.7h1.3v1.3h-1.3zM238.8 724.5h1.3v1.3h-1.3zM245.6 727.4h1.3v1.3h-1.3zM241.1 728.4h1.3v1.3h-1.3zM247.1 730.8h1.3v1.3h-1.3zM245.7 726.0h1.3v1.3h-1.3zM242.0 729.9h1.3v1.3h-1.3zM248.8 727.7h1.3v1.3h-1.3zM236.6 720.7h1.3v1.3h-1.3zM244.7 726.6h1.3v1.3h-1.3zM242.0 726.7h1.3v1.3h-1.3zM246.6 729.6h1.3v1.3h-1.3zM249.6 728.1h1.3v1.3h-1.3zM244.8 728.8h1.3v1.3h-1.3zM236.7 725.0h1.3v1.3h-1.3zM239.1 720.7h1.3v1.3h-1.3zM252.0 735.8h1.3v1.3h-1.3zM243.5 730.0h1.3v1.3h-1.3zM248.9 728.3h1.3v1.3h-1.3zM243.8 730.3h1.3v1.3h-1.3zM242.8 726.7h1.3v1.3h-1.3zM241.0 726.9h1.3v1.3h-1.3zM242.1 724.7h1.3v1.3h-1.3zM239.9 722.5h1.3v1.3h-1.3zM243.8 728.3h1.3v1.3h-1.3zM243.2 724.4h1.3v1.3h-1.3zM244.4 728.4h1.3v1.3h-1.3zM248.7 729.6h1.3v1.3h-1.3zM241.4 726.7h1.3v1.3h-1.3zM249.2 730.9h1.3v1.3h-1.3zM244.2 725.4h1.3v1.3h-1.3zM241.1 727.4h1.3v1.3h-1.3zM245.5 730.9h1.3v1.3h-1.3zM236.6 724.0h1.3v1.3h-1.3zM239.5 725.5h1.3v1.3h-1.3zM234.8 720.7h1.3v1.3h-1.3zM238.9 726.6h1.3v1.3h-1.3zM242.6 729.3h1.3v1.3h-1.3zM239.8 728.8h1.3v1.3h-1.3zM239.9 728.7h1.3v1.3h-1.3zM242.7 724.3h1.3v1.3h-1.3zM247.3 728.7h1.3v1.3h-1.3zM244.7 724.9h1.3v1.3h-1.3zM242.1 726.3h1.3v1.3h-1.3zM240.5 725.8h1.3v1.3h-1.3zM234.0 722.4h1.3v1.3h-1.3zM240.5 728.1h1.3v1.3h-1.3zM242.9 725.1h1.3v1.3h-1.3zM241.5 726.2h1.3v1.3h-1.3zM246.2 727.9h1.3v1.3h-1.3zM240.1 725.6h1.3v1.3h-1.3zM248.4 726.6h1.3v1.3h-1.3zM240.3 723.3h1.3v1.3h-1.3z" fill="#3a9cb0"/>
<path d="M246.7 730.9h1.4v1.4h-1.4zM245.1 728.5h1.4v1.4h-1.4zM239.8 725.9h1.4v1.4h-1.4zM243.0 724.8h1.4v1.4h-1.4zM249.5 728.2h1.4v1.4h-1.4zM246.8 729.1h1.4v1.4h-1.4zM241.1 725.1h1.4v1.4h-1.4zM241.3 725.3h1.4v1.4h-1.4zM242.9 724.0h1.4v1.4h-1.4zM250.5 730.5h1.4v1.4h-1.4zM246.0 728.2h1.4v1.4h-1.4zM246.2 726.2h1.4v1.4h-1.4zM243.6 720.9h1.4v1.4h-1.4zM245.6 728.8h1.4v1.4h-1.4zM239.9 725.4h1.4v1.4h-1.4zM242.6 730.9h1.4v1.4h-1.4zM243.3 728.0h1.4v1.4h-1.4zM244.4 728.5h1.4v1.4h-1.4zM243.8 726.0h1.4v1.4h-1.4zM244.3 729.2h1.4v1.4h-1.4zM241.5 723.2h1.4v1.4h-1.4zM241.9 728.5h1.4v1.4h-1.4zM244.4 724.2h1.4v1.4h-1.4zM244.9 728.8h1.4v1.4h-1.4zM248.2 730.1h1.4v1.4h-1.4zM249.0 729.1h1.4v1.4h-1.4zM245.6 728.2h1.4v1.4h-1.4zM240.8 724.1h1.4v1.4h-1.4zM245.9 730.1h1.4v1.4h-1.4zM241.7 727.1h1.4v1.4h-1.4zM245.0 729.1h1.4v1.4h-1.4zM244.0 727.4h1.4v1.4h-1.4zM241.5 725.0h1.4v1.4h-1.4zM244.4 725.9h1.4v1.4h-1.4zM242.7 726.2h1.4v1.4h-1.4zM243.2 728.1h1.4v1.4h-1.4zM241.3 724.3h1.4v1.4h-1.4zM244.5 726.5h1.4v1.4h-1.4zM244.7 726.5h1.4v1.4h-1.4zM246.6 728.3h1.4v1.4h-1.4zM240.1 725.4h1.4v1.4h-1.4zM249.2 727.2h1.4v1.4h-1.4zM243.1 726.4h1.4v1.4h-1.4zM244.9 730.0h1.4v1.4h-1.4zM244.4 724.4h1.4v1.4h-1.4zM244.4 728.8h1.4v1.4h-1.4zM244.6 727.4h1.4v1.4h-1.4zM239.5 727.9h1.4v1.4h-1.4zM241.8 722.7h1.4v1.4h-1.4zM245.7 728.6h1.4v1.4h-1.4zM244.9 728.1h1.4v1.4h-1.4zM246.5 731.1h1.4v1.4h-1.4zM241.3 726.7h1.4v1.4h-1.4zM242.0 722.5h1.4v1.4h-1.4zM246.8 728.1h1.4v1.4h-1.4zM238.2 722.8h1.4v1.4h-1.4zM241.4 726.0h1.4v1.4h-1.4zM244.0 725.5h1.4v1.4h-1.4zM241.1 726.2h1.4v1.4h-1.4zM241.1 725.1h1.4v1.4h-1.4zM240.7 725.3h1.4v1.4h-1.4zM247.5 730.3h1.4v1.4h-1.4zM245.9 729.0h1.4v1.4h-1.4zM241.4 724.5h1.4v1.4h-1.4zM243.3 727.2h1.4v1.4h-1.4zM241.5 726.2h1.4v1.4h-1.4zM241.7 725.3h1.4v1.4h-1.4zM244.4 725.2h1.4v1.4h-1.4zM246.0 728.3h1.4v1.4h-1.4zM243.8 726.7h1.4v1.4h-1.4zM239.4 721.2h1.4v1.4h-1.4zM240.5 726.1h1.4v1.4h-1.4zM241.6 726.2h1.4v1.4h-1.4zM241.6 723.8h1.4v1.4h-1.4zM241.5 726.9h1.4v1.4h-1.4zM239.5 723.4h1.4v1.4h-1.4zM244.4 727.4h1.4v1.4h-1.4zM242.8 727.4h1.4v1.4h-1.4zM245.0 725.9h1.4v1.4h-1.4zM245.7 726.7h1.4v1.4h-1.4z" fill="#52b03c"/>
<path d="M242.3 727.3h1.4v1.4h-1.4zM246.0 729.9h1.4v1.4h-1.4zM244.5 726.3h1.4v1.4h-1.4zM241.6 727.0h1.4v1.4h-1.4zM244.7 725.8h1.4v1.4h-1.4zM245.3 728.4h1.4v1.4h-1.4zM245.0 728.0h1.4v1.4h-1.4zM241.0 724.0h1.4v1.4h-1.4zM243.4 726.3h1.4v1.4h-1.4zM245.9 727.4h1.4v1.4h-1.4zM243.4 726.4h1.4v1.4h-1.4zM243.9 725.7h1.4v1.4h-1.4zM243.2 723.5h1.4v1.4h-1.4zM244.0 726.7h1.4v1.4h-1.4zM244.3 725.9h1.4v1.4h-1.4zM244.0 725.8h1.4v1.4h-1.4zM242.0 725.8h1.4v1.4h-1.4zM244.0 727.5h1.4v1.4h-1.4zM243.6 726.2h1.4v1.4h-1.4zM244.7 728.7h1.4v1.4h-1.4zM243.2 725.1h1.4v1.4h-1.4zM243.8 727.1h1.4v1.4h-1.4zM241.1 727.4h1.4v1.4h-1.4zM241.2 724.0h1.4v1.4h-1.4zM243.3 727.5h1.4v1.4h-1.4zM241.3 724.5h1.4v1.4h-1.4zM244.7 728.9h1.4v1.4h-1.4zM243.2 726.3h1.4v1.4h-1.4zM242.1 726.0h1.4v1.4h-1.4zM243.2 724.0h1.4v1.4h-1.4zM241.5 725.1h1.4v1.4h-1.4zM241.2 726.1h1.4v1.4h-1.4zM244.7 728.4h1.4v1.4h-1.4zM243.8 728.0h1.4v1.4h-1.4zM243.4 727.4h1.4v1.4h-1.4zM243.7 727.5h1.4v1.4h-1.4zM242.5 725.1h1.4v1.4h-1.4zM241.8 726.2h1.4v1.4h-1.4zM244.6 726.4h1.4v1.4h-1.4zM242.5 725.2h1.4v1.4h-1.4z" fill="#d8d030"/>
</g>
<rect x="187.50" y="662.50" width="84.5" height="84.0" fill="none" stroke="#777" stroke-width="0.8"/>
<line x1="214.50" y1="662.50" x2="214.50" y2="746.50" stroke="#333" stroke-width="0.9"/>
<line x1="187.50" y1="720.50" x2="272.00" y2="720.50" stroke="#333" stroke-width="0.9"/>
<line x1="185.00" y1="670.50" x2="187.50" y2="670.50" stroke="#444" stroke-width="0.8"/>
<line x1="185.00" y1="691.10" x2="187.50" y2="691.10" stroke="#444" stroke-width="0.8"/>
<line x1="185.00" y1="713.50" x2="187.50" y2="713.50" stroke="#444" stroke-width="0.8"/>
<line x1="185.00" y1="727.20" x2="187.50" y2="727.20" stroke="#444" stroke-width="0.8"/>
<line x1="185.00" y1="740.90" x2="187.50" y2="740.90" stroke="#444" stroke-width="0.8"/>
<line x1="186.20" y1="684.90" x2="187.50" y2="684.90" stroke="#777" stroke-width="0.5"/>
<line x1="186.20" y1="681.27" x2="187.50" y2="681.27" stroke="#777" stroke-width="0.5"/>
<line x1="186.20" y1="678.70" x2="187.50" y2="678.70" stroke="#777" stroke-width="0.5"/>
<line x1="186.20" y1="676.70" x2="187.50" y2="676.70" stroke="#777" stroke-width="0.5"/>
<line x1="186.20" y1="675.07" x2="187.50" y2="675.07" stroke="#777" stroke-width="0.5"/>
<line x1="186.20" y1="673.69" x2="187.50" y2="673.69" stroke="#777" stroke-width="0.5"/>
<line x1="186.20" y1="672.50" x2="187.50" y2="672.50" stroke="#777" stroke-width="0.5"/>
<line x1="186.20" y1="671.44" x2="187.50" y2="671.44" stroke="#777" stroke-width="0.5"/>
<line x1="186.20" y1="706.76" x2="187.50" y2="706.76" stroke="#777" stroke-width="0.5"/>
<line x1="186.20" y1="702.81" x2="187.50" y2="702.81" stroke="#777" stroke-width="0.5"/>
<line x1="186.20" y1="700.01" x2="187.50" y2="700.01" stroke="#777" stroke-width="0.5"/>
<line x1="186.20" y1="697.84" x2="187.50" y2="697.84" stroke="#777" stroke-width="0.5"/>
<line x1="186.20" y1="696.07" x2="187.50" y2="696.07" stroke="#777" stroke-width="0.5"/>
<line x1="186.20" y1="694.57" x2="187.50" y2="694.57" stroke="#777" stroke-width="0.5"/>
<line x1="186.20" y1="693.27" x2="187.50" y2="693.27" stroke="#777" stroke-width="0.5"/>
<line x1="186.20" y1="692.12" x2="187.50" y2="692.12" stroke="#777" stroke-width="0.5"/>
<line x1="192.50" y1="746.50" x2="192.50" y2="749.00" stroke="#444" stroke-width="0.8"/>
<line x1="207.00" y1="746.50" x2="207.00" y2="749.00" stroke="#444" stroke-width="0.8"/>
<line x1="220.50" y1="746.50" x2="220.50" y2="749.00" stroke="#444" stroke-width="0.8"/>
<line x1="244.30" y1="746.50" x2="244.30" y2="749.00" stroke="#444" stroke-width="0.8"/>
<line x1="265.50" y1="746.50" x2="265.50" y2="749.00" stroke="#444" stroke-width="0.8"/>
<line x1="227.66" y1="746.50" x2="227.66" y2="747.80" stroke="#777" stroke-width="0.5"/>
<line x1="231.86" y1="746.50" x2="231.86" y2="747.80" stroke="#777" stroke-width="0.5"/>
<line x1="234.83" y1="746.50" x2="234.83" y2="747.80" stroke="#777" stroke-width="0.5"/>
<line x1="237.14" y1="746.50" x2="237.14" y2="747.80" stroke="#777" stroke-width="0.5"/>
<line x1="239.02" y1="746.50" x2="239.02" y2="747.80" stroke="#777" stroke-width="0.5"/>
<line x1="240.61" y1="746.50" x2="240.61" y2="747.80" stroke="#777" stroke-width="0.5"/>
<line x1="241.99" y1="746.50" x2="241.99" y2="747.80" stroke="#777" stroke-width="0.5"/>
<line x1="243.21" y1="746.50" x2="243.21" y2="747.80" stroke="#777" stroke-width="0.5"/>
<line x1="250.68" y1="746.50" x2="250.68" y2="747.80" stroke="#777" stroke-width="0.5"/>
<line x1="254.41" y1="746.50" x2="254.41" y2="747.80" stroke="#777" stroke-width="0.5"/>
<line x1="257.06" y1="746.50" x2="257.06" y2="747.80" stroke="#777" stroke-width="0.5"/>
<line x1="259.12" y1="746.50" x2="259.12" y2="747.80" stroke="#777" stroke-width="0.5"/>
<line x1="260.80" y1="746.50" x2="260.80" y2="747.80" stroke="#777" stroke-width="0.5"/>
<line x1="262.22" y1="746.50" x2="262.22" y2="747.80" stroke="#777" stroke-width="0.5"/>
<line x1="263.45" y1="746.50" x2="263.45" y2="747.80" stroke="#777" stroke-width="0.5"/>
<line x1="264.53" y1="746.50" x2="264.53" y2="747.80" stroke="#777" stroke-width="0.5"/>
<text x="170.55" y="673.00" font-size="7.2" fill="#111">10<tspan font-size="5.30" dy="-3.5">5</tspan></text>
<text x="170.55" y="693.60" font-size="7.2" fill="#111">10<tspan font-size="5.30" dy="-3.5">4</tspan></text>
<text x="170.55" y="716.00" font-size="7.2" fill="#111">10<tspan font-size="5.30" dy="-3.5">3</tspan></text>
<text x="181.50" y="729.70" font-size="7.2" text-anchor="end" font-weight="normal" fill="#111" >0</text>
<text x="166.34" y="743.40" font-size="7.2" fill="#111">−10<tspan font-size="5.30" dy="-3.5">3</tspan></text>
<text x="184.92" y="758.70" font-size="7.2" fill="#111">−10<tspan font-size="5.30" dy="-3.5">3</tspan></text>
<text x="207.00" y="758.70" font-size="7.2" text-anchor="middle" font-weight="normal" fill="#111" >0</text>
<text x="215.02" y="758.70" font-size="7.2" fill="#111">10<tspan font-size="5.30" dy="-3.5">3</tspan></text>
<text x="238.82" y="758.70" font-size="7.2" fill="#111">10<tspan font-size="5.30" dy="-3.5">4</tspan></text>
<text x="260.02" y="758.70" font-size="7.2" fill="#111">10<tspan font-size="5.30" dy="-3.5">5</tspan></text>
<rect x="185.90" y="725.70" width="2" height="3" fill="#111"/>
<rect x="205.00" y="745.90" width="4" height="1.8" fill="#111"/>
<text x="189.00" y="669.50" font-size="6.4" text-anchor="start" font-weight="bold" fill="#222" >0</text>
<text x="189.20" y="741.50" font-size="6.4" text-anchor="start" font-weight="bold" fill="#222" >0</text>
<text x="270.20" y="669.40" font-size="5.7" text-anchor="end" font-weight="bold" fill="#000" >55.5 %</text>
<text x="268.10" y="742.10" font-size="5.7" text-anchor="end" font-weight="bold" fill="#000" >45.5 %</text>
<text x="189.20" y="657.70" font-size="7.3" text-anchor="start" font-weight="normal" fill="#111" >+ SFLLRN</text>
<g filter="url(#bl)">
<path d="M340.4 671.1h1.0v1.0h-1.0zM349.8 669.3h1.0v1.0h-1.0zM359.7 670.7h1.0v1.0h-1.0zM349.8 675.0h1.0v1.0h-1.0zM348.0 667.3h1.0v1.0h-1.0zM341.0 669.2h1.0v1.0h-1.0zM357.3 672.6h1.0v1.0h-1.0zM361.1 675.1h1.0v1.0h-1.0zM365.8 672.2h1.0v1.0h-1.0zM362.9 672.2h1.0v1.0h-1.0zM347.8 672.7h1.0v1.0h-1.0zM352.9 670.1h1.0v1.0h-1.0zM368.5 672.6h1.0v1.0h-1.0zM348.5 670.4h1.0v1.0h-1.0zM371.3 670.0h1.0v1.0h-1.0zM358.4 672.2h1.0v1.0h-1.0zM356.6 672.1h1.0v1.0h-1.0zM348.5 669.5h1.0v1.0h-1.0zM351.1 669.7h1.0v1.0h-1.0zM359.0 674.5h1.0v1.0h-1.0zM345.2 672.0h1.0v1.0h-1.0zM344.5 668.9h1.0v1.0h-1.0zM350.5 670.9h1.0v1.0h-1.0zM348.9 664.0h1.0v1.0h-1.0zM363.7 670.0h1.0v1.0h-1.0zM347.3 672.4h1.0v1.0h-1.0zM347.6 667.0h1.0v1.0h-1.0zM356.4 671.7h1.0v1.0h-1.0zM345.7 672.8h1.0v1.0h-1.0zM355.5 667.8h1.0v1.0h-1.0zM366.6 671.3h1.0v1.0h-1.0zM343.2 671.8h1.0v1.0h-1.0zM353.5 673.1h1.0v1.0h-1.0zM341.5 673.3h1.0v1.0h-1.0zM360.1 672.4h1.0v1.0h-1.0zM357.4 674.0h1.0v1.0h-1.0zM358.3 671.0h1.0v1.0h-1.0zM345.6 673.5h1.0v1.0h-1.0zM360.4 671.4h1.0v1.0h-1.0zM353.7 672.5h1.0v1.0h-1.0zM332.0 671.4h1.0v1.0h-1.0zM332.2 671.2h1.0v1.0h-1.0zM361.0 675.4h1.0v1.0h-1.0zM348.6 671.7h1.0v1.0h-1.0zM351.8 665.0h1.0v1.0h-1.0zM358.3 670.6h1.0v1.0h-1.0zM352.9 668.2h1.0v1.0h-1.0zM352.1 670.8h1.0v1.0h-1.0zM362.8 671.4h1.0v1.0h-1.0zM380.7 669.6h1.0v1.0h-1.0zM350.2 670.5h1.0v1.0h-1.0zM345.8 674.5h1.0v1.0h-1.0zM357.6 667.4h1.0v1.0h-1.0zM353.3 673.5h1.0v1.0h-1.0zM340.9 671.0h1.0v1.0h-1.0zM350.5 676.5h1.0v1.0h-1.0zM355.7 669.6h1.0v1.0h-1.0zM347.8 675.4h1.0v1.0h-1.0zM348.6 676.4h1.0v1.0h-1.0zM339.7 670.1h1.0v1.0h-1.0zM350.4 668.8h1.0v1.0h-1.0zM350.7 672.4h1.0v1.0h-1.0zM347.0 667.0h1.0v1.0h-1.0zM363.3 674.3h1.0v1.0h-1.0zM346.8 671.4h1.0v1.0h-1.0zM331.5 673.3h1.0v1.0h-1.0zM341.6 669.2h1.0v1.0h-1.0zM369.9 667.4h1.0v1.0h-1.0zM352.5 667.9h1.0v1.0h-1.0zM337.4 667.7h1.0v1.0h-1.0zM354.6 667.3h1.0v1.0h-1.0zM347.6 672.5h1.0v1.0h-1.0zM351.1 667.3h1.0v1.0h-1.0zM364.5 670.9h1.0v1.0h-1.0zM363.8 668.0h1.0v1.0h-1.0zM366.1 667.2h1.0v1.0h-1.0zM338.2 669.5h1.0v1.0h-1.0zM349.4 671.3h1.0v1.0h-1.0zM347.8 672.2h1.0v1.0h-1.0zM363.2 669.0h1.0v1.0h-1.0zM364.5 697.4h1.0v1.0h-1.0zM359.5 693.9h1.0v1.0h-1.0zM366.4 688.3h1.0v1.0h-1.0zM360.9 688.8h1.0v1.0h-1.0zM361.9 699.9h1.0v1.0h-1.0zM359.7 676.1h1.0v1.0h-1.0zM361.7 700.3h1.0v1.0h-1.0zM367.1 698.9h1.0v1.0h-1.0zM369.2 687.1h1.0v1.0h-1.0zM358.4 692.0h1.0v1.0h-1.0zM363.3 679.7h1.0v1.0h-1.0zM366.0 686.2h1.0v1.0h-1.0zM360.9 685.6h1.0v1.0h-1.0zM369.3 672.8h1.0v1.0h-1.0zM362.3 683.7h1.0v1.0h-1.0zM360.4 689.8h1.0v1.0h-1.0zM360.6 709.3h1.0v1.0h-1.0zM364.0 700.4h1.0v1.0h-1.0zM359.9 691.1h1.0v1.0h-1.0zM365.3 706.2h1.0v1.0h-1.0zM361.0 690.9h1.0v1.0h-1.0zM368.3 705.8h1.0v1.0h-1.0zM360.7 694.0h1.0v1.0h-1.0zM367.1 688.3h1.0v1.0h-1.0zM366.1 699.0h1.0v1.0h-1.0zM369.7 694.7h1.0v1.0h-1.0zM366.2 686.5h1.0v1.0h-1.0zM366.8 685.4h1.0v1.0h-1.0zM364.0 686.9h1.0v1.0h-1.0zM361.7 677.9h1.0v1.0h-1.0zM360.7 694.3h1.0v1.0h-1.0zM361.0 674.3h1.0v1.0h-1.0zM367.6 683.9h1.0v1.0h-1.0zM369.2 696.5h1.0v1.0h-1.0zM362.7 707.4h1.0v1.0h-1.0zM368.8 685.3h1.0v1.0h-1.0zM359.5 698.1h1.0v1.0h-1.0zM368.1 696.8h1.0v1.0h-1.0zM367.4 689.0h1.0v1.0h-1.0zM365.4 683.0h1.0v1.0h-1.0zM362.9 687.7h1.0v1.0h-1.0zM362.6 688.5h1.0v1.0h-1.0zM367.7 679.3h1.0v1.0h-1.0zM360.5 682.7h1.0v1.0h-1.0zM369.7 693.4h1.0v1.0h-1.0zM358.6 705.9h1.0v1.0h-1.0zM368.5 705.3h1.0v1.0h-1.0zM362.3 701.9h1.0v1.0h-1.0zM361.7 678.0h1.0v1.0h-1.0zM368.4 705.8h1.0v1.0h-1.0zM360.5 707.7h1.0v1.0h-1.0zM358.3 684.8h1.0v1.0h-1.0zM358.2 679.3h1.0v1.0h-1.0zM360.0 701.1h1.0v1.0h-1.0zM361.6 680.1h1.0v1.0h-1.0zM360.2 685.0h1.0v1.0h-1.0zM368.3 696.8h1.0v1.0h-1.0zM359.2 699.9h1.0v1.0h-1.0zM364.4 690.4h1.0v1.0h-1.0zM364.3 698.6h1.0v1.0h-1.0zM367.6 692.7h1.0v1.0h-1.0zM365.6 691.2h1.0v1.0h-1.0zM365.6 688.0h1.0v1.0h-1.0zM363.0 693.2h1.0v1.0h-1.0zM366.6 683.6h1.0v1.0h-1.0zM369.1 692.2h1.0v1.0h-1.0zM368.3 700.1h1.0v1.0h-1.0zM369.5 699.8h1.0v1.0h-1.0zM363.1 688.7h1.0v1.0h-1.0zM365.3 702.7h1.0v1.0h-1.0zM368.1 677.7h1.0v1.0h-1.0zM358.7 676.8h1.0v1.0h-1.0zM359.0 674.8h1.0v1.0h-1.0zM358.1 682.5h1.0v1.0h-1.0zM359.4 699.9h1.0v1.0h-1.0zM365.4 711.1h1.0v1.0h-1.0zM369.5 702.4h1.0v1.0h-1.0zM369.4 673.6h1.0v1.0h-1.0zM360.7 709.5h1.0v1.0h-1.0zM363.7 680.8h1.0v1.0h-1.0zM367.1 689.4h1.0v1.0h-1.0zM364.5 685.1h1.0v1.0h-1.0zM360.9 676.0h1.0v1.0h-1.0zM365.3 710.6h1.0v1.0h-1.0zM369.8 703.1h1.0v1.0h-1.0zM369.2 687.0h1.0v1.0h-1.0zM361.6 709.4h1.0v1.0h-1.0zM365.2 699.3h1.0v1.0h-1.0zM358.2 681.6h1.0v1.0h-1.0zM363.8 701.7h1.0v1.0h-1.0zM367.9 702.8h1.0v1.0h-1.0zM362.1 687.8h1.0v1.0h-1.0zM368.3 712.1h1.0v1.0h-1.0zM363.8 680.3h1.0v1.0h-1.0zM365.5 693.9h1.0v1.0h-1.0zM362.3 681.7h1.0v1.0h-1.0zM362.6 697.0h1.0v1.0h-1.0zM359.5 694.1h1.0v1.0h-1.0zM369.4 702.3h1.0v1.0h-1.0zM361.0 689.2h1.0v1.0h-1.0zM359.2 702.0h1.0v1.0h-1.0zM365.6 679.4h1.0v1.0h-1.0zM364.6 696.3h1.0v1.0h-1.0zM364.9 687.6h1.0v1.0h-1.0zM361.7 686.7h1.0v1.0h-1.0zM370.0 685.7h1.0v1.0h-1.0zM364.0 690.9h1.0v1.0h-1.0zM360.1 688.5h1.0v1.0h-1.0zM360.5 685.4h1.0v1.0h-1.0zM362.4 686.5h1.0v1.0h-1.0zM356.1 676.1h1.0v1.0h-1.0zM363.0 710.1h1.0v1.0h-1.0zM357.0 689.2h1.0v1.0h-1.0zM337.7 692.2h1.0v1.0h-1.0zM348.1 687.3h1.0v1.0h-1.0zM339.4 714.4h1.0v1.0h-1.0zM353.2 695.7h1.0v1.0h-1.0zM363.1 713.1h1.0v1.0h-1.0zM354.0 694.8h1.0v1.0h-1.0zM363.3 685.9h1.0v1.0h-1.0zM364.9 667.8h1.0v1.0h-1.0zM361.7 693.9h1.0v1.0h-1.0zM356.3 718.0h1.0v1.0h-1.0zM343.8 687.7h1.0v1.0h-1.0zM361.8 705.3h1.0v1.0h-1.0zM353.3 706.9h1.0v1.0h-1.0zM358.0 711.7h1.0v1.0h-1.0zM357.2 685.4h1.0v1.0h-1.0zM345.9 670.8h1.0v1.0h-1.0zM340.8 668.7h1.0v1.0h-1.0zM367.2 673.8h1.0v1.0h-1.0zM355.7 673.5h1.0v1.0h-1.0zM367.0 694.2h1.0v1.0h-1.0zM342.5 709.5h1.0v1.0h-1.0zM363.7 717.4h1.0v1.0h-1.0zM343.9 687.4h1.0v1.0h-1.0zM357.5 681.2h1.0v1.0h-1.0zM354.6 703.0h1.0v1.0h-1.0zM360.3 709.3h1.0v1.0h-1.0zM360.3 681.3h1.0v1.0h-1.0zM360.4 689.1h1.0v1.0h-1.0zM342.3 667.6h1.0v1.0h-1.0zM356.3 685.1h1.0v1.0h-1.0zM339.9 692.0h1.0v1.0h-1.0zM349.9 683.4h1.0v1.0h-1.0zM354.6 694.5h1.0v1.0h-1.0zM353.4 717.8h1.0v1.0h-1.0zM365.0 682.0h1.0v1.0h-1.0zM364.0 682.9h1.0v1.0h-1.0zM366.0 669.5h1.0v1.0h-1.0zM346.9 715.0h1.0v1.0h-1.0zM357.5 703.2h1.0v1.0h-1.0zM343.3 672.8h1.0v1.0h-1.0zM366.8 669.9h1.0v1.0h-1.0zM342.4 688.9h1.0v1.0h-1.0zM362.4 701.8h1.0v1.0h-1.0zM368.0 707.0h1.0v1.0h-1.0zM350.6 713.9h1.0v1.0h-1.0zM346.8 669.2h1.0v1.0h-1.0zM366.7 712.3h1.0v1.0h-1.0zM357.5 691.5h1.0v1.0h-1.0zM343.3 677.9h1.0v1.0h-1.0zM339.1 671.4h1.0v1.0h-1.0zM351.9 713.1h1.0v1.0h-1.0zM365.9 693.2h1.0v1.0h-1.0zM357.9 690.8h1.0v1.0h-1.0zM361.1 703.2h1.0v1.0h-1.0zM367.5 710.5h1.0v1.0h-1.0zM358.0 697.2h1.0v1.0h-1.0zM342.2 691.0h1.0v1.0h-1.0zM350.9 674.5h1.0v1.0h-1.0zM343.3 687.9h1.0v1.0h-1.0zM342.5 699.0h1.0v1.0h-1.0zM347.2 717.9h1.0v1.0h-1.0zM358.2 693.4h1.0v1.0h-1.0zM350.5 686.9h1.0v1.0h-1.0zM343.2 716.6h1.0v1.0h-1.0zM365.3 700.3h1.0v1.0h-1.0zM357.2 674.0h1.0v1.0h-1.0zM353.8 675.2h1.0v1.0h-1.0z" fill="#a9aae0"/>
<path d="M365.9 687.3h1.0v1.0h-1.0zM362.2 703.2h1.0v1.0h-1.0zM361.6 697.7h1.0v1.0h-1.0zM363.4 687.4h1.0v1.0h-1.0zM363.5 686.4h1.0v1.0h-1.0zM364.0 708.7h1.0v1.0h-1.0zM367.7 689.5h1.0v1.0h-1.0zM365.3 700.0h1.0v1.0h-1.0zM363.0 709.3h1.0v1.0h-1.0zM364.2 697.1h1.0v1.0h-1.0zM361.7 679.6h1.0v1.0h-1.0zM361.6 684.4h1.0v1.0h-1.0zM366.7 687.7h1.0v1.0h-1.0zM366.3 686.7h1.0v1.0h-1.0zM361.7 692.5h1.0v1.0h-1.0zM363.1 674.2h1.0v1.0h-1.0zM364.2 702.7h1.0v1.0h-1.0zM363.6 678.8h1.0v1.0h-1.0zM362.2 678.7h1.0v1.0h-1.0zM363.5 681.4h1.0v1.0h-1.0zM363.8 692.6h1.0v1.0h-1.0zM367.4 679.3h1.0v1.0h-1.0zM359.0 707.1h1.0v1.0h-1.0zM365.2 687.2h1.0v1.0h-1.0zM365.4 681.6h1.0v1.0h-1.0zM363.2 697.6h1.0v1.0h-1.0zM363.3 692.2h1.0v1.0h-1.0zM365.2 692.1h1.0v1.0h-1.0zM363.5 696.0h1.0v1.0h-1.0zM367.4 703.6h1.0v1.0h-1.0zM361.9 698.5h1.0v1.0h-1.0zM359.3 676.7h1.0v1.0h-1.0zM365.1 696.2h1.0v1.0h-1.0zM367.5 673.6h1.0v1.0h-1.0zM366.8 685.4h1.0v1.0h-1.0zM362.9 695.3h1.0v1.0h-1.0zM367.6 681.4h1.0v1.0h-1.0zM359.8 684.9h1.0v1.0h-1.0zM363.8 702.8h1.0v1.0h-1.0zM365.0 687.8h1.0v1.0h-1.0zM341.2 716.5h1.0v1.0h-1.0zM344.1 715.1h1.0v1.0h-1.0zM342.6 710.6h1.0v1.0h-1.0zM344.4 712.6h1.0v1.0h-1.0zM349.0 716.6h1.0v1.0h-1.0zM339.4 711.1h1.0v1.0h-1.0zM341.4 713.0h1.0v1.0h-1.0zM346.5 713.1h1.0v1.0h-1.0zM344.4 712.7h1.0v1.0h-1.0zM342.4 716.6h1.0v1.0h-1.0zM343.1 718.5h1.0v1.0h-1.0zM342.9 714.5h1.0v1.0h-1.0zM344.2 715.2h1.0v1.0h-1.0zM348.8 711.8h1.0v1.0h-1.0zM341.5 711.2h1.0v1.0h-1.0zM348.5 714.7h1.0v1.0h-1.0zM344.4 714.7h1.0v1.0h-1.0zM337.5 715.5h1.0v1.0h-1.0zM343.4 714.3h1.0v1.0h-1.0zM343.3 713.3h1.0v1.0h-1.0zM342.8 712.1h1.0v1.0h-1.0zM342.4 715.1h1.0v1.0h-1.0zM336.7 715.6h1.0v1.0h-1.0zM345.0 710.9h1.0v1.0h-1.0zM344.6 714.3h1.0v1.0h-1.0zM341.5 717.8h1.0v1.0h-1.0zM343.6 713.2h1.0v1.0h-1.0zM339.2 719.0h1.0v1.0h-1.0zM343.7 714.3h1.0v1.0h-1.0zM342.4 718.7h1.0v1.0h-1.0zM342.6 717.5h1.0v1.0h-1.0zM346.2 716.0h1.0v1.0h-1.0zM345.0 716.4h1.0v1.0h-1.0zM342.7 708.4h1.0v1.0h-1.0zM335.0 716.3h1.0v1.0h-1.0z" fill="#8482c8"/>
<path d="M348.8 724.8h1.1v1.1h-1.1zM379.5 732.0h1.1v1.1h-1.1zM364.0 730.0h1.1v1.1h-1.1zM358.9 722.2h1.1v1.1h-1.1zM359.2 730.4h1.1v1.1h-1.1zM360.5 727.3h1.1v1.1h-1.1zM361.5 727.9h1.1v1.1h-1.1zM360.8 732.5h1.1v1.1h-1.1zM357.9 722.1h1.1v1.1h-1.1zM366.1 728.8h1.1v1.1h-1.1zM359.5 723.8h1.1v1.1h-1.1zM360.5 726.4h1.1v1.1h-1.1zM363.7 727.9h1.1v1.1h-1.1zM352.8 724.8h1.1v1.1h-1.1zM362.2 724.0h1.1v1.1h-1.1zM358.6 728.1h1.1v1.1h-1.1zM361.0 726.8h1.1v1.1h-1.1zM364.8 727.9h1.1v1.1h-1.1zM356.9 726.8h1.1v1.1h-1.1zM360.7 726.1h1.1v1.1h-1.1zM362.1 728.6h1.1v1.1h-1.1zM365.3 731.8h1.1v1.1h-1.1zM361.6 727.8h1.1v1.1h-1.1zM355.9 725.6h1.1v1.1h-1.1zM358.4 728.2h1.1v1.1h-1.1zM364.9 730.8h1.1v1.1h-1.1zM360.5 728.0h1.1v1.1h-1.1zM367.8 734.5h1.1v1.1h-1.1zM360.3 721.0h1.1v1.1h-1.1zM365.8 726.4h1.1v1.1h-1.1zM361.0 728.5h1.1v1.1h-1.1zM369.3 731.1h1.1v1.1h-1.1zM361.0 726.3h1.1v1.1h-1.1zM363.8 726.1h1.1v1.1h-1.1zM363.9 729.6h1.1v1.1h-1.1zM368.7 730.5h1.1v1.1h-1.1zM362.7 728.8h1.1v1.1h-1.1zM361.8 725.8h1.1v1.1h-1.1zM358.0 726.3h1.1v1.1h-1.1zM362.9 730.7h1.1v1.1h-1.1zM357.6 726.6h1.1v1.1h-1.1zM363.7 730.7h1.1v1.1h-1.1zM362.3 728.6h1.1v1.1h-1.1zM359.2 726.8h1.1v1.1h-1.1zM361.5 724.0h1.1v1.1h-1.1zM359.3 721.5h1.1v1.1h-1.1zM363.1 730.5h1.1v1.1h-1.1zM359.0 727.0h1.1v1.1h-1.1zM362.2 727.6h1.1v1.1h-1.1zM369.2 731.0h1.1v1.1h-1.1zM362.9 728.3h1.1v1.1h-1.1zM373.3 729.7h1.1v1.1h-1.1zM363.4 725.7h1.1v1.1h-1.1zM358.1 724.1h1.1v1.1h-1.1zM366.2 727.6h1.1v1.1h-1.1zM356.0 724.5h1.1v1.1h-1.1zM356.8 723.4h1.1v1.1h-1.1zM370.2 730.4h1.1v1.1h-1.1zM355.6 728.1h1.1v1.1h-1.1zM360.7 729.9h1.1v1.1h-1.1zM352.6 723.0h1.1v1.1h-1.1zM363.5 729.2h1.1v1.1h-1.1zM363.0 731.2h1.1v1.1h-1.1zM363.4 731.1h1.1v1.1h-1.1zM365.8 728.2h1.1v1.1h-1.1zM361.1 730.5h1.1v1.1h-1.1zM355.6 726.2h1.1v1.1h-1.1zM363.4 731.6h1.1v1.1h-1.1zM350.1 727.7h1.1v1.1h-1.1zM352.7 723.7h1.1v1.1h-1.1zM376.0 731.6h1.1v1.1h-1.1zM373.1 733.8h1.1v1.1h-1.1zM370.3 735.1h1.1v1.1h-1.1zM362.6 726.6h1.1v1.1h-1.1zM360.5 724.5h1.1v1.1h-1.1zM353.4 724.8h1.1v1.1h-1.1zM353.0 724.6h1.1v1.1h-1.1zM360.9 727.2h1.1v1.1h-1.1zM356.6 722.8h1.1v1.1h-1.1zM366.3 727.9h1.1v1.1h-1.1zM358.2 725.9h1.1v1.1h-1.1zM363.2 732.9h1.1v1.1h-1.1zM371.1 734.0h1.1v1.1h-1.1zM364.2 730.5h1.1v1.1h-1.1zM360.2 726.7h1.1v1.1h-1.1zM351.3 724.3h1.1v1.1h-1.1zM358.1 727.1h1.1v1.1h-1.1zM372.6 734.9h1.1v1.1h-1.1zM366.6 732.1h1.1v1.1h-1.1zM358.7 725.0h1.1v1.1h-1.1zM353.7 722.9h1.1v1.1h-1.1zM361.5 729.3h1.1v1.1h-1.1zM364.6 728.5h1.1v1.1h-1.1zM355.0 724.9h1.1v1.1h-1.1zM364.5 724.8h1.1v1.1h-1.1zM362.8 725.3h1.1v1.1h-1.1zM358.8 726.2h1.1v1.1h-1.1zM356.2 724.2h1.1v1.1h-1.1zM362.0 725.8h1.1v1.1h-1.1zM364.3 730.5h1.1v1.1h-1.1zM365.0 727.1h1.1v1.1h-1.1zM360.3 726.5h1.1v1.1h-1.1zM361.1 729.3h1.1v1.1h-1.1zM358.2 726.3h1.1v1.1h-1.1zM365.8 729.1h1.1v1.1h-1.1zM365.0 729.4h1.1v1.1h-1.1zM353.5 724.0h1.1v1.1h-1.1zM362.2 727.2h1.1v1.1h-1.1zM371.8 731.7h1.1v1.1h-1.1zM353.3 723.6h1.1v1.1h-1.1z" fill="#6e78c8"/>
<path d="M360.9 727.4h1.3v1.3h-1.3zM371.1 731.5h1.3v1.3h-1.3zM365.5 727.4h1.3v1.3h-1.3zM359.2 724.5h1.3v1.3h-1.3zM361.7 726.1h1.3v1.3h-1.3zM362.5 726.1h1.3v1.3h-1.3zM358.3 723.9h1.3v1.3h-1.3zM365.7 726.7h1.3v1.3h-1.3zM363.8 730.8h1.3v1.3h-1.3zM358.1 726.8h1.3v1.3h-1.3zM366.9 724.7h1.3v1.3h-1.3zM364.7 729.4h1.3v1.3h-1.3zM358.0 728.3h1.3v1.3h-1.3zM354.7 725.9h1.3v1.3h-1.3zM363.7 726.0h1.3v1.3h-1.3zM363.5 725.0h1.3v1.3h-1.3zM363.9 728.9h1.3v1.3h-1.3zM365.5 731.2h1.3v1.3h-1.3zM359.2 726.6h1.3v1.3h-1.3zM361.8 721.8h1.3v1.3h-1.3zM364.7 730.4h1.3v1.3h-1.3zM361.7 729.9h1.3v1.3h-1.3zM363.0 724.4h1.3v1.3h-1.3zM360.6 725.9h1.3v1.3h-1.3zM363.3 726.9h1.3v1.3h-1.3zM354.8 721.5h1.3v1.3h-1.3zM360.8 728.4h1.3v1.3h-1.3zM360.5 724.0h1.3v1.3h-1.3zM359.7 727.6h1.3v1.3h-1.3zM367.2 727.7h1.3v1.3h-1.3zM363.6 730.1h1.3v1.3h-1.3zM365.7 726.8h1.3v1.3h-1.3zM364.6 727.3h1.3v1.3h-1.3zM358.9 729.0h1.3v1.3h-1.3zM361.6 727.7h1.3v1.3h-1.3zM365.4 731.5h1.3v1.3h-1.3zM363.5 726.6h1.3v1.3h-1.3zM362.3 726.0h1.3v1.3h-1.3zM361.7 726.7h1.3v1.3h-1.3zM357.2 723.4h1.3v1.3h-1.3zM356.9 724.6h1.3v1.3h-1.3zM364.5 729.5h1.3v1.3h-1.3zM363.4 726.0h1.3v1.3h-1.3zM362.7 725.0h1.3v1.3h-1.3zM365.2 725.8h1.3v1.3h-1.3zM358.6 728.5h1.3v1.3h-1.3zM364.2 726.3h1.3v1.3h-1.3zM362.0 725.2h1.3v1.3h-1.3zM359.4 725.1h1.3v1.3h-1.3zM358.8 725.9h1.3v1.3h-1.3zM366.5 727.6h1.3v1.3h-1.3zM359.2 724.3h1.3v1.3h-1.3zM359.7 726.2h1.3v1.3h-1.3zM360.2 724.6h1.3v1.3h-1.3zM358.9 727.3h1.3v1.3h-1.3zM364.9 730.2h1.3v1.3h-1.3zM363.3 726.0h1.3v1.3h-1.3zM365.5 732.6h1.3v1.3h-1.3zM360.1 725.1h1.3v1.3h-1.3zM365.5 729.9h1.3v1.3h-1.3zM362.1 730.7h1.3v1.3h-1.3zM361.9 725.6h1.3v1.3h-1.3zM360.6 726.7h1.3v1.3h-1.3zM361.9 729.2h1.3v1.3h-1.3zM365.3 727.3h1.3v1.3h-1.3zM364.8 728.0h1.3v1.3h-1.3zM366.7 731.3h1.3v1.3h-1.3zM359.5 726.8h1.3v1.3h-1.3zM357.0 725.5h1.3v1.3h-1.3zM362.0 727.8h1.3v1.3h-1.3zM358.2 723.8h1.3v1.3h-1.3zM360.2 725.8h1.3v1.3h-1.3zM365.0 727.0h1.3v1.3h-1.3zM355.1 722.8h1.3v1.3h-1.3zM364.2 729.6h1.3v1.3h-1.3zM357.0 725.8h1.3v1.3h-1.3zM361.9 728.3h1.3v1.3h-1.3zM361.8 729.1h1.3v1.3h-1.3zM357.9 729.0h1.3v1.3h-1.3zM366.8 727.2h1.3v1.3h-1.3zM355.7 725.9h1.3v1.3h-1.3zM356.9 723.2h1.3v1.3h-1.3zM363.9 727.6h1.3v1.3h-1.3zM364.0 724.1h1.3v1.3h-1.3zM358.9 726.5h1.3v1.3h-1.3zM369.3 731.1h1.3v1.3h-1.3zM362.0 727.2h1.3v1.3h-1.3zM365.3 729.7h1.3v1.3h-1.3zM360.1 722.6h1.3v1.3h-1.3zM361.4 726.0h1.3v1.3h-1.3z" fill="#3a9cb0"/>
<path d="M367.6 727.5h1.4v1.4h-1.4zM365.7 725.1h1.4v1.4h-1.4zM365.4 725.9h1.4v1.4h-1.4zM363.2 726.3h1.4v1.4h-1.4zM363.2 726.6h1.4v1.4h-1.4zM360.1 725.9h1.4v1.4h-1.4zM361.0 725.5h1.4v1.4h-1.4zM361.1 725.5h1.4v1.4h-1.4zM362.8 726.1h1.4v1.4h-1.4zM360.5 726.9h1.4v1.4h-1.4zM362.5 726.4h1.4v1.4h-1.4zM357.7 724.8h1.4v1.4h-1.4zM359.5 724.6h1.4v1.4h-1.4zM357.3 726.4h1.4v1.4h-1.4zM359.1 724.3h1.4v1.4h-1.4zM360.7 723.7h1.4v1.4h-1.4zM358.2 726.2h1.4v1.4h-1.4zM367.9 728.6h1.4v1.4h-1.4zM365.1 726.8h1.4v1.4h-1.4zM359.6 727.3h1.4v1.4h-1.4zM365.0 725.9h1.4v1.4h-1.4zM362.7 726.3h1.4v1.4h-1.4zM362.3 726.0h1.4v1.4h-1.4zM361.5 725.6h1.4v1.4h-1.4zM362.1 725.6h1.4v1.4h-1.4zM360.4 727.3h1.4v1.4h-1.4zM362.1 725.7h1.4v1.4h-1.4zM363.5 726.7h1.4v1.4h-1.4zM359.5 726.0h1.4v1.4h-1.4zM360.5 724.4h1.4v1.4h-1.4zM364.0 726.6h1.4v1.4h-1.4zM361.3 725.7h1.4v1.4h-1.4zM361.3 724.8h1.4v1.4h-1.4zM360.9 723.8h1.4v1.4h-1.4zM360.6 725.4h1.4v1.4h-1.4zM361.8 725.7h1.4v1.4h-1.4zM365.2 726.8h1.4v1.4h-1.4zM358.7 724.5h1.4v1.4h-1.4zM368.4 725.1h1.4v1.4h-1.4zM362.9 724.9h1.4v1.4h-1.4zM359.1 725.6h1.4v1.4h-1.4zM362.8 726.3h1.4v1.4h-1.4zM360.2 724.4h1.4v1.4h-1.4zM359.6 726.8h1.4v1.4h-1.4zM363.8 724.1h1.4v1.4h-1.4zM361.4 727.6h1.4v1.4h-1.4zM361.3 725.2h1.4v1.4h-1.4zM362.5 726.8h1.4v1.4h-1.4zM364.3 726.2h1.4v1.4h-1.4zM361.7 726.7h1.4v1.4h-1.4zM360.7 724.9h1.4v1.4h-1.4zM363.8 726.5h1.4v1.4h-1.4zM359.8 727.1h1.4v1.4h-1.4zM363.4 726.2h1.4v1.4h-1.4zM355.7 724.5h1.4v1.4h-1.4zM365.0 727.3h1.4v1.4h-1.4zM363.4 725.5h1.4v1.4h-1.4zM367.0 729.5h1.4v1.4h-1.4zM366.9 731.2h1.4v1.4h-1.4zM358.5 725.2h1.4v1.4h-1.4zM358.0 724.6h1.4v1.4h-1.4zM363.3 725.8h1.4v1.4h-1.4zM364.3 727.2h1.4v1.4h-1.4zM362.3 725.8h1.4v1.4h-1.4zM364.8 727.9h1.4v1.4h-1.4zM364.7 727.7h1.4v1.4h-1.4zM362.2 725.4h1.4v1.4h-1.4zM363.8 725.9h1.4v1.4h-1.4zM361.1 726.6h1.4v1.4h-1.4zM363.5 726.4h1.4v1.4h-1.4z" fill="#52b03c"/>
<path d="M363.2 726.2h1.4v1.4h-1.4zM364.5 726.3h1.4v1.4h-1.4zM363.0 725.7h1.4v1.4h-1.4zM362.1 725.6h1.4v1.4h-1.4zM363.5 726.9h1.4v1.4h-1.4zM363.7 726.2h1.4v1.4h-1.4zM363.0 726.7h1.4v1.4h-1.4zM362.5 725.3h1.4v1.4h-1.4zM365.3 726.8h1.4v1.4h-1.4zM364.1 727.0h1.4v1.4h-1.4zM362.1 726.5h1.4v1.4h-1.4zM362.4 727.2h1.4v1.4h-1.4zM363.2 726.0h1.4v1.4h-1.4zM363.4 728.4h1.4v1.4h-1.4zM362.9 726.8h1.4v1.4h-1.4zM365.5 725.8h1.4v1.4h-1.4zM363.3 727.3h1.4v1.4h-1.4zM363.7 726.1h1.4v1.4h-1.4zM362.9 726.6h1.4v1.4h-1.4zM364.1 727.2h1.4v1.4h-1.4zM360.6 726.5h1.4v1.4h-1.4zM362.1 726.7h1.4v1.4h-1.4zM362.5 726.7h1.4v1.4h-1.4zM361.2 726.6h1.4v1.4h-1.4zM363.6 727.3h1.4v1.4h-1.4zM364.9 726.5h1.4v1.4h-1.4zM362.3 727.4h1.4v1.4h-1.4zM363.4 726.7h1.4v1.4h-1.4zM363.7 725.5h1.4v1.4h-1.4zM361.9 725.9h1.4v1.4h-1.4z" fill="#d8d030"/>
</g>
<rect x="308.00" y="662.50" width="84.5" height="84.0" fill="none" stroke="#777" stroke-width="0.8"/>
<line x1="334.50" y1="662.50" x2="334.50" y2="746.50" stroke="#333" stroke-width="0.9"/>
<line x1="308.00" y1="721.20" x2="392.50" y2="721.20" stroke="#333" stroke-width="0.9"/>
<line x1="305.50" y1="670.50" x2="308.00" y2="670.50" stroke="#444" stroke-width="0.8"/>
<line x1="305.50" y1="691.10" x2="308.00" y2="691.10" stroke="#444" stroke-width="0.8"/>
<line x1="305.50" y1="713.50" x2="308.00" y2="713.50" stroke="#444" stroke-width="0.8"/>
<line x1="305.50" y1="727.20" x2="308.00" y2="727.20" stroke="#444" stroke-width="0.8"/>
<line x1="305.50" y1="740.90" x2="308.00" y2="740.90" stroke="#444" stroke-width="0.8"/>
<line x1="306.70" y1="684.90" x2="308.00" y2="684.90" stroke="#777" stroke-width="0.5"/>
<line x1="306.70" y1="681.27" x2="308.00" y2="681.27" stroke="#777" stroke-width="0.5"/>
<line x1="306.70" y1="678.70" x2="308.00" y2="678.70" stroke="#777" stroke-width="0.5"/>
<line x1="306.70" y1="676.70" x2="308.00" y2="676.70" stroke="#777" stroke-width="0.5"/>
<line x1="306.70" y1="675.07" x2="308.00" y2="675.07" stroke="#777" stroke-width="0.5"/>
<line x1="306.70" y1="673.69" x2="308.00" y2="673.69" stroke="#777" stroke-width="0.5"/>
<line x1="306.70" y1="672.50" x2="308.00" y2="672.50" stroke="#777" stroke-width="0.5"/>
<line x1="306.70" y1="671.44" x2="308.00" y2="671.44" stroke="#777" stroke-width="0.5"/>
<line x1="306.70" y1="706.76" x2="308.00" y2="706.76" stroke="#777" stroke-width="0.5"/>
<line x1="306.70" y1="702.81" x2="308.00" y2="702.81" stroke="#777" stroke-width="0.5"/>
<line x1="306.70" y1="700.01" x2="308.00" y2="700.01" stroke="#777" stroke-width="0.5"/>
<line x1="306.70" y1="697.84" x2="308.00" y2="697.84" stroke="#777" stroke-width="0.5"/>
<line x1="306.70" y1="696.07" x2="308.00" y2="696.07" stroke="#777" stroke-width="0.5"/>
<line x1="306.70" y1="694.57" x2="308.00" y2="694.57" stroke="#777" stroke-width="0.5"/>
<line x1="306.70" y1="693.27" x2="308.00" y2="693.27" stroke="#777" stroke-width="0.5"/>
<line x1="306.70" y1="692.12" x2="308.00" y2="692.12" stroke="#777" stroke-width="0.5"/>
<line x1="313.00" y1="746.50" x2="313.00" y2="749.00" stroke="#444" stroke-width="0.8"/>
<line x1="327.50" y1="746.50" x2="327.50" y2="749.00" stroke="#444" stroke-width="0.8"/>
<line x1="341.00" y1="746.50" x2="341.00" y2="749.00" stroke="#444" stroke-width="0.8"/>
<line x1="364.80" y1="746.50" x2="364.80" y2="749.00" stroke="#444" stroke-width="0.8"/>
<line x1="386.00" y1="746.50" x2="386.00" y2="749.00" stroke="#444" stroke-width="0.8"/>
<line x1="348.16" y1="746.50" x2="348.16" y2="747.80" stroke="#777" stroke-width="0.5"/>
<line x1="352.36" y1="746.50" x2="352.36" y2="747.80" stroke="#777" stroke-width="0.5"/>
<line x1="355.33" y1="746.50" x2="355.33" y2="747.80" stroke="#777" stroke-width="0.5"/>
<line x1="357.64" y1="746.50" x2="357.64" y2="747.80" stroke="#777" stroke-width="0.5"/>
<line x1="359.52" y1="746.50" x2="359.52" y2="747.80" stroke="#777" stroke-width="0.5"/>
<line x1="361.11" y1="746.50" x2="361.11" y2="747.80" stroke="#777" stroke-width="0.5"/>
<line x1="362.49" y1="746.50" x2="362.49" y2="747.80" stroke="#777" stroke-width="0.5"/>
<line x1="363.71" y1="746.50" x2="363.71" y2="747.80" stroke="#777" stroke-width="0.5"/>
<line x1="371.18" y1="746.50" x2="371.18" y2="747.80" stroke="#777" stroke-width="0.5"/>
<line x1="374.91" y1="746.50" x2="374.91" y2="747.80" stroke="#777" stroke-width="0.5"/>
<line x1="377.56" y1="746.50" x2="377.56" y2="747.80" stroke="#777" stroke-width="0.5"/>
<line x1="379.62" y1="746.50" x2="379.62" y2="747.80" stroke="#777" stroke-width="0.5"/>
<line x1="381.30" y1="746.50" x2="381.30" y2="747.80" stroke="#777" stroke-width="0.5"/>
<line x1="382.72" y1="746.50" x2="382.72" y2="747.80" stroke="#777" stroke-width="0.5"/>
<line x1="383.95" y1="746.50" x2="383.95" y2="747.80" stroke="#777" stroke-width="0.5"/>
<line x1="385.03" y1="746.50" x2="385.03" y2="747.80" stroke="#777" stroke-width="0.5"/>
<text x="291.05" y="673.00" font-size="7.2" fill="#111">10<tspan font-size="5.30" dy="-3.5">5</tspan></text>
<text x="291.05" y="693.60" font-size="7.2" fill="#111">10<tspan font-size="5.30" dy="-3.5">4</tspan></text>
<text x="291.05" y="716.00" font-size="7.2" fill="#111">10<tspan font-size="5.30" dy="-3.5">3</tspan></text>
<text x="302.00" y="729.70" font-size="7.2" text-anchor="end" font-weight="normal" fill="#111" >0</text>
<text x="286.84" y="743.40" font-size="7.2" fill="#111">−10<tspan font-size="5.30" dy="-3.5">3</tspan></text>
<text x="305.42" y="758.70" font-size="7.2" fill="#111">−10<tspan font-size="5.30" dy="-3.5">3</tspan></text>
<text x="327.50" y="758.70" font-size="7.2" text-anchor="middle" font-weight="normal" fill="#111" >0</text>
<text x="335.52" y="758.70" font-size="7.2" fill="#111">10<tspan font-size="5.30" dy="-3.5">3</tspan></text>
<text x="359.32" y="758.70" font-size="7.2" fill="#111">10<tspan font-size="5.30" dy="-3.5">4</tspan></text>
<text x="380.52" y="758.70" font-size="7.2" fill="#111">10<tspan font-size="5.30" dy="-3.5">5</tspan></text>
<rect x="306.40" y="725.70" width="2" height="3" fill="#111"/>
<rect x="325.50" y="745.90" width="4" height="1.8" fill="#111"/>
<text x="309.50" y="669.50" font-size="6.4" text-anchor="start" font-weight="bold" fill="#222" >0</text>
<text x="309.70" y="741.50" font-size="6.4" text-anchor="start" font-weight="bold" fill="#222" >0</text>
<text x="390.70" y="669.40" font-size="5.7" text-anchor="end" font-weight="bold" fill="#000" >24.8 %</text>
<text x="388.60" y="742.10" font-size="5.7" text-anchor="end" font-weight="bold" fill="#000" >75.2 %</text>
<text x="309.20" y="657.70" font-size="7.3" text-anchor="start" font-weight="normal" fill="#111" >+ SFLLRN</text>
<g filter="url(#bl)">
<path d="M112.1 834.9h1.0v1.0h-1.0zM117.2 838.6h1.0v1.0h-1.0zM111.2 824.7h1.0v1.0h-1.0zM110.8 824.6h1.0v1.0h-1.0zM117.8 822.4h1.0v1.0h-1.0zM115.4 824.3h1.0v1.0h-1.0zM112.5 829.2h1.0v1.0h-1.0zM119.1 833.2h1.0v1.0h-1.0zM109.2 825.7h1.0v1.0h-1.0zM110.8 839.1h1.0v1.0h-1.0zM118.7 837.6h1.0v1.0h-1.0zM118.9 836.3h1.0v1.0h-1.0zM120.4 837.4h1.0v1.0h-1.0zM112.1 838.6h1.0v1.0h-1.0zM114.8 836.5h1.0v1.0h-1.0zM115.8 829.2h1.0v1.0h-1.0zM113.4 829.2h1.0v1.0h-1.0zM112.8 822.1h1.0v1.0h-1.0zM118.8 837.5h1.0v1.0h-1.0zM120.8 835.0h1.0v1.0h-1.0zM115.7 836.3h1.0v1.0h-1.0zM110.6 834.7h1.0v1.0h-1.0zM114.3 823.5h1.0v1.0h-1.0zM111.4 831.3h1.0v1.0h-1.0zM112.0 829.8h1.0v1.0h-1.0zM116.3 828.4h1.0v1.0h-1.0zM110.6 830.5h1.0v1.0h-1.0zM111.8 824.8h1.0v1.0h-1.0zM111.3 827.7h1.0v1.0h-1.0zM109.9 834.2h1.0v1.0h-1.0zM120.4 828.3h1.0v1.0h-1.0zM117.6 840.5h1.0v1.0h-1.0zM109.5 822.7h1.0v1.0h-1.0zM118.7 838.4h1.0v1.0h-1.0zM116.7 823.1h1.0v1.0h-1.0zM114.0 839.0h1.0v1.0h-1.0zM119.6 837.6h1.0v1.0h-1.0zM111.4 838.7h1.0v1.0h-1.0zM113.5 835.6h1.0v1.0h-1.0zM110.6 841.4h1.0v1.0h-1.0zM129.6 859.0h1.0v1.0h-1.0zM125.3 853.3h1.0v1.0h-1.0zM129.4 851.9h1.0v1.0h-1.0zM127.0 859.3h1.0v1.0h-1.0zM126.8 835.9h1.0v1.0h-1.0zM124.8 856.9h1.0v1.0h-1.0zM124.2 832.2h1.0v1.0h-1.0zM123.8 854.8h1.0v1.0h-1.0zM129.1 849.3h1.0v1.0h-1.0zM123.4 843.7h1.0v1.0h-1.0zM126.8 825.0h1.0v1.0h-1.0zM123.0 873.9h1.0v1.0h-1.0zM124.3 836.3h1.0v1.0h-1.0zM126.0 852.3h1.0v1.0h-1.0zM123.9 845.4h1.0v1.0h-1.0zM127.0 865.1h1.0v1.0h-1.0zM123.1 838.1h1.0v1.0h-1.0zM128.5 872.4h1.0v1.0h-1.0zM128.7 845.6h1.0v1.0h-1.0zM130.4 836.0h1.0v1.0h-1.0zM123.3 847.1h1.0v1.0h-1.0zM133.0 859.9h1.0v1.0h-1.0zM125.8 856.9h1.0v1.0h-1.0zM132.3 834.0h1.0v1.0h-1.0zM129.5 839.2h1.0v1.0h-1.0zM125.7 835.5h1.0v1.0h-1.0zM125.2 838.9h1.0v1.0h-1.0zM123.4 841.5h1.0v1.0h-1.0zM124.0 860.9h1.0v1.0h-1.0zM129.6 820.2h1.0v1.0h-1.0zM131.5 830.3h1.0v1.0h-1.0zM128.3 849.9h1.0v1.0h-1.0zM126.7 835.6h1.0v1.0h-1.0zM127.8 827.4h1.0v1.0h-1.0zM132.5 826.0h1.0v1.0h-1.0zM132.1 831.8h1.0v1.0h-1.0zM126.3 841.0h1.0v1.0h-1.0zM123.4 826.9h1.0v1.0h-1.0zM127.0 843.9h1.0v1.0h-1.0zM132.6 873.5h1.0v1.0h-1.0zM123.5 848.9h1.0v1.0h-1.0zM124.4 863.4h1.0v1.0h-1.0zM126.5 868.2h1.0v1.0h-1.0zM129.0 826.8h1.0v1.0h-1.0zM123.1 833.4h1.0v1.0h-1.0zM132.5 828.1h1.0v1.0h-1.0zM128.3 840.1h1.0v1.0h-1.0zM126.8 863.3h1.0v1.0h-1.0zM125.4 858.8h1.0v1.0h-1.0zM130.3 870.5h1.0v1.0h-1.0zM128.7 869.7h1.0v1.0h-1.0zM127.8 851.0h1.0v1.0h-1.0zM129.8 865.3h1.0v1.0h-1.0zM132.9 826.2h1.0v1.0h-1.0zM124.5 848.8h1.0v1.0h-1.0zM131.9 848.8h1.0v1.0h-1.0zM126.3 871.9h1.0v1.0h-1.0zM126.3 824.7h1.0v1.0h-1.0zM123.6 821.6h1.0v1.0h-1.0zM131.0 825.8h1.0v1.0h-1.0zM130.9 866.8h1.0v1.0h-1.0zM134.0 863.7h1.0v1.0h-1.0zM127.7 853.6h1.0v1.0h-1.0zM132.2 858.7h1.0v1.0h-1.0zM126.2 861.1h1.0v1.0h-1.0zM124.2 836.7h1.0v1.0h-1.0zM134.0 845.4h1.0v1.0h-1.0zM125.9 862.4h1.0v1.0h-1.0zM128.0 820.2h1.0v1.0h-1.0zM123.3 834.0h1.0v1.0h-1.0zM126.7 870.6h1.0v1.0h-1.0zM125.7 865.9h1.0v1.0h-1.0zM132.4 842.5h1.0v1.0h-1.0zM133.9 861.1h1.0v1.0h-1.0zM128.3 834.1h1.0v1.0h-1.0zM128.1 868.7h1.0v1.0h-1.0zM128.9 830.5h1.0v1.0h-1.0zM127.1 845.7h1.0v1.0h-1.0zM125.1 850.9h1.0v1.0h-1.0zM123.4 864.3h1.0v1.0h-1.0z" fill="#a9aae0"/>
<path d="M129.0 842.5h1.0v1.0h-1.0zM126.7 831.1h1.0v1.0h-1.0zM130.7 826.9h1.0v1.0h-1.0zM123.8 833.7h1.0v1.0h-1.0zM129.4 858.0h1.0v1.0h-1.0zM126.9 825.9h1.0v1.0h-1.0zM129.0 836.3h1.0v1.0h-1.0zM129.4 831.5h1.0v1.0h-1.0zM129.3 830.7h1.0v1.0h-1.0zM131.3 842.1h1.0v1.0h-1.0zM130.2 832.5h1.0v1.0h-1.0zM125.1 838.5h1.0v1.0h-1.0zM128.6 853.0h1.0v1.0h-1.0zM131.2 837.9h1.0v1.0h-1.0zM128.6 825.2h1.0v1.0h-1.0zM128.6 841.1h1.0v1.0h-1.0zM127.7 823.9h1.0v1.0h-1.0zM132.0 826.0h1.0v1.0h-1.0zM133.0 854.0h1.0v1.0h-1.0zM132.7 827.1h1.0v1.0h-1.0zM130.3 819.8h1.0v1.0h-1.0zM127.8 818.0h1.0v1.0h-1.0zM126.9 831.6h1.0v1.0h-1.0zM131.2 852.6h1.0v1.0h-1.0zM127.8 834.5h1.0v1.0h-1.0zM126.3 823.1h1.0v1.0h-1.0zM124.2 835.4h1.0v1.0h-1.0zM130.2 828.1h1.0v1.0h-1.0zM129.7 823.0h1.0v1.0h-1.0zM126.2 831.1h1.0v1.0h-1.0zM131.0 831.2h1.0v1.0h-1.0zM130.7 833.5h1.0v1.0h-1.0zM127.5 825.5h1.0v1.0h-1.0zM131.0 844.0h1.0v1.0h-1.0zM124.6 849.2h1.0v1.0h-1.0zM126.1 841.3h1.0v1.0h-1.0zM124.7 828.5h1.0v1.0h-1.0zM130.0 841.4h1.0v1.0h-1.0zM129.8 846.1h1.0v1.0h-1.0zM126.5 869.5h1.0v1.0h-1.0zM130.0 866.2h1.0v1.0h-1.0zM128.0 845.4h1.0v1.0h-1.0zM129.6 836.1h1.0v1.0h-1.0zM129.5 841.4h1.0v1.0h-1.0zM130.8 842.2h1.0v1.0h-1.0zM128.8 844.4h1.0v1.0h-1.0zM132.4 839.0h1.0v1.0h-1.0zM130.2 839.9h1.0v1.0h-1.0zM123.7 826.2h1.0v1.0h-1.0zM126.4 819.8h1.0v1.0h-1.0zM129.4 831.0h1.0v1.0h-1.0zM131.8 843.0h1.0v1.0h-1.0zM125.5 835.1h1.0v1.0h-1.0zM128.8 829.1h1.0v1.0h-1.0zM127.8 823.8h1.0v1.0h-1.0zM126.8 841.6h1.0v1.0h-1.0zM127.9 853.8h1.0v1.0h-1.0zM123.4 827.6h1.0v1.0h-1.0zM127.8 857.2h1.0v1.0h-1.0zM131.5 847.8h1.0v1.0h-1.0zM131.1 858.7h1.0v1.0h-1.0zM130.4 834.8h1.0v1.0h-1.0zM129.1 828.5h1.0v1.0h-1.0zM128.1 842.7h1.0v1.0h-1.0zM127.4 839.2h1.0v1.0h-1.0zM127.6 820.7h1.0v1.0h-1.0zM125.1 846.8h1.0v1.0h-1.0zM128.7 848.6h1.0v1.0h-1.0zM128.4 837.6h1.0v1.0h-1.0zM129.3 833.4h1.0v1.0h-1.0zM132.1 850.8h1.0v1.0h-1.0zM129.6 824.1h1.0v1.0h-1.0zM127.3 840.4h1.0v1.0h-1.0zM131.5 837.1h1.0v1.0h-1.0zM128.6 844.4h1.0v1.0h-1.0zM128.9 835.6h1.0v1.0h-1.0zM125.8 853.5h1.0v1.0h-1.0zM128.5 830.8h1.0v1.0h-1.0zM128.3 820.3h1.0v1.0h-1.0zM129.5 820.2h1.0v1.0h-1.0zM128.9 822.0h1.0v1.0h-1.0zM124.1 829.4h1.0v1.0h-1.0zM126.7 828.4h1.0v1.0h-1.0zM132.9 839.9h1.0v1.0h-1.0zM127.1 848.6h1.0v1.0h-1.0zM127.8 853.1h1.0v1.0h-1.0zM124.7 851.4h1.0v1.0h-1.0zM125.8 827.7h1.0v1.0h-1.0zM129.1 823.3h1.0v1.0h-1.0zM124.4 832.1h1.0v1.0h-1.0zM127.8 815.9h1.0v1.0h-1.0zM131.0 826.5h1.0v1.0h-1.0zM127.0 834.1h1.0v1.0h-1.0zM128.6 850.9h1.0v1.0h-1.0zM123.1 837.2h1.0v1.0h-1.0zM130.7 840.2h1.0v1.0h-1.0zM128.3 822.6h1.0v1.0h-1.0zM129.4 830.7h1.0v1.0h-1.0zM128.9 823.3h1.0v1.0h-1.0zM127.7 835.2h1.0v1.0h-1.0zM124.8 850.4h1.0v1.0h-1.0zM128.2 820.3h1.0v1.0h-1.0zM127.9 838.7h1.0v1.0h-1.0zM127.6 823.6h1.0v1.0h-1.0zM127.9 819.3h1.0v1.0h-1.0zM124.3 852.3h1.0v1.0h-1.0zM132.8 861.3h1.0v1.0h-1.0zM134.2 854.6h1.0v1.0h-1.0zM126.2 829.6h1.0v1.0h-1.0zM131.3 830.9h1.0v1.0h-1.0zM127.6 836.8h1.0v1.0h-1.0zM129.6 819.3h1.0v1.0h-1.0zM128.6 843.4h1.0v1.0h-1.0zM123.4 851.6h1.0v1.0h-1.0zM130.4 826.4h1.0v1.0h-1.0zM133.1 842.4h1.0v1.0h-1.0z" fill="#8f8cd2"/>
</g>
<rect x="67.00" y="815.00" width="84.5" height="84.0" fill="none" stroke="#777" stroke-width="0.8"/>
<line x1="93.30" y1="815.00" x2="93.30" y2="899.00" stroke="#333" stroke-width="0.9"/>
<line x1="67.00" y1="873.00" x2="151.50" y2="873.00" stroke="#333" stroke-width="0.9"/>
<line x1="64.50" y1="823.00" x2="67.00" y2="823.00" stroke="#444" stroke-width="0.8"/>
<line x1="64.50" y1="843.60" x2="67.00" y2="843.60" stroke="#444" stroke-width="0.8"/>
<line x1="64.50" y1="866.00" x2="67.00" y2="866.00" stroke="#444" stroke-width="0.8"/>
<line x1="64.50" y1="879.70" x2="67.00" y2="879.70" stroke="#444" stroke-width="0.8"/>
<line x1="64.50" y1="893.40" x2="67.00" y2="893.40" stroke="#444" stroke-width="0.8"/>
<line x1="65.70" y1="837.40" x2="67.00" y2="837.40" stroke="#777" stroke-width="0.5"/>
<line x1="65.70" y1="833.77" x2="67.00" y2="833.77" stroke="#777" stroke-width="0.5"/>
<line x1="65.70" y1="831.20" x2="67.00" y2="831.20" stroke="#777" stroke-width="0.5"/>
<line x1="65.70" y1="829.20" x2="67.00" y2="829.20" stroke="#777" stroke-width="0.5"/>
<line x1="65.70" y1="827.57" x2="67.00" y2="827.57" stroke="#777" stroke-width="0.5"/>
<line x1="65.70" y1="826.19" x2="67.00" y2="826.19" stroke="#777" stroke-width="0.5"/>
<line x1="65.70" y1="825.00" x2="67.00" y2="825.00" stroke="#777" stroke-width="0.5"/>
<line x1="65.70" y1="823.94" x2="67.00" y2="823.94" stroke="#777" stroke-width="0.5"/>
<line x1="65.70" y1="859.26" x2="67.00" y2="859.26" stroke="#777" stroke-width="0.5"/>
<line x1="65.70" y1="855.31" x2="67.00" y2="855.31" stroke="#777" stroke-width="0.5"/>
<line x1="65.70" y1="852.51" x2="67.00" y2="852.51" stroke="#777" stroke-width="0.5"/>
<line x1="65.70" y1="850.34" x2="67.00" y2="850.34" stroke="#777" stroke-width="0.5"/>
<line x1="65.70" y1="848.57" x2="67.00" y2="848.57" stroke="#777" stroke-width="0.5"/>
<line x1="65.70" y1="847.07" x2="67.00" y2="847.07" stroke="#777" stroke-width="0.5"/>
<line x1="65.70" y1="845.77" x2="67.00" y2="845.77" stroke="#777" stroke-width="0.5"/>
<line x1="65.70" y1="844.62" x2="67.00" y2="844.62" stroke="#777" stroke-width="0.5"/>
<line x1="72.00" y1="899.00" x2="72.00" y2="901.50" stroke="#444" stroke-width="0.8"/>
<line x1="86.50" y1="899.00" x2="86.50" y2="901.50" stroke="#444" stroke-width="0.8"/>
<line x1="100.00" y1="899.00" x2="100.00" y2="901.50" stroke="#444" stroke-width="0.8"/>
<line x1="123.80" y1="899.00" x2="123.80" y2="901.50" stroke="#444" stroke-width="0.8"/>
<line x1="145.00" y1="899.00" x2="145.00" y2="901.50" stroke="#444" stroke-width="0.8"/>
<line x1="107.16" y1="899.00" x2="107.16" y2="900.30" stroke="#777" stroke-width="0.5"/>
<line x1="111.36" y1="899.00" x2="111.36" y2="900.30" stroke="#777" stroke-width="0.5"/>
<line x1="114.33" y1="899.00" x2="114.33" y2="900.30" stroke="#777" stroke-width="0.5"/>
<line x1="116.64" y1="899.00" x2="116.64" y2="900.30" stroke="#777" stroke-width="0.5"/>
<line x1="118.52" y1="899.00" x2="118.52" y2="900.30" stroke="#777" stroke-width="0.5"/>
<line x1="120.11" y1="899.00" x2="120.11" y2="900.30" stroke="#777" stroke-width="0.5"/>
<line x1="121.49" y1="899.00" x2="121.49" y2="900.30" stroke="#777" stroke-width="0.5"/>
<line x1="122.71" y1="899.00" x2="122.71" y2="900.30" stroke="#777" stroke-width="0.5"/>
<line x1="130.18" y1="899.00" x2="130.18" y2="900.30" stroke="#777" stroke-width="0.5"/>
<line x1="133.91" y1="899.00" x2="133.91" y2="900.30" stroke="#777" stroke-width="0.5"/>
<line x1="136.56" y1="899.00" x2="136.56" y2="900.30" stroke="#777" stroke-width="0.5"/>
<line x1="138.62" y1="899.00" x2="138.62" y2="900.30" stroke="#777" stroke-width="0.5"/>
<line x1="140.30" y1="899.00" x2="140.30" y2="900.30" stroke="#777" stroke-width="0.5"/>
<line x1="141.72" y1="899.00" x2="141.72" y2="900.30" stroke="#777" stroke-width="0.5"/>
<line x1="142.95" y1="899.00" x2="142.95" y2="900.30" stroke="#777" stroke-width="0.5"/>
<line x1="144.03" y1="899.00" x2="144.03" y2="900.30" stroke="#777" stroke-width="0.5"/>
<text x="50.05" y="825.50" font-size="7.2" fill="#111">10<tspan font-size="5.30" dy="-3.5">5</tspan></text>
<text x="50.05" y="846.10" font-size="7.2" fill="#111">10<tspan font-size="5.30" dy="-3.5">4</tspan></text>
<text x="50.05" y="868.50" font-size="7.2" fill="#111">10<tspan font-size="5.30" dy="-3.5">3</tspan></text>
<text x="61.00" y="882.20" font-size="7.2" text-anchor="end" font-weight="normal" fill="#111" >0</text>
<text x="45.84" y="895.90" font-size="7.2" fill="#111">−10<tspan font-size="5.30" dy="-3.5">3</tspan></text>
<text x="64.42" y="911.20" font-size="7.2" fill="#111">−10<tspan font-size="5.30" dy="-3.5">3</tspan></text>
<text x="86.50" y="911.20" font-size="7.2" text-anchor="middle" font-weight="normal" fill="#111" >0</text>
<text x="94.52" y="911.20" font-size="7.2" fill="#111">10<tspan font-size="5.30" dy="-3.5">3</tspan></text>
<text x="118.32" y="911.20" font-size="7.2" fill="#111">10<tspan font-size="5.30" dy="-3.5">4</tspan></text>
<text x="139.52" y="911.20" font-size="7.2" fill="#111">10<tspan font-size="5.30" dy="-3.5">5</tspan></text>
<rect x="65.40" y="878.20" width="2" height="3" fill="#111"/>
<rect x="84.50" y="898.40" width="4" height="1.8" fill="#111"/>
<text x="68.50" y="822.00" font-size="6.4" text-anchor="start" font-weight="bold" fill="#222" >0</text>
<text x="68.70" y="894.00" font-size="6.4" text-anchor="start" font-weight="bold" fill="#222" >0</text>
<text x="149.70" y="821.90" font-size="5.7" text-anchor="end" font-weight="bold" fill="#000" >95.8 %</text>
<text x="147.60" y="894.60" font-size="5.7" text-anchor="end" font-weight="bold" fill="#000" >4.20%</text>
<text x="72.10" y="810.20" font-size="7.3" text-anchor="start" font-weight="normal" fill="#111" >+ SFLLRN</text>
<g filter="url(#bl)">
<path d="M231.2 855.1h1.0v1.0h-1.0zM237.5 867.0h1.0v1.0h-1.0zM233.1 832.8h1.0v1.0h-1.0zM238.4 852.9h1.0v1.0h-1.0zM233.5 854.2h1.0v1.0h-1.0zM234.6 858.9h1.0v1.0h-1.0zM231.4 831.2h1.0v1.0h-1.0zM240.4 837.9h1.0v1.0h-1.0zM233.0 860.2h1.0v1.0h-1.0zM237.3 827.5h1.0v1.0h-1.0zM236.3 853.2h1.0v1.0h-1.0zM231.9 852.6h1.0v1.0h-1.0zM231.4 836.9h1.0v1.0h-1.0zM231.0 830.2h1.0v1.0h-1.0zM241.2 840.2h1.0v1.0h-1.0zM241.4 841.9h1.0v1.0h-1.0zM237.0 863.6h1.0v1.0h-1.0zM237.9 825.6h1.0v1.0h-1.0zM236.8 851.7h1.0v1.0h-1.0zM232.1 824.7h1.0v1.0h-1.0zM240.1 845.7h1.0v1.0h-1.0zM232.2 842.6h1.0v1.0h-1.0zM232.5 859.9h1.0v1.0h-1.0zM235.8 825.1h1.0v1.0h-1.0zM239.4 824.5h1.0v1.0h-1.0zM233.2 821.4h1.0v1.0h-1.0zM238.5 825.7h1.0v1.0h-1.0zM236.0 824.6h1.0v1.0h-1.0zM235.5 854.3h1.0v1.0h-1.0zM236.2 842.8h1.0v1.0h-1.0zM235.6 841.9h1.0v1.0h-1.0zM236.8 824.7h1.0v1.0h-1.0zM235.5 831.8h1.0v1.0h-1.0zM240.0 867.0h1.0v1.0h-1.0zM230.8 827.2h1.0v1.0h-1.0zM238.1 848.6h1.0v1.0h-1.0zM230.2 855.2h1.0v1.0h-1.0zM240.9 841.2h1.0v1.0h-1.0zM234.0 848.5h1.0v1.0h-1.0zM240.8 833.2h1.0v1.0h-1.0zM233.5 829.4h1.0v1.0h-1.0zM237.2 843.5h1.0v1.0h-1.0zM232.9 839.4h1.0v1.0h-1.0zM230.4 835.6h1.0v1.0h-1.0zM241.3 849.3h1.0v1.0h-1.0zM233.2 866.8h1.0v1.0h-1.0zM234.1 832.6h1.0v1.0h-1.0zM230.4 827.3h1.0v1.0h-1.0zM232.3 831.5h1.0v1.0h-1.0zM240.0 833.2h1.0v1.0h-1.0zM246.4 852.0h1.0v1.0h-1.0zM254.0 835.4h1.0v1.0h-1.0zM252.3 839.5h1.0v1.0h-1.0zM250.0 851.6h1.0v1.0h-1.0zM254.3 860.1h1.0v1.0h-1.0zM249.3 864.6h1.0v1.0h-1.0zM247.7 840.4h1.0v1.0h-1.0zM254.5 848.9h1.0v1.0h-1.0zM252.4 836.7h1.0v1.0h-1.0zM254.0 852.5h1.0v1.0h-1.0zM246.3 869.5h1.0v1.0h-1.0zM248.9 838.0h1.0v1.0h-1.0zM246.5 825.5h1.0v1.0h-1.0zM245.8 856.7h1.0v1.0h-1.0zM245.1 833.7h1.0v1.0h-1.0zM248.6 848.9h1.0v1.0h-1.0zM247.9 861.6h1.0v1.0h-1.0zM246.5 839.5h1.0v1.0h-1.0zM248.4 826.8h1.0v1.0h-1.0zM246.1 827.8h1.0v1.0h-1.0zM251.8 827.8h1.0v1.0h-1.0zM251.2 831.8h1.0v1.0h-1.0zM250.9 854.8h1.0v1.0h-1.0zM247.6 869.5h1.0v1.0h-1.0zM251.1 849.5h1.0v1.0h-1.0zM244.0 841.5h1.0v1.0h-1.0zM246.6 844.9h1.0v1.0h-1.0zM254.2 865.8h1.0v1.0h-1.0zM244.2 856.0h1.0v1.0h-1.0zM254.2 848.7h1.0v1.0h-1.0zM244.6 865.9h1.0v1.0h-1.0zM248.4 872.0h1.0v1.0h-1.0zM253.6 863.9h1.0v1.0h-1.0zM254.2 823.6h1.0v1.0h-1.0zM252.6 836.2h1.0v1.0h-1.0zM245.1 840.1h1.0v1.0h-1.0zM250.3 820.3h1.0v1.0h-1.0zM248.7 861.6h1.0v1.0h-1.0zM249.2 848.0h1.0v1.0h-1.0zM246.9 871.5h1.0v1.0h-1.0zM246.4 856.1h1.0v1.0h-1.0zM250.9 820.0h1.0v1.0h-1.0zM255.0 832.5h1.0v1.0h-1.0zM254.9 869.2h1.0v1.0h-1.0zM253.9 865.3h1.0v1.0h-1.0zM248.1 843.6h1.0v1.0h-1.0zM247.5 869.6h1.0v1.0h-1.0zM243.8 827.3h1.0v1.0h-1.0zM254.5 862.7h1.0v1.0h-1.0zM251.6 871.3h1.0v1.0h-1.0zM249.5 864.3h1.0v1.0h-1.0zM248.6 867.7h1.0v1.0h-1.0zM244.3 843.2h1.0v1.0h-1.0zM250.1 862.1h1.0v1.0h-1.0zM248.4 856.1h1.0v1.0h-1.0zM254.6 842.2h1.0v1.0h-1.0zM245.8 821.6h1.0v1.0h-1.0zM253.4 845.2h1.0v1.0h-1.0zM248.0 847.5h1.0v1.0h-1.0zM244.9 831.8h1.0v1.0h-1.0zM246.2 833.5h1.0v1.0h-1.0zM253.4 833.1h1.0v1.0h-1.0zM244.5 865.9h1.0v1.0h-1.0zM249.9 821.5h1.0v1.0h-1.0zM251.3 856.4h1.0v1.0h-1.0zM251.0 861.1h1.0v1.0h-1.0zM248.4 831.9h1.0v1.0h-1.0zM252.1 853.1h1.0v1.0h-1.0zM251.6 829.7h1.0v1.0h-1.0zM247.8 856.6h1.0v1.0h-1.0zM247.9 851.9h1.0v1.0h-1.0zM248.9 860.0h1.0v1.0h-1.0zM247.5 846.4h1.0v1.0h-1.0zM253.0 836.5h1.0v1.0h-1.0zM245.5 853.7h1.0v1.0h-1.0zM245.0 865.4h1.0v1.0h-1.0zM246.7 867.9h1.0v1.0h-1.0zM249.6 828.2h1.0v1.0h-1.0zM249.5 856.2h1.0v1.0h-1.0zM249.1 853.7h1.0v1.0h-1.0z" fill="#a9aae0"/>
<path d="M244.2 870.8h1.0v1.0h-1.0zM251.3 866.9h1.0v1.0h-1.0zM252.3 845.7h1.0v1.0h-1.0zM250.4 846.2h1.0v1.0h-1.0zM243.8 825.8h1.0v1.0h-1.0zM248.0 857.2h1.0v1.0h-1.0zM245.2 846.1h1.0v1.0h-1.0zM247.5 854.3h1.0v1.0h-1.0zM251.2 827.8h1.0v1.0h-1.0zM245.9 865.1h1.0v1.0h-1.0zM252.0 842.9h1.0v1.0h-1.0zM251.4 844.2h1.0v1.0h-1.0zM250.4 837.5h1.0v1.0h-1.0zM250.6 868.2h1.0v1.0h-1.0zM253.1 862.2h1.0v1.0h-1.0zM249.4 857.7h1.0v1.0h-1.0zM247.9 838.9h1.0v1.0h-1.0zM249.5 827.1h1.0v1.0h-1.0zM249.6 817.7h1.0v1.0h-1.0zM253.6 855.9h1.0v1.0h-1.0zM249.9 832.9h1.0v1.0h-1.0zM247.4 837.5h1.0v1.0h-1.0zM244.5 837.0h1.0v1.0h-1.0zM246.5 855.9h1.0v1.0h-1.0zM252.8 865.0h1.0v1.0h-1.0zM245.3 822.8h1.0v1.0h-1.0zM253.0 855.0h1.0v1.0h-1.0zM252.0 853.3h1.0v1.0h-1.0zM249.7 875.1h1.0v1.0h-1.0zM251.5 853.5h1.0v1.0h-1.0zM246.3 845.7h1.0v1.0h-1.0zM252.8 851.8h1.0v1.0h-1.0zM251.6 840.5h1.0v1.0h-1.0zM251.0 834.9h1.0v1.0h-1.0zM248.6 859.3h1.0v1.0h-1.0zM253.8 838.6h1.0v1.0h-1.0zM248.5 839.8h1.0v1.0h-1.0zM248.5 843.8h1.0v1.0h-1.0zM251.5 848.5h1.0v1.0h-1.0zM249.0 850.0h1.0v1.0h-1.0zM244.1 841.1h1.0v1.0h-1.0zM254.6 828.0h1.0v1.0h-1.0zM247.4 847.2h1.0v1.0h-1.0zM251.9 839.4h1.0v1.0h-1.0zM246.1 866.3h1.0v1.0h-1.0zM242.5 829.8h1.0v1.0h-1.0zM252.8 872.5h1.0v1.0h-1.0zM244.8 837.0h1.0v1.0h-1.0zM248.3 853.7h1.0v1.0h-1.0zM248.5 851.8h1.0v1.0h-1.0zM250.4 841.1h1.0v1.0h-1.0zM249.2 864.2h1.0v1.0h-1.0zM249.5 853.0h1.0v1.0h-1.0zM249.0 854.0h1.0v1.0h-1.0zM253.6 844.6h1.0v1.0h-1.0zM247.7 832.1h1.0v1.0h-1.0zM251.9 831.6h1.0v1.0h-1.0zM250.4 881.2h1.0v1.0h-1.0zM249.6 870.1h1.0v1.0h-1.0zM249.1 842.0h1.0v1.0h-1.0zM250.7 830.2h1.0v1.0h-1.0zM242.2 842.5h1.0v1.0h-1.0zM247.0 846.3h1.0v1.0h-1.0zM254.5 852.6h1.0v1.0h-1.0zM244.8 849.6h1.0v1.0h-1.0zM255.0 829.3h1.0v1.0h-1.0zM242.9 842.1h1.0v1.0h-1.0zM248.5 850.2h1.0v1.0h-1.0zM248.6 840.2h1.0v1.0h-1.0zM251.4 840.7h1.0v1.0h-1.0zM246.9 848.7h1.0v1.0h-1.0zM247.5 859.7h1.0v1.0h-1.0zM249.2 840.6h1.0v1.0h-1.0zM247.8 852.4h1.0v1.0h-1.0zM251.9 838.8h1.0v1.0h-1.0zM242.8 855.1h1.0v1.0h-1.0zM246.9 852.6h1.0v1.0h-1.0zM247.3 849.5h1.0v1.0h-1.0zM248.3 831.2h1.0v1.0h-1.0zM245.4 841.8h1.0v1.0h-1.0zM249.5 818.5h1.0v1.0h-1.0zM242.2 847.3h1.0v1.0h-1.0zM255.2 831.2h1.0v1.0h-1.0zM248.3 826.9h1.0v1.0h-1.0zM245.5 865.9h1.0v1.0h-1.0zM244.4 847.1h1.0v1.0h-1.0zM247.0 852.3h1.0v1.0h-1.0zM253.5 845.7h1.0v1.0h-1.0zM248.2 860.0h1.0v1.0h-1.0zM252.9 835.5h1.0v1.0h-1.0zM249.7 877.3h1.0v1.0h-1.0zM251.7 848.2h1.0v1.0h-1.0zM253.8 829.8h1.0v1.0h-1.0zM244.3 826.1h1.0v1.0h-1.0zM249.4 846.8h1.0v1.0h-1.0zM247.1 876.1h1.0v1.0h-1.0zM251.4 846.3h1.0v1.0h-1.0zM247.1 842.5h1.0v1.0h-1.0zM249.9 837.8h1.0v1.0h-1.0zM257.3 869.5h1.0v1.0h-1.0zM251.0 843.8h1.0v1.0h-1.0zM244.2 859.8h1.0v1.0h-1.0zM247.1 859.7h1.0v1.0h-1.0zM250.3 823.4h1.0v1.0h-1.0zM249.2 840.6h1.0v1.0h-1.0zM248.4 842.2h1.0v1.0h-1.0zM249.4 840.3h1.0v1.0h-1.0zM251.5 851.9h1.0v1.0h-1.0zM248.7 841.3h1.0v1.0h-1.0zM248.2 837.6h1.0v1.0h-1.0zM248.6 846.9h1.0v1.0h-1.0zM249.3 829.9h1.0v1.0h-1.0zM249.0 881.4h1.0v1.0h-1.0zM244.0 858.7h1.0v1.0h-1.0zM246.8 819.4h1.0v1.0h-1.0zM244.1 841.0h1.0v1.0h-1.0zM246.8 843.1h1.0v1.0h-1.0zM248.2 843.6h1.0v1.0h-1.0zM247.8 831.0h1.0v1.0h-1.0zM251.1 867.1h1.0v1.0h-1.0zM246.6 840.9h1.0v1.0h-1.0zM254.8 826.6h1.0v1.0h-1.0zM245.9 851.6h1.0v1.0h-1.0zM251.6 843.0h1.0v1.0h-1.0zM252.3 841.6h1.0v1.0h-1.0zM249.7 842.9h1.0v1.0h-1.0zM250.0 843.6h1.0v1.0h-1.0zM253.2 854.5h1.0v1.0h-1.0zM253.7 841.1h1.0v1.0h-1.0zM246.8 834.0h1.0v1.0h-1.0zM247.9 848.4h1.0v1.0h-1.0zM247.9 847.6h1.0v1.0h-1.0zM250.3 825.7h1.0v1.0h-1.0zM245.1 863.4h1.0v1.0h-1.0zM247.2 871.9h1.0v1.0h-1.0z" fill="#8f8cd2"/>
</g>
<rect x="187.50" y="815.00" width="84.5" height="84.0" fill="none" stroke="#777" stroke-width="0.8"/>
<line x1="214.50" y1="815.00" x2="214.50" y2="899.00" stroke="#333" stroke-width="0.9"/>
<line x1="187.50" y1="873.20" x2="272.00" y2="873.20" stroke="#333" stroke-width="0.9"/>
<line x1="185.00" y1="823.00" x2="187.50" y2="823.00" stroke="#444" stroke-width="0.8"/>
<line x1="185.00" y1="843.60" x2="187.50" y2="843.60" stroke="#444" stroke-width="0.8"/>
<line x1="185.00" y1="866.00" x2="187.50" y2="866.00" stroke="#444" stroke-width="0.8"/>
<line x1="185.00" y1="879.70" x2="187.50" y2="879.70" stroke="#444" stroke-width="0.8"/>
<line x1="185.00" y1="893.40" x2="187.50" y2="893.40" stroke="#444" stroke-width="0.8"/>
<line x1="186.20" y1="837.40" x2="187.50" y2="837.40" stroke="#777" stroke-width="0.5"/>
<line x1="186.20" y1="833.77" x2="187.50" y2="833.77" stroke="#777" stroke-width="0.5"/>
<line x1="186.20" y1="831.20" x2="187.50" y2="831.20" stroke="#777" stroke-width="0.5"/>
<line x1="186.20" y1="829.20" x2="187.50" y2="829.20" stroke="#777" stroke-width="0.5"/>
<line x1="186.20" y1="827.57" x2="187.50" y2="827.57" stroke="#777" stroke-width="0.5"/>
<line x1="186.20" y1="826.19" x2="187.50" y2="826.19" stroke="#777" stroke-width="0.5"/>
<line x1="186.20" y1="825.00" x2="187.50" y2="825.00" stroke="#777" stroke-width="0.5"/>
<line x1="186.20" y1="823.94" x2="187.50" y2="823.94" stroke="#777" stroke-width="0.5"/>
<line x1="186.20" y1="859.26" x2="187.50" y2="859.26" stroke="#777" stroke-width="0.5"/>
<line x1="186.20" y1="855.31" x2="187.50" y2="855.31" stroke="#777" stroke-width="0.5"/>
<line x1="186.20" y1="852.51" x2="187.50" y2="852.51" stroke="#777" stroke-width="0.5"/>
<line x1="186.20" y1="850.34" x2="187.50" y2="850.34" stroke="#777" stroke-width="0.5"/>
<line x1="186.20" y1="848.57" x2="187.50" y2="848.57" stroke="#777" stroke-width="0.5"/>
<line x1="186.20" y1="847.07" x2="187.50" y2="847.07" stroke="#777" stroke-width="0.5"/>
<line x1="186.20" y1="845.77" x2="187.50" y2="845.77" stroke="#777" stroke-width="0.5"/>
<line x1="186.20" y1="844.62" x2="187.50" y2="844.62" stroke="#777" stroke-width="0.5"/>
<line x1="192.50" y1="899.00" x2="192.50" y2="901.50" stroke="#444" stroke-width="0.8"/>
<line x1="207.00" y1="899.00" x2="207.00" y2="901.50" stroke="#444" stroke-width="0.8"/>
<line x1="220.50" y1="899.00" x2="220.50" y2="901.50" stroke="#444" stroke-width="0.8"/>
<line x1="244.30" y1="899.00" x2="244.30" y2="901.50" stroke="#444" stroke-width="0.8"/>
<line x1="265.50" y1="899.00" x2="265.50" y2="901.50" stroke="#444" stroke-width="0.8"/>
<line x1="227.66" y1="899.00" x2="227.66" y2="900.30" stroke="#777" stroke-width="0.5"/>
<line x1="231.86" y1="899.00" x2="231.86" y2="900.30" stroke="#777" stroke-width="0.5"/>
<line x1="234.83" y1="899.00" x2="234.83" y2="900.30" stroke="#777" stroke-width="0.5"/>
<line x1="237.14" y1="899.00" x2="237.14" y2="900.30" stroke="#777" stroke-width="0.5"/>
<line x1="239.02" y1="899.00" x2="239.02" y2="900.30" stroke="#777" stroke-width="0.5"/>
<line x1="240.61" y1="899.00" x2="240.61" y2="900.30" stroke="#777" stroke-width="0.5"/>
<line x1="241.99" y1="899.00" x2="241.99" y2="900.30" stroke="#777" stroke-width="0.5"/>
<line x1="243.21" y1="899.00" x2="243.21" y2="900.30" stroke="#777" stroke-width="0.5"/>
<line x1="250.68" y1="899.00" x2="250.68" y2="900.30" stroke="#777" stroke-width="0.5"/>
<line x1="254.41" y1="899.00" x2="254.41" y2="900.30" stroke="#777" stroke-width="0.5"/>
<line x1="257.06" y1="899.00" x2="257.06" y2="900.30" stroke="#777" stroke-width="0.5"/>
<line x1="259.12" y1="899.00" x2="259.12" y2="900.30" stroke="#777" stroke-width="0.5"/>
<line x1="260.80" y1="899.00" x2="260.80" y2="900.30" stroke="#777" stroke-width="0.5"/>
<line x1="262.22" y1="899.00" x2="262.22" y2="900.30" stroke="#777" stroke-width="0.5"/>
<line x1="263.45" y1="899.00" x2="263.45" y2="900.30" stroke="#777" stroke-width="0.5"/>
<line x1="264.53" y1="899.00" x2="264.53" y2="900.30" stroke="#777" stroke-width="0.5"/>
<text x="170.55" y="825.50" font-size="7.2" fill="#111">10<tspan font-size="5.30" dy="-3.5">5</tspan></text>
<text x="170.55" y="846.10" font-size="7.2" fill="#111">10<tspan font-size="5.30" dy="-3.5">4</tspan></text>
<text x="170.55" y="868.50" font-size="7.2" fill="#111">10<tspan font-size="5.30" dy="-3.5">3</tspan></text>
<text x="181.50" y="882.20" font-size="7.2" text-anchor="end" font-weight="normal" fill="#111" >0</text>
<text x="166.34" y="895.90" font-size="7.2" fill="#111">−10<tspan font-size="5.30" dy="-3.5">3</tspan></text>
<text x="184.92" y="911.20" font-size="7.2" fill="#111">−10<tspan font-size="5.30" dy="-3.5">3</tspan></text>
<text x="207.00" y="911.20" font-size="7.2" text-anchor="middle" font-weight="normal" fill="#111" >0</text>
<text x="215.02" y="911.20" font-size="7.2" fill="#111">10<tspan font-size="5.30" dy="-3.5">3</tspan></text>
<text x="238.82" y="911.20" font-size="7.2" fill="#111">10<tspan font-size="5.30" dy="-3.5">4</tspan></text>
<text x="260.02" y="911.20" font-size="7.2" fill="#111">10<tspan font-size="5.30" dy="-3.5">5</tspan></text>
<rect x="185.90" y="878.20" width="2" height="3" fill="#111"/>
<rect x="205.00" y="898.40" width="4" height="1.8" fill="#111"/>
<text x="189.00" y="822.00" font-size="6.4" text-anchor="start" font-weight="bold" fill="#222" >0</text>
<text x="189.20" y="894.00" font-size="6.4" text-anchor="start" font-weight="bold" fill="#222" >0</text>
<text x="270.20" y="821.90" font-size="5.7" text-anchor="end" font-weight="bold" fill="#000" >96.0 %</text>
<text x="268.10" y="894.60" font-size="5.7" text-anchor="end" font-weight="bold" fill="#000" >4.0 %</text>
<text x="191.10" y="810.20" font-size="7.3" text-anchor="start" font-weight="normal" fill="#111" >+ SFLLRN</text>
<g filter="url(#bl)">
<path d="M360.9 817.9h1.0v1.0h-1.0zM357.0 825.7h1.0v1.0h-1.0zM361.3 818.2h1.0v1.0h-1.0zM359.5 853.4h1.0v1.0h-1.0zM359.1 870.3h1.0v1.0h-1.0zM348.6 835.2h1.0v1.0h-1.0zM356.5 832.2h1.0v1.0h-1.0zM349.0 829.4h1.0v1.0h-1.0zM359.1 863.7h1.0v1.0h-1.0zM358.1 829.1h1.0v1.0h-1.0zM360.2 844.4h1.0v1.0h-1.0zM348.4 841.4h1.0v1.0h-1.0zM351.6 821.5h1.0v1.0h-1.0zM354.1 836.4h1.0v1.0h-1.0zM354.2 866.6h1.0v1.0h-1.0zM355.5 838.8h1.0v1.0h-1.0zM359.2 870.0h1.0v1.0h-1.0zM352.8 867.4h1.0v1.0h-1.0zM344.8 824.7h1.0v1.0h-1.0zM347.4 867.0h1.0v1.0h-1.0zM356.2 855.4h1.0v1.0h-1.0zM349.4 843.5h1.0v1.0h-1.0zM359.6 822.6h1.0v1.0h-1.0zM346.5 819.8h1.0v1.0h-1.0zM352.5 861.8h1.0v1.0h-1.0zM353.9 838.6h1.0v1.0h-1.0zM353.0 826.8h1.0v1.0h-1.0zM360.6 836.1h1.0v1.0h-1.0zM348.5 833.8h1.0v1.0h-1.0zM358.5 834.2h1.0v1.0h-1.0zM359.9 835.1h1.0v1.0h-1.0zM352.0 821.2h1.0v1.0h-1.0zM359.9 859.5h1.0v1.0h-1.0zM352.6 823.4h1.0v1.0h-1.0zM352.9 837.2h1.0v1.0h-1.0zM358.8 866.5h1.0v1.0h-1.0zM357.1 832.5h1.0v1.0h-1.0zM345.2 864.7h1.0v1.0h-1.0zM360.6 825.7h1.0v1.0h-1.0zM353.0 842.8h1.0v1.0h-1.0zM361.1 819.6h1.0v1.0h-1.0zM345.5 862.0h1.0v1.0h-1.0zM354.2 841.8h1.0v1.0h-1.0zM357.7 848.7h1.0v1.0h-1.0zM356.3 830.8h1.0v1.0h-1.0zM345.9 817.8h1.0v1.0h-1.0zM350.2 851.7h1.0v1.0h-1.0zM351.0 835.7h1.0v1.0h-1.0zM355.0 854.7h1.0v1.0h-1.0zM354.6 833.8h1.0v1.0h-1.0zM358.5 859.7h1.0v1.0h-1.0zM359.7 864.6h1.0v1.0h-1.0zM344.8 852.8h1.0v1.0h-1.0zM350.4 837.9h1.0v1.0h-1.0zM353.3 824.9h1.0v1.0h-1.0zM348.7 869.6h1.0v1.0h-1.0zM350.1 865.7h1.0v1.0h-1.0zM356.1 834.0h1.0v1.0h-1.0zM349.9 849.4h1.0v1.0h-1.0zM356.4 835.3h1.0v1.0h-1.0zM345.5 826.4h1.0v1.0h-1.0zM359.1 855.9h1.0v1.0h-1.0zM346.3 861.6h1.0v1.0h-1.0zM354.3 835.0h1.0v1.0h-1.0zM359.7 824.1h1.0v1.0h-1.0zM346.2 835.5h1.0v1.0h-1.0zM357.0 846.3h1.0v1.0h-1.0zM352.7 865.4h1.0v1.0h-1.0zM351.2 859.1h1.0v1.0h-1.0zM344.6 858.8h1.0v1.0h-1.0zM363.9 854.0h1.0v1.0h-1.0zM370.0 854.0h1.0v1.0h-1.0zM367.7 848.1h1.0v1.0h-1.0zM369.3 838.0h1.0v1.0h-1.0zM364.6 848.5h1.0v1.0h-1.0zM367.2 823.8h1.0v1.0h-1.0zM367.3 843.4h1.0v1.0h-1.0zM363.9 856.9h1.0v1.0h-1.0zM369.5 836.3h1.0v1.0h-1.0zM370.3 872.6h1.0v1.0h-1.0zM368.5 840.1h1.0v1.0h-1.0zM365.0 824.6h1.0v1.0h-1.0zM365.0 873.2h1.0v1.0h-1.0zM363.0 868.6h1.0v1.0h-1.0zM368.8 861.2h1.0v1.0h-1.0zM363.4 853.5h1.0v1.0h-1.0zM364.3 855.2h1.0v1.0h-1.0zM369.6 857.7h1.0v1.0h-1.0zM367.3 866.8h1.0v1.0h-1.0zM364.6 826.1h1.0v1.0h-1.0zM370.3 820.4h1.0v1.0h-1.0zM366.3 840.8h1.0v1.0h-1.0zM370.4 838.1h1.0v1.0h-1.0zM367.6 845.4h1.0v1.0h-1.0zM366.8 843.8h1.0v1.0h-1.0zM366.7 850.7h1.0v1.0h-1.0zM366.4 841.0h1.0v1.0h-1.0zM370.8 872.0h1.0v1.0h-1.0zM364.7 870.3h1.0v1.0h-1.0zM362.7 835.9h1.0v1.0h-1.0zM370.6 826.8h1.0v1.0h-1.0zM368.5 873.0h1.0v1.0h-1.0zM368.0 843.0h1.0v1.0h-1.0zM362.8 842.6h1.0v1.0h-1.0zM366.7 861.5h1.0v1.0h-1.0zM366.0 862.4h1.0v1.0h-1.0zM366.1 852.9h1.0v1.0h-1.0zM369.3 826.6h1.0v1.0h-1.0zM371.1 842.5h1.0v1.0h-1.0zM366.8 871.8h1.0v1.0h-1.0zM367.6 846.4h1.0v1.0h-1.0zM364.4 829.6h1.0v1.0h-1.0zM369.3 845.6h1.0v1.0h-1.0zM368.4 856.2h1.0v1.0h-1.0zM368.6 835.4h1.0v1.0h-1.0zM370.3 842.5h1.0v1.0h-1.0zM364.1 865.9h1.0v1.0h-1.0zM370.6 824.0h1.0v1.0h-1.0zM370.5 855.8h1.0v1.0h-1.0zM364.9 849.5h1.0v1.0h-1.0zM370.8 825.8h1.0v1.0h-1.0zM368.4 830.8h1.0v1.0h-1.0zM363.8 870.5h1.0v1.0h-1.0zM371.5 854.0h1.0v1.0h-1.0zM369.6 839.4h1.0v1.0h-1.0zM366.4 851.7h1.0v1.0h-1.0zM369.8 856.5h1.0v1.0h-1.0zM366.7 852.4h1.0v1.0h-1.0zM366.1 862.7h1.0v1.0h-1.0zM370.3 860.6h1.0v1.0h-1.0zM365.4 838.6h1.0v1.0h-1.0zM371.3 838.5h1.0v1.0h-1.0zM368.5 822.7h1.0v1.0h-1.0zM363.7 829.9h1.0v1.0h-1.0zM368.6 830.1h1.0v1.0h-1.0z" fill="#a9aae0"/>
<path d="M365.9 835.8h1.0v1.0h-1.0zM364.8 820.0h1.0v1.0h-1.0zM366.4 850.6h1.0v1.0h-1.0zM366.5 856.6h1.0v1.0h-1.0zM367.4 849.7h1.0v1.0h-1.0zM368.4 854.7h1.0v1.0h-1.0zM363.1 834.0h1.0v1.0h-1.0zM365.5 821.3h1.0v1.0h-1.0zM366.8 836.5h1.0v1.0h-1.0zM366.7 830.4h1.0v1.0h-1.0zM364.7 851.4h1.0v1.0h-1.0zM362.5 838.0h1.0v1.0h-1.0zM364.3 834.0h1.0v1.0h-1.0zM363.7 856.0h1.0v1.0h-1.0zM369.2 834.6h1.0v1.0h-1.0zM372.4 841.7h1.0v1.0h-1.0zM370.9 822.8h1.0v1.0h-1.0zM364.5 829.3h1.0v1.0h-1.0zM372.7 852.9h1.0v1.0h-1.0zM365.1 843.1h1.0v1.0h-1.0zM365.9 837.3h1.0v1.0h-1.0zM363.4 852.5h1.0v1.0h-1.0zM367.4 827.8h1.0v1.0h-1.0zM367.4 852.4h1.0v1.0h-1.0zM367.1 834.8h1.0v1.0h-1.0zM368.3 850.2h1.0v1.0h-1.0zM372.4 831.7h1.0v1.0h-1.0zM367.4 839.4h1.0v1.0h-1.0zM364.8 840.2h1.0v1.0h-1.0zM361.9 827.6h1.0v1.0h-1.0zM361.9 842.7h1.0v1.0h-1.0zM365.0 825.2h1.0v1.0h-1.0zM364.8 846.9h1.0v1.0h-1.0zM373.2 834.0h1.0v1.0h-1.0zM369.0 823.6h1.0v1.0h-1.0zM365.0 840.5h1.0v1.0h-1.0zM367.1 831.8h1.0v1.0h-1.0zM371.9 828.6h1.0v1.0h-1.0zM365.1 870.1h1.0v1.0h-1.0zM368.4 847.3h1.0v1.0h-1.0zM370.5 867.9h1.0v1.0h-1.0zM366.6 855.5h1.0v1.0h-1.0zM366.5 826.2h1.0v1.0h-1.0zM363.7 825.9h1.0v1.0h-1.0zM361.5 862.3h1.0v1.0h-1.0zM364.1 820.3h1.0v1.0h-1.0zM366.0 821.0h1.0v1.0h-1.0zM369.7 867.5h1.0v1.0h-1.0zM367.8 838.0h1.0v1.0h-1.0zM365.2 847.0h1.0v1.0h-1.0zM369.2 853.9h1.0v1.0h-1.0zM365.0 843.3h1.0v1.0h-1.0zM361.9 842.8h1.0v1.0h-1.0zM369.3 855.5h1.0v1.0h-1.0zM363.4 818.0h1.0v1.0h-1.0zM372.7 840.1h1.0v1.0h-1.0zM365.6 844.5h1.0v1.0h-1.0zM365.6 847.7h1.0v1.0h-1.0zM368.2 829.6h1.0v1.0h-1.0zM362.0 831.9h1.0v1.0h-1.0zM356.2 852.4h1.0v1.0h-1.0zM364.3 824.4h1.0v1.0h-1.0zM367.6 849.3h1.0v1.0h-1.0zM365.3 826.3h1.0v1.0h-1.0zM361.1 826.5h1.0v1.0h-1.0zM364.0 816.4h1.0v1.0h-1.0zM365.7 844.2h1.0v1.0h-1.0zM365.4 870.2h1.0v1.0h-1.0zM366.6 847.4h1.0v1.0h-1.0zM377.7 864.4h1.0v1.0h-1.0zM366.8 845.7h1.0v1.0h-1.0zM365.9 843.5h1.0v1.0h-1.0zM365.9 819.1h1.0v1.0h-1.0zM362.2 850.8h1.0v1.0h-1.0zM371.8 843.1h1.0v1.0h-1.0zM363.4 822.1h1.0v1.0h-1.0zM371.1 867.2h1.0v1.0h-1.0zM369.9 838.9h1.0v1.0h-1.0zM365.0 855.6h1.0v1.0h-1.0zM365.6 825.2h1.0v1.0h-1.0zM359.4 830.9h1.0v1.0h-1.0zM365.7 826.9h1.0v1.0h-1.0zM371.0 827.0h1.0v1.0h-1.0zM370.0 842.5h1.0v1.0h-1.0zM365.7 851.6h1.0v1.0h-1.0zM362.6 859.7h1.0v1.0h-1.0zM364.8 833.6h1.0v1.0h-1.0zM368.1 843.6h1.0v1.0h-1.0zM363.8 852.7h1.0v1.0h-1.0zM363.3 840.5h1.0v1.0h-1.0zM364.0 838.2h1.0v1.0h-1.0zM368.5 837.4h1.0v1.0h-1.0zM363.5 855.4h1.0v1.0h-1.0zM368.1 828.2h1.0v1.0h-1.0zM365.0 832.3h1.0v1.0h-1.0zM372.6 870.8h1.0v1.0h-1.0zM369.9 872.0h1.0v1.0h-1.0zM368.1 870.7h1.0v1.0h-1.0zM360.7 869.8h1.0v1.0h-1.0zM366.7 868.3h1.0v1.0h-1.0zM370.2 870.5h1.0v1.0h-1.0zM365.8 864.5h1.0v1.0h-1.0zM368.5 873.1h1.0v1.0h-1.0zM362.2 866.9h1.0v1.0h-1.0zM368.5 866.8h1.0v1.0h-1.0zM366.6 869.5h1.0v1.0h-1.0zM369.4 870.0h1.0v1.0h-1.0zM367.1 869.4h1.0v1.0h-1.0zM360.8 869.8h1.0v1.0h-1.0zM369.4 869.6h1.0v1.0h-1.0zM366.4 870.0h1.0v1.0h-1.0zM367.5 871.5h1.0v1.0h-1.0zM368.8 867.5h1.0v1.0h-1.0zM361.0 872.8h1.0v1.0h-1.0zM364.6 870.2h1.0v1.0h-1.0zM369.8 868.8h1.0v1.0h-1.0zM370.4 870.2h1.0v1.0h-1.0zM360.7 870.2h1.0v1.0h-1.0zM366.2 870.5h1.0v1.0h-1.0zM365.5 876.4h1.0v1.0h-1.0zM369.6 872.5h1.0v1.0h-1.0zM364.7 870.0h1.0v1.0h-1.0zM367.0 874.1h1.0v1.0h-1.0zM362.1 873.6h1.0v1.0h-1.0zM369.1 871.3h1.0v1.0h-1.0zM367.1 868.8h1.0v1.0h-1.0zM365.4 873.5h1.0v1.0h-1.0zM367.7 873.5h1.0v1.0h-1.0zM367.9 869.3h1.0v1.0h-1.0zM368.5 874.8h1.0v1.0h-1.0zM370.6 871.9h1.0v1.0h-1.0zM362.1 872.4h1.0v1.0h-1.0zM361.5 874.7h1.0v1.0h-1.0zM364.1 867.5h1.0v1.0h-1.0zM369.0 871.8h1.0v1.0h-1.0z" fill="#8f8cd2"/>
</g>
<rect x="307.50" y="815.30" width="84.5" height="84.0" fill="none" stroke="#777" stroke-width="0.8"/>
<line x1="334.50" y1="815.30" x2="334.50" y2="899.30" stroke="#333" stroke-width="0.9"/>
<line x1="307.50" y1="873.00" x2="392.00" y2="873.00" stroke="#333" stroke-width="0.9"/>
<line x1="305.00" y1="823.30" x2="307.50" y2="823.30" stroke="#444" stroke-width="0.8"/>
<line x1="305.00" y1="843.90" x2="307.50" y2="843.90" stroke="#444" stroke-width="0.8"/>
<line x1="305.00" y1="866.30" x2="307.50" y2="866.30" stroke="#444" stroke-width="0.8"/>
<line x1="305.00" y1="880.00" x2="307.50" y2="880.00" stroke="#444" stroke-width="0.8"/>
<line x1="305.00" y1="893.70" x2="307.50" y2="893.70" stroke="#444" stroke-width="0.8"/>
<line x1="306.20" y1="837.70" x2="307.50" y2="837.70" stroke="#777" stroke-width="0.5"/>
<line x1="306.20" y1="834.07" x2="307.50" y2="834.07" stroke="#777" stroke-width="0.5"/>
<line x1="306.20" y1="831.50" x2="307.50" y2="831.50" stroke="#777" stroke-width="0.5"/>
<line x1="306.20" y1="829.50" x2="307.50" y2="829.50" stroke="#777" stroke-width="0.5"/>
<line x1="306.20" y1="827.87" x2="307.50" y2="827.87" stroke="#777" stroke-width="0.5"/>
<line x1="306.20" y1="826.49" x2="307.50" y2="826.49" stroke="#777" stroke-width="0.5"/>
<line x1="306.20" y1="825.30" x2="307.50" y2="825.30" stroke="#777" stroke-width="0.5"/>
<line x1="306.20" y1="824.24" x2="307.50" y2="824.24" stroke="#777" stroke-width="0.5"/>
<line x1="306.20" y1="859.56" x2="307.50" y2="859.56" stroke="#777" stroke-width="0.5"/>
<line x1="306.20" y1="855.61" x2="307.50" y2="855.61" stroke="#777" stroke-width="0.5"/>
<line x1="306.20" y1="852.81" x2="307.50" y2="852.81" stroke="#777" stroke-width="0.5"/>
<line x1="306.20" y1="850.64" x2="307.50" y2="850.64" stroke="#777" stroke-width="0.5"/>
<line x1="306.20" y1="848.87" x2="307.50" y2="848.87" stroke="#777" stroke-width="0.5"/>
<line x1="306.20" y1="847.37" x2="307.50" y2="847.37" stroke="#777" stroke-width="0.5"/>
<line x1="306.20" y1="846.07" x2="307.50" y2="846.07" stroke="#777" stroke-width="0.5"/>
<line x1="306.20" y1="844.92" x2="307.50" y2="844.92" stroke="#777" stroke-width="0.5"/>
<line x1="312.50" y1="899.30" x2="312.50" y2="901.80" stroke="#444" stroke-width="0.8"/>
<line x1="327.00" y1="899.30" x2="327.00" y2="901.80" stroke="#444" stroke-width="0.8"/>
<line x1="340.50" y1="899.30" x2="340.50" y2="901.80" stroke="#444" stroke-width="0.8"/>
<line x1="364.30" y1="899.30" x2="364.30" y2="901.80" stroke="#444" stroke-width="0.8"/>
<line x1="385.50" y1="899.30" x2="385.50" y2="901.80" stroke="#444" stroke-width="0.8"/>
<line x1="347.66" y1="899.30" x2="347.66" y2="900.60" stroke="#777" stroke-width="0.5"/>
<line x1="351.86" y1="899.30" x2="351.86" y2="900.60" stroke="#777" stroke-width="0.5"/>
<line x1="354.83" y1="899.30" x2="354.83" y2="900.60" stroke="#777" stroke-width="0.5"/>
<line x1="357.14" y1="899.30" x2="357.14" y2="900.60" stroke="#777" stroke-width="0.5"/>
<line x1="359.02" y1="899.30" x2="359.02" y2="900.60" stroke="#777" stroke-width="0.5"/>
<line x1="360.61" y1="899.30" x2="360.61" y2="900.60" stroke="#777" stroke-width="0.5"/>
<line x1="361.99" y1="899.30" x2="361.99" y2="900.60" stroke="#777" stroke-width="0.5"/>
<line x1="363.21" y1="899.30" x2="363.21" y2="900.60" stroke="#777" stroke-width="0.5"/>
<line x1="370.68" y1="899.30" x2="370.68" y2="900.60" stroke="#777" stroke-width="0.5"/>
<line x1="374.41" y1="899.30" x2="374.41" y2="900.60" stroke="#777" stroke-width="0.5"/>
<line x1="377.06" y1="899.30" x2="377.06" y2="900.60" stroke="#777" stroke-width="0.5"/>
<line x1="379.12" y1="899.30" x2="379.12" y2="900.60" stroke="#777" stroke-width="0.5"/>
<line x1="380.80" y1="899.30" x2="380.80" y2="900.60" stroke="#777" stroke-width="0.5"/>
<line x1="382.22" y1="899.30" x2="382.22" y2="900.60" stroke="#777" stroke-width="0.5"/>
<line x1="383.45" y1="899.30" x2="383.45" y2="900.60" stroke="#777" stroke-width="0.5"/>
<line x1="384.53" y1="899.30" x2="384.53" y2="900.60" stroke="#777" stroke-width="0.5"/>
<text x="290.55" y="825.80" font-size="7.2" fill="#111">10<tspan font-size="5.30" dy="-3.5">5</tspan></text>
<text x="290.55" y="846.40" font-size="7.2" fill="#111">10<tspan font-size="5.30" dy="-3.5">4</tspan></text>
<text x="290.55" y="868.80" font-size="7.2" fill="#111">10<tspan font-size="5.30" dy="-3.5">3</tspan></text>
<text x="301.50" y="882.50" font-size="7.2" text-anchor="end" font-weight="normal" fill="#111" >0</text>
<text x="286.34" y="896.20" font-size="7.2" fill="#111">−10<tspan font-size="5.30" dy="-3.5">3</tspan></text>
<text x="304.92" y="911.50" font-size="7.2" fill="#111">−10<tspan font-size="5.30" dy="-3.5">3</tspan></text>
<text x="327.00" y="911.50" font-size="7.2" text-anchor="middle" font-weight="normal" fill="#111" >0</text>
<text x="335.02" y="911.50" font-size="7.2" fill="#111">10<tspan font-size="5.30" dy="-3.5">3</tspan></text>
<text x="358.82" y="911.50" font-size="7.2" fill="#111">10<tspan font-size="5.30" dy="-3.5">4</tspan></text>
<text x="380.02" y="911.50" font-size="7.2" fill="#111">10<tspan font-size="5.30" dy="-3.5">5</tspan></text>
<rect x="305.90" y="878.50" width="2" height="3" fill="#111"/>
<rect x="325.00" y="898.70" width="4" height="1.8" fill="#111"/>
<text x="309.00" y="822.30" font-size="6.4" text-anchor="start" font-weight="bold" fill="#222" >0</text>
<text x="309.20" y="894.30" font-size="6.4" text-anchor="start" font-weight="bold" fill="#222" >0</text>
<text x="390.20" y="822.20" font-size="5.7" text-anchor="end" font-weight="bold" fill="#000" >92.3 %</text>
<text x="388.10" y="894.90" font-size="5.7" text-anchor="end" font-weight="bold" fill="#000" >7.7 %</text>
<text x="311.10" y="810.50" font-size="7.3" text-anchor="start" font-weight="normal" fill="#111" >+ SFLLRN</text>
<line x1="96.90" y1="45.80" x2="96.90" y2="434.00" stroke="#555" stroke-width="1.6"/>
<path d="M96.90 40.80 L100.30 48.60 L96.90 46.80 L93.50 48.60Z" fill="#111"/>
<line x1="40.20" y1="517.90" x2="40.20" y2="901.30" stroke="#555" stroke-width="1.6"/>
<path d="M40.20 512.90 L43.60 520.70 L40.20 518.90 L36.80 520.70Z" fill="#111"/>
<line x1="123.00" y1="160.70" x2="322.80" y2="160.70" stroke="#333" stroke-width="1.5"/>
<path d="M327.80 160.70 L320.40 157.20 L322.00 160.70 L320.40 164.20Z" fill="#111"/>
<line x1="124.00" y1="312.30" x2="324.20" y2="312.30" stroke="#333" stroke-width="1.5"/>
<path d="M329.20 312.30 L321.80 308.80 L323.40 312.30 L321.80 315.80Z" fill="#111"/>
<line x1="124.60" y1="467.00" x2="324.70" y2="467.00" stroke="#333" stroke-width="1.5"/>
<path d="M329.70 467.00 L322.30 463.50 L323.90 467.00 L322.30 470.50Z" fill="#111"/>
<line x1="67.00" y1="633.10" x2="387.30" y2="633.10" stroke="#333" stroke-width="1.5"/>
<path d="M392.30 633.10 L384.90 629.60 L386.50 633.10 L384.90 636.60Z" fill="#111"/>
<line x1="66.00" y1="781.90" x2="386.50" y2="781.90" stroke="#333" stroke-width="1.5"/>
<path d="M391.50 781.90 L384.10 778.40 L385.70 781.90 L384.10 785.40Z" fill="#111"/>
<line x1="66.30" y1="934.30" x2="386.50" y2="934.30" stroke="#333" stroke-width="1.5"/>
<path d="M391.50 934.30 L384.10 930.80 L385.70 934.30 L384.10 937.80Z" fill="#111"/>
<text x="225.80" y="153.70" font-size="10.2" text-anchor="middle" font-weight="bold" fill="#222" textLength="17.0" lengthAdjust="spacingAndGlyphs">CD45</text>
<text x="226.50" y="305.50" font-size="10.2" text-anchor="middle" font-weight="bold" fill="#222" textLength="16.0" lengthAdjust="spacingAndGlyphs">CD15</text>
<text x="227.40" y="460.50" font-size="10.2" text-anchor="middle" font-weight="bold" fill="#222" textLength="16.0" lengthAdjust="spacingAndGlyphs">CD14</text>
<text x="229.85" y="626.40" font-size="10.2" text-anchor="middle" font-weight="bold" fill="#222" textLength="16.30000000000001" lengthAdjust="spacingAndGlyphs">CD45</text>
<text x="229.25" y="775.50" font-size="10.2" text-anchor="middle" font-weight="bold" fill="#222" textLength="16.100000000000023" lengthAdjust="spacingAndGlyphs">CD15</text>
<text x="229.15" y="928.10" font-size="10.2" text-anchor="middle" font-weight="bold" fill="#222" textLength="15.699999999999989" lengthAdjust="spacingAndGlyphs">CD14</text>
<text x="90.00" y="237.50" font-size="10.2" text-anchor="middle" font-weight="bold" fill="#222" textLength="16" lengthAdjust="spacingAndGlyphs" transform="rotate(-90 90.00 237.50)">CD41</text>
<text x="34.00" y="708.00" font-size="10.2" text-anchor="middle" font-weight="bold" fill="#222" textLength="15" lengthAdjust="spacingAndGlyphs" transform="rotate(-90 34.00 708.00)">CD41</text>
<rect x="415.00" y="105.04" width="11.80" height="18.66" fill="#e98c7b"/>
<rect x="434.50" y="70.46" width="11.70" height="53.24" fill="#8e9ac6"/>
<line x1="420.90" y1="100.00" x2="420.90" y2="108.47" stroke="#b8102e" stroke-width="1.0"/>
<line x1="418.30" y1="100.00" x2="423.50" y2="100.00" stroke="#b8102e" stroke-width="1.0"/>
<line x1="418.30" y1="108.47" x2="423.50" y2="108.47" stroke="#b8102e" stroke-width="1.0"/>
<circle cx="420.90" cy="99.66" r="1.1" fill="#b8102e"/>
<circle cx="418.40" cy="103.55" r="1.1" fill="#b8102e"/>
<circle cx="423.40" cy="103.55" r="1.1" fill="#b8102e"/>
<circle cx="420.90" cy="108.01" r="1.1" fill="#b8102e"/>
<circle cx="420.40" cy="105.38" r="1.1" fill="#b8102e"/>
<line x1="440.35" y1="60.15" x2="440.35" y2="78.47" stroke="#2b3a70" stroke-width="1.0"/>
<line x1="437.75" y1="60.15" x2="442.95" y2="60.15" stroke="#2b3a70" stroke-width="1.0"/>
<line x1="437.75" y1="78.47" x2="442.95" y2="78.47" stroke="#2b3a70" stroke-width="1.0"/>
<circle cx="440.35" cy="60.73" r="1.1" fill="#2b3a70"/>
<circle cx="440.85" cy="67.59" r="1.1" fill="#2b3a70"/>
<circle cx="440.35" cy="73.32" r="1.1" fill="#2b3a70"/>
<circle cx="439.85" cy="77.33" r="1.1" fill="#2b3a70"/>
<line x1="408.00" y1="51.50" x2="408.00" y2="124.60" stroke="#111" stroke-width="1.8"/>
<line x1="403.00" y1="123.70" x2="454.00" y2="123.70" stroke="#111" stroke-width="1.8"/>
<line x1="403.00" y1="123.70" x2="408.00" y2="123.70" stroke="#222" stroke-width="1.3"/>
<text x="398.20" y="127.30" font-size="9.1" text-anchor="end" font-weight="normal" fill="#222" >0</text>
<line x1="403.00" y1="100.80" x2="408.00" y2="100.80" stroke="#222" stroke-width="1.3"/>
<text x="398.20" y="104.40" font-size="9.1" text-anchor="end" font-weight="normal" fill="#222" >20</text>
<line x1="403.00" y1="77.90" x2="408.00" y2="77.90" stroke="#222" stroke-width="1.3"/>
<text x="398.20" y="81.50" font-size="9.1" text-anchor="end" font-weight="normal" fill="#222" >40</text>
<line x1="403.00" y1="55.00" x2="408.00" y2="55.00" stroke="#222" stroke-width="1.3"/>
<text x="398.20" y="58.60" font-size="9.1" text-anchor="end" font-weight="normal" fill="#222" >60</text>
<line x1="420.90" y1="123.70" x2="420.90" y2="128.90" stroke="#222" stroke-width="1.1"/>
<line x1="440.35" y1="123.70" x2="440.35" y2="128.90" stroke="#222" stroke-width="1.1"/>
<text x="430.20" y="25.80" font-size="8.3" text-anchor="middle" font-weight="normal" fill="#111" >PLT-Leuk</text>
<text x="367.30" y="40.00" font-size="8.6" text-anchor="start" font-weight="normal" fill="#111" >+ SFLLRN</text>
<text x="366.50" y="87.40" font-size="11" text-anchor="middle" font-weight="bold" fill="#2a2a2a" textLength="55.5" lengthAdjust="spacingAndGlyphs" transform="rotate(-90 366.50 87.40)">Cell percentage</text>
<text x="380.30" y="88.00" font-size="11" text-anchor="middle" font-weight="bold" fill="#2a2a2a" textLength="52.4" lengthAdjust="spacingAndGlyphs" transform="rotate(-90 380.30 88.00)">CD41+/CD45+</text>
<line x1="420.40" y1="52.30" x2="441.20" y2="52.30" stroke="#222" stroke-width="1.0"/>
<text x="430.80" y="51.10" font-size="5.5" text-anchor="middle" font-weight="normal" fill="#111" >*</text>
<text x="420.50" y="136.80" font-size="8.3" text-anchor="end" fill="#222" transform="rotate(-45 420.50 136.80)">HC</text>
<text x="440.30" y="135.40" font-size="8.3" text-anchor="end" fill="#222" transform="rotate(-45 440.30 135.40)">VITT</text>
<rect x="415.00" y="261.40" width="11.80" height="13.00" fill="#e98c7b"/>
<rect x="434.50" y="230.01" width="11.70" height="44.39" fill="#8e9ac6"/>
<line x1="420.90" y1="258.53" x2="420.90" y2="263.32" stroke="#b8102e" stroke-width="1.0"/>
<line x1="418.30" y1="258.53" x2="423.50" y2="258.53" stroke="#b8102e" stroke-width="1.0"/>
<line x1="418.30" y1="263.32" x2="423.50" y2="263.32" stroke="#b8102e" stroke-width="1.0"/>
<circle cx="417.90" cy="259.01" r="1.1" fill="#b8102e"/>
<circle cx="420.90" cy="258.67" r="1.1" fill="#b8102e"/>
<circle cx="423.90" cy="259.01" r="1.1" fill="#b8102e"/>
<circle cx="420.90" cy="261.75" r="1.1" fill="#b8102e"/>
<circle cx="420.90" cy="262.77" r="1.1" fill="#b8102e"/>
<line x1="440.35" y1="218.52" x2="440.35" y2="239.99" stroke="#2b3a70" stroke-width="1.0"/>
<line x1="437.75" y1="218.52" x2="442.95" y2="218.52" stroke="#2b3a70" stroke-width="1.0"/>
<line x1="437.75" y1="239.99" x2="442.95" y2="239.99" stroke="#2b3a70" stroke-width="1.0"/>
<circle cx="440.35" cy="212.16" r="1.1" fill="#2b3a70"/>
<circle cx="440.35" cy="231.99" r="1.1" fill="#2b3a70"/>
<circle cx="441.85" cy="234.73" r="1.1" fill="#2b3a70"/>
<circle cx="439.35" cy="236.10" r="1.1" fill="#2b3a70"/>
<line x1="408.00" y1="202.50" x2="408.00" y2="275.30" stroke="#111" stroke-width="1.8"/>
<line x1="403.00" y1="274.40" x2="454.00" y2="274.40" stroke="#111" stroke-width="1.8"/>
<line x1="403.00" y1="274.40" x2="408.00" y2="274.40" stroke="#222" stroke-width="1.3"/>
<text x="398.20" y="278.00" font-size="9.1" text-anchor="end" font-weight="normal" fill="#222" >0</text>
<line x1="403.00" y1="260.72" x2="408.00" y2="260.72" stroke="#222" stroke-width="1.3"/>
<text x="398.20" y="264.32" font-size="9.1" text-anchor="end" font-weight="normal" fill="#222" >20</text>
<line x1="403.00" y1="247.04" x2="408.00" y2="247.04" stroke="#222" stroke-width="1.3"/>
<text x="398.20" y="250.64" font-size="9.1" text-anchor="end" font-weight="normal" fill="#222" >40</text>
<line x1="403.00" y1="233.36" x2="408.00" y2="233.36" stroke="#222" stroke-width="1.3"/>
<text x="398.20" y="236.96" font-size="9.1" text-anchor="end" font-weight="normal" fill="#222" >60</text>
<line x1="403.00" y1="219.68" x2="408.00" y2="219.68" stroke="#222" stroke-width="1.3"/>
<text x="398.20" y="223.28" font-size="9.1" text-anchor="end" font-weight="normal" fill="#222" >80</text>
<line x1="403.00" y1="206.00" x2="408.00" y2="206.00" stroke="#222" stroke-width="1.3"/>
<text x="398.20" y="209.60" font-size="9.1" text-anchor="end" font-weight="normal" fill="#222" >100</text>
<line x1="420.90" y1="274.40" x2="420.90" y2="279.60" stroke="#222" stroke-width="1.1"/>
<line x1="440.35" y1="274.40" x2="440.35" y2="279.60" stroke="#222" stroke-width="1.1"/>
<text x="430.70" y="180.00" font-size="8.3" text-anchor="middle" font-weight="normal" fill="#111" >PLT-Neut</text>
<text x="368.00" y="193.20" font-size="8.6" text-anchor="start" font-weight="normal" fill="#111" >+ SFLLRN</text>
<text x="361.50" y="240.40" font-size="11" text-anchor="middle" font-weight="bold" fill="#2a2a2a" textLength="55" lengthAdjust="spacingAndGlyphs" transform="rotate(-90 361.50 240.40)">Cell percentage</text>
<text x="375.30" y="241.00" font-size="11" text-anchor="middle" font-weight="bold" fill="#2a2a2a" textLength="52.4" lengthAdjust="spacingAndGlyphs" transform="rotate(-90 375.30 241.00)">CD41+/CD15+</text>
<line x1="420.40" y1="205.20" x2="441.20" y2="205.20" stroke="#222" stroke-width="1.0"/>
<text x="430.80" y="204.00" font-size="5.5" text-anchor="middle" font-weight="normal" fill="#111" >*</text>
<text x="420.50" y="287.50" font-size="8.3" text-anchor="end" fill="#222" transform="rotate(-45 420.50 287.50)">HC</text>
<text x="440.30" y="286.10" font-size="8.3" text-anchor="end" fill="#222" transform="rotate(-45 440.30 286.10)">VITT</text>
<rect x="415.00" y="389.16" width="11.80" height="42.84" fill="#e98c7b"/>
<rect x="434.50" y="367.06" width="11.70" height="64.94" fill="#8e9ac6"/>
<line x1="420.90" y1="383.72" x2="420.90" y2="389.84" stroke="#b8102e" stroke-width="1.0"/>
<line x1="418.30" y1="383.72" x2="423.50" y2="383.72" stroke="#b8102e" stroke-width="1.0"/>
<line x1="418.30" y1="389.84" x2="423.50" y2="389.84" stroke="#b8102e" stroke-width="1.0"/>
<circle cx="420.90" cy="381.68" r="1.1" fill="#b8102e"/>
<circle cx="417.90" cy="389.50" r="1.1" fill="#b8102e"/>
<circle cx="420.90" cy="389.84" r="1.1" fill="#b8102e"/>
<circle cx="423.90" cy="389.50" r="1.1" fill="#b8102e"/>
<line x1="440.35" y1="366.04" x2="440.35" y2="368.08" stroke="#2b3a70" stroke-width="1.0"/>
<line x1="437.75" y1="366.04" x2="442.95" y2="366.04" stroke="#2b3a70" stroke-width="1.0"/>
<line x1="437.75" y1="368.08" x2="442.95" y2="368.08" stroke="#2b3a70" stroke-width="1.0"/>
<circle cx="437.35" cy="366.72" r="1.1" fill="#2b3a70"/>
<circle cx="440.35" cy="367.40" r="1.1" fill="#2b3a70"/>
<circle cx="443.35" cy="366.38" r="1.1" fill="#2b3a70"/>
<line x1="408.00" y1="360.50" x2="408.00" y2="432.90" stroke="#111" stroke-width="1.8"/>
<line x1="403.00" y1="432.00" x2="454.00" y2="432.00" stroke="#111" stroke-width="1.8"/>
<line x1="403.00" y1="432.00" x2="408.00" y2="432.00" stroke="#222" stroke-width="1.3"/>
<text x="398.20" y="435.60" font-size="9.1" text-anchor="end" font-weight="normal" fill="#222" >0</text>
<line x1="403.00" y1="418.40" x2="408.00" y2="418.40" stroke="#222" stroke-width="1.3"/>
<text x="398.20" y="422.00" font-size="9.1" text-anchor="end" font-weight="normal" fill="#222" >20</text>
<line x1="403.00" y1="404.80" x2="408.00" y2="404.80" stroke="#222" stroke-width="1.3"/>
<text x="398.20" y="408.40" font-size="9.1" text-anchor="end" font-weight="normal" fill="#222" >40</text>
<line x1="403.00" y1="391.20" x2="408.00" y2="391.20" stroke="#222" stroke-width="1.3"/>
<text x="398.20" y="394.80" font-size="9.1" text-anchor="end" font-weight="normal" fill="#222" >60</text>
<line x1="403.00" y1="377.60" x2="408.00" y2="377.60" stroke="#222" stroke-width="1.3"/>
<text x="398.20" y="381.20" font-size="9.1" text-anchor="end" font-weight="normal" fill="#222" >80</text>
<line x1="403.00" y1="364.00" x2="408.00" y2="364.00" stroke="#222" stroke-width="1.3"/>
<text x="398.20" y="367.60" font-size="9.1" text-anchor="end" font-weight="normal" fill="#222" >100</text>
<line x1="420.90" y1="432.00" x2="420.90" y2="437.20" stroke="#222" stroke-width="1.1"/>
<line x1="440.35" y1="432.00" x2="440.35" y2="437.20" stroke="#222" stroke-width="1.1"/>
<text x="430.80" y="331.40" font-size="8.3" text-anchor="middle" font-weight="normal" fill="#111" >PLT-Mono</text>
<text x="367.20" y="345.40" font-size="8.6" text-anchor="start" font-weight="normal" fill="#111" >+ SFLLRN</text>
<text x="361.50" y="398.40" font-size="11" text-anchor="middle" font-weight="bold" fill="#2a2a2a" textLength="55" lengthAdjust="spacingAndGlyphs" transform="rotate(-90 361.50 398.40)">Cell percentage</text>
<text x="375.70" y="398.60" font-size="11" text-anchor="middle" font-weight="bold" fill="#2a2a2a" textLength="48.8" lengthAdjust="spacingAndGlyphs" transform="rotate(-90 375.70 398.60)">CD41+/CD14</text>
<line x1="420.10" y1="357.00" x2="441.30" y2="357.00" stroke="#222" stroke-width="1.0"/>
<text x="430.70" y="355.80" font-size="5.5" text-anchor="middle" font-weight="normal" fill="#111" >*</text>
<text x="420.40" y="445.10" font-size="8.3" text-anchor="end" fill="#222" transform="rotate(-45 420.40 445.10)">HC</text>
<text x="440.30" y="443.70" font-size="8.3" text-anchor="end" fill="#222" transform="rotate(-45 440.30 443.70)">VITT</text>
<rect x="475.20" y="543.30" width="6.60" height="42.30" fill="#f8c28a"/>
<rect x="487.30" y="544.20" width="6.60" height="41.40" fill="#a1d08c"/>
<rect x="499.40" y="558.10" width="6.50" height="27.50" fill="#a8d0f0"/>
<line x1="478.50" y1="533.40" x2="478.50" y2="550.50" stroke="#2a2a2a" stroke-width="1.0"/>
<line x1="475.90" y1="533.40" x2="481.10" y2="533.40" stroke="#2a2a2a" stroke-width="1.0"/>
<line x1="475.90" y1="550.50" x2="481.10" y2="550.50" stroke="#2a2a2a" stroke-width="1.0"/>
<circle cx="478.50" cy="529.70" r="1.1" fill="#f08a24"/>
<circle cx="478.50" cy="545.60" r="1.1" fill="#f08a24"/>
<circle cx="479.50" cy="548.60" r="1.1" fill="#f08a24"/>
<line x1="490.60" y1="533.40" x2="490.60" y2="552.40" stroke="#2a2a2a" stroke-width="1.0"/>
<line x1="488.00" y1="533.40" x2="493.20" y2="533.40" stroke="#2a2a2a" stroke-width="1.0"/>
<line x1="488.00" y1="552.40" x2="493.20" y2="552.40" stroke="#2a2a2a" stroke-width="1.0"/>
<circle cx="490.60" cy="529.70" r="1.1" fill="#3d8b37"/>
<circle cx="490.60" cy="543.60" r="1.1" fill="#3d8b37"/>
<circle cx="491.60" cy="544.60" r="1.1" fill="#3d8b37"/>
<circle cx="489.60" cy="545.60" r="1.1" fill="#3d8b37"/>
<circle cx="500.15" cy="558.10" r="1.1" fill="#3b82c4"/>
<circle cx="501.85" cy="557.80" r="1.1" fill="#3b82c4"/>
<circle cx="503.45" cy="558.30" r="1.1" fill="#3b82c4"/>
<circle cx="505.15" cy="558.10" r="1.1" fill="#3b82c4"/>
<line x1="470.80" y1="522.10" x2="470.80" y2="586.50" stroke="#111" stroke-width="1.8"/>
<line x1="466.30" y1="585.60" x2="510.60" y2="585.60" stroke="#111" stroke-width="1.8"/>
<line x1="465.80" y1="585.60" x2="470.80" y2="585.60" stroke="#222" stroke-width="1.3"/>
<text x="461.00" y="589.20" font-size="9.1" text-anchor="end" font-weight="normal" fill="#222" >0</text>
<line x1="465.80" y1="565.60" x2="470.80" y2="565.60" stroke="#222" stroke-width="1.3"/>
<text x="461.00" y="569.20" font-size="9.1" text-anchor="end" font-weight="normal" fill="#222" >20</text>
<line x1="465.80" y1="545.60" x2="470.80" y2="545.60" stroke="#222" stroke-width="1.3"/>
<text x="461.00" y="549.20" font-size="9.1" text-anchor="end" font-weight="normal" fill="#222" >40</text>
<line x1="465.80" y1="525.60" x2="470.80" y2="525.60" stroke="#222" stroke-width="1.3"/>
<text x="461.00" y="529.20" font-size="9.1" text-anchor="end" font-weight="normal" fill="#222" >60</text>
<line x1="478.50" y1="585.60" x2="478.50" y2="590.80" stroke="#222" stroke-width="1.1"/>
<line x1="490.60" y1="585.60" x2="490.60" y2="590.80" stroke="#222" stroke-width="1.1"/>
<line x1="502.65" y1="585.60" x2="502.65" y2="590.80" stroke="#222" stroke-width="1.1"/>
<text x="490.30" y="497.00" font-size="8.3" text-anchor="middle" font-weight="normal" fill="#111" >PLT-Leuk</text>
<text x="430.40" y="517.00" font-size="8.6" text-anchor="start" font-weight="normal" fill="#111" >+ SFLLRN</text>
<text x="428.90" y="556.20" font-size="11" text-anchor="middle" font-weight="bold" fill="#2a2a2a" textLength="55" lengthAdjust="spacingAndGlyphs" transform="rotate(-90 428.90 556.20)">Cell percentage</text>
<text x="442.70" y="556.00" font-size="11" text-anchor="middle" font-weight="bold" fill="#2a2a2a" textLength="54" lengthAdjust="spacingAndGlyphs" transform="rotate(-90 442.70 556.00)">CD41+/CD45+</text>
<line x1="478.50" y1="509.20" x2="503.10" y2="509.20" stroke="#222" stroke-width="1.0"/>
<text x="490.80" y="508.00" font-size="5.5" text-anchor="middle" font-weight="normal" fill="#111" >*</text>
<line x1="479.00" y1="522.20" x2="491.50" y2="522.20" stroke="#222" stroke-width="1.0"/>
<text x="485.25" y="520.60" font-size="6.3" text-anchor="middle" font-weight="normal" fill="#333" font-style="italic">ns</text>
<text x="477.90" y="597.30" font-size="8.2" text-anchor="end" fill="#222" transform="rotate(-45 477.90 597.30)">Vehicle</text>
<text x="490.20" y="596.50" font-size="8.2" text-anchor="end" fill="#222" transform="rotate(-45 490.20 596.50)">R406</text>
<text x="502.60" y="597.30" font-size="8.2" text-anchor="end" fill="#222" transform="rotate(-45 502.60 597.30)">Lanraplenib</text>
<rect x="475.20" y="707.38" width="6.60" height="36.12" fill="#f8c28a"/>
<rect x="487.30" y="708.58" width="6.60" height="34.92" fill="#a1d08c"/>
<rect x="499.40" y="727.55" width="6.50" height="15.95" fill="#a8d0f0"/>
<line x1="478.50" y1="693.41" x2="478.50" y2="719.78" stroke="#2a2a2a" stroke-width="1.0"/>
<line x1="475.90" y1="693.41" x2="481.10" y2="693.41" stroke="#2a2a2a" stroke-width="1.0"/>
<line x1="475.90" y1="719.78" x2="481.10" y2="719.78" stroke="#2a2a2a" stroke-width="1.0"/>
<circle cx="478.50" cy="689.50" r="1.1" fill="#f08a24"/>
<circle cx="478.50" cy="707.38" r="1.1" fill="#f08a24"/>
<circle cx="479.50" cy="718.22" r="1.1" fill="#f08a24"/>
<line x1="490.60" y1="693.41" x2="490.60" y2="722.43" stroke="#2a2a2a" stroke-width="1.0"/>
<line x1="488.00" y1="693.41" x2="493.20" y2="693.41" stroke="#2a2a2a" stroke-width="1.0"/>
<line x1="488.00" y1="722.43" x2="493.20" y2="722.43" stroke="#2a2a2a" stroke-width="1.0"/>
<circle cx="490.60" cy="687.81" r="1.1" fill="#3d8b37"/>
<circle cx="489.10" cy="708.58" r="1.1" fill="#3d8b37"/>
<circle cx="492.10" cy="708.58" r="1.1" fill="#3d8b37"/>
<circle cx="490.60" cy="719.42" r="1.1" fill="#3d8b37"/>
<line x1="502.65" y1="721.11" x2="502.65" y2="728.69" stroke="#24467a" stroke-width="1.0"/>
<line x1="500.05" y1="721.11" x2="505.25" y2="721.11" stroke="#24467a" stroke-width="1.0"/>
<line x1="500.05" y1="728.69" x2="505.25" y2="728.69" stroke="#24467a" stroke-width="1.0"/>
<circle cx="500.15" cy="726.64" r="1.1" fill="#3b82c4"/>
<circle cx="502.65" cy="726.64" r="1.1" fill="#3b82c4"/>
<circle cx="505.15" cy="726.64" r="1.1" fill="#3b82c4"/>
<circle cx="502.65" cy="722.79" r="1.1" fill="#3b82c4"/>
<line x1="470.80" y1="679.80" x2="470.80" y2="744.40" stroke="#111" stroke-width="1.8"/>
<line x1="466.30" y1="743.50" x2="510.60" y2="743.50" stroke="#111" stroke-width="1.8"/>
<line x1="465.80" y1="743.50" x2="470.80" y2="743.50" stroke="#222" stroke-width="1.3"/>
<text x="461.00" y="747.10" font-size="9.1" text-anchor="end" font-weight="normal" fill="#222" >0</text>
<line x1="465.80" y1="731.46" x2="470.80" y2="731.46" stroke="#222" stroke-width="1.3"/>
<text x="461.00" y="735.06" font-size="9.1" text-anchor="end" font-weight="normal" fill="#222" >20</text>
<line x1="465.80" y1="719.42" x2="470.80" y2="719.42" stroke="#222" stroke-width="1.3"/>
<text x="461.00" y="723.02" font-size="9.1" text-anchor="end" font-weight="normal" fill="#222" >40</text>
<line x1="465.80" y1="707.38" x2="470.80" y2="707.38" stroke="#222" stroke-width="1.3"/>
<text x="461.00" y="710.98" font-size="9.1" text-anchor="end" font-weight="normal" fill="#222" >60</text>
<line x1="465.80" y1="695.34" x2="470.80" y2="695.34" stroke="#222" stroke-width="1.3"/>
<text x="461.00" y="698.94" font-size="9.1" text-anchor="end" font-weight="normal" fill="#222" >80</text>
<line x1="465.80" y1="683.30" x2="470.80" y2="683.30" stroke="#222" stroke-width="1.3"/>
<text x="461.00" y="686.90" font-size="9.1" text-anchor="end" font-weight="normal" fill="#222" >100</text>
<line x1="478.50" y1="743.50" x2="478.50" y2="748.70" stroke="#222" stroke-width="1.1"/>
<line x1="490.60" y1="743.50" x2="490.60" y2="748.70" stroke="#222" stroke-width="1.1"/>
<line x1="502.65" y1="743.50" x2="502.65" y2="748.70" stroke="#222" stroke-width="1.1"/>
<text x="490.50" y="655.80" font-size="8.3" text-anchor="middle" font-weight="normal" fill="#111" >PLT-Neut</text>
<text x="430.40" y="674.60" font-size="8.6" text-anchor="start" font-weight="normal" fill="#111" >+ SFLLRN</text>
<text x="423.90" y="713.80" font-size="11" text-anchor="middle" font-weight="bold" fill="#2a2a2a" textLength="54.5" lengthAdjust="spacingAndGlyphs" transform="rotate(-90 423.90 713.80)">Cell percentage</text>
<text x="437.70" y="714.40" font-size="11" text-anchor="middle" font-weight="bold" fill="#2a2a2a" textLength="52" lengthAdjust="spacingAndGlyphs" transform="rotate(-90 437.70 714.40)">CD41+/CD15+</text>
<line x1="478.50" y1="667.30" x2="503.10" y2="667.30" stroke="#222" stroke-width="1.0"/>
<text x="490.80" y="666.10" font-size="5.5" text-anchor="middle" font-weight="normal" fill="#111" >*</text>
<line x1="479.00" y1="680.40" x2="491.50" y2="680.40" stroke="#222" stroke-width="1.0"/>
<text x="485.25" y="678.80" font-size="6.3" text-anchor="middle" font-weight="normal" fill="#333" font-style="italic">ns</text>
<text x="477.90" y="755.00" font-size="8.2" text-anchor="end" fill="#222" transform="rotate(-45 477.90 755.00)">Vehicle</text>
<text x="490.20" y="754.20" font-size="8.2" text-anchor="end" fill="#222" transform="rotate(-45 490.20 754.20)">R406</text>
<text x="502.60" y="755.00" font-size="8.2" text-anchor="end" fill="#222" transform="rotate(-45 502.60 755.00)">Lanraplenib</text>
<rect x="475.20" y="841.21" width="6.60" height="57.79" fill="#f8c28a"/>
<rect x="487.30" y="841.99" width="6.60" height="57.01" fill="#a1d08c"/>
<rect x="499.40" y="846.51" width="6.50" height="52.49" fill="#a8d0f0"/>
<line x1="478.50" y1="840.61" x2="478.50" y2="842.71" stroke="#a0601a" stroke-width="1.0"/>
<line x1="475.90" y1="840.61" x2="481.10" y2="840.61" stroke="#a0601a" stroke-width="1.0"/>
<line x1="475.90" y1="842.71" x2="481.10" y2="842.71" stroke="#a0601a" stroke-width="1.0"/>
<circle cx="477.00" cy="841.81" r="1.1" fill="#f08a24"/>
<circle cx="480.00" cy="841.21" r="1.1" fill="#f08a24"/>
<circle cx="478.50" cy="842.41" r="1.1" fill="#f08a24"/>
<line x1="490.60" y1="838.92" x2="490.60" y2="844.82" stroke="#2a6a2a" stroke-width="1.0"/>
<line x1="488.00" y1="838.92" x2="493.20" y2="838.92" stroke="#2a6a2a" stroke-width="1.0"/>
<line x1="488.00" y1="844.82" x2="493.20" y2="844.82" stroke="#2a6a2a" stroke-width="1.0"/>
<circle cx="490.60" cy="843.01" r="1.1" fill="#3d8b37"/>
<circle cx="490.60" cy="841.21" r="1.1" fill="#3d8b37"/>
<line x1="502.65" y1="840.61" x2="502.65" y2="850.30" stroke="#24467a" stroke-width="1.0"/>
<line x1="500.05" y1="840.61" x2="505.25" y2="840.61" stroke="#24467a" stroke-width="1.0"/>
<line x1="500.05" y1="850.30" x2="505.25" y2="850.30" stroke="#24467a" stroke-width="1.0"/>
<circle cx="502.65" cy="844.82" r="1.1" fill="#3b82c4"/>
<circle cx="502.65" cy="848.43" r="1.1" fill="#3b82c4"/>
<circle cx="501.65" cy="846.63" r="1.1" fill="#3b82c4"/>
<line x1="470.80" y1="835.30" x2="470.80" y2="899.90" stroke="#111" stroke-width="1.8"/>
<line x1="466.30" y1="899.00" x2="510.60" y2="899.00" stroke="#111" stroke-width="1.8"/>
<line x1="465.80" y1="899.00" x2="470.80" y2="899.00" stroke="#222" stroke-width="1.3"/>
<text x="461.00" y="902.60" font-size="9.1" text-anchor="end" font-weight="normal" fill="#222" >0</text>
<line x1="465.80" y1="886.96" x2="470.80" y2="886.96" stroke="#222" stroke-width="1.3"/>
<text x="461.00" y="890.56" font-size="9.1" text-anchor="end" font-weight="normal" fill="#222" >20</text>
<line x1="465.80" y1="874.92" x2="470.80" y2="874.92" stroke="#222" stroke-width="1.3"/>
<text x="461.00" y="878.52" font-size="9.1" text-anchor="end" font-weight="normal" fill="#222" >40</text>
<line x1="465.80" y1="862.88" x2="470.80" y2="862.88" stroke="#222" stroke-width="1.3"/>
<text x="461.00" y="866.48" font-size="9.1" text-anchor="end" font-weight="normal" fill="#222" >60</text>
<line x1="465.80" y1="850.84" x2="470.80" y2="850.84" stroke="#222" stroke-width="1.3"/>
<text x="461.00" y="854.44" font-size="9.1" text-anchor="end" font-weight="normal" fill="#222" >80</text>
<line x1="465.80" y1="838.80" x2="470.80" y2="838.80" stroke="#222" stroke-width="1.3"/>
<text x="461.00" y="842.40" font-size="9.1" text-anchor="end" font-weight="normal" fill="#222" >100</text>
<line x1="478.50" y1="899.00" x2="478.50" y2="904.20" stroke="#222" stroke-width="1.1"/>
<line x1="490.60" y1="899.00" x2="490.60" y2="904.20" stroke="#222" stroke-width="1.1"/>
<line x1="502.65" y1="899.00" x2="502.65" y2="904.20" stroke="#222" stroke-width="1.1"/>
<text x="490.50" y="805.00" font-size="8.3" text-anchor="middle" font-weight="normal" fill="#111" >PLT-Mono</text>
<text x="430.40" y="829.00" font-size="8.6" text-anchor="start" font-weight="normal" fill="#111" >+ SFLLRN</text>
<text x="428.90" y="870.40" font-size="11" text-anchor="middle" font-weight="bold" fill="#2a2a2a" textLength="55" lengthAdjust="spacingAndGlyphs" transform="rotate(-90 428.90 870.40)">Cell percentage</text>
<text x="442.70" y="870.50" font-size="11" text-anchor="middle" font-weight="bold" fill="#2a2a2a" textLength="53.5" lengthAdjust="spacingAndGlyphs" transform="rotate(-90 442.70 870.50)">CD41+/CD14+</text>
<line x1="478.20" y1="818.80" x2="503.00" y2="818.80" stroke="#222" stroke-width="1.0"/>
<text x="490.60" y="817.20" font-size="6.3" text-anchor="middle" font-weight="normal" fill="#333" font-style="italic">ns</text>
<line x1="478.00" y1="831.50" x2="490.80" y2="831.50" stroke="#222" stroke-width="1.0"/>
<text x="484.40" y="829.90" font-size="6.3" text-anchor="middle" font-weight="normal" fill="#333" font-style="italic">ns</text>
<text x="477.90" y="910.50" font-size="8.2" text-anchor="end" fill="#222" transform="rotate(-45 477.90 910.50)">Vehicle</text>
<text x="490.20" y="909.70" font-size="8.2" text-anchor="end" fill="#222" transform="rotate(-45 490.20 909.70)">R406</text>
<text x="502.60" y="910.50" font-size="8.2" text-anchor="end" fill="#222" transform="rotate(-45 502.60 910.50)">Lanraplenib</text>
<rect x="0.5" y="0.5" width="519" height="952" fill="none" stroke="#363636" stroke-width="1.1"/>
</svg></body></html>
